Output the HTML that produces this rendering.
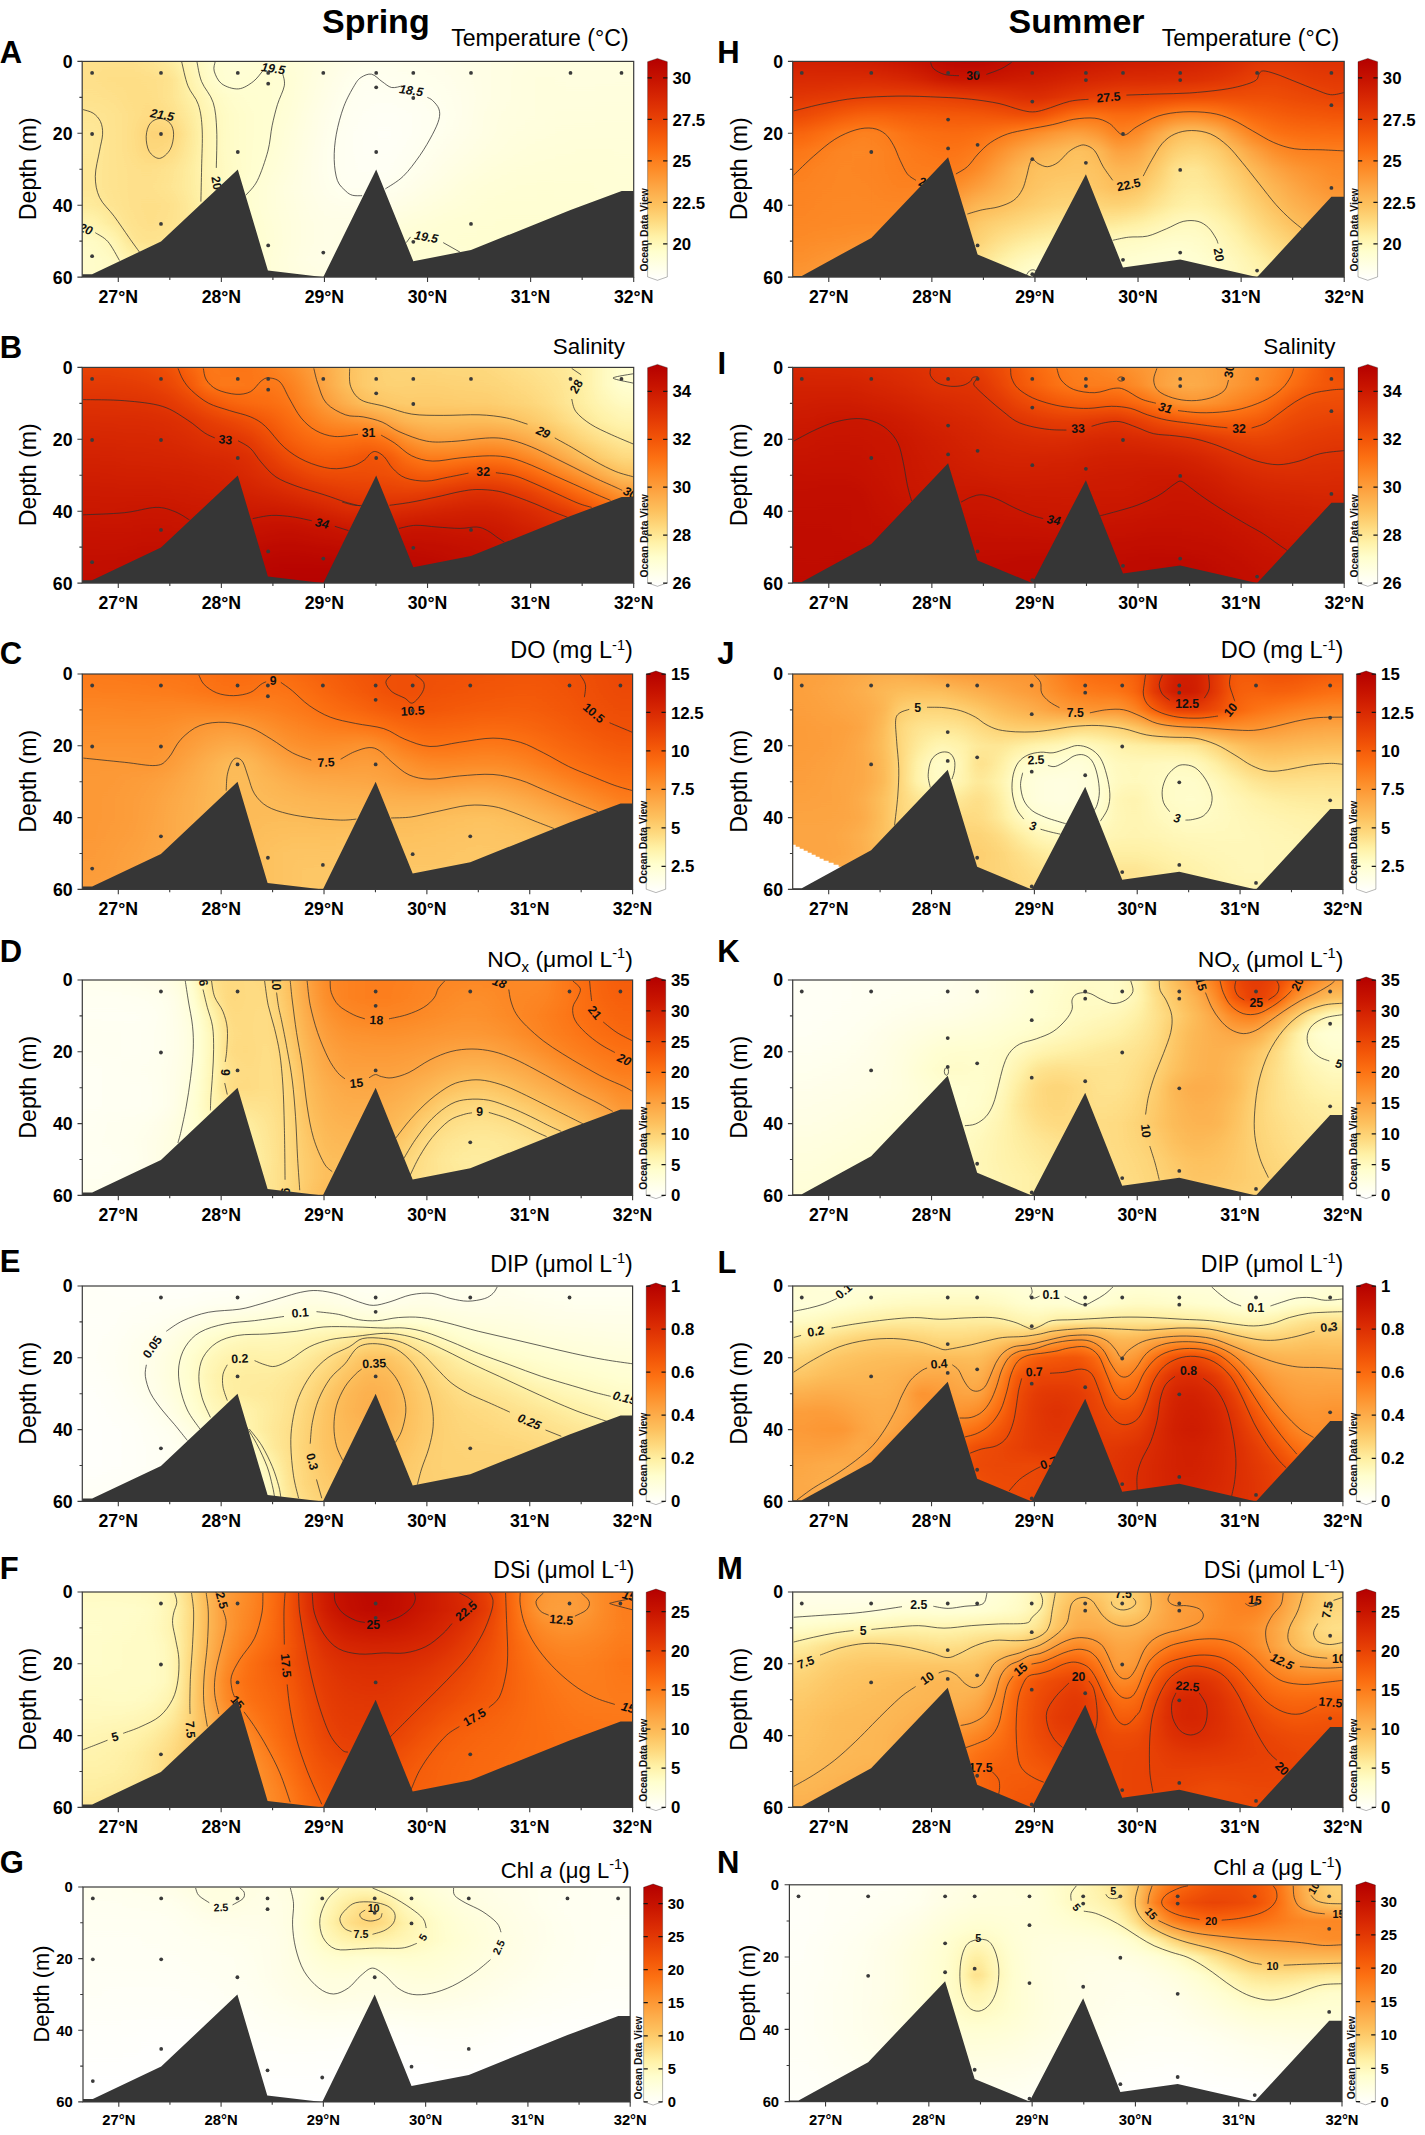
<!DOCTYPE html>
<html><head><meta charset="utf-8"><title>Spring / Summer sections</title>
<style>html,body{margin:0;padding:0;background:#fff}svg{display:block}</style></head>
<body>
<svg width="1425" height="2135" viewBox="0 0 1425 2135">
<defs>
<clipPath id="clipP"><rect x="0" y="0" width="551.5" height="215.7"/></clipPath>
<filter id="fld" x="-5%" y="-5%" width="110%" height="110%" color-interpolation-filters="sRGB">
<feGaussianBlur stdDeviation="8 0.01"/>
<feComponentTransfer><feFuncR type="table" tableValues="1.000 1.000 1.000 1.000 1.000 1.000 1.000 1.000 1.000 0.999 0.997 0.996 0.994 0.993 0.992 0.992 0.992 0.992 0.992 0.992 0.992 0.991 0.990 0.988 0.979 0.968 0.957 0.943 0.927 0.912 0.895 0.878 0.861 0.843 0.824 0.804 0.784 0.765 0.745 0.725 0.706"/><feFuncG type="table" tableValues="1.000 1.000 1.000 0.999 0.998 0.996 0.982 0.963 0.945 0.911 0.878 0.844 0.811 0.777 0.744 0.712 0.680 0.647 0.614 0.582 0.549 0.515 0.480 0.446 0.414 0.382 0.350 0.320 0.290 0.261 0.232 0.205 0.178 0.152 0.127 0.103 0.078 0.059 0.039 0.020 0.000"/><feFuncB type="table" tableValues="1.000 0.962 0.925 0.887 0.849 0.811 0.760 0.706 0.651 0.595 0.539 0.485 0.440 0.396 0.356 0.325 0.295 0.261 0.227 0.192 0.157 0.130 0.103 0.076 0.061 0.049 0.036 0.029 0.025 0.022 0.019 0.016 0.014 0.011 0.007 0.004 0.000 0.000 0.000 0.000 0.000"/></feComponentTransfer>
</filter>
<linearGradient id="cbg" x1="0" y1="0" x2="0" y2="1"><stop offset="0.000" stop-color="#b40000"/><stop offset="0.100" stop-color="#c81400"/><stop offset="0.180" stop-color="#d82803"/><stop offset="0.260" stop-color="#e63e05"/><stop offset="0.340" stop-color="#f35608"/><stop offset="0.420" stop-color="#fc7012"/><stop offset="0.500" stop-color="#fd8c28"/><stop offset="0.590" stop-color="#fdaa48"/><stop offset="0.660" stop-color="#fdc15e"/><stop offset="0.730" stop-color="#fed97e"/><stop offset="0.800" stop-color="#fff1a6"/><stop offset="0.870" stop-color="#fffecd"/><stop offset="0.940" stop-color="#ffffe8"/><stop offset="1.000" stop-color="#ffffff"/></linearGradient>
<linearGradient id="gA0" x1="0" y1="0" x2="0" y2="1"><stop offset="0" stop-color="#3f3f3f"/><stop offset=".083" stop-color="#3f3f3f"/><stop offset=".167" stop-color="#3e3e3e"/><stop offset=".25" stop-color="#3b3b3b"/><stop offset=".333" stop-color="#393939"/><stop offset=".417" stop-color="#393939"/><stop offset=".5" stop-color="#3a3a3a"/><stop offset=".583" stop-color="#3a3a3a"/><stop offset=".667" stop-color="#373737"/><stop offset=".75" stop-color="#2e2e2e"/><stop offset=".833" stop-color="#242424"/><stop offset=".917" stop-color="#222222"/><stop offset="1" stop-color="#222222"/></linearGradient>
<linearGradient id="gA1" x1="0" y1="0" x2="0" y2="1"><stop offset="0" stop-color="#3f3f3f"/><stop offset=".083" stop-color="#3f3f3f"/><stop offset=".167" stop-color="#3e3e3e"/><stop offset=".25" stop-color="#3b3b3b"/><stop offset=".333" stop-color="#393939"/><stop offset=".417" stop-color="#393939"/><stop offset=".5" stop-color="#3a3a3a"/><stop offset=".583" stop-color="#3a3a3a"/><stop offset=".667" stop-color="#373737"/><stop offset=".75" stop-color="#2e2e2e"/><stop offset=".833" stop-color="#242424"/><stop offset=".917" stop-color="#222222"/><stop offset="1" stop-color="#222222"/></linearGradient>
<linearGradient id="gA2" x1="0" y1="0" x2="0" y2="1"><stop offset="0" stop-color="#3f3f3f"/><stop offset=".083" stop-color="#3f3f3f"/><stop offset=".167" stop-color="#3e3e3e"/><stop offset=".25" stop-color="#3b3b3b"/><stop offset=".333" stop-color="#393939"/><stop offset=".417" stop-color="#393939"/><stop offset=".5" stop-color="#3a3a3a"/><stop offset=".583" stop-color="#3a3a3a"/><stop offset=".667" stop-color="#373737"/><stop offset=".75" stop-color="#2e2e2e"/><stop offset=".833" stop-color="#242424"/><stop offset=".917" stop-color="#222222"/><stop offset="1" stop-color="#222222"/></linearGradient>
<linearGradient id="gA3" x1="0" y1="0" x2="0" y2="1"><stop offset="0" stop-color="#3f3f3f"/><stop offset=".083" stop-color="#414141"/><stop offset=".167" stop-color="#3f3f3f"/><stop offset=".25" stop-color="#3d3d3d"/><stop offset=".333" stop-color="#3d3d3d"/><stop offset=".417" stop-color="#3d3d3d"/><stop offset=".5" stop-color="#3d3d3d"/><stop offset=".583" stop-color="#3d3d3d"/><stop offset=".667" stop-color="#3c3c3c"/><stop offset=".75" stop-color="#373737"/><stop offset=".833" stop-color="#2b2b2b"/><stop offset=".917" stop-color="#252525"/><stop offset="1" stop-color="#242424"/></linearGradient>
<linearGradient id="gA4" x1="0" y1="0" x2="0" y2="1"><stop offset="0" stop-color="#3f3f3f"/><stop offset=".083" stop-color="#414141"/><stop offset=".167" stop-color="#414141"/><stop offset=".25" stop-color="#404040"/><stop offset=".333" stop-color="#404040"/><stop offset=".417" stop-color="#404040"/><stop offset=".5" stop-color="#3f3f3f"/><stop offset=".583" stop-color="#3f3f3f"/><stop offset=".667" stop-color="#3f3f3f"/><stop offset=".75" stop-color="#3e3e3e"/><stop offset=".833" stop-color="#3b3b3b"/><stop offset=".917" stop-color="#303030"/><stop offset="1" stop-color="#292929"/></linearGradient>
<linearGradient id="gA5" x1="0" y1="0" x2="0" y2="1"><stop offset="0" stop-color="#3c3c3c"/><stop offset=".083" stop-color="#404040"/><stop offset=".167" stop-color="#414141"/><stop offset=".25" stop-color="#434343"/><stop offset=".333" stop-color="#494949"/><stop offset=".417" stop-color="#464646"/><stop offset=".5" stop-color="#404040"/><stop offset=".583" stop-color="#3f3f3f"/><stop offset=".667" stop-color="#404040"/><stop offset=".75" stop-color="#404040"/><stop offset=".833" stop-color="#3e3e3e"/><stop offset=".917" stop-color="#363636"/><stop offset="1" stop-color="#2c2c2c"/></linearGradient>
<linearGradient id="gA6" x1="0" y1="0" x2="0" y2="1"><stop offset="0" stop-color="#363636"/><stop offset=".083" stop-color="#3e3e3e"/><stop offset=".167" stop-color="#3d3d3d"/><stop offset=".25" stop-color="#404040"/><stop offset=".333" stop-color="#484848"/><stop offset=".417" stop-color="#434343"/><stop offset=".5" stop-color="#3d3d3d"/><stop offset=".583" stop-color="#3c3c3c"/><stop offset=".667" stop-color="#3f3f3f"/><stop offset=".75" stop-color="#3e3e3e"/><stop offset=".833" stop-color="#3b3b3b"/><stop offset=".917" stop-color="#343434"/><stop offset="1" stop-color="#2c2c2c"/></linearGradient>
<linearGradient id="gA7" x1="0" y1="0" x2="0" y2="1"><stop offset="0" stop-color="#2b2b2b"/><stop offset=".083" stop-color="#2f2f2f"/><stop offset=".167" stop-color="#333333"/><stop offset=".25" stop-color="#373737"/><stop offset=".333" stop-color="#393939"/><stop offset=".417" stop-color="#383838"/><stop offset=".5" stop-color="#363636"/><stop offset=".583" stop-color="#363636"/><stop offset=".667" stop-color="#383838"/><stop offset=".75" stop-color="#393939"/><stop offset=".833" stop-color="#353535"/><stop offset=".917" stop-color="#303030"/><stop offset="1" stop-color="#2a2a2a"/></linearGradient>
<linearGradient id="gA8" x1="0" y1="0" x2="0" y2="1"><stop offset="0" stop-color="#202020"/><stop offset=".083" stop-color="#222222"/><stop offset=".167" stop-color="#272727"/><stop offset=".25" stop-color="#2a2a2a"/><stop offset=".333" stop-color="#2b2b2b"/><stop offset=".417" stop-color="#2b2b2b"/><stop offset=".5" stop-color="#2b2b2b"/><stop offset=".583" stop-color="#2d2d2d"/><stop offset=".667" stop-color="#2e2e2e"/><stop offset=".75" stop-color="#303030"/><stop offset=".833" stop-color="#2e2e2e"/><stop offset=".917" stop-color="#2b2b2b"/><stop offset="1" stop-color="#272727"/></linearGradient>
<linearGradient id="gA9" x1="0" y1="0" x2="0" y2="1"><stop offset="0" stop-color="#1b1b1b"/><stop offset=".083" stop-color="#1c1c1c"/><stop offset=".167" stop-color="#212121"/><stop offset=".25" stop-color="#232323"/><stop offset=".333" stop-color="#232323"/><stop offset=".417" stop-color="#232323"/><stop offset=".5" stop-color="#242424"/><stop offset=".583" stop-color="#242424"/><stop offset=".667" stop-color="#262626"/><stop offset=".75" stop-color="#282828"/><stop offset=".833" stop-color="#272727"/><stop offset=".917" stop-color="#252525"/><stop offset="1" stop-color="#232323"/></linearGradient>
<linearGradient id="gA10" x1="0" y1="0" x2="0" y2="1"><stop offset="0" stop-color="#1b1b1b"/><stop offset=".083" stop-color="#1d1d1d"/><stop offset=".167" stop-color="#1f1f1f"/><stop offset=".25" stop-color="#202020"/><stop offset=".333" stop-color="#202020"/><stop offset=".417" stop-color="#202020"/><stop offset=".5" stop-color="#202020"/><stop offset=".583" stop-color="#1e1e1e"/><stop offset=".667" stop-color="#1e1e1e"/><stop offset=".75" stop-color="#202020"/><stop offset=".833" stop-color="#212121"/><stop offset=".917" stop-color="#202020"/><stop offset="1" stop-color="#1f1f1f"/></linearGradient>
<linearGradient id="gA11" x1="0" y1="0" x2="0" y2="1"><stop offset="0" stop-color="#1c1c1c"/><stop offset=".083" stop-color="#1e1e1e"/><stop offset=".167" stop-color="#1e1e1e"/><stop offset=".25" stop-color="#1e1e1e"/><stop offset=".333" stop-color="#1e1e1e"/><stop offset=".417" stop-color="#1d1d1d"/><stop offset=".5" stop-color="#1b1b1b"/><stop offset=".583" stop-color="#191919"/><stop offset=".667" stop-color="#191919"/><stop offset=".75" stop-color="#1a1a1a"/><stop offset=".833" stop-color="#1b1b1b"/><stop offset=".917" stop-color="#1a1a1a"/><stop offset="1" stop-color="#1a1a1a"/></linearGradient>
<linearGradient id="gA12" x1="0" y1="0" x2="0" y2="1"><stop offset="0" stop-color="#1a1a1a"/><stop offset=".083" stop-color="#1c1c1c"/><stop offset=".167" stop-color="#1b1b1b"/><stop offset=".25" stop-color="#1a1a1a"/><stop offset=".333" stop-color="#181818"/><stop offset=".417" stop-color="#171717"/><stop offset=".5" stop-color="#161616"/><stop offset=".583" stop-color="#141414"/><stop offset=".667" stop-color="#151515"/><stop offset=".75" stop-color="#161616"/><stop offset=".833" stop-color="#161616"/><stop offset=".917" stop-color="#151515"/><stop offset="1" stop-color="#161616"/></linearGradient>
<linearGradient id="gA13" x1="0" y1="0" x2="0" y2="1"><stop offset="0" stop-color="#171717"/><stop offset=".083" stop-color="#161616"/><stop offset=".167" stop-color="#151515"/><stop offset=".25" stop-color="#131313"/><stop offset=".333" stop-color="#121212"/><stop offset=".417" stop-color="#111111"/><stop offset=".5" stop-color="#101010"/><stop offset=".583" stop-color="#101010"/><stop offset=".667" stop-color="#111111"/><stop offset=".75" stop-color="#121212"/><stop offset=".833" stop-color="#121212"/><stop offset=".917" stop-color="#111111"/><stop offset="1" stop-color="#131313"/></linearGradient>
<linearGradient id="gA14" x1="0" y1="0" x2="0" y2="1"><stop offset="0" stop-color="#131313"/><stop offset=".083" stop-color="#111111"/><stop offset=".167" stop-color="#0f0f0f"/><stop offset=".25" stop-color="#0d0d0d"/><stop offset=".333" stop-color="#0c0c0c"/><stop offset=".417" stop-color="#0b0b0b"/><stop offset=".5" stop-color="#0b0b0b"/><stop offset=".583" stop-color="#0c0c0c"/><stop offset=".667" stop-color="#0e0e0e"/><stop offset=".75" stop-color="#101010"/><stop offset=".833" stop-color="#101010"/><stop offset=".917" stop-color="#0f0f0f"/><stop offset="1" stop-color="#121212"/></linearGradient>
<linearGradient id="gA15" x1="0" y1="0" x2="0" y2="1"><stop offset="0" stop-color="#0f0f0f"/><stop offset=".083" stop-color="#0c0c0c"/><stop offset=".167" stop-color="#0a0a0a"/><stop offset=".25" stop-color="#090909"/><stop offset=".333" stop-color="#080808"/><stop offset=".417" stop-color="#080808"/><stop offset=".5" stop-color="#080808"/><stop offset=".583" stop-color="#090909"/><stop offset=".667" stop-color="#0d0d0d"/><stop offset=".75" stop-color="#101010"/><stop offset=".833" stop-color="#121212"/><stop offset=".917" stop-color="#121212"/><stop offset="1" stop-color="#131313"/></linearGradient>
<linearGradient id="gA16" x1="0" y1="0" x2="0" y2="1"><stop offset="0" stop-color="#0d0d0d"/><stop offset=".083" stop-color="#090909"/><stop offset=".167" stop-color="#080808"/><stop offset=".25" stop-color="#070707"/><stop offset=".333" stop-color="#060606"/><stop offset=".417" stop-color="#060606"/><stop offset=".5" stop-color="#070707"/><stop offset=".583" stop-color="#090909"/><stop offset=".667" stop-color="#0d0d0d"/><stop offset=".75" stop-color="#121212"/><stop offset=".833" stop-color="#151515"/><stop offset=".917" stop-color="#151515"/><stop offset="1" stop-color="#151515"/></linearGradient>
<linearGradient id="gA17" x1="0" y1="0" x2="0" y2="1"><stop offset="0" stop-color="#0c0c0c"/><stop offset=".083" stop-color="#0a0a0a"/><stop offset=".167" stop-color="#080808"/><stop offset=".25" stop-color="#060606"/><stop offset=".333" stop-color="#050505"/><stop offset=".417" stop-color="#060606"/><stop offset=".5" stop-color="#070707"/><stop offset=".583" stop-color="#0a0a0a"/><stop offset=".667" stop-color="#0f0f0f"/><stop offset=".75" stop-color="#151515"/><stop offset=".833" stop-color="#191919"/><stop offset=".917" stop-color="#181818"/><stop offset="1" stop-color="#181818"/></linearGradient>
<linearGradient id="gA18" x1="0" y1="0" x2="0" y2="1"><stop offset="0" stop-color="#0d0d0d"/><stop offset=".083" stop-color="#0b0b0b"/><stop offset=".167" stop-color="#090909"/><stop offset=".25" stop-color="#070707"/><stop offset=".333" stop-color="#070707"/><stop offset=".417" stop-color="#080808"/><stop offset=".5" stop-color="#0a0a0a"/><stop offset=".583" stop-color="#0d0d0d"/><stop offset=".667" stop-color="#121212"/><stop offset=".75" stop-color="#181818"/><stop offset=".833" stop-color="#1d1d1d"/><stop offset=".917" stop-color="#1b1b1b"/><stop offset="1" stop-color="#1a1a1a"/></linearGradient>
<linearGradient id="gA19" x1="0" y1="0" x2="0" y2="1"><stop offset="0" stop-color="#0d0d0d"/><stop offset=".083" stop-color="#0c0c0c"/><stop offset=".167" stop-color="#0a0a0a"/><stop offset=".25" stop-color="#090909"/><stop offset=".333" stop-color="#090909"/><stop offset=".417" stop-color="#0b0b0b"/><stop offset=".5" stop-color="#0d0d0d"/><stop offset=".583" stop-color="#111111"/><stop offset=".667" stop-color="#151515"/><stop offset=".75" stop-color="#1a1a1a"/><stop offset=".833" stop-color="#1e1e1e"/><stop offset=".917" stop-color="#1d1d1d"/><stop offset="1" stop-color="#1b1b1b"/></linearGradient>
<linearGradient id="gA20" x1="0" y1="0" x2="0" y2="1"><stop offset="0" stop-color="#0e0e0e"/><stop offset=".083" stop-color="#0d0d0d"/><stop offset=".167" stop-color="#0c0c0c"/><stop offset=".25" stop-color="#0b0b0b"/><stop offset=".333" stop-color="#0c0c0c"/><stop offset=".417" stop-color="#0e0e0e"/><stop offset=".5" stop-color="#111111"/><stop offset=".583" stop-color="#141414"/><stop offset=".667" stop-color="#181818"/><stop offset=".75" stop-color="#1c1c1c"/><stop offset=".833" stop-color="#1d1d1d"/><stop offset=".917" stop-color="#1d1d1d"/><stop offset="1" stop-color="#1c1c1c"/></linearGradient>
<linearGradient id="gA21" x1="0" y1="0" x2="0" y2="1"><stop offset="0" stop-color="#101010"/><stop offset=".083" stop-color="#0f0f0f"/><stop offset=".167" stop-color="#0e0e0e"/><stop offset=".25" stop-color="#0e0e0e"/><stop offset=".333" stop-color="#0f0f0f"/><stop offset=".417" stop-color="#111111"/><stop offset=".5" stop-color="#141414"/><stop offset=".583" stop-color="#181818"/><stop offset=".667" stop-color="#1a1a1a"/><stop offset=".75" stop-color="#1d1d1d"/><stop offset=".833" stop-color="#1e1e1e"/><stop offset=".917" stop-color="#1d1d1d"/><stop offset="1" stop-color="#1d1d1d"/></linearGradient>
<linearGradient id="gA22" x1="0" y1="0" x2="0" y2="1"><stop offset="0" stop-color="#111111"/><stop offset=".083" stop-color="#111111"/><stop offset=".167" stop-color="#111111"/><stop offset=".25" stop-color="#121212"/><stop offset=".333" stop-color="#121212"/><stop offset=".417" stop-color="#141414"/><stop offset=".5" stop-color="#171717"/><stop offset=".583" stop-color="#1a1a1a"/><stop offset=".667" stop-color="#1c1c1c"/><stop offset=".75" stop-color="#1d1d1d"/><stop offset=".833" stop-color="#1e1e1e"/><stop offset=".917" stop-color="#1e1e1e"/><stop offset="1" stop-color="#1d1d1d"/></linearGradient>
<linearGradient id="gA23" x1="0" y1="0" x2="0" y2="1"><stop offset="0" stop-color="#131313"/><stop offset=".083" stop-color="#131313"/><stop offset=".167" stop-color="#131313"/><stop offset=".25" stop-color="#141414"/><stop offset=".333" stop-color="#151515"/><stop offset=".417" stop-color="#161616"/><stop offset=".5" stop-color="#191919"/><stop offset=".583" stop-color="#1b1b1b"/><stop offset=".667" stop-color="#1d1d1d"/><stop offset=".75" stop-color="#1e1e1e"/><stop offset=".833" stop-color="#1e1e1e"/><stop offset=".917" stop-color="#1e1e1e"/><stop offset="1" stop-color="#1d1d1d"/></linearGradient>
<linearGradient id="gA24" x1="0" y1="0" x2="0" y2="1"><stop offset="0" stop-color="#141414"/><stop offset=".083" stop-color="#151515"/><stop offset=".167" stop-color="#151515"/><stop offset=".25" stop-color="#151515"/><stop offset=".333" stop-color="#161616"/><stop offset=".417" stop-color="#181818"/><stop offset=".5" stop-color="#1a1a1a"/><stop offset=".583" stop-color="#1c1c1c"/><stop offset=".667" stop-color="#1d1d1d"/><stop offset=".75" stop-color="#1e1e1e"/><stop offset=".833" stop-color="#1e1e1e"/><stop offset=".917" stop-color="#1e1e1e"/><stop offset="1" stop-color="#1d1d1d"/></linearGradient>
<linearGradient id="gA25" x1="0" y1="0" x2="0" y2="1"><stop offset="0" stop-color="#141414"/><stop offset=".083" stop-color="#161616"/><stop offset=".167" stop-color="#161616"/><stop offset=".25" stop-color="#161616"/><stop offset=".333" stop-color="#171717"/><stop offset=".417" stop-color="#191919"/><stop offset=".5" stop-color="#1a1a1a"/><stop offset=".583" stop-color="#1c1c1c"/><stop offset=".667" stop-color="#1d1d1d"/><stop offset=".75" stop-color="#1e1e1e"/><stop offset=".833" stop-color="#1e1e1e"/><stop offset=".917" stop-color="#1e1e1e"/><stop offset="1" stop-color="#1d1d1d"/></linearGradient>
<linearGradient id="gA26" x1="0" y1="0" x2="0" y2="1"><stop offset="0" stop-color="#151515"/><stop offset=".083" stop-color="#151515"/><stop offset=".167" stop-color="#161616"/><stop offset=".25" stop-color="#171717"/><stop offset=".333" stop-color="#181818"/><stop offset=".417" stop-color="#191919"/><stop offset=".5" stop-color="#1b1b1b"/><stop offset=".583" stop-color="#1c1c1c"/><stop offset=".667" stop-color="#1d1d1d"/><stop offset=".75" stop-color="#1d1d1d"/><stop offset=".833" stop-color="#1d1d1d"/><stop offset=".917" stop-color="#1d1d1d"/><stop offset="1" stop-color="#1d1d1d"/></linearGradient>
<linearGradient id="gA27" x1="0" y1="0" x2="0" y2="1"><stop offset="0" stop-color="#141414"/><stop offset=".083" stop-color="#151515"/><stop offset=".167" stop-color="#161616"/><stop offset=".25" stop-color="#171717"/><stop offset=".333" stop-color="#181818"/><stop offset=".417" stop-color="#1a1a1a"/><stop offset=".5" stop-color="#1b1b1b"/><stop offset=".583" stop-color="#1c1c1c"/><stop offset=".667" stop-color="#1c1c1c"/><stop offset=".75" stop-color="#1d1d1d"/><stop offset=".833" stop-color="#1d1d1d"/><stop offset=".917" stop-color="#1d1d1d"/><stop offset="1" stop-color="#1d1d1d"/></linearGradient>
<linearGradient id="gA28" x1="0" y1="0" x2="0" y2="1"><stop offset="0" stop-color="#141414"/><stop offset=".083" stop-color="#151515"/><stop offset=".167" stop-color="#161616"/><stop offset=".25" stop-color="#171717"/><stop offset=".333" stop-color="#181818"/><stop offset=".417" stop-color="#1a1a1a"/><stop offset=".5" stop-color="#1b1b1b"/><stop offset=".583" stop-color="#1b1b1b"/><stop offset=".667" stop-color="#1c1c1c"/><stop offset=".75" stop-color="#1d1d1d"/><stop offset=".833" stop-color="#1d1d1d"/><stop offset=".917" stop-color="#1d1d1d"/><stop offset="1" stop-color="#1d1d1d"/></linearGradient>
<linearGradient id="gA29" x1="0" y1="0" x2="0" y2="1"><stop offset="0" stop-color="#141414"/><stop offset=".083" stop-color="#151515"/><stop offset=".167" stop-color="#161616"/><stop offset=".25" stop-color="#171717"/><stop offset=".333" stop-color="#181818"/><stop offset=".417" stop-color="#191919"/><stop offset=".5" stop-color="#1a1a1a"/><stop offset=".583" stop-color="#1b1b1b"/><stop offset=".667" stop-color="#1c1c1c"/><stop offset=".75" stop-color="#1c1c1c"/><stop offset=".833" stop-color="#1c1c1c"/><stop offset=".917" stop-color="#1d1d1d"/><stop offset="1" stop-color="#1c1c1c"/></linearGradient>
<linearGradient id="gA30" x1="0" y1="0" x2="0" y2="1"><stop offset="0" stop-color="#141414"/><stop offset=".083" stop-color="#151515"/><stop offset=".167" stop-color="#161616"/><stop offset=".25" stop-color="#171717"/><stop offset=".333" stop-color="#181818"/><stop offset=".417" stop-color="#191919"/><stop offset=".5" stop-color="#1a1a1a"/><stop offset=".583" stop-color="#1b1b1b"/><stop offset=".667" stop-color="#1c1c1c"/><stop offset=".75" stop-color="#1c1c1c"/><stop offset=".833" stop-color="#1c1c1c"/><stop offset=".917" stop-color="#1d1d1d"/><stop offset="1" stop-color="#1c1c1c"/></linearGradient>
<linearGradient id="gA31" x1="0" y1="0" x2="0" y2="1"><stop offset="0" stop-color="#141414"/><stop offset=".083" stop-color="#151515"/><stop offset=".167" stop-color="#161616"/><stop offset=".25" stop-color="#171717"/><stop offset=".333" stop-color="#181818"/><stop offset=".417" stop-color="#191919"/><stop offset=".5" stop-color="#1a1a1a"/><stop offset=".583" stop-color="#1b1b1b"/><stop offset=".667" stop-color="#1c1c1c"/><stop offset=".75" stop-color="#1c1c1c"/><stop offset=".833" stop-color="#1c1c1c"/><stop offset=".917" stop-color="#1d1d1d"/><stop offset="1" stop-color="#1c1c1c"/></linearGradient>
<linearGradient id="gB0" x1="0" y1="0" x2="0" y2="1"><stop offset="0" stop-color="#b8b8b8"/><stop offset=".083" stop-color="#c0c0c0"/><stop offset=".167" stop-color="#c8c8c8"/><stop offset=".25" stop-color="#cecece"/><stop offset=".333" stop-color="#d3d3d3"/><stop offset=".417" stop-color="#d7d7d7"/><stop offset=".5" stop-color="#dbdbdb"/><stop offset=".583" stop-color="#dfdfdf"/><stop offset=".667" stop-color="#e2e2e2"/><stop offset=".75" stop-color="#e6e6e6"/><stop offset=".833" stop-color="#e9e9e9"/><stop offset=".917" stop-color="#ececec"/><stop offset="1" stop-color="#efefef"/></linearGradient>
<linearGradient id="gB1" x1="0" y1="0" x2="0" y2="1"><stop offset="0" stop-color="#b8b8b8"/><stop offset=".083" stop-color="#c0c0c0"/><stop offset=".167" stop-color="#c8c8c8"/><stop offset=".25" stop-color="#cecece"/><stop offset=".333" stop-color="#d3d3d3"/><stop offset=".417" stop-color="#d7d7d7"/><stop offset=".5" stop-color="#dbdbdb"/><stop offset=".583" stop-color="#dfdfdf"/><stop offset=".667" stop-color="#e2e2e2"/><stop offset=".75" stop-color="#e6e6e6"/><stop offset=".833" stop-color="#e9e9e9"/><stop offset=".917" stop-color="#ececec"/><stop offset="1" stop-color="#efefef"/></linearGradient>
<linearGradient id="gB2" x1="0" y1="0" x2="0" y2="1"><stop offset="0" stop-color="#b8b8b8"/><stop offset=".083" stop-color="#c0c0c0"/><stop offset=".167" stop-color="#c8c8c8"/><stop offset=".25" stop-color="#cecece"/><stop offset=".333" stop-color="#d3d3d3"/><stop offset=".417" stop-color="#d7d7d7"/><stop offset=".5" stop-color="#dbdbdb"/><stop offset=".583" stop-color="#dfdfdf"/><stop offset=".667" stop-color="#e2e2e2"/><stop offset=".75" stop-color="#e6e6e6"/><stop offset=".833" stop-color="#e9e9e9"/><stop offset=".917" stop-color="#ececec"/><stop offset="1" stop-color="#efefef"/></linearGradient>
<linearGradient id="gB3" x1="0" y1="0" x2="0" y2="1"><stop offset="0" stop-color="#b8b8b8"/><stop offset=".083" stop-color="#c0c0c0"/><stop offset=".167" stop-color="#c8c8c8"/><stop offset=".25" stop-color="#cecece"/><stop offset=".333" stop-color="#d3d3d3"/><stop offset=".417" stop-color="#d7d7d7"/><stop offset=".5" stop-color="#dbdbdb"/><stop offset=".583" stop-color="#dfdfdf"/><stop offset=".667" stop-color="#e2e2e2"/><stop offset=".75" stop-color="#e6e6e6"/><stop offset=".833" stop-color="#e9e9e9"/><stop offset=".917" stop-color="#ededed"/><stop offset="1" stop-color="#f0f0f0"/></linearGradient>
<linearGradient id="gB4" x1="0" y1="0" x2="0" y2="1"><stop offset="0" stop-color="#b6b6b6"/><stop offset=".083" stop-color="#bfbfbf"/><stop offset=".167" stop-color="#c7c7c7"/><stop offset=".25" stop-color="#cecece"/><stop offset=".333" stop-color="#d2d2d2"/><stop offset=".417" stop-color="#d6d6d6"/><stop offset=".5" stop-color="#dadada"/><stop offset=".583" stop-color="#dfdfdf"/><stop offset=".667" stop-color="#e3e3e3"/><stop offset=".75" stop-color="#e6e6e6"/><stop offset=".833" stop-color="#eaeaea"/><stop offset=".917" stop-color="#eeeeee"/><stop offset="1" stop-color="#f1f1f1"/></linearGradient>
<linearGradient id="gB5" x1="0" y1="0" x2="0" y2="1"><stop offset="0" stop-color="#b3b3b3"/><stop offset=".083" stop-color="#bcbcbc"/><stop offset=".167" stop-color="#c6c6c6"/><stop offset=".25" stop-color="#cdcdcd"/><stop offset=".333" stop-color="#d2d2d2"/><stop offset=".417" stop-color="#d5d5d5"/><stop offset=".5" stop-color="#dadada"/><stop offset=".583" stop-color="#dfdfdf"/><stop offset=".667" stop-color="#e3e3e3"/><stop offset=".75" stop-color="#e7e7e7"/><stop offset=".833" stop-color="#ebebeb"/><stop offset=".917" stop-color="#efefef"/><stop offset="1" stop-color="#f2f2f2"/></linearGradient>
<linearGradient id="gB6" x1="0" y1="0" x2="0" y2="1"><stop offset="0" stop-color="#acacac"/><stop offset=".083" stop-color="#b5b5b5"/><stop offset=".167" stop-color="#c1c1c1"/><stop offset=".25" stop-color="#cbcbcb"/><stop offset=".333" stop-color="#d0d0d0"/><stop offset=".417" stop-color="#d5d5d5"/><stop offset=".5" stop-color="#d9d9d9"/><stop offset=".583" stop-color="#dedede"/><stop offset=".667" stop-color="#e3e3e3"/><stop offset=".75" stop-color="#e6e6e6"/><stop offset=".833" stop-color="#ebebeb"/><stop offset=".917" stop-color="#f0f0f0"/><stop offset="1" stop-color="#f4f4f4"/></linearGradient>
<linearGradient id="gB7" x1="0" y1="0" x2="0" y2="1"><stop offset="0" stop-color="#9c9c9c"/><stop offset=".083" stop-color="#a6a6a6"/><stop offset=".167" stop-color="#b7b7b7"/><stop offset=".25" stop-color="#c6c6c6"/><stop offset=".333" stop-color="#cdcdcd"/><stop offset=".417" stop-color="#d3d3d3"/><stop offset=".5" stop-color="#d9d9d9"/><stop offset=".583" stop-color="#dddddd"/><stop offset=".667" stop-color="#e1e1e1"/><stop offset=".75" stop-color="#e6e6e6"/><stop offset=".833" stop-color="#ececec"/><stop offset=".917" stop-color="#f1f1f1"/><stop offset="1" stop-color="#f5f5f5"/></linearGradient>
<linearGradient id="gB8" x1="0" y1="0" x2="0" y2="1"><stop offset="0" stop-color="#8d8d8d"/><stop offset=".083" stop-color="#909090"/><stop offset=".167" stop-color="#aaaaaa"/><stop offset=".25" stop-color="#bdbdbd"/><stop offset=".333" stop-color="#c8c8c8"/><stop offset=".417" stop-color="#d1d1d1"/><stop offset=".5" stop-color="#d7d7d7"/><stop offset=".583" stop-color="#dcdcdc"/><stop offset=".667" stop-color="#e1e1e1"/><stop offset=".75" stop-color="#e7e7e7"/><stop offset=".833" stop-color="#ededed"/><stop offset=".917" stop-color="#f2f2f2"/><stop offset="1" stop-color="#f6f6f6"/></linearGradient>
<linearGradient id="gB9" x1="0" y1="0" x2="0" y2="1"><stop offset="0" stop-color="#909090"/><stop offset=".083" stop-color="#8d8d8d"/><stop offset=".167" stop-color="#9e9e9e"/><stop offset=".25" stop-color="#b6b6b6"/><stop offset=".333" stop-color="#c6c6c6"/><stop offset=".417" stop-color="#cfcfcf"/><stop offset=".5" stop-color="#d5d5d5"/><stop offset=".583" stop-color="#dadada"/><stop offset=".667" stop-color="#e1e1e1"/><stop offset=".75" stop-color="#e7e7e7"/><stop offset=".833" stop-color="#eeeeee"/><stop offset=".917" stop-color="#f3f3f3"/><stop offset="1" stop-color="#f8f8f8"/></linearGradient>
<linearGradient id="gB10" x1="0" y1="0" x2="0" y2="1"><stop offset="0" stop-color="#909090"/><stop offset=".083" stop-color="#8f8f8f"/><stop offset=".167" stop-color="#999999"/><stop offset=".25" stop-color="#aeaeae"/><stop offset=".333" stop-color="#bfbfbf"/><stop offset=".417" stop-color="#cacaca"/><stop offset=".5" stop-color="#d0d0d0"/><stop offset=".583" stop-color="#d8d8d8"/><stop offset=".667" stop-color="#e0e0e0"/><stop offset=".75" stop-color="#e8e8e8"/><stop offset=".833" stop-color="#efefef"/><stop offset=".917" stop-color="#f5f5f5"/><stop offset="1" stop-color="#f9f9f9"/></linearGradient>
<linearGradient id="gB11" x1="0" y1="0" x2="0" y2="1"><stop offset="0" stop-color="#898989"/><stop offset=".083" stop-color="#8f8f8f"/><stop offset=".167" stop-color="#969696"/><stop offset=".25" stop-color="#a4a4a4"/><stop offset=".333" stop-color="#b0b0b0"/><stop offset=".417" stop-color="#bebebe"/><stop offset=".5" stop-color="#c9c9c9"/><stop offset=".583" stop-color="#d4d4d4"/><stop offset=".667" stop-color="#e0e0e0"/><stop offset=".75" stop-color="#e9e9e9"/><stop offset=".833" stop-color="#f1f1f1"/><stop offset=".917" stop-color="#f7f7f7"/><stop offset="1" stop-color="#fafafa"/></linearGradient>
<linearGradient id="gB12" x1="0" y1="0" x2="0" y2="1"><stop offset="0" stop-color="#808080"/><stop offset=".083" stop-color="#898989"/><stop offset=".167" stop-color="#8f8f8f"/><stop offset=".25" stop-color="#989898"/><stop offset=".333" stop-color="#a2a2a2"/><stop offset=".417" stop-color="#b0b0b0"/><stop offset=".5" stop-color="#c0c0c0"/><stop offset=".583" stop-color="#cfcfcf"/><stop offset=".667" stop-color="#dedede"/><stop offset=".75" stop-color="#eaeaea"/><stop offset=".833" stop-color="#f2f2f2"/><stop offset=".917" stop-color="#f8f8f8"/><stop offset="1" stop-color="#fbfbfb"/></linearGradient>
<linearGradient id="gB13" x1="0" y1="0" x2="0" y2="1"><stop offset="0" stop-color="#747474"/><stop offset=".083" stop-color="#7a7a7a"/><stop offset=".167" stop-color="#818181"/><stop offset=".25" stop-color="#8c8c8c"/><stop offset=".333" stop-color="#999999"/><stop offset=".417" stop-color="#a6a6a6"/><stop offset=".5" stop-color="#b7b7b7"/><stop offset=".583" stop-color="#c9c9c9"/><stop offset=".667" stop-color="#dbdbdb"/><stop offset=".75" stop-color="#e8e8e8"/><stop offset=".833" stop-color="#f1f1f1"/><stop offset=".917" stop-color="#f8f8f8"/><stop offset="1" stop-color="#fcfcfc"/></linearGradient>
<linearGradient id="gB14" x1="0" y1="0" x2="0" y2="1"><stop offset="0" stop-color="#656565"/><stop offset=".083" stop-color="#686868"/><stop offset=".167" stop-color="#717171"/><stop offset=".25" stop-color="#818181"/><stop offset=".333" stop-color="#939393"/><stop offset=".417" stop-color="#a3a3a3"/><stop offset=".5" stop-color="#b2b2b2"/><stop offset=".583" stop-color="#c4c4c4"/><stop offset=".667" stop-color="#d5d5d5"/><stop offset=".75" stop-color="#e6e6e6"/><stop offset=".833" stop-color="#f0f0f0"/><stop offset=".917" stop-color="#f8f8f8"/><stop offset="1" stop-color="#fcfcfc"/></linearGradient>
<linearGradient id="gB15" x1="0" y1="0" x2="0" y2="1"><stop offset="0" stop-color="#565656"/><stop offset=".083" stop-color="#575757"/><stop offset=".167" stop-color="#636363"/><stop offset=".25" stop-color="#7b7b7b"/><stop offset=".333" stop-color="#939393"/><stop offset=".417" stop-color="#a5a5a5"/><stop offset=".5" stop-color="#b1b1b1"/><stop offset=".583" stop-color="#bfbfbf"/><stop offset=".667" stop-color="#cfcfcf"/><stop offset=".75" stop-color="#e2e2e2"/><stop offset=".833" stop-color="#eeeeee"/><stop offset=".917" stop-color="#f6f6f6"/><stop offset="1" stop-color="#fbfbfb"/></linearGradient>
<linearGradient id="gB16" x1="0" y1="0" x2="0" y2="1"><stop offset="0" stop-color="#4e4e4e"/><stop offset=".083" stop-color="#4e4e4e"/><stop offset=".167" stop-color="#575757"/><stop offset=".25" stop-color="#777777"/><stop offset=".333" stop-color="#969696"/><stop offset=".417" stop-color="#aaaaaa"/><stop offset=".5" stop-color="#b1b1b1"/><stop offset=".583" stop-color="#bdbdbd"/><stop offset=".667" stop-color="#cdcdcd"/><stop offset=".75" stop-color="#e0e0e0"/><stop offset=".833" stop-color="#ededed"/><stop offset=".917" stop-color="#f5f5f5"/><stop offset="1" stop-color="#fafafa"/></linearGradient>
<linearGradient id="gB17" x1="0" y1="0" x2="0" y2="1"><stop offset="0" stop-color="#494949"/><stop offset=".083" stop-color="#4a4a4a"/><stop offset=".167" stop-color="#525252"/><stop offset=".25" stop-color="#6b6b6b"/><stop offset=".333" stop-color="#8e8e8e"/><stop offset=".417" stop-color="#a7a7a7"/><stop offset=".5" stop-color="#afafaf"/><stop offset=".583" stop-color="#bcbcbc"/><stop offset=".667" stop-color="#cecece"/><stop offset=".75" stop-color="#e1e1e1"/><stop offset=".833" stop-color="#ededed"/><stop offset=".917" stop-color="#f5f5f5"/><stop offset="1" stop-color="#f9f9f9"/></linearGradient>
<linearGradient id="gB18" x1="0" y1="0" x2="0" y2="1"><stop offset="0" stop-color="#484848"/><stop offset=".083" stop-color="#4a4a4a"/><stop offset=".167" stop-color="#4f4f4f"/><stop offset=".25" stop-color="#5f5f5f"/><stop offset=".333" stop-color="#7a7a7a"/><stop offset=".417" stop-color="#949494"/><stop offset=".5" stop-color="#a8a8a8"/><stop offset=".583" stop-color="#bbbbbb"/><stop offset=".667" stop-color="#d1d1d1"/><stop offset=".75" stop-color="#e4e4e4"/><stop offset=".833" stop-color="#eeeeee"/><stop offset=".917" stop-color="#f4f4f4"/><stop offset="1" stop-color="#f8f8f8"/></linearGradient>
<linearGradient id="gB19" x1="0" y1="0" x2="0" y2="1"><stop offset="0" stop-color="#474747"/><stop offset=".083" stop-color="#4b4b4b"/><stop offset=".167" stop-color="#4f4f4f"/><stop offset=".25" stop-color="#5b5b5b"/><stop offset=".333" stop-color="#6f6f6f"/><stop offset=".417" stop-color="#8a8a8a"/><stop offset=".5" stop-color="#a3a3a3"/><stop offset=".583" stop-color="#bebebe"/><stop offset=".667" stop-color="#d4d4d4"/><stop offset=".75" stop-color="#e5e5e5"/><stop offset=".833" stop-color="#ededed"/><stop offset=".917" stop-color="#f3f3f3"/><stop offset="1" stop-color="#f6f6f6"/></linearGradient>
<linearGradient id="gB20" x1="0" y1="0" x2="0" y2="1"><stop offset="0" stop-color="#464646"/><stop offset=".083" stop-color="#4a4a4a"/><stop offset=".167" stop-color="#4f4f4f"/><stop offset=".25" stop-color="#5a5a5a"/><stop offset=".333" stop-color="#6e6e6e"/><stop offset=".417" stop-color="#8a8a8a"/><stop offset=".5" stop-color="#a7a7a7"/><stop offset=".583" stop-color="#c4c4c4"/><stop offset=".667" stop-color="#d7d7d7"/><stop offset=".75" stop-color="#e4e4e4"/><stop offset=".833" stop-color="#ececec"/><stop offset=".917" stop-color="#f1f1f1"/><stop offset="1" stop-color="#f4f4f4"/></linearGradient>
<linearGradient id="gB21" x1="0" y1="0" x2="0" y2="1"><stop offset="0" stop-color="#464646"/><stop offset=".083" stop-color="#494949"/><stop offset=".167" stop-color="#4e4e4e"/><stop offset=".25" stop-color="#5b5b5b"/><stop offset=".333" stop-color="#707070"/><stop offset=".417" stop-color="#8d8d8d"/><stop offset=".5" stop-color="#adadad"/><stop offset=".583" stop-color="#c9c9c9"/><stop offset=".667" stop-color="#d9d9d9"/><stop offset=".75" stop-color="#e3e3e3"/><stop offset=".833" stop-color="#eaeaea"/><stop offset=".917" stop-color="#efefef"/><stop offset="1" stop-color="#f1f1f1"/></linearGradient>
<linearGradient id="gB22" x1="0" y1="0" x2="0" y2="1"><stop offset="0" stop-color="#454545"/><stop offset=".083" stop-color="#484848"/><stop offset=".167" stop-color="#4e4e4e"/><stop offset=".25" stop-color="#5b5b5b"/><stop offset=".333" stop-color="#737373"/><stop offset=".417" stop-color="#909090"/><stop offset=".5" stop-color="#afafaf"/><stop offset=".583" stop-color="#cacaca"/><stop offset=".667" stop-color="#d9d9d9"/><stop offset=".75" stop-color="#e2e2e2"/><stop offset=".833" stop-color="#e8e8e8"/><stop offset=".917" stop-color="#ebebeb"/><stop offset="1" stop-color="#eeeeee"/></linearGradient>
<linearGradient id="gB23" x1="0" y1="0" x2="0" y2="1"><stop offset="0" stop-color="#424242"/><stop offset=".083" stop-color="#464646"/><stop offset=".167" stop-color="#4b4b4b"/><stop offset=".25" stop-color="#585858"/><stop offset=".333" stop-color="#717171"/><stop offset=".417" stop-color="#8e8e8e"/><stop offset=".5" stop-color="#acacac"/><stop offset=".583" stop-color="#c6c6c6"/><stop offset=".667" stop-color="#d6d6d6"/><stop offset=".75" stop-color="#dfdfdf"/><stop offset=".833" stop-color="#e4e4e4"/><stop offset=".917" stop-color="#e8e8e8"/><stop offset="1" stop-color="#eaeaea"/></linearGradient>
<linearGradient id="gB24" x1="0" y1="0" x2="0" y2="1"><stop offset="0" stop-color="#3f3f3f"/><stop offset=".083" stop-color="#434343"/><stop offset=".167" stop-color="#484848"/><stop offset=".25" stop-color="#535353"/><stop offset=".333" stop-color="#696969"/><stop offset=".417" stop-color="#848484"/><stop offset=".5" stop-color="#a2a2a2"/><stop offset=".583" stop-color="#bebebe"/><stop offset=".667" stop-color="#d0d0d0"/><stop offset=".75" stop-color="#dadada"/><stop offset=".833" stop-color="#dfdfdf"/><stop offset=".917" stop-color="#e3e3e3"/><stop offset="1" stop-color="#e5e5e5"/></linearGradient>
<linearGradient id="gB25" x1="0" y1="0" x2="0" y2="1"><stop offset="0" stop-color="#3c3c3c"/><stop offset=".083" stop-color="#3f3f3f"/><stop offset=".167" stop-color="#434343"/><stop offset=".25" stop-color="#4c4c4c"/><stop offset=".333" stop-color="#5d5d5d"/><stop offset=".417" stop-color="#777777"/><stop offset=".5" stop-color="#949494"/><stop offset=".583" stop-color="#b2b2b2"/><stop offset=".667" stop-color="#c9c9c9"/><stop offset=".75" stop-color="#d5d5d5"/><stop offset=".833" stop-color="#dadada"/><stop offset=".917" stop-color="#dddddd"/><stop offset="1" stop-color="#e0e0e0"/></linearGradient>
<linearGradient id="gB26" x1="0" y1="0" x2="0" y2="1"><stop offset="0" stop-color="#393939"/><stop offset=".083" stop-color="#3b3b3b"/><stop offset=".167" stop-color="#3c3c3c"/><stop offset=".25" stop-color="#434343"/><stop offset=".333" stop-color="#515151"/><stop offset=".417" stop-color="#686868"/><stop offset=".5" stop-color="#858585"/><stop offset=".583" stop-color="#a4a4a4"/><stop offset=".667" stop-color="#c0c0c0"/><stop offset=".75" stop-color="#cdcdcd"/><stop offset=".833" stop-color="#d2d2d2"/><stop offset=".917" stop-color="#d6d6d6"/><stop offset="1" stop-color="#d9d9d9"/></linearGradient>
<linearGradient id="gB27" x1="0" y1="0" x2="0" y2="1"><stop offset="0" stop-color="#333333"/><stop offset=".083" stop-color="#333333"/><stop offset=".167" stop-color="#343434"/><stop offset=".25" stop-color="#3a3a3a"/><stop offset=".333" stop-color="#464646"/><stop offset=".417" stop-color="#585858"/><stop offset=".5" stop-color="#767676"/><stop offset=".583" stop-color="#959595"/><stop offset=".667" stop-color="#b3b3b3"/><stop offset=".75" stop-color="#c1c1c1"/><stop offset=".833" stop-color="#c8c8c8"/><stop offset=".917" stop-color="#cecece"/><stop offset="1" stop-color="#d2d2d2"/></linearGradient>
<linearGradient id="gB28" x1="0" y1="0" x2="0" y2="1"><stop offset="0" stop-color="#272727"/><stop offset=".083" stop-color="#272727"/><stop offset=".167" stop-color="#2c2c2c"/><stop offset=".25" stop-color="#333333"/><stop offset=".333" stop-color="#3e3e3e"/><stop offset=".417" stop-color="#4c4c4c"/><stop offset=".5" stop-color="#656565"/><stop offset=".583" stop-color="#858585"/><stop offset=".667" stop-color="#a3a3a3"/><stop offset=".75" stop-color="#b4b4b4"/><stop offset=".833" stop-color="#bebebe"/><stop offset=".917" stop-color="#c5c5c5"/><stop offset="1" stop-color="#cacaca"/></linearGradient>
<linearGradient id="gB29" x1="0" y1="0" x2="0" y2="1"><stop offset="0" stop-color="#1e1e1e"/><stop offset=".083" stop-color="#1e1e1e"/><stop offset=".167" stop-color="#262626"/><stop offset=".25" stop-color="#2e2e2e"/><stop offset=".333" stop-color="#383838"/><stop offset=".417" stop-color="#444444"/><stop offset=".5" stop-color="#575757"/><stop offset=".583" stop-color="#767676"/><stop offset=".667" stop-color="#939393"/><stop offset=".75" stop-color="#a6a6a6"/><stop offset=".833" stop-color="#b3b3b3"/><stop offset=".917" stop-color="#bbbbbb"/><stop offset="1" stop-color="#c2c2c2"/></linearGradient>
<linearGradient id="gB30" x1="0" y1="0" x2="0" y2="1"><stop offset="0" stop-color="#1e1e1e"/><stop offset=".083" stop-color="#1e1e1e"/><stop offset=".167" stop-color="#262626"/><stop offset=".25" stop-color="#2e2e2e"/><stop offset=".333" stop-color="#383838"/><stop offset=".417" stop-color="#444444"/><stop offset=".5" stop-color="#575757"/><stop offset=".583" stop-color="#767676"/><stop offset=".667" stop-color="#939393"/><stop offset=".75" stop-color="#a6a6a6"/><stop offset=".833" stop-color="#b3b3b3"/><stop offset=".917" stop-color="#bbbbbb"/><stop offset="1" stop-color="#c2c2c2"/></linearGradient>
<linearGradient id="gB31" x1="0" y1="0" x2="0" y2="1"><stop offset="0" stop-color="#1e1e1e"/><stop offset=".083" stop-color="#1e1e1e"/><stop offset=".167" stop-color="#262626"/><stop offset=".25" stop-color="#2e2e2e"/><stop offset=".333" stop-color="#383838"/><stop offset=".417" stop-color="#444444"/><stop offset=".5" stop-color="#575757"/><stop offset=".583" stop-color="#767676"/><stop offset=".667" stop-color="#939393"/><stop offset=".75" stop-color="#a6a6a6"/><stop offset=".833" stop-color="#b3b3b3"/><stop offset=".917" stop-color="#bbbbbb"/><stop offset="1" stop-color="#c2c2c2"/></linearGradient>
<linearGradient id="gC0" x1="0" y1="0" x2="0" y2="1"><stop offset="0" stop-color="#8d8d8d"/><stop offset=".083" stop-color="#888888"/><stop offset=".167" stop-color="#838383"/><stop offset=".25" stop-color="#7e7e7e"/><stop offset=".333" stop-color="#7a7a7a"/><stop offset=".417" stop-color="#767676"/><stop offset=".5" stop-color="#757575"/><stop offset=".583" stop-color="#757575"/><stop offset=".667" stop-color="#757575"/><stop offset=".75" stop-color="#757575"/><stop offset=".833" stop-color="#747474"/><stop offset=".917" stop-color="#737373"/><stop offset="1" stop-color="#717171"/></linearGradient>
<linearGradient id="gC1" x1="0" y1="0" x2="0" y2="1"><stop offset="0" stop-color="#8d8d8d"/><stop offset=".083" stop-color="#888888"/><stop offset=".167" stop-color="#838383"/><stop offset=".25" stop-color="#7e7e7e"/><stop offset=".333" stop-color="#7a7a7a"/><stop offset=".417" stop-color="#767676"/><stop offset=".5" stop-color="#757575"/><stop offset=".583" stop-color="#757575"/><stop offset=".667" stop-color="#757575"/><stop offset=".75" stop-color="#757575"/><stop offset=".833" stop-color="#747474"/><stop offset=".917" stop-color="#737373"/><stop offset="1" stop-color="#717171"/></linearGradient>
<linearGradient id="gC2" x1="0" y1="0" x2="0" y2="1"><stop offset="0" stop-color="#8d8d8d"/><stop offset=".083" stop-color="#888888"/><stop offset=".167" stop-color="#838383"/><stop offset=".25" stop-color="#7e7e7e"/><stop offset=".333" stop-color="#7a7a7a"/><stop offset=".417" stop-color="#767676"/><stop offset=".5" stop-color="#757575"/><stop offset=".583" stop-color="#757575"/><stop offset=".667" stop-color="#757575"/><stop offset=".75" stop-color="#757575"/><stop offset=".833" stop-color="#747474"/><stop offset=".917" stop-color="#737373"/><stop offset="1" stop-color="#717171"/></linearGradient>
<linearGradient id="gC3" x1="0" y1="0" x2="0" y2="1"><stop offset="0" stop-color="#8d8d8d"/><stop offset=".083" stop-color="#898989"/><stop offset=".167" stop-color="#838383"/><stop offset=".25" stop-color="#7e7e7e"/><stop offset=".333" stop-color="#7a7a7a"/><stop offset=".417" stop-color="#767676"/><stop offset=".5" stop-color="#757575"/><stop offset=".583" stop-color="#747474"/><stop offset=".667" stop-color="#747474"/><stop offset=".75" stop-color="#737373"/><stop offset=".833" stop-color="#727272"/><stop offset=".917" stop-color="#717171"/><stop offset="1" stop-color="#6f6f6f"/></linearGradient>
<linearGradient id="gC4" x1="0" y1="0" x2="0" y2="1"><stop offset="0" stop-color="#8e8e8e"/><stop offset=".083" stop-color="#898989"/><stop offset=".167" stop-color="#848484"/><stop offset=".25" stop-color="#7e7e7e"/><stop offset=".333" stop-color="#7a7a7a"/><stop offset=".417" stop-color="#767676"/><stop offset=".5" stop-color="#737373"/><stop offset=".583" stop-color="#727272"/><stop offset=".667" stop-color="#727272"/><stop offset=".75" stop-color="#717171"/><stop offset=".833" stop-color="#6f6f6f"/><stop offset=".917" stop-color="#6e6e6e"/><stop offset="1" stop-color="#6c6c6c"/></linearGradient>
<linearGradient id="gC5" x1="0" y1="0" x2="0" y2="1"><stop offset="0" stop-color="#8f8f8f"/><stop offset=".083" stop-color="#8a8a8a"/><stop offset=".167" stop-color="#838383"/><stop offset=".25" stop-color="#7e7e7e"/><stop offset=".333" stop-color="#7a7a7a"/><stop offset=".417" stop-color="#777777"/><stop offset=".5" stop-color="#717171"/><stop offset=".583" stop-color="#6f6f6f"/><stop offset=".667" stop-color="#6e6e6e"/><stop offset=".75" stop-color="#6d6d6d"/><stop offset=".833" stop-color="#6c6c6c"/><stop offset=".917" stop-color="#6a6a6a"/><stop offset="1" stop-color="#696969"/></linearGradient>
<linearGradient id="gC6" x1="0" y1="0" x2="0" y2="1"><stop offset="0" stop-color="#909090"/><stop offset=".083" stop-color="#8b8b8b"/><stop offset=".167" stop-color="#838383"/><stop offset=".25" stop-color="#7c7c7c"/><stop offset=".333" stop-color="#787878"/><stop offset=".417" stop-color="#737373"/><stop offset=".5" stop-color="#6d6d6d"/><stop offset=".583" stop-color="#6a6a6a"/><stop offset=".667" stop-color="#696969"/><stop offset=".75" stop-color="#696969"/><stop offset=".833" stop-color="#686868"/><stop offset=".917" stop-color="#666666"/><stop offset="1" stop-color="#656565"/></linearGradient>
<linearGradient id="gC7" x1="0" y1="0" x2="0" y2="1"><stop offset="0" stop-color="#919191"/><stop offset=".083" stop-color="#8d8d8d"/><stop offset=".167" stop-color="#828282"/><stop offset=".25" stop-color="#787878"/><stop offset=".333" stop-color="#727272"/><stop offset=".417" stop-color="#6b6b6b"/><stop offset=".5" stop-color="#676767"/><stop offset=".583" stop-color="#656565"/><stop offset=".667" stop-color="#646464"/><stop offset=".75" stop-color="#646464"/><stop offset=".833" stop-color="#646464"/><stop offset=".917" stop-color="#636363"/><stop offset="1" stop-color="#626262"/></linearGradient>
<linearGradient id="gC8" x1="0" y1="0" x2="0" y2="1"><stop offset="0" stop-color="#949494"/><stop offset=".083" stop-color="#909090"/><stop offset=".167" stop-color="#838383"/><stop offset=".25" stop-color="#747474"/><stop offset=".333" stop-color="#6b6b6b"/><stop offset=".417" stop-color="#636363"/><stop offset=".5" stop-color="#606060"/><stop offset=".583" stop-color="#5f5f5f"/><stop offset=".667" stop-color="#606060"/><stop offset=".75" stop-color="#606060"/><stop offset=".833" stop-color="#606060"/><stop offset=".917" stop-color="#5f5f5f"/><stop offset="1" stop-color="#5f5f5f"/></linearGradient>
<linearGradient id="gC9" x1="0" y1="0" x2="0" y2="1"><stop offset="0" stop-color="#979797"/><stop offset=".083" stop-color="#939393"/><stop offset=".167" stop-color="#848484"/><stop offset=".25" stop-color="#737373"/><stop offset=".333" stop-color="#676767"/><stop offset=".417" stop-color="#5b5b5b"/><stop offset=".5" stop-color="#5a5a5a"/><stop offset=".583" stop-color="#5c5c5c"/><stop offset=".667" stop-color="#5d5d5d"/><stop offset=".75" stop-color="#5d5d5d"/><stop offset=".833" stop-color="#5c5c5c"/><stop offset=".917" stop-color="#5c5c5c"/><stop offset="1" stop-color="#5c5c5c"/></linearGradient>
<linearGradient id="gC10" x1="0" y1="0" x2="0" y2="1"><stop offset="0" stop-color="#979797"/><stop offset=".083" stop-color="#929292"/><stop offset=".167" stop-color="#858585"/><stop offset=".25" stop-color="#767676"/><stop offset=".333" stop-color="#696969"/><stop offset=".417" stop-color="#5d5d5d"/><stop offset=".5" stop-color="#5b5b5b"/><stop offset=".583" stop-color="#5b5b5b"/><stop offset=".667" stop-color="#5b5b5b"/><stop offset=".75" stop-color="#5a5a5a"/><stop offset=".833" stop-color="#595959"/><stop offset=".917" stop-color="#595959"/><stop offset="1" stop-color="#595959"/></linearGradient>
<linearGradient id="gC11" x1="0" y1="0" x2="0" y2="1"><stop offset="0" stop-color="#959595"/><stop offset=".083" stop-color="#8f8f8f"/><stop offset=".167" stop-color="#878787"/><stop offset=".25" stop-color="#7c7c7c"/><stop offset=".333" stop-color="#717171"/><stop offset=".417" stop-color="#666666"/><stop offset=".5" stop-color="#5f5f5f"/><stop offset=".583" stop-color="#5c5c5c"/><stop offset=".667" stop-color="#5a5a5a"/><stop offset=".75" stop-color="#585858"/><stop offset=".833" stop-color="#565656"/><stop offset=".917" stop-color="#565656"/><stop offset="1" stop-color="#565656"/></linearGradient>
<linearGradient id="gC12" x1="0" y1="0" x2="0" y2="1"><stop offset="0" stop-color="#979797"/><stop offset=".083" stop-color="#919191"/><stop offset=".167" stop-color="#8b8b8b"/><stop offset=".25" stop-color="#828282"/><stop offset=".333" stop-color="#797979"/><stop offset=".417" stop-color="#6e6e6e"/><stop offset=".5" stop-color="#646464"/><stop offset=".583" stop-color="#5e5e5e"/><stop offset=".667" stop-color="#5a5a5a"/><stop offset=".75" stop-color="#575757"/><stop offset=".833" stop-color="#545454"/><stop offset=".917" stop-color="#545454"/><stop offset="1" stop-color="#545454"/></linearGradient>
<linearGradient id="gC13" x1="0" y1="0" x2="0" y2="1"><stop offset="0" stop-color="#9c9c9c"/><stop offset=".083" stop-color="#969696"/><stop offset=".167" stop-color="#8f8f8f"/><stop offset=".25" stop-color="#868686"/><stop offset=".333" stop-color="#7d7d7d"/><stop offset=".417" stop-color="#737373"/><stop offset=".5" stop-color="#686868"/><stop offset=".583" stop-color="#606060"/><stop offset=".667" stop-color="#5b5b5b"/><stop offset=".75" stop-color="#575757"/><stop offset=".833" stop-color="#545454"/><stop offset=".917" stop-color="#525252"/><stop offset="1" stop-color="#525252"/></linearGradient>
<linearGradient id="gC14" x1="0" y1="0" x2="0" y2="1"><stop offset="0" stop-color="#a1a1a1"/><stop offset=".083" stop-color="#9c9c9c"/><stop offset=".167" stop-color="#959595"/><stop offset=".25" stop-color="#8a8a8a"/><stop offset=".333" stop-color="#7e7e7e"/><stop offset=".417" stop-color="#747474"/><stop offset=".5" stop-color="#696969"/><stop offset=".583" stop-color="#616161"/><stop offset=".667" stop-color="#5c5c5c"/><stop offset=".75" stop-color="#575757"/><stop offset=".833" stop-color="#545454"/><stop offset=".917" stop-color="#525252"/><stop offset="1" stop-color="#525252"/></linearGradient>
<linearGradient id="gC15" x1="0" y1="0" x2="0" y2="1"><stop offset="0" stop-color="#a6a6a6"/><stop offset=".083" stop-color="#a2a2a2"/><stop offset=".167" stop-color="#999999"/><stop offset=".25" stop-color="#8c8c8c"/><stop offset=".333" stop-color="#7c7c7c"/><stop offset=".417" stop-color="#737373"/><stop offset=".5" stop-color="#6a6a6a"/><stop offset=".583" stop-color="#626262"/><stop offset=".667" stop-color="#5c5c5c"/><stop offset=".75" stop-color="#575757"/><stop offset=".833" stop-color="#545454"/><stop offset=".917" stop-color="#525252"/><stop offset="1" stop-color="#515151"/></linearGradient>
<linearGradient id="gC16" x1="0" y1="0" x2="0" y2="1"><stop offset="0" stop-color="#aaaaaa"/><stop offset=".083" stop-color="#a7a7a7"/><stop offset=".167" stop-color="#9e9e9e"/><stop offset=".25" stop-color="#8f8f8f"/><stop offset=".333" stop-color="#7a7a7a"/><stop offset=".417" stop-color="#717171"/><stop offset=".5" stop-color="#6b6b6b"/><stop offset=".583" stop-color="#636363"/><stop offset=".667" stop-color="#5c5c5c"/><stop offset=".75" stop-color="#575757"/><stop offset=".833" stop-color="#545454"/><stop offset=".917" stop-color="#525252"/><stop offset="1" stop-color="#515151"/></linearGradient>
<linearGradient id="gC17" x1="0" y1="0" x2="0" y2="1"><stop offset="0" stop-color="#adadad"/><stop offset=".083" stop-color="#acacac"/><stop offset=".167" stop-color="#a3a3a3"/><stop offset=".25" stop-color="#949494"/><stop offset=".333" stop-color="#818181"/><stop offset=".417" stop-color="#747474"/><stop offset=".5" stop-color="#6d6d6d"/><stop offset=".583" stop-color="#636363"/><stop offset=".667" stop-color="#5b5b5b"/><stop offset=".75" stop-color="#575757"/><stop offset=".833" stop-color="#545454"/><stop offset=".917" stop-color="#525252"/><stop offset="1" stop-color="#515151"/></linearGradient>
<linearGradient id="gC18" x1="0" y1="0" x2="0" y2="1"><stop offset="0" stop-color="#aeaeae"/><stop offset=".083" stop-color="#afafaf"/><stop offset=".167" stop-color="#a7a7a7"/><stop offset=".25" stop-color="#9a9a9a"/><stop offset=".333" stop-color="#8b8b8b"/><stop offset=".417" stop-color="#7b7b7b"/><stop offset=".5" stop-color="#717171"/><stop offset=".583" stop-color="#646464"/><stop offset=".667" stop-color="#5b5b5b"/><stop offset=".75" stop-color="#575757"/><stop offset=".833" stop-color="#545454"/><stop offset=".917" stop-color="#525252"/><stop offset="1" stop-color="#515151"/></linearGradient>
<linearGradient id="gC19" x1="0" y1="0" x2="0" y2="1"><stop offset="0" stop-color="#adadad"/><stop offset=".083" stop-color="#adadad"/><stop offset=".167" stop-color="#a8a8a8"/><stop offset=".25" stop-color="#9d9d9d"/><stop offset=".333" stop-color="#919191"/><stop offset=".417" stop-color="#818181"/><stop offset=".5" stop-color="#737373"/><stop offset=".583" stop-color="#646464"/><stop offset=".667" stop-color="#5a5a5a"/><stop offset=".75" stop-color="#565656"/><stop offset=".833" stop-color="#545454"/><stop offset=".917" stop-color="#525252"/><stop offset="1" stop-color="#515151"/></linearGradient>
<linearGradient id="gC20" x1="0" y1="0" x2="0" y2="1"><stop offset="0" stop-color="#adadad"/><stop offset=".083" stop-color="#ababab"/><stop offset=".167" stop-color="#a6a6a6"/><stop offset=".25" stop-color="#9c9c9c"/><stop offset=".333" stop-color="#919191"/><stop offset=".417" stop-color="#828282"/><stop offset=".5" stop-color="#737373"/><stop offset=".583" stop-color="#626262"/><stop offset=".667" stop-color="#585858"/><stop offset=".75" stop-color="#555555"/><stop offset=".833" stop-color="#535353"/><stop offset=".917" stop-color="#525252"/><stop offset="1" stop-color="#515151"/></linearGradient>
<linearGradient id="gC21" x1="0" y1="0" x2="0" y2="1"><stop offset="0" stop-color="#acacac"/><stop offset=".083" stop-color="#aaaaaa"/><stop offset=".167" stop-color="#a4a4a4"/><stop offset=".25" stop-color="#9b9b9b"/><stop offset=".333" stop-color="#8f8f8f"/><stop offset=".417" stop-color="#818181"/><stop offset=".5" stop-color="#717171"/><stop offset=".583" stop-color="#606060"/><stop offset=".667" stop-color="#575757"/><stop offset=".75" stop-color="#545454"/><stop offset=".833" stop-color="#525252"/><stop offset=".917" stop-color="#525252"/><stop offset="1" stop-color="#515151"/></linearGradient>
<linearGradient id="gC22" x1="0" y1="0" x2="0" y2="1"><stop offset="0" stop-color="#ababab"/><stop offset=".083" stop-color="#a8a8a8"/><stop offset=".167" stop-color="#a3a3a3"/><stop offset=".25" stop-color="#999999"/><stop offset=".333" stop-color="#8d8d8d"/><stop offset=".417" stop-color="#808080"/><stop offset=".5" stop-color="#707070"/><stop offset=".583" stop-color="#606060"/><stop offset=".667" stop-color="#565656"/><stop offset=".75" stop-color="#535353"/><stop offset=".833" stop-color="#525252"/><stop offset=".917" stop-color="#525252"/><stop offset="1" stop-color="#525252"/></linearGradient>
<linearGradient id="gC23" x1="0" y1="0" x2="0" y2="1"><stop offset="0" stop-color="#aaaaaa"/><stop offset=".083" stop-color="#a7a7a7"/><stop offset=".167" stop-color="#a2a2a2"/><stop offset=".25" stop-color="#999999"/><stop offset=".333" stop-color="#8e8e8e"/><stop offset=".417" stop-color="#818181"/><stop offset=".5" stop-color="#727272"/><stop offset=".583" stop-color="#636363"/><stop offset=".667" stop-color="#585858"/><stop offset=".75" stop-color="#545454"/><stop offset=".833" stop-color="#535353"/><stop offset=".917" stop-color="#535353"/><stop offset="1" stop-color="#535353"/></linearGradient>
<linearGradient id="gC24" x1="0" y1="0" x2="0" y2="1"><stop offset="0" stop-color="#a9a9a9"/><stop offset=".083" stop-color="#a6a6a6"/><stop offset=".167" stop-color="#a2a2a2"/><stop offset=".25" stop-color="#9b9b9b"/><stop offset=".333" stop-color="#919191"/><stop offset=".417" stop-color="#858585"/><stop offset=".5" stop-color="#777777"/><stop offset=".583" stop-color="#686868"/><stop offset=".667" stop-color="#5b5b5b"/><stop offset=".75" stop-color="#555555"/><stop offset=".833" stop-color="#545454"/><stop offset=".917" stop-color="#555555"/><stop offset="1" stop-color="#555555"/></linearGradient>
<linearGradient id="gC25" x1="0" y1="0" x2="0" y2="1"><stop offset="0" stop-color="#aaaaaa"/><stop offset=".083" stop-color="#a7a7a7"/><stop offset=".167" stop-color="#a4a4a4"/><stop offset=".25" stop-color="#9e9e9e"/><stop offset=".333" stop-color="#969696"/><stop offset=".417" stop-color="#8b8b8b"/><stop offset=".5" stop-color="#7d7d7d"/><stop offset=".583" stop-color="#6e6e6e"/><stop offset=".667" stop-color="#606060"/><stop offset=".75" stop-color="#585858"/><stop offset=".833" stop-color="#575757"/><stop offset=".917" stop-color="#575757"/><stop offset="1" stop-color="#575757"/></linearGradient>
<linearGradient id="gC26" x1="0" y1="0" x2="0" y2="1"><stop offset="0" stop-color="#acacac"/><stop offset=".083" stop-color="#aaaaaa"/><stop offset=".167" stop-color="#a7a7a7"/><stop offset=".25" stop-color="#a2a2a2"/><stop offset=".333" stop-color="#9b9b9b"/><stop offset=".417" stop-color="#929292"/><stop offset=".5" stop-color="#848484"/><stop offset=".583" stop-color="#757575"/><stop offset=".667" stop-color="#666666"/><stop offset=".75" stop-color="#5e5e5e"/><stop offset=".833" stop-color="#5c5c5c"/><stop offset=".917" stop-color="#5b5b5b"/><stop offset="1" stop-color="#5a5a5a"/></linearGradient>
<linearGradient id="gC27" x1="0" y1="0" x2="0" y2="1"><stop offset="0" stop-color="#aeaeae"/><stop offset=".083" stop-color="#adadad"/><stop offset=".167" stop-color="#ababab"/><stop offset=".25" stop-color="#a6a6a6"/><stop offset=".333" stop-color="#9f9f9f"/><stop offset=".417" stop-color="#979797"/><stop offset=".5" stop-color="#8b8b8b"/><stop offset=".583" stop-color="#7c7c7c"/><stop offset=".667" stop-color="#6e6e6e"/><stop offset=".75" stop-color="#656565"/><stop offset=".833" stop-color="#616161"/><stop offset=".917" stop-color="#5f5f5f"/><stop offset="1" stop-color="#5e5e5e"/></linearGradient>
<linearGradient id="gC28" x1="0" y1="0" x2="0" y2="1"><stop offset="0" stop-color="#b1b1b1"/><stop offset=".083" stop-color="#b0b0b0"/><stop offset=".167" stop-color="#aeaeae"/><stop offset=".25" stop-color="#aaaaaa"/><stop offset=".333" stop-color="#a3a3a3"/><stop offset=".417" stop-color="#9b9b9b"/><stop offset=".5" stop-color="#919191"/><stop offset=".583" stop-color="#838383"/><stop offset=".667" stop-color="#757575"/><stop offset=".75" stop-color="#6c6c6c"/><stop offset=".833" stop-color="#676767"/><stop offset=".917" stop-color="#646464"/><stop offset="1" stop-color="#626262"/></linearGradient>
<linearGradient id="gC29" x1="0" y1="0" x2="0" y2="1"><stop offset="0" stop-color="#b5b5b5"/><stop offset=".083" stop-color="#b3b3b3"/><stop offset=".167" stop-color="#b0b0b0"/><stop offset=".25" stop-color="#adadad"/><stop offset=".333" stop-color="#a6a6a6"/><stop offset=".417" stop-color="#9e9e9e"/><stop offset=".5" stop-color="#959595"/><stop offset=".583" stop-color="#8a8a8a"/><stop offset=".667" stop-color="#7d7d7d"/><stop offset=".75" stop-color="#737373"/><stop offset=".833" stop-color="#6d6d6d"/><stop offset=".917" stop-color="#686868"/><stop offset="1" stop-color="#666666"/></linearGradient>
<linearGradient id="gC30" x1="0" y1="0" x2="0" y2="1"><stop offset="0" stop-color="#b5b5b5"/><stop offset=".083" stop-color="#b3b3b3"/><stop offset=".167" stop-color="#b0b0b0"/><stop offset=".25" stop-color="#adadad"/><stop offset=".333" stop-color="#a6a6a6"/><stop offset=".417" stop-color="#9e9e9e"/><stop offset=".5" stop-color="#959595"/><stop offset=".583" stop-color="#8a8a8a"/><stop offset=".667" stop-color="#7d7d7d"/><stop offset=".75" stop-color="#737373"/><stop offset=".833" stop-color="#6d6d6d"/><stop offset=".917" stop-color="#686868"/><stop offset="1" stop-color="#666666"/></linearGradient>
<linearGradient id="gC31" x1="0" y1="0" x2="0" y2="1"><stop offset="0" stop-color="#b5b5b5"/><stop offset=".083" stop-color="#b3b3b3"/><stop offset=".167" stop-color="#b0b0b0"/><stop offset=".25" stop-color="#adadad"/><stop offset=".333" stop-color="#a6a6a6"/><stop offset=".417" stop-color="#9e9e9e"/><stop offset=".5" stop-color="#959595"/><stop offset=".583" stop-color="#8a8a8a"/><stop offset=".667" stop-color="#7d7d7d"/><stop offset=".75" stop-color="#737373"/><stop offset=".833" stop-color="#6d6d6d"/><stop offset=".917" stop-color="#686868"/><stop offset="1" stop-color="#666666"/></linearGradient>
<linearGradient id="gD0" x1="0" y1="0" x2="0" y2="1"><stop offset="0" stop-color="#0b0b0b"/><stop offset=".083" stop-color="#080808"/><stop offset=".167" stop-color="#070707"/><stop offset=".25" stop-color="#090909"/><stop offset=".333" stop-color="#080808"/><stop offset=".417" stop-color="#070707"/><stop offset=".5" stop-color="#070707"/><stop offset=".583" stop-color="#070707"/><stop offset=".667" stop-color="#080808"/><stop offset=".75" stop-color="#090909"/><stop offset=".833" stop-color="#080808"/><stop offset=".917" stop-color="#090909"/><stop offset="1" stop-color="#0c0c0c"/></linearGradient>
<linearGradient id="gD1" x1="0" y1="0" x2="0" y2="1"><stop offset="0" stop-color="#0b0b0b"/><stop offset=".083" stop-color="#080808"/><stop offset=".167" stop-color="#070707"/><stop offset=".25" stop-color="#090909"/><stop offset=".333" stop-color="#080808"/><stop offset=".417" stop-color="#070707"/><stop offset=".5" stop-color="#070707"/><stop offset=".583" stop-color="#070707"/><stop offset=".667" stop-color="#080808"/><stop offset=".75" stop-color="#090909"/><stop offset=".833" stop-color="#080808"/><stop offset=".917" stop-color="#090909"/><stop offset="1" stop-color="#0c0c0c"/></linearGradient>
<linearGradient id="gD2" x1="0" y1="0" x2="0" y2="1"><stop offset="0" stop-color="#0b0b0b"/><stop offset=".083" stop-color="#080808"/><stop offset=".167" stop-color="#070707"/><stop offset=".25" stop-color="#090909"/><stop offset=".333" stop-color="#080808"/><stop offset=".417" stop-color="#070707"/><stop offset=".5" stop-color="#070707"/><stop offset=".583" stop-color="#070707"/><stop offset=".667" stop-color="#080808"/><stop offset=".75" stop-color="#090909"/><stop offset=".833" stop-color="#080808"/><stop offset=".917" stop-color="#090909"/><stop offset="1" stop-color="#0c0c0c"/></linearGradient>
<linearGradient id="gD3" x1="0" y1="0" x2="0" y2="1"><stop offset="0" stop-color="#0c0c0c"/><stop offset=".083" stop-color="#080808"/><stop offset=".167" stop-color="#070707"/><stop offset=".25" stop-color="#090909"/><stop offset=".333" stop-color="#090909"/><stop offset=".417" stop-color="#080808"/><stop offset=".5" stop-color="#080808"/><stop offset=".583" stop-color="#080808"/><stop offset=".667" stop-color="#0a0a0a"/><stop offset=".75" stop-color="#0a0a0a"/><stop offset=".833" stop-color="#090909"/><stop offset=".917" stop-color="#0a0a0a"/><stop offset="1" stop-color="#0d0d0d"/></linearGradient>
<linearGradient id="gD4" x1="0" y1="0" x2="0" y2="1"><stop offset="0" stop-color="#0d0d0d"/><stop offset=".083" stop-color="#090909"/><stop offset=".167" stop-color="#070707"/><stop offset=".25" stop-color="#080808"/><stop offset=".333" stop-color="#080808"/><stop offset=".417" stop-color="#090909"/><stop offset=".5" stop-color="#080808"/><stop offset=".583" stop-color="#080808"/><stop offset=".667" stop-color="#0a0a0a"/><stop offset=".75" stop-color="#0b0b0b"/><stop offset=".833" stop-color="#0a0a0a"/><stop offset=".917" stop-color="#0c0c0c"/><stop offset="1" stop-color="#101010"/></linearGradient>
<linearGradient id="gD5" x1="0" y1="0" x2="0" y2="1"><stop offset="0" stop-color="#0f0f0f"/><stop offset=".083" stop-color="#0a0a0a"/><stop offset=".167" stop-color="#080808"/><stop offset=".25" stop-color="#090909"/><stop offset=".333" stop-color="#090909"/><stop offset=".417" stop-color="#0a0a0a"/><stop offset=".5" stop-color="#090909"/><stop offset=".583" stop-color="#090909"/><stop offset=".667" stop-color="#0c0c0c"/><stop offset=".75" stop-color="#0e0e0e"/><stop offset=".833" stop-color="#0e0e0e"/><stop offset=".917" stop-color="#0f0f0f"/><stop offset="1" stop-color="#141414"/></linearGradient>
<linearGradient id="gD6" x1="0" y1="0" x2="0" y2="1"><stop offset="0" stop-color="#121212"/><stop offset=".083" stop-color="#0d0d0d"/><stop offset=".167" stop-color="#0c0c0c"/><stop offset=".25" stop-color="#0c0c0c"/><stop offset=".333" stop-color="#0c0c0c"/><stop offset=".417" stop-color="#0d0d0d"/><stop offset=".5" stop-color="#0d0d0d"/><stop offset=".583" stop-color="#0d0d0d"/><stop offset=".667" stop-color="#111111"/><stop offset=".75" stop-color="#131313"/><stop offset=".833" stop-color="#141414"/><stop offset=".917" stop-color="#151515"/><stop offset="1" stop-color="#191919"/></linearGradient>
<linearGradient id="gD7" x1="0" y1="0" x2="0" y2="1"><stop offset="0" stop-color="#1e1e1e"/><stop offset=".083" stop-color="#191919"/><stop offset=".167" stop-color="#161616"/><stop offset=".25" stop-color="#141414"/><stop offset=".333" stop-color="#141414"/><stop offset=".417" stop-color="#151515"/><stop offset=".5" stop-color="#171717"/><stop offset=".583" stop-color="#191919"/><stop offset=".667" stop-color="#1a1a1a"/><stop offset=".75" stop-color="#1b1b1b"/><stop offset=".833" stop-color="#1b1b1b"/><stop offset=".917" stop-color="#1c1c1c"/><stop offset="1" stop-color="#1f1f1f"/></linearGradient>
<linearGradient id="gD8" x1="0" y1="0" x2="0" y2="1"><stop offset="0" stop-color="#3e3e3e"/><stop offset=".083" stop-color="#373737"/><stop offset=".167" stop-color="#2c2c2c"/><stop offset=".25" stop-color="#282828"/><stop offset=".333" stop-color="#282828"/><stop offset=".417" stop-color="#292929"/><stop offset=".5" stop-color="#2a2a2a"/><stop offset=".583" stop-color="#2b2b2b"/><stop offset=".667" stop-color="#262626"/><stop offset=".75" stop-color="#232323"/><stop offset=".833" stop-color="#232323"/><stop offset=".917" stop-color="#242424"/><stop offset="1" stop-color="#252525"/></linearGradient>
<linearGradient id="gD9" x1="0" y1="0" x2="0" y2="1"><stop offset="0" stop-color="#454545"/><stop offset=".083" stop-color="#464646"/><stop offset=".167" stop-color="#444444"/><stop offset=".25" stop-color="#424242"/><stop offset=".333" stop-color="#434343"/><stop offset=".417" stop-color="#404040"/><stop offset=".5" stop-color="#434343"/><stop offset=".583" stop-color="#393939"/><stop offset=".667" stop-color="#303030"/><stop offset=".75" stop-color="#2c2c2c"/><stop offset=".833" stop-color="#2b2b2b"/><stop offset=".917" stop-color="#2b2b2b"/><stop offset="1" stop-color="#2c2c2c"/></linearGradient>
<linearGradient id="gD10" x1="0" y1="0" x2="0" y2="1"><stop offset="0" stop-color="#434343"/><stop offset=".083" stop-color="#434343"/><stop offset=".167" stop-color="#434343"/><stop offset=".25" stop-color="#434343"/><stop offset=".333" stop-color="#444444"/><stop offset=".417" stop-color="#434343"/><stop offset=".5" stop-color="#434343"/><stop offset=".583" stop-color="#3d3d3d"/><stop offset=".667" stop-color="#363636"/><stop offset=".75" stop-color="#333333"/><stop offset=".833" stop-color="#323232"/><stop offset=".917" stop-color="#333333"/><stop offset="1" stop-color="#343434"/></linearGradient>
<linearGradient id="gD11" x1="0" y1="0" x2="0" y2="1"><stop offset="0" stop-color="#454545"/><stop offset=".083" stop-color="#434343"/><stop offset=".167" stop-color="#414141"/><stop offset=".25" stop-color="#414141"/><stop offset=".333" stop-color="#404040"/><stop offset=".417" stop-color="#404040"/><stop offset=".5" stop-color="#404040"/><stop offset=".583" stop-color="#3e3e3e"/><stop offset=".667" stop-color="#3c3c3c"/><stop offset=".75" stop-color="#3b3b3b"/><stop offset=".833" stop-color="#3a3a3a"/><stop offset=".917" stop-color="#3b3b3b"/><stop offset="1" stop-color="#3b3b3b"/></linearGradient>
<linearGradient id="gD12" x1="0" y1="0" x2="0" y2="1"><stop offset="0" stop-color="#565656"/><stop offset=".083" stop-color="#545454"/><stop offset=".167" stop-color="#515151"/><stop offset=".25" stop-color="#4e4e4e"/><stop offset=".333" stop-color="#4a4a4a"/><stop offset=".417" stop-color="#474747"/><stop offset=".5" stop-color="#454545"/><stop offset=".583" stop-color="#454545"/><stop offset=".667" stop-color="#444444"/><stop offset=".75" stop-color="#444444"/><stop offset=".833" stop-color="#444444"/><stop offset=".917" stop-color="#434343"/><stop offset="1" stop-color="#444444"/></linearGradient>
<linearGradient id="gD13" x1="0" y1="0" x2="0" y2="1"><stop offset="0" stop-color="#6e6e6e"/><stop offset=".083" stop-color="#6c6c6c"/><stop offset=".167" stop-color="#686868"/><stop offset=".25" stop-color="#646464"/><stop offset=".333" stop-color="#606060"/><stop offset=".417" stop-color="#5d5d5d"/><stop offset=".5" stop-color="#5a5a5a"/><stop offset=".583" stop-color="#585858"/><stop offset=".667" stop-color="#555555"/><stop offset=".75" stop-color="#525252"/><stop offset=".833" stop-color="#505050"/><stop offset=".917" stop-color="#505050"/><stop offset="1" stop-color="#525252"/></linearGradient>
<linearGradient id="gD14" x1="0" y1="0" x2="0" y2="1"><stop offset="0" stop-color="#818181"/><stop offset=".083" stop-color="#7f7f7f"/><stop offset=".167" stop-color="#797979"/><stop offset=".25" stop-color="#737373"/><stop offset=".333" stop-color="#6e6e6e"/><stop offset=".417" stop-color="#6a6a6a"/><stop offset=".5" stop-color="#656565"/><stop offset=".583" stop-color="#626262"/><stop offset=".667" stop-color="#5f5f5f"/><stop offset=".75" stop-color="#5c5c5c"/><stop offset=".833" stop-color="#595959"/><stop offset=".917" stop-color="#595959"/><stop offset="1" stop-color="#5d5d5d"/></linearGradient>
<linearGradient id="gD15" x1="0" y1="0" x2="0" y2="1"><stop offset="0" stop-color="#878787"/><stop offset=".083" stop-color="#878787"/><stop offset=".167" stop-color="#818181"/><stop offset=".25" stop-color="#7a7a7a"/><stop offset=".333" stop-color="#747474"/><stop offset=".417" stop-color="#707070"/><stop offset=".5" stop-color="#6a6a6a"/><stop offset=".583" stop-color="#666666"/><stop offset=".667" stop-color="#626262"/><stop offset=".75" stop-color="#5e5e5e"/><stop offset=".833" stop-color="#5a5a5a"/><stop offset=".917" stop-color="#595959"/><stop offset="1" stop-color="#595959"/></linearGradient>
<linearGradient id="gD16" x1="0" y1="0" x2="0" y2="1"><stop offset="0" stop-color="#898989"/><stop offset=".083" stop-color="#898989"/><stop offset=".167" stop-color="#848484"/><stop offset=".25" stop-color="#7b7b7b"/><stop offset=".333" stop-color="#757575"/><stop offset=".417" stop-color="#707070"/><stop offset=".5" stop-color="#6b6b6b"/><stop offset=".583" stop-color="#666666"/><stop offset=".667" stop-color="#626262"/><stop offset=".75" stop-color="#5c5c5c"/><stop offset=".833" stop-color="#565656"/><stop offset=".917" stop-color="#545454"/><stop offset="1" stop-color="#525252"/></linearGradient>
<linearGradient id="gD17" x1="0" y1="0" x2="0" y2="1"><stop offset="0" stop-color="#898989"/><stop offset=".083" stop-color="#898989"/><stop offset=".167" stop-color="#848484"/><stop offset=".25" stop-color="#7c7c7c"/><stop offset=".333" stop-color="#757575"/><stop offset=".417" stop-color="#707070"/><stop offset=".5" stop-color="#6a6a6a"/><stop offset=".583" stop-color="#646464"/><stop offset=".667" stop-color="#5f5f5f"/><stop offset=".75" stop-color="#585858"/><stop offset=".833" stop-color="#505050"/><stop offset=".917" stop-color="#4c4c4c"/><stop offset="1" stop-color="#4c4c4c"/></linearGradient>
<linearGradient id="gD18" x1="0" y1="0" x2="0" y2="1"><stop offset="0" stop-color="#888888"/><stop offset=".083" stop-color="#878787"/><stop offset=".167" stop-color="#838383"/><stop offset=".25" stop-color="#7b7b7b"/><stop offset=".333" stop-color="#747474"/><stop offset=".417" stop-color="#6e6e6e"/><stop offset=".5" stop-color="#666666"/><stop offset=".583" stop-color="#5f5f5f"/><stop offset=".667" stop-color="#585858"/><stop offset=".75" stop-color="#4e4e4e"/><stop offset=".833" stop-color="#474747"/><stop offset=".917" stop-color="#434343"/><stop offset="1" stop-color="#454545"/></linearGradient>
<linearGradient id="gD19" x1="0" y1="0" x2="0" y2="1"><stop offset="0" stop-color="#858585"/><stop offset=".083" stop-color="#848484"/><stop offset=".167" stop-color="#808080"/><stop offset=".25" stop-color="#797979"/><stop offset=".333" stop-color="#727272"/><stop offset=".417" stop-color="#6a6a6a"/><stop offset=".5" stop-color="#606060"/><stop offset=".583" stop-color="#565656"/><stop offset=".667" stop-color="#4a4a4a"/><stop offset=".75" stop-color="#434343"/><stop offset=".833" stop-color="#3f3f3f"/><stop offset=".917" stop-color="#3e3e3e"/><stop offset="1" stop-color="#414141"/></linearGradient>
<linearGradient id="gD20" x1="0" y1="0" x2="0" y2="1"><stop offset="0" stop-color="#838383"/><stop offset=".083" stop-color="#818181"/><stop offset=".167" stop-color="#7d7d7d"/><stop offset=".25" stop-color="#777777"/><stop offset=".333" stop-color="#6e6e6e"/><stop offset=".417" stop-color="#646464"/><stop offset=".5" stop-color="#585858"/><stop offset=".583" stop-color="#4a4a4a"/><stop offset=".667" stop-color="#424242"/><stop offset=".75" stop-color="#3c3c3c"/><stop offset=".833" stop-color="#393939"/><stop offset=".917" stop-color="#3a3a3a"/><stop offset="1" stop-color="#3d3d3d"/></linearGradient>
<linearGradient id="gD21" x1="0" y1="0" x2="0" y2="1"><stop offset="0" stop-color="#828282"/><stop offset=".083" stop-color="#7e7e7e"/><stop offset=".167" stop-color="#7b7b7b"/><stop offset=".25" stop-color="#767676"/><stop offset=".333" stop-color="#6c6c6c"/><stop offset=".417" stop-color="#606060"/><stop offset=".5" stop-color="#535353"/><stop offset=".583" stop-color="#464646"/><stop offset=".667" stop-color="#3e3e3e"/><stop offset=".75" stop-color="#393939"/><stop offset=".833" stop-color="#363636"/><stop offset=".917" stop-color="#383838"/><stop offset="1" stop-color="#3b3b3b"/></linearGradient>
<linearGradient id="gD22" x1="0" y1="0" x2="0" y2="1"><stop offset="0" stop-color="#828282"/><stop offset=".083" stop-color="#7e7e7e"/><stop offset=".167" stop-color="#7c7c7c"/><stop offset=".25" stop-color="#777777"/><stop offset=".333" stop-color="#6c6c6c"/><stop offset=".417" stop-color="#606060"/><stop offset=".5" stop-color="#525252"/><stop offset=".583" stop-color="#454545"/><stop offset=".667" stop-color="#3d3d3d"/><stop offset=".75" stop-color="#383838"/><stop offset=".833" stop-color="#363636"/><stop offset=".917" stop-color="#383838"/><stop offset="1" stop-color="#3b3b3b"/></linearGradient>
<linearGradient id="gD23" x1="0" y1="0" x2="0" y2="1"><stop offset="0" stop-color="#828282"/><stop offset=".083" stop-color="#828282"/><stop offset=".167" stop-color="#808080"/><stop offset=".25" stop-color="#7a7a7a"/><stop offset=".333" stop-color="#707070"/><stop offset=".417" stop-color="#646464"/><stop offset=".5" stop-color="#565656"/><stop offset=".583" stop-color="#494949"/><stop offset=".667" stop-color="#3f3f3f"/><stop offset=".75" stop-color="#393939"/><stop offset=".833" stop-color="#383838"/><stop offset=".917" stop-color="#393939"/><stop offset="1" stop-color="#3c3c3c"/></linearGradient>
<linearGradient id="gD24" x1="0" y1="0" x2="0" y2="1"><stop offset="0" stop-color="#818181"/><stop offset=".083" stop-color="#838383"/><stop offset=".167" stop-color="#848484"/><stop offset=".25" stop-color="#808080"/><stop offset=".333" stop-color="#767676"/><stop offset=".417" stop-color="#696969"/><stop offset=".5" stop-color="#5d5d5d"/><stop offset=".583" stop-color="#4f4f4f"/><stop offset=".667" stop-color="#434343"/><stop offset=".75" stop-color="#3c3c3c"/><stop offset=".833" stop-color="#3b3b3b"/><stop offset=".917" stop-color="#3c3c3c"/><stop offset="1" stop-color="#3e3e3e"/></linearGradient>
<linearGradient id="gD25" x1="0" y1="0" x2="0" y2="1"><stop offset="0" stop-color="#828282"/><stop offset=".083" stop-color="#858585"/><stop offset=".167" stop-color="#888888"/><stop offset=".25" stop-color="#868686"/><stop offset=".333" stop-color="#7d7d7d"/><stop offset=".417" stop-color="#717171"/><stop offset=".5" stop-color="#646464"/><stop offset=".583" stop-color="#565656"/><stop offset=".667" stop-color="#494949"/><stop offset=".75" stop-color="#404040"/><stop offset=".833" stop-color="#3f3f3f"/><stop offset=".917" stop-color="#404040"/><stop offset="1" stop-color="#424242"/></linearGradient>
<linearGradient id="gD26" x1="0" y1="0" x2="0" y2="1"><stop offset="0" stop-color="#8c8c8c"/><stop offset=".083" stop-color="#8c8c8c"/><stop offset=".167" stop-color="#8e8e8e"/><stop offset=".25" stop-color="#8b8b8b"/><stop offset=".333" stop-color="#858585"/><stop offset=".417" stop-color="#797979"/><stop offset=".5" stop-color="#6b6b6b"/><stop offset=".583" stop-color="#5e5e5e"/><stop offset=".667" stop-color="#505050"/><stop offset=".75" stop-color="#474747"/><stop offset=".833" stop-color="#454545"/><stop offset=".917" stop-color="#454545"/><stop offset="1" stop-color="#464646"/></linearGradient>
<linearGradient id="gD27" x1="0" y1="0" x2="0" y2="1"><stop offset="0" stop-color="#969696"/><stop offset=".083" stop-color="#959595"/><stop offset=".167" stop-color="#959595"/><stop offset=".25" stop-color="#919191"/><stop offset=".333" stop-color="#8a8a8a"/><stop offset=".417" stop-color="#818181"/><stop offset=".5" stop-color="#747474"/><stop offset=".583" stop-color="#656565"/><stop offset=".667" stop-color="#585858"/><stop offset=".75" stop-color="#505050"/><stop offset=".833" stop-color="#4c4c4c"/><stop offset=".917" stop-color="#4b4b4b"/><stop offset="1" stop-color="#4a4a4a"/></linearGradient>
<linearGradient id="gD28" x1="0" y1="0" x2="0" y2="1"><stop offset="0" stop-color="#9e9e9e"/><stop offset=".083" stop-color="#9d9d9d"/><stop offset=".167" stop-color="#9a9a9a"/><stop offset=".25" stop-color="#969696"/><stop offset=".333" stop-color="#8f8f8f"/><stop offset=".417" stop-color="#878787"/><stop offset=".5" stop-color="#7b7b7b"/><stop offset=".583" stop-color="#6e6e6e"/><stop offset=".667" stop-color="#626262"/><stop offset=".75" stop-color="#595959"/><stop offset=".833" stop-color="#545454"/><stop offset=".917" stop-color="#515151"/><stop offset="1" stop-color="#4f4f4f"/></linearGradient>
<linearGradient id="gD29" x1="0" y1="0" x2="0" y2="1"><stop offset="0" stop-color="#a3a3a3"/><stop offset=".083" stop-color="#a1a1a1"/><stop offset=".167" stop-color="#9e9e9e"/><stop offset=".25" stop-color="#9a9a9a"/><stop offset=".333" stop-color="#939393"/><stop offset=".417" stop-color="#8c8c8c"/><stop offset=".5" stop-color="#828282"/><stop offset=".583" stop-color="#787878"/><stop offset=".667" stop-color="#6c6c6c"/><stop offset=".75" stop-color="#626262"/><stop offset=".833" stop-color="#5b5b5b"/><stop offset=".917" stop-color="#575757"/><stop offset="1" stop-color="#545454"/></linearGradient>
<linearGradient id="gD30" x1="0" y1="0" x2="0" y2="1"><stop offset="0" stop-color="#a3a3a3"/><stop offset=".083" stop-color="#a1a1a1"/><stop offset=".167" stop-color="#9e9e9e"/><stop offset=".25" stop-color="#9a9a9a"/><stop offset=".333" stop-color="#939393"/><stop offset=".417" stop-color="#8c8c8c"/><stop offset=".5" stop-color="#828282"/><stop offset=".583" stop-color="#787878"/><stop offset=".667" stop-color="#6c6c6c"/><stop offset=".75" stop-color="#626262"/><stop offset=".833" stop-color="#5b5b5b"/><stop offset=".917" stop-color="#575757"/><stop offset="1" stop-color="#545454"/></linearGradient>
<linearGradient id="gD31" x1="0" y1="0" x2="0" y2="1"><stop offset="0" stop-color="#a3a3a3"/><stop offset=".083" stop-color="#a1a1a1"/><stop offset=".167" stop-color="#9e9e9e"/><stop offset=".25" stop-color="#9a9a9a"/><stop offset=".333" stop-color="#939393"/><stop offset=".417" stop-color="#8c8c8c"/><stop offset=".5" stop-color="#828282"/><stop offset=".583" stop-color="#787878"/><stop offset=".667" stop-color="#6c6c6c"/><stop offset=".75" stop-color="#626262"/><stop offset=".833" stop-color="#5b5b5b"/><stop offset=".917" stop-color="#575757"/><stop offset="1" stop-color="#545454"/></linearGradient>
<linearGradient id="gE0" x1="0" y1="0" x2="0" y2="1"><stop offset="0" stop-color="#050505"/><stop offset=".083" stop-color="#050505"/><stop offset=".167" stop-color="#040404"/><stop offset=".25" stop-color="#050505"/><stop offset=".333" stop-color="#050505"/><stop offset=".417" stop-color="#040404"/><stop offset=".5" stop-color="#030303"/><stop offset=".583" stop-color="#020202"/><stop offset=".667" stop-color="#020202"/><stop offset=".75" stop-color="#020202"/><stop offset=".833" stop-color="#020202"/><stop offset=".917" stop-color="#040404"/><stop offset="1" stop-color="#060606"/></linearGradient>
<linearGradient id="gE1" x1="0" y1="0" x2="0" y2="1"><stop offset="0" stop-color="#050505"/><stop offset=".083" stop-color="#050505"/><stop offset=".167" stop-color="#040404"/><stop offset=".25" stop-color="#050505"/><stop offset=".333" stop-color="#050505"/><stop offset=".417" stop-color="#040404"/><stop offset=".5" stop-color="#030303"/><stop offset=".583" stop-color="#020202"/><stop offset=".667" stop-color="#020202"/><stop offset=".75" stop-color="#020202"/><stop offset=".833" stop-color="#020202"/><stop offset=".917" stop-color="#040404"/><stop offset="1" stop-color="#060606"/></linearGradient>
<linearGradient id="gE2" x1="0" y1="0" x2="0" y2="1"><stop offset="0" stop-color="#050505"/><stop offset=".083" stop-color="#050505"/><stop offset=".167" stop-color="#040404"/><stop offset=".25" stop-color="#050505"/><stop offset=".333" stop-color="#050505"/><stop offset=".417" stop-color="#040404"/><stop offset=".5" stop-color="#030303"/><stop offset=".583" stop-color="#020202"/><stop offset=".667" stop-color="#020202"/><stop offset=".75" stop-color="#020202"/><stop offset=".833" stop-color="#020202"/><stop offset=".917" stop-color="#040404"/><stop offset="1" stop-color="#060606"/></linearGradient>
<linearGradient id="gE3" x1="0" y1="0" x2="0" y2="1"><stop offset="0" stop-color="#040404"/><stop offset=".083" stop-color="#050505"/><stop offset=".167" stop-color="#050505"/><stop offset=".25" stop-color="#060606"/><stop offset=".333" stop-color="#070707"/><stop offset=".417" stop-color="#060606"/><stop offset=".5" stop-color="#050505"/><stop offset=".583" stop-color="#040404"/><stop offset=".667" stop-color="#030303"/><stop offset=".75" stop-color="#030303"/><stop offset=".833" stop-color="#030303"/><stop offset=".917" stop-color="#050505"/><stop offset="1" stop-color="#070707"/></linearGradient>
<linearGradient id="gE4" x1="0" y1="0" x2="0" y2="1"><stop offset="0" stop-color="#030303"/><stop offset=".083" stop-color="#050505"/><stop offset=".167" stop-color="#070707"/><stop offset=".25" stop-color="#090909"/><stop offset=".333" stop-color="#0a0a0a"/><stop offset=".417" stop-color="#0a0a0a"/><stop offset=".5" stop-color="#080808"/><stop offset=".583" stop-color="#060606"/><stop offset=".667" stop-color="#040404"/><stop offset=".75" stop-color="#040404"/><stop offset=".833" stop-color="#040404"/><stop offset=".917" stop-color="#060606"/><stop offset="1" stop-color="#080808"/></linearGradient>
<linearGradient id="gE5" x1="0" y1="0" x2="0" y2="1"><stop offset="0" stop-color="#030303"/><stop offset=".083" stop-color="#060606"/><stop offset=".167" stop-color="#080808"/><stop offset=".25" stop-color="#0c0c0c"/><stop offset=".333" stop-color="#0e0e0e"/><stop offset=".417" stop-color="#0e0e0e"/><stop offset=".5" stop-color="#0d0d0d"/><stop offset=".583" stop-color="#090909"/><stop offset=".667" stop-color="#070707"/><stop offset=".75" stop-color="#060606"/><stop offset=".833" stop-color="#060606"/><stop offset=".917" stop-color="#080808"/><stop offset="1" stop-color="#0a0a0a"/></linearGradient>
<linearGradient id="gE6" x1="0" y1="0" x2="0" y2="1"><stop offset="0" stop-color="#030303"/><stop offset=".083" stop-color="#060606"/><stop offset=".167" stop-color="#0b0b0b"/><stop offset=".25" stop-color="#111111"/><stop offset=".333" stop-color="#151515"/><stop offset=".417" stop-color="#161616"/><stop offset=".5" stop-color="#141414"/><stop offset=".583" stop-color="#101010"/><stop offset=".667" stop-color="#0a0a0a"/><stop offset=".75" stop-color="#080808"/><stop offset=".833" stop-color="#080808"/><stop offset=".917" stop-color="#090909"/><stop offset="1" stop-color="#0c0c0c"/></linearGradient>
<linearGradient id="gE7" x1="0" y1="0" x2="0" y2="1"><stop offset="0" stop-color="#030303"/><stop offset=".083" stop-color="#070707"/><stop offset=".167" stop-color="#0f0f0f"/><stop offset=".25" stop-color="#191919"/><stop offset=".333" stop-color="#1f1f1f"/><stop offset=".417" stop-color="#202020"/><stop offset=".5" stop-color="#1f1f1f"/><stop offset=".583" stop-color="#1b1b1b"/><stop offset=".667" stop-color="#131313"/><stop offset=".75" stop-color="#0d0d0d"/><stop offset=".833" stop-color="#0b0b0b"/><stop offset=".917" stop-color="#0c0c0c"/><stop offset="1" stop-color="#0e0e0e"/></linearGradient>
<linearGradient id="gE8" x1="0" y1="0" x2="0" y2="1"><stop offset="0" stop-color="#040404"/><stop offset=".083" stop-color="#090909"/><stop offset=".167" stop-color="#141414"/><stop offset=".25" stop-color="#212121"/><stop offset=".333" stop-color="#292929"/><stop offset=".417" stop-color="#2d2d2d"/><stop offset=".5" stop-color="#2b2b2b"/><stop offset=".583" stop-color="#272727"/><stop offset=".667" stop-color="#1c1c1c"/><stop offset=".75" stop-color="#121212"/><stop offset=".833" stop-color="#0f0f0f"/><stop offset=".917" stop-color="#0f0f0f"/><stop offset="1" stop-color="#111111"/></linearGradient>
<linearGradient id="gE9" x1="0" y1="0" x2="0" y2="1"><stop offset="0" stop-color="#040404"/><stop offset=".083" stop-color="#0a0a0a"/><stop offset=".167" stop-color="#181818"/><stop offset=".25" stop-color="#272727"/><stop offset=".333" stop-color="#303030"/><stop offset=".417" stop-color="#353535"/><stop offset=".5" stop-color="#343434"/><stop offset=".583" stop-color="#2d2d2d"/><stop offset=".667" stop-color="#212121"/><stop offset=".75" stop-color="#181818"/><stop offset=".833" stop-color="#131313"/><stop offset=".917" stop-color="#131313"/><stop offset="1" stop-color="#161616"/></linearGradient>
<linearGradient id="gE10" x1="0" y1="0" x2="0" y2="1"><stop offset="0" stop-color="#050505"/><stop offset=".083" stop-color="#0b0b0b"/><stop offset=".167" stop-color="#1a1a1a"/><stop offset=".25" stop-color="#2a2a2a"/><stop offset=".333" stop-color="#323232"/><stop offset=".417" stop-color="#363636"/><stop offset=".5" stop-color="#373737"/><stop offset=".583" stop-color="#313131"/><stop offset=".667" stop-color="#303030"/><stop offset=".75" stop-color="#212121"/><stop offset=".833" stop-color="#1b1b1b"/><stop offset=".917" stop-color="#191919"/><stop offset="1" stop-color="#1b1b1b"/></linearGradient>
<linearGradient id="gE11" x1="0" y1="0" x2="0" y2="1"><stop offset="0" stop-color="#070707"/><stop offset=".083" stop-color="#0e0e0e"/><stop offset=".167" stop-color="#1c1c1c"/><stop offset=".25" stop-color="#2a2a2a"/><stop offset=".333" stop-color="#313131"/><stop offset=".417" stop-color="#363636"/><stop offset=".5" stop-color="#383838"/><stop offset=".583" stop-color="#373737"/><stop offset=".667" stop-color="#383838"/><stop offset=".75" stop-color="#363636"/><stop offset=".833" stop-color="#2c2c2c"/><stop offset=".917" stop-color="#242424"/><stop offset="1" stop-color="#252525"/></linearGradient>
<linearGradient id="gE12" x1="0" y1="0" x2="0" y2="1"><stop offset="0" stop-color="#090909"/><stop offset=".083" stop-color="#111111"/><stop offset=".167" stop-color="#1e1e1e"/><stop offset=".25" stop-color="#2b2b2b"/><stop offset=".333" stop-color="#323232"/><stop offset=".417" stop-color="#393939"/><stop offset=".5" stop-color="#3c3c3c"/><stop offset=".583" stop-color="#3d3d3d"/><stop offset=".667" stop-color="#3f3f3f"/><stop offset=".75" stop-color="#3f3f3f"/><stop offset=".833" stop-color="#3e3e3e"/><stop offset=".917" stop-color="#3c3c3c"/><stop offset="1" stop-color="#383838"/></linearGradient>
<linearGradient id="gE13" x1="0" y1="0" x2="0" y2="1"><stop offset="0" stop-color="#0a0a0a"/><stop offset=".083" stop-color="#141414"/><stop offset=".167" stop-color="#202020"/><stop offset=".25" stop-color="#2e2e2e"/><stop offset=".333" stop-color="#383838"/><stop offset=".417" stop-color="#3f3f3f"/><stop offset=".5" stop-color="#444444"/><stop offset=".583" stop-color="#484848"/><stop offset=".667" stop-color="#4a4a4a"/><stop offset=".75" stop-color="#4b4b4b"/><stop offset=".833" stop-color="#494949"/><stop offset=".917" stop-color="#484848"/><stop offset="1" stop-color="#444444"/></linearGradient>
<linearGradient id="gE14" x1="0" y1="0" x2="0" y2="1"><stop offset="0" stop-color="#0a0a0a"/><stop offset=".083" stop-color="#131313"/><stop offset=".167" stop-color="#212121"/><stop offset=".25" stop-color="#323232"/><stop offset=".333" stop-color="#404040"/><stop offset=".417" stop-color="#494949"/><stop offset=".5" stop-color="#515151"/><stop offset=".583" stop-color="#555555"/><stop offset=".667" stop-color="#565656"/><stop offset=".75" stop-color="#555555"/><stop offset=".833" stop-color="#535353"/><stop offset=".917" stop-color="#505050"/><stop offset="1" stop-color="#4c4c4c"/></linearGradient>
<linearGradient id="gE15" x1="0" y1="0" x2="0" y2="1"><stop offset="0" stop-color="#090909"/><stop offset=".083" stop-color="#101010"/><stop offset=".167" stop-color="#1f1f1f"/><stop offset=".25" stop-color="#373737"/><stop offset=".333" stop-color="#4b4b4b"/><stop offset=".417" stop-color="#555555"/><stop offset=".5" stop-color="#5d5d5d"/><stop offset=".583" stop-color="#5f5f5f"/><stop offset=".667" stop-color="#5d5d5d"/><stop offset=".75" stop-color="#5b5b5b"/><stop offset=".833" stop-color="#585858"/><stop offset=".917" stop-color="#535353"/><stop offset="1" stop-color="#4e4e4e"/></linearGradient>
<linearGradient id="gE16" x1="0" y1="0" x2="0" y2="1"><stop offset="0" stop-color="#070707"/><stop offset=".083" stop-color="#0d0d0d"/><stop offset=".167" stop-color="#1c1c1c"/><stop offset=".25" stop-color="#424242"/><stop offset=".333" stop-color="#555555"/><stop offset=".417" stop-color="#5f5f5f"/><stop offset=".5" stop-color="#646464"/><stop offset=".583" stop-color="#656565"/><stop offset=".667" stop-color="#606060"/><stop offset=".75" stop-color="#5c5c5c"/><stop offset=".833" stop-color="#585858"/><stop offset=".917" stop-color="#535353"/><stop offset="1" stop-color="#4f4f4f"/></linearGradient>
<linearGradient id="gE17" x1="0" y1="0" x2="0" y2="1"><stop offset="0" stop-color="#080808"/><stop offset=".083" stop-color="#0e0e0e"/><stop offset=".167" stop-color="#1d1d1d"/><stop offset=".25" stop-color="#414141"/><stop offset=".333" stop-color="#555555"/><stop offset=".417" stop-color="#5d5d5d"/><stop offset=".5" stop-color="#626262"/><stop offset=".583" stop-color="#626262"/><stop offset=".667" stop-color="#5e5e5e"/><stop offset=".75" stop-color="#5a5a5a"/><stop offset=".833" stop-color="#555555"/><stop offset=".917" stop-color="#515151"/><stop offset="1" stop-color="#4e4e4e"/></linearGradient>
<linearGradient id="gE18" x1="0" y1="0" x2="0" y2="1"><stop offset="0" stop-color="#090909"/><stop offset=".083" stop-color="#101010"/><stop offset=".167" stop-color="#1e1e1e"/><stop offset=".25" stop-color="#393939"/><stop offset=".333" stop-color="#4c4c4c"/><stop offset=".417" stop-color="#545454"/><stop offset=".5" stop-color="#575757"/><stop offset=".583" stop-color="#595959"/><stop offset=".667" stop-color="#575757"/><stop offset=".75" stop-color="#545454"/><stop offset=".833" stop-color="#505050"/><stop offset=".917" stop-color="#4e4e4e"/><stop offset="1" stop-color="#4d4d4d"/></linearGradient>
<linearGradient id="gE19" x1="0" y1="0" x2="0" y2="1"><stop offset="0" stop-color="#0a0a0a"/><stop offset=".083" stop-color="#111111"/><stop offset=".167" stop-color="#1c1c1c"/><stop offset=".25" stop-color="#303030"/><stop offset=".333" stop-color="#404040"/><stop offset=".417" stop-color="#494949"/><stop offset=".5" stop-color="#4e4e4e"/><stop offset=".583" stop-color="#4f4f4f"/><stop offset=".667" stop-color="#4f4f4f"/><stop offset=".75" stop-color="#4d4d4d"/><stop offset=".833" stop-color="#4c4c4c"/><stop offset=".917" stop-color="#4c4c4c"/><stop offset="1" stop-color="#4b4b4b"/></linearGradient>
<linearGradient id="gE20" x1="0" y1="0" x2="0" y2="1"><stop offset="0" stop-color="#0a0a0a"/><stop offset=".083" stop-color="#0f0f0f"/><stop offset=".167" stop-color="#191919"/><stop offset=".25" stop-color="#262626"/><stop offset=".333" stop-color="#383838"/><stop offset=".417" stop-color="#3f3f3f"/><stop offset=".5" stop-color="#464646"/><stop offset=".583" stop-color="#494949"/><stop offset=".667" stop-color="#4a4a4a"/><stop offset=".75" stop-color="#4a4a4a"/><stop offset=".833" stop-color="#4a4a4a"/><stop offset=".917" stop-color="#4b4b4b"/><stop offset="1" stop-color="#4a4a4a"/></linearGradient>
<linearGradient id="gE21" x1="0" y1="0" x2="0" y2="1"><stop offset="0" stop-color="#0a0a0a"/><stop offset=".083" stop-color="#0e0e0e"/><stop offset=".167" stop-color="#161616"/><stop offset=".25" stop-color="#202020"/><stop offset=".333" stop-color="#303030"/><stop offset=".417" stop-color="#3a3a3a"/><stop offset=".5" stop-color="#404040"/><stop offset=".583" stop-color="#454545"/><stop offset=".667" stop-color="#474747"/><stop offset=".75" stop-color="#494949"/><stop offset=".833" stop-color="#4a4a4a"/><stop offset=".917" stop-color="#4a4a4a"/><stop offset="1" stop-color="#4a4a4a"/></linearGradient>
<linearGradient id="gE22" x1="0" y1="0" x2="0" y2="1"><stop offset="0" stop-color="#0b0b0b"/><stop offset=".083" stop-color="#0e0e0e"/><stop offset=".167" stop-color="#151515"/><stop offset=".25" stop-color="#1d1d1d"/><stop offset=".333" stop-color="#282828"/><stop offset=".417" stop-color="#363636"/><stop offset=".5" stop-color="#3d3d3d"/><stop offset=".583" stop-color="#434343"/><stop offset=".667" stop-color="#464646"/><stop offset=".75" stop-color="#484848"/><stop offset=".833" stop-color="#4a4a4a"/><stop offset=".917" stop-color="#4a4a4a"/><stop offset="1" stop-color="#494949"/></linearGradient>
<linearGradient id="gE23" x1="0" y1="0" x2="0" y2="1"><stop offset="0" stop-color="#0c0c0c"/><stop offset=".083" stop-color="#0f0f0f"/><stop offset=".167" stop-color="#141414"/><stop offset=".25" stop-color="#1a1a1a"/><stop offset=".333" stop-color="#232323"/><stop offset=".417" stop-color="#313131"/><stop offset=".5" stop-color="#3a3a3a"/><stop offset=".583" stop-color="#404040"/><stop offset=".667" stop-color="#444444"/><stop offset=".75" stop-color="#484848"/><stop offset=".833" stop-color="#4a4a4a"/><stop offset=".917" stop-color="#4a4a4a"/><stop offset="1" stop-color="#494949"/></linearGradient>
<linearGradient id="gE24" x1="0" y1="0" x2="0" y2="1"><stop offset="0" stop-color="#0a0a0a"/><stop offset=".083" stop-color="#0e0e0e"/><stop offset=".167" stop-color="#131313"/><stop offset=".25" stop-color="#191919"/><stop offset=".333" stop-color="#202020"/><stop offset=".417" stop-color="#2a2a2a"/><stop offset=".5" stop-color="#363636"/><stop offset=".583" stop-color="#3d3d3d"/><stop offset=".667" stop-color="#424242"/><stop offset=".75" stop-color="#474747"/><stop offset=".833" stop-color="#4a4a4a"/><stop offset=".917" stop-color="#494949"/><stop offset="1" stop-color="#484848"/></linearGradient>
<linearGradient id="gE25" x1="0" y1="0" x2="0" y2="1"><stop offset="0" stop-color="#090909"/><stop offset=".083" stop-color="#0d0d0d"/><stop offset=".167" stop-color="#111111"/><stop offset=".25" stop-color="#171717"/><stop offset=".333" stop-color="#1e1e1e"/><stop offset=".417" stop-color="#252525"/><stop offset=".5" stop-color="#313131"/><stop offset=".583" stop-color="#3a3a3a"/><stop offset=".667" stop-color="#404040"/><stop offset=".75" stop-color="#454545"/><stop offset=".833" stop-color="#484848"/><stop offset=".917" stop-color="#474747"/><stop offset="1" stop-color="#464646"/></linearGradient>
<linearGradient id="gE26" x1="0" y1="0" x2="0" y2="1"><stop offset="0" stop-color="#080808"/><stop offset=".083" stop-color="#0c0c0c"/><stop offset=".167" stop-color="#101010"/><stop offset=".25" stop-color="#161616"/><stop offset=".333" stop-color="#1c1c1c"/><stop offset=".417" stop-color="#232323"/><stop offset=".5" stop-color="#2c2c2c"/><stop offset=".583" stop-color="#363636"/><stop offset=".667" stop-color="#3d3d3d"/><stop offset=".75" stop-color="#424242"/><stop offset=".833" stop-color="#444444"/><stop offset=".917" stop-color="#454545"/><stop offset="1" stop-color="#444444"/></linearGradient>
<linearGradient id="gE27" x1="0" y1="0" x2="0" y2="1"><stop offset="0" stop-color="#070707"/><stop offset=".083" stop-color="#0b0b0b"/><stop offset=".167" stop-color="#101010"/><stop offset=".25" stop-color="#151515"/><stop offset=".333" stop-color="#1a1a1a"/><stop offset=".417" stop-color="#212121"/><stop offset=".5" stop-color="#292929"/><stop offset=".583" stop-color="#323232"/><stop offset=".667" stop-color="#3a3a3a"/><stop offset=".75" stop-color="#3e3e3e"/><stop offset=".833" stop-color="#414141"/><stop offset=".917" stop-color="#424242"/><stop offset="1" stop-color="#424242"/></linearGradient>
<linearGradient id="gE28" x1="0" y1="0" x2="0" y2="1"><stop offset="0" stop-color="#070707"/><stop offset=".083" stop-color="#0b0b0b"/><stop offset=".167" stop-color="#0f0f0f"/><stop offset=".25" stop-color="#141414"/><stop offset=".333" stop-color="#191919"/><stop offset=".417" stop-color="#1f1f1f"/><stop offset=".5" stop-color="#262626"/><stop offset=".583" stop-color="#2e2e2e"/><stop offset=".667" stop-color="#363636"/><stop offset=".75" stop-color="#3a3a3a"/><stop offset=".833" stop-color="#3d3d3d"/><stop offset=".917" stop-color="#3f3f3f"/><stop offset="1" stop-color="#404040"/></linearGradient>
<linearGradient id="gE29" x1="0" y1="0" x2="0" y2="1"><stop offset="0" stop-color="#070707"/><stop offset=".083" stop-color="#0b0b0b"/><stop offset=".167" stop-color="#0f0f0f"/><stop offset=".25" stop-color="#131313"/><stop offset=".333" stop-color="#181818"/><stop offset=".417" stop-color="#1d1d1d"/><stop offset=".5" stop-color="#232323"/><stop offset=".583" stop-color="#292929"/><stop offset=".667" stop-color="#303030"/><stop offset=".75" stop-color="#363636"/><stop offset=".833" stop-color="#393939"/><stop offset=".917" stop-color="#3c3c3c"/><stop offset="1" stop-color="#3d3d3d"/></linearGradient>
<linearGradient id="gE30" x1="0" y1="0" x2="0" y2="1"><stop offset="0" stop-color="#070707"/><stop offset=".083" stop-color="#0b0b0b"/><stop offset=".167" stop-color="#0f0f0f"/><stop offset=".25" stop-color="#131313"/><stop offset=".333" stop-color="#181818"/><stop offset=".417" stop-color="#1d1d1d"/><stop offset=".5" stop-color="#232323"/><stop offset=".583" stop-color="#292929"/><stop offset=".667" stop-color="#303030"/><stop offset=".75" stop-color="#363636"/><stop offset=".833" stop-color="#393939"/><stop offset=".917" stop-color="#3c3c3c"/><stop offset="1" stop-color="#3d3d3d"/></linearGradient>
<linearGradient id="gE31" x1="0" y1="0" x2="0" y2="1"><stop offset="0" stop-color="#070707"/><stop offset=".083" stop-color="#0b0b0b"/><stop offset=".167" stop-color="#0f0f0f"/><stop offset=".25" stop-color="#131313"/><stop offset=".333" stop-color="#181818"/><stop offset=".417" stop-color="#1d1d1d"/><stop offset=".5" stop-color="#232323"/><stop offset=".583" stop-color="#292929"/><stop offset=".667" stop-color="#303030"/><stop offset=".75" stop-color="#363636"/><stop offset=".833" stop-color="#393939"/><stop offset=".917" stop-color="#3c3c3c"/><stop offset="1" stop-color="#3d3d3d"/></linearGradient>
<linearGradient id="gF0" x1="0" y1="0" x2="0" y2="1"><stop offset="0" stop-color="#252525"/><stop offset=".083" stop-color="#222222"/><stop offset=".167" stop-color="#212121"/><stop offset=".25" stop-color="#222222"/><stop offset=".333" stop-color="#222222"/><stop offset=".417" stop-color="#242424"/><stop offset=".5" stop-color="#262626"/><stop offset=".583" stop-color="#282828"/><stop offset=".667" stop-color="#2c2c2c"/><stop offset=".75" stop-color="#2f2f2f"/><stop offset=".833" stop-color="#323232"/><stop offset=".917" stop-color="#353535"/><stop offset="1" stop-color="#3a3a3a"/></linearGradient>
<linearGradient id="gF1" x1="0" y1="0" x2="0" y2="1"><stop offset="0" stop-color="#252525"/><stop offset=".083" stop-color="#222222"/><stop offset=".167" stop-color="#212121"/><stop offset=".25" stop-color="#222222"/><stop offset=".333" stop-color="#222222"/><stop offset=".417" stop-color="#242424"/><stop offset=".5" stop-color="#262626"/><stop offset=".583" stop-color="#282828"/><stop offset=".667" stop-color="#2c2c2c"/><stop offset=".75" stop-color="#2f2f2f"/><stop offset=".833" stop-color="#323232"/><stop offset=".917" stop-color="#353535"/><stop offset="1" stop-color="#3a3a3a"/></linearGradient>
<linearGradient id="gF2" x1="0" y1="0" x2="0" y2="1"><stop offset="0" stop-color="#252525"/><stop offset=".083" stop-color="#222222"/><stop offset=".167" stop-color="#212121"/><stop offset=".25" stop-color="#222222"/><stop offset=".333" stop-color="#222222"/><stop offset=".417" stop-color="#242424"/><stop offset=".5" stop-color="#262626"/><stop offset=".583" stop-color="#282828"/><stop offset=".667" stop-color="#2c2c2c"/><stop offset=".75" stop-color="#2f2f2f"/><stop offset=".833" stop-color="#323232"/><stop offset=".917" stop-color="#353535"/><stop offset="1" stop-color="#3a3a3a"/></linearGradient>
<linearGradient id="gF3" x1="0" y1="0" x2="0" y2="1"><stop offset="0" stop-color="#252525"/><stop offset=".083" stop-color="#222222"/><stop offset=".167" stop-color="#222222"/><stop offset=".25" stop-color="#232323"/><stop offset=".333" stop-color="#232323"/><stop offset=".417" stop-color="#242424"/><stop offset=".5" stop-color="#252525"/><stop offset=".583" stop-color="#292929"/><stop offset=".667" stop-color="#2e2e2e"/><stop offset=".75" stop-color="#313131"/><stop offset=".833" stop-color="#333333"/><stop offset=".917" stop-color="#373737"/><stop offset="1" stop-color="#3d3d3d"/></linearGradient>
<linearGradient id="gF4" x1="0" y1="0" x2="0" y2="1"><stop offset="0" stop-color="#262626"/><stop offset=".083" stop-color="#222222"/><stop offset=".167" stop-color="#232323"/><stop offset=".25" stop-color="#242424"/><stop offset=".333" stop-color="#242424"/><stop offset=".417" stop-color="#242424"/><stop offset=".5" stop-color="#252525"/><stop offset=".583" stop-color="#2a2a2a"/><stop offset=".667" stop-color="#303030"/><stop offset=".75" stop-color="#343434"/><stop offset=".833" stop-color="#363636"/><stop offset=".917" stop-color="#393939"/><stop offset="1" stop-color="#404040"/></linearGradient>
<linearGradient id="gF5" x1="0" y1="0" x2="0" y2="1"><stop offset="0" stop-color="#282828"/><stop offset=".083" stop-color="#242424"/><stop offset=".167" stop-color="#252525"/><stop offset=".25" stop-color="#242424"/><stop offset=".333" stop-color="#242424"/><stop offset=".417" stop-color="#242424"/><stop offset=".5" stop-color="#272727"/><stop offset=".583" stop-color="#2d2d2d"/><stop offset=".667" stop-color="#353535"/><stop offset=".75" stop-color="#3a3a3a"/><stop offset=".833" stop-color="#3b3b3b"/><stop offset=".917" stop-color="#3f3f3f"/><stop offset="1" stop-color="#464646"/></linearGradient>
<linearGradient id="gF6" x1="0" y1="0" x2="0" y2="1"><stop offset="0" stop-color="#2e2e2e"/><stop offset=".083" stop-color="#2c2c2c"/><stop offset=".167" stop-color="#2d2d2d"/><stop offset=".25" stop-color="#2a2a2a"/><stop offset=".333" stop-color="#292929"/><stop offset=".417" stop-color="#292929"/><stop offset=".5" stop-color="#2e2e2e"/><stop offset=".583" stop-color="#363636"/><stop offset=".667" stop-color="#3e3e3e"/><stop offset=".75" stop-color="#434343"/><stop offset=".833" stop-color="#454545"/><stop offset=".917" stop-color="#484848"/><stop offset="1" stop-color="#4d4d4d"/></linearGradient>
<linearGradient id="gF7" x1="0" y1="0" x2="0" y2="1"><stop offset="0" stop-color="#444444"/><stop offset=".083" stop-color="#414141"/><stop offset=".167" stop-color="#424242"/><stop offset=".25" stop-color="#424242"/><stop offset=".333" stop-color="#444444"/><stop offset=".417" stop-color="#454545"/><stop offset=".5" stop-color="#464646"/><stop offset=".583" stop-color="#484848"/><stop offset=".667" stop-color="#4d4d4d"/><stop offset=".75" stop-color="#505050"/><stop offset=".833" stop-color="#515151"/><stop offset=".917" stop-color="#535353"/><stop offset="1" stop-color="#565656"/></linearGradient>
<linearGradient id="gF8" x1="0" y1="0" x2="0" y2="1"><stop offset="0" stop-color="#616161"/><stop offset=".083" stop-color="#606060"/><stop offset=".167" stop-color="#606060"/><stop offset=".25" stop-color="#626262"/><stop offset=".333" stop-color="#666666"/><stop offset=".417" stop-color="#696969"/><stop offset=".5" stop-color="#696969"/><stop offset=".583" stop-color="#636363"/><stop offset=".667" stop-color="#5f5f5f"/><stop offset=".75" stop-color="#5e5e5e"/><stop offset=".833" stop-color="#5d5d5d"/><stop offset=".917" stop-color="#5e5e5e"/><stop offset="1" stop-color="#5f5f5f"/></linearGradient>
<linearGradient id="gF9" x1="0" y1="0" x2="0" y2="1"><stop offset="0" stop-color="#737373"/><stop offset=".083" stop-color="#787878"/><stop offset=".167" stop-color="#787878"/><stop offset=".25" stop-color="#7c7c7c"/><stop offset=".333" stop-color="#838383"/><stop offset=".417" stop-color="#898989"/><stop offset=".5" stop-color="#858585"/><stop offset=".583" stop-color="#7c7c7c"/><stop offset=".667" stop-color="#737373"/><stop offset=".75" stop-color="#6d6d6d"/><stop offset=".833" stop-color="#6a6a6a"/><stop offset=".917" stop-color="#696969"/><stop offset="1" stop-color="#696969"/></linearGradient>
<linearGradient id="gF10" x1="0" y1="0" x2="0" y2="1"><stop offset="0" stop-color="#818181"/><stop offset=".083" stop-color="#838383"/><stop offset=".167" stop-color="#868686"/><stop offset=".25" stop-color="#8c8c8c"/><stop offset=".333" stop-color="#949494"/><stop offset=".417" stop-color="#969696"/><stop offset=".5" stop-color="#939393"/><stop offset=".583" stop-color="#8c8c8c"/><stop offset=".667" stop-color="#838383"/><stop offset=".75" stop-color="#7c7c7c"/><stop offset=".833" stop-color="#777777"/><stop offset=".917" stop-color="#747474"/><stop offset="1" stop-color="#737373"/></linearGradient>
<linearGradient id="gF11" x1="0" y1="0" x2="0" y2="1"><stop offset="0" stop-color="#919191"/><stop offset=".083" stop-color="#929292"/><stop offset=".167" stop-color="#949494"/><stop offset=".25" stop-color="#999999"/><stop offset=".333" stop-color="#9f9f9f"/><stop offset=".417" stop-color="#9d9d9d"/><stop offset=".5" stop-color="#9a9a9a"/><stop offset=".583" stop-color="#969696"/><stop offset=".667" stop-color="#919191"/><stop offset=".75" stop-color="#8a8a8a"/><stop offset=".833" stop-color="#848484"/><stop offset=".917" stop-color="#808080"/><stop offset="1" stop-color="#7e7e7e"/></linearGradient>
<linearGradient id="gF12" x1="0" y1="0" x2="0" y2="1"><stop offset="0" stop-color="#a8a8a8"/><stop offset=".083" stop-color="#a9a9a9"/><stop offset=".167" stop-color="#a8a8a8"/><stop offset=".25" stop-color="#a7a7a7"/><stop offset=".333" stop-color="#ababab"/><stop offset=".417" stop-color="#a5a5a5"/><stop offset=".5" stop-color="#a2a2a2"/><stop offset=".583" stop-color="#a0a0a0"/><stop offset=".667" stop-color="#9e9e9e"/><stop offset=".75" stop-color="#999999"/><stop offset=".833" stop-color="#939393"/><stop offset=".917" stop-color="#8d8d8d"/><stop offset="1" stop-color="#8a8a8a"/></linearGradient>
<linearGradient id="gF13" x1="0" y1="0" x2="0" y2="1"><stop offset="0" stop-color="#cacaca"/><stop offset=".083" stop-color="#c8c8c8"/><stop offset=".167" stop-color="#c2c2c2"/><stop offset=".25" stop-color="#bcbcbc"/><stop offset=".333" stop-color="#b9b9b9"/><stop offset=".417" stop-color="#b6b6b6"/><stop offset=".5" stop-color="#b2b2b2"/><stop offset=".583" stop-color="#afafaf"/><stop offset=".667" stop-color="#ababab"/><stop offset=".75" stop-color="#a7a7a7"/><stop offset=".833" stop-color="#a3a3a3"/><stop offset=".917" stop-color="#9d9d9d"/><stop offset="1" stop-color="#989898"/></linearGradient>
<linearGradient id="gF14" x1="0" y1="0" x2="0" y2="1"><stop offset="0" stop-color="#e1e1e1"/><stop offset=".083" stop-color="#dfdfdf"/><stop offset=".167" stop-color="#d6d6d6"/><stop offset=".25" stop-color="#cccccc"/><stop offset=".333" stop-color="#c5c5c5"/><stop offset=".417" stop-color="#c1c1c1"/><stop offset=".5" stop-color="#bebebe"/><stop offset=".583" stop-color="#bbbbbb"/><stop offset=".667" stop-color="#b8b8b8"/><stop offset=".75" stop-color="#b2b2b2"/><stop offset=".833" stop-color="#acacac"/><stop offset=".917" stop-color="#a8a8a8"/><stop offset="1" stop-color="#a2a2a2"/></linearGradient>
<linearGradient id="gF15" x1="0" y1="0" x2="0" y2="1"><stop offset="0" stop-color="#ededed"/><stop offset=".083" stop-color="#ebebeb"/><stop offset=".167" stop-color="#e0e0e0"/><stop offset=".25" stop-color="#d4d4d4"/><stop offset=".333" stop-color="#cbcbcb"/><stop offset=".417" stop-color="#c6c6c6"/><stop offset=".5" stop-color="#c3c3c3"/><stop offset=".583" stop-color="#c0c0c0"/><stop offset=".667" stop-color="#bdbdbd"/><stop offset=".75" stop-color="#b9b9b9"/><stop offset=".833" stop-color="#b0b0b0"/><stop offset=".917" stop-color="#ababab"/><stop offset="1" stop-color="#a4a4a4"/></linearGradient>
<linearGradient id="gF16" x1="0" y1="0" x2="0" y2="1"><stop offset="0" stop-color="#f2f2f2"/><stop offset=".083" stop-color="#f1f1f1"/><stop offset=".167" stop-color="#e4e4e4"/><stop offset=".25" stop-color="#d6d6d6"/><stop offset=".333" stop-color="#cdcdcd"/><stop offset=".417" stop-color="#c8c8c8"/><stop offset=".5" stop-color="#c4c4c4"/><stop offset=".583" stop-color="#c1c1c1"/><stop offset=".667" stop-color="#bdbdbd"/><stop offset=".75" stop-color="#b7b7b7"/><stop offset=".833" stop-color="#b0b0b0"/><stop offset=".917" stop-color="#aaaaaa"/><stop offset="1" stop-color="#a4a4a4"/></linearGradient>
<linearGradient id="gF17" x1="0" y1="0" x2="0" y2="1"><stop offset="0" stop-color="#f1f1f1"/><stop offset=".083" stop-color="#f0f0f0"/><stop offset=".167" stop-color="#e3e3e3"/><stop offset=".25" stop-color="#d6d6d6"/><stop offset=".333" stop-color="#cccccc"/><stop offset=".417" stop-color="#c7c7c7"/><stop offset=".5" stop-color="#c3c3c3"/><stop offset=".583" stop-color="#bfbfbf"/><stop offset=".667" stop-color="#bbbbbb"/><stop offset=".75" stop-color="#b3b3b3"/><stop offset=".833" stop-color="#acacac"/><stop offset=".917" stop-color="#a7a7a7"/><stop offset="1" stop-color="#a2a2a2"/></linearGradient>
<linearGradient id="gF18" x1="0" y1="0" x2="0" y2="1"><stop offset="0" stop-color="#eaeaea"/><stop offset=".083" stop-color="#e9e9e9"/><stop offset=".167" stop-color="#e0e0e0"/><stop offset=".25" stop-color="#d4d4d4"/><stop offset=".333" stop-color="#cbcbcb"/><stop offset=".417" stop-color="#c4c4c4"/><stop offset=".5" stop-color="#bfbfbf"/><stop offset=".583" stop-color="#bababa"/><stop offset=".667" stop-color="#b4b4b4"/><stop offset=".75" stop-color="#acacac"/><stop offset=".833" stop-color="#a6a6a6"/><stop offset=".917" stop-color="#a3a3a3"/><stop offset="1" stop-color="#a0a0a0"/></linearGradient>
<linearGradient id="gF19" x1="0" y1="0" x2="0" y2="1"><stop offset="0" stop-color="#e2e2e2"/><stop offset=".083" stop-color="#e1e1e1"/><stop offset=".167" stop-color="#dadada"/><stop offset=".25" stop-color="#d1d1d1"/><stop offset=".333" stop-color="#c7c7c7"/><stop offset=".417" stop-color="#c0c0c0"/><stop offset=".5" stop-color="#bababa"/><stop offset=".583" stop-color="#b3b3b3"/><stop offset=".667" stop-color="#ababab"/><stop offset=".75" stop-color="#a4a4a4"/><stop offset=".833" stop-color="#a1a1a1"/><stop offset=".917" stop-color="#9f9f9f"/><stop offset="1" stop-color="#9d9d9d"/></linearGradient>
<linearGradient id="gF20" x1="0" y1="0" x2="0" y2="1"><stop offset="0" stop-color="#d8d8d8"/><stop offset=".083" stop-color="#d9d9d9"/><stop offset=".167" stop-color="#d2d2d2"/><stop offset=".25" stop-color="#c9c9c9"/><stop offset=".333" stop-color="#c0c0c0"/><stop offset=".417" stop-color="#b9b9b9"/><stop offset=".5" stop-color="#b3b3b3"/><stop offset=".583" stop-color="#ababab"/><stop offset=".667" stop-color="#a3a3a3"/><stop offset=".75" stop-color="#9f9f9f"/><stop offset=".833" stop-color="#9d9d9d"/><stop offset=".917" stop-color="#9d9d9d"/><stop offset="1" stop-color="#9b9b9b"/></linearGradient>
<linearGradient id="gF21" x1="0" y1="0" x2="0" y2="1"><stop offset="0" stop-color="#cecece"/><stop offset=".083" stop-color="#d1d1d1"/><stop offset=".167" stop-color="#c7c7c7"/><stop offset=".25" stop-color="#bfbfbf"/><stop offset=".333" stop-color="#b8b8b8"/><stop offset=".417" stop-color="#b2b2b2"/><stop offset=".5" stop-color="#acacac"/><stop offset=".583" stop-color="#a5a5a5"/><stop offset=".667" stop-color="#9f9f9f"/><stop offset=".75" stop-color="#9c9c9c"/><stop offset=".833" stop-color="#9b9b9b"/><stop offset=".917" stop-color="#9a9a9a"/><stop offset="1" stop-color="#999999"/></linearGradient>
<linearGradient id="gF22" x1="0" y1="0" x2="0" y2="1"><stop offset="0" stop-color="#bebebe"/><stop offset=".083" stop-color="#c1c1c1"/><stop offset=".167" stop-color="#b9b9b9"/><stop offset=".25" stop-color="#b3b3b3"/><stop offset=".333" stop-color="#aeaeae"/><stop offset=".417" stop-color="#aaaaaa"/><stop offset=".5" stop-color="#a6a6a6"/><stop offset=".583" stop-color="#a0a0a0"/><stop offset=".667" stop-color="#9c9c9c"/><stop offset=".75" stop-color="#9a9a9a"/><stop offset=".833" stop-color="#999999"/><stop offset=".917" stop-color="#989898"/><stop offset="1" stop-color="#989898"/></linearGradient>
<linearGradient id="gF23" x1="0" y1="0" x2="0" y2="1"><stop offset="0" stop-color="#a3a3a3"/><stop offset=".083" stop-color="#a5a5a5"/><stop offset=".167" stop-color="#a4a4a4"/><stop offset=".25" stop-color="#a4a4a4"/><stop offset=".333" stop-color="#a3a3a3"/><stop offset=".417" stop-color="#a2a2a2"/><stop offset=".5" stop-color="#a0a0a0"/><stop offset=".583" stop-color="#9c9c9c"/><stop offset=".667" stop-color="#9a9a9a"/><stop offset=".75" stop-color="#989898"/><stop offset=".833" stop-color="#979797"/><stop offset=".917" stop-color="#979797"/><stop offset="1" stop-color="#969696"/></linearGradient>
<linearGradient id="gF24" x1="0" y1="0" x2="0" y2="1"><stop offset="0" stop-color="#868686"/><stop offset=".083" stop-color="#878787"/><stop offset=".167" stop-color="#8d8d8d"/><stop offset=".25" stop-color="#949494"/><stop offset=".333" stop-color="#979797"/><stop offset=".417" stop-color="#999999"/><stop offset=".5" stop-color="#999999"/><stop offset=".583" stop-color="#989898"/><stop offset=".667" stop-color="#979797"/><stop offset=".75" stop-color="#969696"/><stop offset=".833" stop-color="#969696"/><stop offset=".917" stop-color="#969696"/><stop offset="1" stop-color="#959595"/></linearGradient>
<linearGradient id="gF25" x1="0" y1="0" x2="0" y2="1"><stop offset="0" stop-color="#757575"/><stop offset=".083" stop-color="#737373"/><stop offset=".167" stop-color="#7f7f7f"/><stop offset=".25" stop-color="#878787"/><stop offset=".333" stop-color="#8d8d8d"/><stop offset=".417" stop-color="#919191"/><stop offset=".5" stop-color="#939393"/><stop offset=".583" stop-color="#949494"/><stop offset=".667" stop-color="#959595"/><stop offset=".75" stop-color="#959595"/><stop offset=".833" stop-color="#959595"/><stop offset=".917" stop-color="#949494"/><stop offset="1" stop-color="#949494"/></linearGradient>
<linearGradient id="gF26" x1="0" y1="0" x2="0" y2="1"><stop offset="0" stop-color="#727272"/><stop offset=".083" stop-color="#707070"/><stop offset=".167" stop-color="#7a7a7a"/><stop offset=".25" stop-color="#838383"/><stop offset=".333" stop-color="#898989"/><stop offset=".417" stop-color="#8c8c8c"/><stop offset=".5" stop-color="#8f8f8f"/><stop offset=".583" stop-color="#919191"/><stop offset=".667" stop-color="#929292"/><stop offset=".75" stop-color="#939393"/><stop offset=".833" stop-color="#939393"/><stop offset=".917" stop-color="#939393"/><stop offset="1" stop-color="#939393"/></linearGradient>
<linearGradient id="gF27" x1="0" y1="0" x2="0" y2="1"><stop offset="0" stop-color="#757575"/><stop offset=".083" stop-color="#747474"/><stop offset=".167" stop-color="#7c7c7c"/><stop offset=".25" stop-color="#848484"/><stop offset=".333" stop-color="#888888"/><stop offset=".417" stop-color="#8a8a8a"/><stop offset=".5" stop-color="#8c8c8c"/><stop offset=".583" stop-color="#8f8f8f"/><stop offset=".667" stop-color="#919191"/><stop offset=".75" stop-color="#929292"/><stop offset=".833" stop-color="#939393"/><stop offset=".917" stop-color="#939393"/><stop offset="1" stop-color="#929292"/></linearGradient>
<linearGradient id="gF28" x1="0" y1="0" x2="0" y2="1"><stop offset="0" stop-color="#808080"/><stop offset=".083" stop-color="#808080"/><stop offset=".167" stop-color="#828282"/><stop offset=".25" stop-color="#878787"/><stop offset=".333" stop-color="#8b8b8b"/><stop offset=".417" stop-color="#8b8b8b"/><stop offset=".5" stop-color="#8b8b8b"/><stop offset=".583" stop-color="#8e8e8e"/><stop offset=".667" stop-color="#909090"/><stop offset=".75" stop-color="#919191"/><stop offset=".833" stop-color="#929292"/><stop offset=".917" stop-color="#929292"/><stop offset="1" stop-color="#929292"/></linearGradient>
<linearGradient id="gF29" x1="0" y1="0" x2="0" y2="1"><stop offset="0" stop-color="#888888"/><stop offset=".083" stop-color="#8a8a8a"/><stop offset=".167" stop-color="#898989"/><stop offset=".25" stop-color="#8c8c8c"/><stop offset=".333" stop-color="#909090"/><stop offset=".417" stop-color="#8e8e8e"/><stop offset=".5" stop-color="#8c8c8c"/><stop offset=".583" stop-color="#8e8e8e"/><stop offset=".667" stop-color="#909090"/><stop offset=".75" stop-color="#919191"/><stop offset=".833" stop-color="#919191"/><stop offset=".917" stop-color="#929292"/><stop offset="1" stop-color="#919191"/></linearGradient>
<linearGradient id="gF30" x1="0" y1="0" x2="0" y2="1"><stop offset="0" stop-color="#888888"/><stop offset=".083" stop-color="#8a8a8a"/><stop offset=".167" stop-color="#898989"/><stop offset=".25" stop-color="#8c8c8c"/><stop offset=".333" stop-color="#909090"/><stop offset=".417" stop-color="#8e8e8e"/><stop offset=".5" stop-color="#8c8c8c"/><stop offset=".583" stop-color="#8e8e8e"/><stop offset=".667" stop-color="#909090"/><stop offset=".75" stop-color="#919191"/><stop offset=".833" stop-color="#919191"/><stop offset=".917" stop-color="#929292"/><stop offset="1" stop-color="#919191"/></linearGradient>
<linearGradient id="gF31" x1="0" y1="0" x2="0" y2="1"><stop offset="0" stop-color="#888888"/><stop offset=".083" stop-color="#8a8a8a"/><stop offset=".167" stop-color="#898989"/><stop offset=".25" stop-color="#8c8c8c"/><stop offset=".333" stop-color="#909090"/><stop offset=".417" stop-color="#8e8e8e"/><stop offset=".5" stop-color="#8c8c8c"/><stop offset=".583" stop-color="#8e8e8e"/><stop offset=".667" stop-color="#909090"/><stop offset=".75" stop-color="#919191"/><stop offset=".833" stop-color="#919191"/><stop offset=".917" stop-color="#929292"/><stop offset="1" stop-color="#919191"/></linearGradient>
<linearGradient id="gG0" x1="0" y1="0" x2="0" y2="1"><stop offset="0" stop-color="#0a0a0a"/><stop offset=".083" stop-color="#090909"/><stop offset=".167" stop-color="#080808"/><stop offset=".25" stop-color="#070707"/><stop offset=".333" stop-color="#070707"/><stop offset=".417" stop-color="#060606"/><stop offset=".5" stop-color="#060606"/><stop offset=".583" stop-color="#040404"/><stop offset=".667" stop-color="#030303"/><stop offset=".75" stop-color="#020202"/><stop offset=".833" stop-color="#010101"/><stop offset=".917" stop-color="#000000"/><stop offset="1" stop-color="#000000"/></linearGradient>
<linearGradient id="gG1" x1="0" y1="0" x2="0" y2="1"><stop offset="0" stop-color="#0a0a0a"/><stop offset=".083" stop-color="#090909"/><stop offset=".167" stop-color="#080808"/><stop offset=".25" stop-color="#070707"/><stop offset=".333" stop-color="#070707"/><stop offset=".417" stop-color="#060606"/><stop offset=".5" stop-color="#060606"/><stop offset=".583" stop-color="#040404"/><stop offset=".667" stop-color="#030303"/><stop offset=".75" stop-color="#020202"/><stop offset=".833" stop-color="#010101"/><stop offset=".917" stop-color="#000000"/><stop offset="1" stop-color="#000000"/></linearGradient>
<linearGradient id="gG2" x1="0" y1="0" x2="0" y2="1"><stop offset="0" stop-color="#0a0a0a"/><stop offset=".083" stop-color="#090909"/><stop offset=".167" stop-color="#080808"/><stop offset=".25" stop-color="#070707"/><stop offset=".333" stop-color="#070707"/><stop offset=".417" stop-color="#060606"/><stop offset=".5" stop-color="#060606"/><stop offset=".583" stop-color="#040404"/><stop offset=".667" stop-color="#030303"/><stop offset=".75" stop-color="#020202"/><stop offset=".833" stop-color="#010101"/><stop offset=".917" stop-color="#000000"/><stop offset="1" stop-color="#000000"/></linearGradient>
<linearGradient id="gG3" x1="0" y1="0" x2="0" y2="1"><stop offset="0" stop-color="#0b0b0b"/><stop offset=".083" stop-color="#090909"/><stop offset=".167" stop-color="#080808"/><stop offset=".25" stop-color="#070707"/><stop offset=".333" stop-color="#070707"/><stop offset=".417" stop-color="#060606"/><stop offset=".5" stop-color="#050505"/><stop offset=".583" stop-color="#040404"/><stop offset=".667" stop-color="#030303"/><stop offset=".75" stop-color="#020202"/><stop offset=".833" stop-color="#010101"/><stop offset=".917" stop-color="#000000"/><stop offset="1" stop-color="#000000"/></linearGradient>
<linearGradient id="gG4" x1="0" y1="0" x2="0" y2="1"><stop offset="0" stop-color="#0c0c0c"/><stop offset=".083" stop-color="#0a0a0a"/><stop offset=".167" stop-color="#080808"/><stop offset=".25" stop-color="#070707"/><stop offset=".333" stop-color="#070707"/><stop offset=".417" stop-color="#060606"/><stop offset=".5" stop-color="#050505"/><stop offset=".583" stop-color="#040404"/><stop offset=".667" stop-color="#030303"/><stop offset=".75" stop-color="#020202"/><stop offset=".833" stop-color="#010101"/><stop offset=".917" stop-color="#000000"/><stop offset="1" stop-color="#000000"/></linearGradient>
<linearGradient id="gG5" x1="0" y1="0" x2="0" y2="1"><stop offset="0" stop-color="#0d0d0d"/><stop offset=".083" stop-color="#0a0a0a"/><stop offset=".167" stop-color="#080808"/><stop offset=".25" stop-color="#080808"/><stop offset=".333" stop-color="#070707"/><stop offset=".417" stop-color="#060606"/><stop offset=".5" stop-color="#050505"/><stop offset=".583" stop-color="#040404"/><stop offset=".667" stop-color="#020202"/><stop offset=".75" stop-color="#010101"/><stop offset=".833" stop-color="#010101"/><stop offset=".917" stop-color="#000000"/><stop offset="1" stop-color="#000000"/></linearGradient>
<linearGradient id="gG6" x1="0" y1="0" x2="0" y2="1"><stop offset="0" stop-color="#0f0f0f"/><stop offset=".083" stop-color="#0b0b0b"/><stop offset=".167" stop-color="#090909"/><stop offset=".25" stop-color="#080808"/><stop offset=".333" stop-color="#070707"/><stop offset=".417" stop-color="#060606"/><stop offset=".5" stop-color="#050505"/><stop offset=".583" stop-color="#040404"/><stop offset=".667" stop-color="#020202"/><stop offset=".75" stop-color="#010101"/><stop offset=".833" stop-color="#010101"/><stop offset=".917" stop-color="#000000"/><stop offset="1" stop-color="#000000"/></linearGradient>
<linearGradient id="gG7" x1="0" y1="0" x2="0" y2="1"><stop offset="0" stop-color="#131313"/><stop offset=".083" stop-color="#0e0e0e"/><stop offset=".167" stop-color="#0b0b0b"/><stop offset=".25" stop-color="#090909"/><stop offset=".333" stop-color="#080808"/><stop offset=".417" stop-color="#070707"/><stop offset=".5" stop-color="#060606"/><stop offset=".583" stop-color="#040404"/><stop offset=".667" stop-color="#020202"/><stop offset=".75" stop-color="#010101"/><stop offset=".833" stop-color="#010101"/><stop offset=".917" stop-color="#000000"/><stop offset="1" stop-color="#000000"/></linearGradient>
<linearGradient id="gG8" x1="0" y1="0" x2="0" y2="1"><stop offset="0" stop-color="#151515"/><stop offset=".083" stop-color="#131313"/><stop offset=".167" stop-color="#0d0d0d"/><stop offset=".25" stop-color="#0a0a0a"/><stop offset=".333" stop-color="#090909"/><stop offset=".417" stop-color="#080808"/><stop offset=".5" stop-color="#060606"/><stop offset=".583" stop-color="#050505"/><stop offset=".667" stop-color="#030303"/><stop offset=".75" stop-color="#020202"/><stop offset=".833" stop-color="#010101"/><stop offset=".917" stop-color="#000000"/><stop offset="1" stop-color="#000000"/></linearGradient>
<linearGradient id="gG9" x1="0" y1="0" x2="0" y2="1"><stop offset="0" stop-color="#151515"/><stop offset=".083" stop-color="#141414"/><stop offset=".167" stop-color="#0e0e0e"/><stop offset=".25" stop-color="#0b0b0b"/><stop offset=".333" stop-color="#090909"/><stop offset=".417" stop-color="#090909"/><stop offset=".5" stop-color="#080808"/><stop offset=".583" stop-color="#060606"/><stop offset=".667" stop-color="#040404"/><stop offset=".75" stop-color="#030303"/><stop offset=".833" stop-color="#010101"/><stop offset=".917" stop-color="#000000"/><stop offset="1" stop-color="#000000"/></linearGradient>
<linearGradient id="gG10" x1="0" y1="0" x2="0" y2="1"><stop offset="0" stop-color="#131313"/><stop offset=".083" stop-color="#111111"/><stop offset=".167" stop-color="#0e0e0e"/><stop offset=".25" stop-color="#0c0c0c"/><stop offset=".333" stop-color="#0b0b0b"/><stop offset=".417" stop-color="#0a0a0a"/><stop offset=".5" stop-color="#090909"/><stop offset=".583" stop-color="#070707"/><stop offset=".667" stop-color="#050505"/><stop offset=".75" stop-color="#030303"/><stop offset=".833" stop-color="#020202"/><stop offset=".917" stop-color="#010101"/><stop offset="1" stop-color="#000000"/></linearGradient>
<linearGradient id="gG11" x1="0" y1="0" x2="0" y2="1"><stop offset="0" stop-color="#111111"/><stop offset=".083" stop-color="#101010"/><stop offset=".167" stop-color="#0f0f0f"/><stop offset=".25" stop-color="#0d0d0d"/><stop offset=".333" stop-color="#0d0d0d"/><stop offset=".417" stop-color="#0d0d0d"/><stop offset=".5" stop-color="#0b0b0b"/><stop offset=".583" stop-color="#090909"/><stop offset=".667" stop-color="#060606"/><stop offset=".75" stop-color="#040404"/><stop offset=".833" stop-color="#020202"/><stop offset=".917" stop-color="#010101"/><stop offset="1" stop-color="#000000"/></linearGradient>
<linearGradient id="gG12" x1="0" y1="0" x2="0" y2="1"><stop offset="0" stop-color="#131313"/><stop offset=".083" stop-color="#121212"/><stop offset=".167" stop-color="#121212"/><stop offset=".25" stop-color="#111111"/><stop offset=".333" stop-color="#111111"/><stop offset=".417" stop-color="#101010"/><stop offset=".5" stop-color="#0e0e0e"/><stop offset=".583" stop-color="#0a0a0a"/><stop offset=".667" stop-color="#070707"/><stop offset=".75" stop-color="#040404"/><stop offset=".833" stop-color="#020202"/><stop offset=".917" stop-color="#010101"/><stop offset="1" stop-color="#000000"/></linearGradient>
<linearGradient id="gG13" x1="0" y1="0" x2="0" y2="1"><stop offset="0" stop-color="#1a1a1a"/><stop offset=".083" stop-color="#1c1c1c"/><stop offset=".167" stop-color="#1d1d1d"/><stop offset=".25" stop-color="#1b1b1b"/><stop offset=".333" stop-color="#171717"/><stop offset=".417" stop-color="#131313"/><stop offset=".5" stop-color="#101010"/><stop offset=".583" stop-color="#0c0c0c"/><stop offset=".667" stop-color="#070707"/><stop offset=".75" stop-color="#040404"/><stop offset=".833" stop-color="#020202"/><stop offset=".917" stop-color="#010101"/><stop offset="1" stop-color="#000000"/></linearGradient>
<linearGradient id="gG14" x1="0" y1="0" x2="0" y2="1"><stop offset="0" stop-color="#222222"/><stop offset=".083" stop-color="#292929"/><stop offset=".167" stop-color="#2e2e2e"/><stop offset=".25" stop-color="#282828"/><stop offset=".333" stop-color="#1d1d1d"/><stop offset=".417" stop-color="#161616"/><stop offset=".5" stop-color="#131313"/><stop offset=".583" stop-color="#0d0d0d"/><stop offset=".667" stop-color="#070707"/><stop offset=".75" stop-color="#040404"/><stop offset=".833" stop-color="#020202"/><stop offset=".917" stop-color="#010101"/><stop offset="1" stop-color="#000000"/></linearGradient>
<linearGradient id="gG15" x1="0" y1="0" x2="0" y2="1"><stop offset="0" stop-color="#282828"/><stop offset=".083" stop-color="#373737"/><stop offset=".167" stop-color="#3f3f3f"/><stop offset=".25" stop-color="#303030"/><stop offset=".333" stop-color="#1f1f1f"/><stop offset=".417" stop-color="#161616"/><stop offset=".5" stop-color="#121212"/><stop offset=".583" stop-color="#0c0c0c"/><stop offset=".667" stop-color="#070707"/><stop offset=".75" stop-color="#030303"/><stop offset=".833" stop-color="#010101"/><stop offset=".917" stop-color="#010101"/><stop offset="1" stop-color="#000000"/></linearGradient>
<linearGradient id="gG16" x1="0" y1="0" x2="0" y2="1"><stop offset="0" stop-color="#282828"/><stop offset=".083" stop-color="#424242"/><stop offset=".167" stop-color="#494949"/><stop offset=".25" stop-color="#323232"/><stop offset=".333" stop-color="#1d1d1d"/><stop offset=".417" stop-color="#131313"/><stop offset=".5" stop-color="#111111"/><stop offset=".583" stop-color="#0c0c0c"/><stop offset=".667" stop-color="#050505"/><stop offset=".75" stop-color="#020202"/><stop offset=".833" stop-color="#010101"/><stop offset=".917" stop-color="#000000"/><stop offset="1" stop-color="#000000"/></linearGradient>
<linearGradient id="gG17" x1="0" y1="0" x2="0" y2="1"><stop offset="0" stop-color="#232323"/><stop offset=".083" stop-color="#3a3a3a"/><stop offset=".167" stop-color="#424242"/><stop offset=".25" stop-color="#2f2f2f"/><stop offset=".333" stop-color="#1e1e1e"/><stop offset=".417" stop-color="#141414"/><stop offset=".5" stop-color="#111111"/><stop offset=".583" stop-color="#0c0c0c"/><stop offset=".667" stop-color="#050505"/><stop offset=".75" stop-color="#020202"/><stop offset=".833" stop-color="#010101"/><stop offset=".917" stop-color="#000000"/><stop offset="1" stop-color="#000000"/></linearGradient>
<linearGradient id="gG18" x1="0" y1="0" x2="0" y2="1"><stop offset="0" stop-color="#1e1e1e"/><stop offset=".083" stop-color="#272727"/><stop offset=".167" stop-color="#313131"/><stop offset=".25" stop-color="#2b2b2b"/><stop offset=".333" stop-color="#1f1f1f"/><stop offset=".417" stop-color="#171717"/><stop offset=".5" stop-color="#131313"/><stop offset=".583" stop-color="#0c0c0c"/><stop offset=".667" stop-color="#060606"/><stop offset=".75" stop-color="#030303"/><stop offset=".833" stop-color="#010101"/><stop offset=".917" stop-color="#000000"/><stop offset="1" stop-color="#000000"/></linearGradient>
<linearGradient id="gG19" x1="0" y1="0" x2="0" y2="1"><stop offset="0" stop-color="#191919"/><stop offset=".083" stop-color="#202020"/><stop offset=".167" stop-color="#272727"/><stop offset=".25" stop-color="#262626"/><stop offset=".333" stop-color="#1e1e1e"/><stop offset=".417" stop-color="#181818"/><stop offset=".5" stop-color="#131313"/><stop offset=".583" stop-color="#0d0d0d"/><stop offset=".667" stop-color="#070707"/><stop offset=".75" stop-color="#030303"/><stop offset=".833" stop-color="#010101"/><stop offset=".917" stop-color="#000000"/><stop offset="1" stop-color="#000000"/></linearGradient>
<linearGradient id="gG20" x1="0" y1="0" x2="0" y2="1"><stop offset="0" stop-color="#151515"/><stop offset=".083" stop-color="#1a1a1a"/><stop offset=".167" stop-color="#1f1f1f"/><stop offset=".25" stop-color="#202020"/><stop offset=".333" stop-color="#1b1b1b"/><stop offset=".417" stop-color="#171717"/><stop offset=".5" stop-color="#121212"/><stop offset=".583" stop-color="#0c0c0c"/><stop offset=".667" stop-color="#070707"/><stop offset=".75" stop-color="#040404"/><stop offset=".833" stop-color="#020202"/><stop offset=".917" stop-color="#010101"/><stop offset="1" stop-color="#000000"/></linearGradient>
<linearGradient id="gG21" x1="0" y1="0" x2="0" y2="1"><stop offset="0" stop-color="#121212"/><stop offset=".083" stop-color="#151515"/><stop offset=".167" stop-color="#191919"/><stop offset=".25" stop-color="#1b1b1b"/><stop offset=".333" stop-color="#181818"/><stop offset=".417" stop-color="#141414"/><stop offset=".5" stop-color="#101010"/><stop offset=".583" stop-color="#0b0b0b"/><stop offset=".667" stop-color="#070707"/><stop offset=".75" stop-color="#040404"/><stop offset=".833" stop-color="#020202"/><stop offset=".917" stop-color="#010101"/><stop offset="1" stop-color="#000000"/></linearGradient>
<linearGradient id="gG22" x1="0" y1="0" x2="0" y2="1"><stop offset="0" stop-color="#101010"/><stop offset=".083" stop-color="#121212"/><stop offset=".167" stop-color="#161616"/><stop offset=".25" stop-color="#171717"/><stop offset=".333" stop-color="#151515"/><stop offset=".417" stop-color="#121212"/><stop offset=".5" stop-color="#0e0e0e"/><stop offset=".583" stop-color="#0a0a0a"/><stop offset=".667" stop-color="#060606"/><stop offset=".75" stop-color="#030303"/><stop offset=".833" stop-color="#010101"/><stop offset=".917" stop-color="#000000"/><stop offset="1" stop-color="#000000"/></linearGradient>
<linearGradient id="gG23" x1="0" y1="0" x2="0" y2="1"><stop offset="0" stop-color="#0e0e0e"/><stop offset=".083" stop-color="#101010"/><stop offset=".167" stop-color="#121212"/><stop offset=".25" stop-color="#131313"/><stop offset=".333" stop-color="#121212"/><stop offset=".417" stop-color="#0f0f0f"/><stop offset=".5" stop-color="#0c0c0c"/><stop offset=".583" stop-color="#080808"/><stop offset=".667" stop-color="#050505"/><stop offset=".75" stop-color="#020202"/><stop offset=".833" stop-color="#010101"/><stop offset=".917" stop-color="#000000"/><stop offset="1" stop-color="#000000"/></linearGradient>
<linearGradient id="gG24" x1="0" y1="0" x2="0" y2="1"><stop offset="0" stop-color="#0d0d0d"/><stop offset=".083" stop-color="#0e0e0e"/><stop offset=".167" stop-color="#0f0f0f"/><stop offset=".25" stop-color="#101010"/><stop offset=".333" stop-color="#0f0f0f"/><stop offset=".417" stop-color="#0d0d0d"/><stop offset=".5" stop-color="#0a0a0a"/><stop offset=".583" stop-color="#070707"/><stop offset=".667" stop-color="#030303"/><stop offset=".75" stop-color="#010101"/><stop offset=".833" stop-color="#010101"/><stop offset=".917" stop-color="#000000"/><stop offset="1" stop-color="#000000"/></linearGradient>
<linearGradient id="gG25" x1="0" y1="0" x2="0" y2="1"><stop offset="0" stop-color="#0b0b0b"/><stop offset=".083" stop-color="#0b0b0b"/><stop offset=".167" stop-color="#0d0d0d"/><stop offset=".25" stop-color="#0d0d0d"/><stop offset=".333" stop-color="#0c0c0c"/><stop offset=".417" stop-color="#0b0b0b"/><stop offset=".5" stop-color="#080808"/><stop offset=".583" stop-color="#060606"/><stop offset=".667" stop-color="#030303"/><stop offset=".75" stop-color="#010101"/><stop offset=".833" stop-color="#000000"/><stop offset=".917" stop-color="#000000"/><stop offset="1" stop-color="#000000"/></linearGradient>
<linearGradient id="gG26" x1="0" y1="0" x2="0" y2="1"><stop offset="0" stop-color="#0a0a0a"/><stop offset=".083" stop-color="#090909"/><stop offset=".167" stop-color="#0a0a0a"/><stop offset=".25" stop-color="#0b0b0b"/><stop offset=".333" stop-color="#0a0a0a"/><stop offset=".417" stop-color="#090909"/><stop offset=".5" stop-color="#070707"/><stop offset=".583" stop-color="#050505"/><stop offset=".667" stop-color="#020202"/><stop offset=".75" stop-color="#010101"/><stop offset=".833" stop-color="#000000"/><stop offset=".917" stop-color="#000000"/><stop offset="1" stop-color="#000000"/></linearGradient>
<linearGradient id="gG27" x1="0" y1="0" x2="0" y2="1"><stop offset="0" stop-color="#090909"/><stop offset=".083" stop-color="#090909"/><stop offset=".167" stop-color="#090909"/><stop offset=".25" stop-color="#090909"/><stop offset=".333" stop-color="#090909"/><stop offset=".417" stop-color="#080808"/><stop offset=".5" stop-color="#060606"/><stop offset=".583" stop-color="#040404"/><stop offset=".667" stop-color="#020202"/><stop offset=".75" stop-color="#010101"/><stop offset=".833" stop-color="#000000"/><stop offset=".917" stop-color="#000000"/><stop offset="1" stop-color="#000000"/></linearGradient>
<linearGradient id="gG28" x1="0" y1="0" x2="0" y2="1"><stop offset="0" stop-color="#080808"/><stop offset=".083" stop-color="#080808"/><stop offset=".167" stop-color="#080808"/><stop offset=".25" stop-color="#080808"/><stop offset=".333" stop-color="#070707"/><stop offset=".417" stop-color="#070707"/><stop offset=".5" stop-color="#050505"/><stop offset=".583" stop-color="#040404"/><stop offset=".667" stop-color="#020202"/><stop offset=".75" stop-color="#010101"/><stop offset=".833" stop-color="#010101"/><stop offset=".917" stop-color="#000000"/><stop offset="1" stop-color="#000000"/></linearGradient>
<linearGradient id="gG29" x1="0" y1="0" x2="0" y2="1"><stop offset="0" stop-color="#080808"/><stop offset=".083" stop-color="#080808"/><stop offset=".167" stop-color="#070707"/><stop offset=".25" stop-color="#070707"/><stop offset=".333" stop-color="#060606"/><stop offset=".417" stop-color="#060606"/><stop offset=".5" stop-color="#050505"/><stop offset=".583" stop-color="#030303"/><stop offset=".667" stop-color="#020202"/><stop offset=".75" stop-color="#010101"/><stop offset=".833" stop-color="#010101"/><stop offset=".917" stop-color="#000000"/><stop offset="1" stop-color="#000000"/></linearGradient>
<linearGradient id="gG30" x1="0" y1="0" x2="0" y2="1"><stop offset="0" stop-color="#080808"/><stop offset=".083" stop-color="#080808"/><stop offset=".167" stop-color="#070707"/><stop offset=".25" stop-color="#070707"/><stop offset=".333" stop-color="#060606"/><stop offset=".417" stop-color="#060606"/><stop offset=".5" stop-color="#050505"/><stop offset=".583" stop-color="#030303"/><stop offset=".667" stop-color="#020202"/><stop offset=".75" stop-color="#010101"/><stop offset=".833" stop-color="#010101"/><stop offset=".917" stop-color="#000000"/><stop offset="1" stop-color="#000000"/></linearGradient>
<linearGradient id="gG31" x1="0" y1="0" x2="0" y2="1"><stop offset="0" stop-color="#080808"/><stop offset=".083" stop-color="#080808"/><stop offset=".167" stop-color="#070707"/><stop offset=".25" stop-color="#070707"/><stop offset=".333" stop-color="#060606"/><stop offset=".417" stop-color="#060606"/><stop offset=".5" stop-color="#050505"/><stop offset=".583" stop-color="#030303"/><stop offset=".667" stop-color="#020202"/><stop offset=".75" stop-color="#010101"/><stop offset=".833" stop-color="#010101"/><stop offset=".917" stop-color="#000000"/><stop offset="1" stop-color="#000000"/></linearGradient>
<linearGradient id="gH0" x1="0" y1="0" x2="0" y2="1"><stop offset="0" stop-color="#d9d9d9"/><stop offset=".083" stop-color="#cfcfcf"/><stop offset=".167" stop-color="#c3c3c3"/><stop offset=".25" stop-color="#b3b3b3"/><stop offset=".333" stop-color="#9d9d9d"/><stop offset=".417" stop-color="#8f8f8f"/><stop offset=".5" stop-color="#898989"/><stop offset=".583" stop-color="#868686"/><stop offset=".667" stop-color="#858585"/><stop offset=".75" stop-color="#838383"/><stop offset=".833" stop-color="#808080"/><stop offset=".917" stop-color="#7c7c7c"/><stop offset="1" stop-color="#777777"/></linearGradient>
<linearGradient id="gH1" x1="0" y1="0" x2="0" y2="1"><stop offset="0" stop-color="#d9d9d9"/><stop offset=".083" stop-color="#cfcfcf"/><stop offset=".167" stop-color="#c3c3c3"/><stop offset=".25" stop-color="#b3b3b3"/><stop offset=".333" stop-color="#9d9d9d"/><stop offset=".417" stop-color="#8f8f8f"/><stop offset=".5" stop-color="#898989"/><stop offset=".583" stop-color="#868686"/><stop offset=".667" stop-color="#858585"/><stop offset=".75" stop-color="#838383"/><stop offset=".833" stop-color="#808080"/><stop offset=".917" stop-color="#7c7c7c"/><stop offset="1" stop-color="#777777"/></linearGradient>
<linearGradient id="gH2" x1="0" y1="0" x2="0" y2="1"><stop offset="0" stop-color="#d9d9d9"/><stop offset=".083" stop-color="#cfcfcf"/><stop offset=".167" stop-color="#c3c3c3"/><stop offset=".25" stop-color="#b3b3b3"/><stop offset=".333" stop-color="#9d9d9d"/><stop offset=".417" stop-color="#8f8f8f"/><stop offset=".5" stop-color="#898989"/><stop offset=".583" stop-color="#868686"/><stop offset=".667" stop-color="#858585"/><stop offset=".75" stop-color="#838383"/><stop offset=".833" stop-color="#808080"/><stop offset=".917" stop-color="#7c7c7c"/><stop offset="1" stop-color="#777777"/></linearGradient>
<linearGradient id="gH3" x1="0" y1="0" x2="0" y2="1"><stop offset="0" stop-color="#dadada"/><stop offset=".083" stop-color="#cfcfcf"/><stop offset=".167" stop-color="#c1c1c1"/><stop offset=".25" stop-color="#acacac"/><stop offset=".333" stop-color="#959595"/><stop offset=".417" stop-color="#898989"/><stop offset=".5" stop-color="#858585"/><stop offset=".583" stop-color="#848484"/><stop offset=".667" stop-color="#838383"/><stop offset=".75" stop-color="#828282"/><stop offset=".833" stop-color="#7e7e7e"/><stop offset=".917" stop-color="#797979"/><stop offset="1" stop-color="#737373"/></linearGradient>
<linearGradient id="gH4" x1="0" y1="0" x2="0" y2="1"><stop offset="0" stop-color="#dbdbdb"/><stop offset=".083" stop-color="#cecece"/><stop offset=".167" stop-color="#bebebe"/><stop offset=".25" stop-color="#a4a4a4"/><stop offset=".333" stop-color="#8c8c8c"/><stop offset=".417" stop-color="#848484"/><stop offset=".5" stop-color="#838383"/><stop offset=".583" stop-color="#838383"/><stop offset=".667" stop-color="#828282"/><stop offset=".75" stop-color="#818181"/><stop offset=".833" stop-color="#7d7d7d"/><stop offset=".917" stop-color="#767676"/><stop offset="1" stop-color="#6f6f6f"/></linearGradient>
<linearGradient id="gH5" x1="0" y1="0" x2="0" y2="1"><stop offset="0" stop-color="#dddddd"/><stop offset=".083" stop-color="#cecece"/><stop offset=".167" stop-color="#bbbbbb"/><stop offset=".25" stop-color="#9f9f9f"/><stop offset=".333" stop-color="#878787"/><stop offset=".417" stop-color="#838383"/><stop offset=".5" stop-color="#848484"/><stop offset=".583" stop-color="#838383"/><stop offset=".667" stop-color="#828282"/><stop offset=".75" stop-color="#818181"/><stop offset=".833" stop-color="#7b7b7b"/><stop offset=".917" stop-color="#737373"/><stop offset="1" stop-color="#6a6a6a"/></linearGradient>
<linearGradient id="gH6" x1="0" y1="0" x2="0" y2="1"><stop offset="0" stop-color="#e0e0e0"/><stop offset=".083" stop-color="#cfcfcf"/><stop offset=".167" stop-color="#bababa"/><stop offset=".25" stop-color="#9e9e9e"/><stop offset=".333" stop-color="#898989"/><stop offset=".417" stop-color="#868686"/><stop offset=".5" stop-color="#868686"/><stop offset=".583" stop-color="#858585"/><stop offset=".667" stop-color="#838383"/><stop offset=".75" stop-color="#818181"/><stop offset=".833" stop-color="#7a7a7a"/><stop offset=".917" stop-color="#6e6e6e"/><stop offset="1" stop-color="#646464"/></linearGradient>
<linearGradient id="gH7" x1="0" y1="0" x2="0" y2="1"><stop offset="0" stop-color="#e4e4e4"/><stop offset=".083" stop-color="#d2d2d2"/><stop offset=".167" stop-color="#b9b9b9"/><stop offset=".25" stop-color="#a1a1a1"/><stop offset=".333" stop-color="#909090"/><stop offset=".417" stop-color="#8a8a8a"/><stop offset=".5" stop-color="#898989"/><stop offset=".583" stop-color="#878787"/><stop offset=".667" stop-color="#838383"/><stop offset=".75" stop-color="#7f7f7f"/><stop offset=".833" stop-color="#757575"/><stop offset=".917" stop-color="#676767"/><stop offset="1" stop-color="#5d5d5d"/></linearGradient>
<linearGradient id="gH8" x1="0" y1="0" x2="0" y2="1"><stop offset="0" stop-color="#e9e9e9"/><stop offset=".083" stop-color="#d7d7d7"/><stop offset=".167" stop-color="#b9b9b9"/><stop offset=".25" stop-color="#a3a3a3"/><stop offset=".333" stop-color="#959595"/><stop offset=".417" stop-color="#8e8e8e"/><stop offset=".5" stop-color="#8b8b8b"/><stop offset=".583" stop-color="#868686"/><stop offset=".667" stop-color="#818181"/><stop offset=".75" stop-color="#777777"/><stop offset=".833" stop-color="#6b6b6b"/><stop offset=".917" stop-color="#5f5f5f"/><stop offset="1" stop-color="#545454"/></linearGradient>
<linearGradient id="gH9" x1="0" y1="0" x2="0" y2="1"><stop offset="0" stop-color="#f1f1f1"/><stop offset=".083" stop-color="#e0e0e0"/><stop offset=".167" stop-color="#bababa"/><stop offset=".25" stop-color="#a5a5a5"/><stop offset=".333" stop-color="#979797"/><stop offset=".417" stop-color="#919191"/><stop offset=".5" stop-color="#8c8c8c"/><stop offset=".583" stop-color="#828282"/><stop offset=".667" stop-color="#787878"/><stop offset=".75" stop-color="#6b6b6b"/><stop offset=".833" stop-color="#5f5f5f"/><stop offset=".917" stop-color="#545454"/><stop offset="1" stop-color="#4b4b4b"/></linearGradient>
<linearGradient id="gH10" x1="0" y1="0" x2="0" y2="1"><stop offset="0" stop-color="#f6f6f6"/><stop offset=".083" stop-color="#e4e4e4"/><stop offset=".167" stop-color="#bdbdbd"/><stop offset=".25" stop-color="#a6a6a6"/><stop offset=".333" stop-color="#989898"/><stop offset=".417" stop-color="#909090"/><stop offset=".5" stop-color="#8a8a8a"/><stop offset=".583" stop-color="#7b7b7b"/><stop offset=".667" stop-color="#696969"/><stop offset=".75" stop-color="#5b5b5b"/><stop offset=".833" stop-color="#535353"/><stop offset=".917" stop-color="#494949"/><stop offset="1" stop-color="#414141"/></linearGradient>
<linearGradient id="gH11" x1="0" y1="0" x2="0" y2="1"><stop offset="0" stop-color="#f5f5f5"/><stop offset=".083" stop-color="#e3e3e3"/><stop offset=".167" stop-color="#c0c0c0"/><stop offset=".25" stop-color="#a7a7a7"/><stop offset=".333" stop-color="#959595"/><stop offset=".417" stop-color="#8a8a8a"/><stop offset=".5" stop-color="#7f7f7f"/><stop offset=".583" stop-color="#707070"/><stop offset=".667" stop-color="#5e5e5e"/><stop offset=".75" stop-color="#505050"/><stop offset=".833" stop-color="#484848"/><stop offset=".917" stop-color="#3e3e3e"/><stop offset="1" stop-color="#363636"/></linearGradient>
<linearGradient id="gH12" x1="0" y1="0" x2="0" y2="1"><stop offset="0" stop-color="#f0f0f0"/><stop offset=".083" stop-color="#e1e1e1"/><stop offset=".167" stop-color="#c5c5c5"/><stop offset=".25" stop-color="#aaaaaa"/><stop offset=".333" stop-color="#8f8f8f"/><stop offset=".417" stop-color="#7c7c7c"/><stop offset=".5" stop-color="#6f6f6f"/><stop offset=".583" stop-color="#656565"/><stop offset=".667" stop-color="#595959"/><stop offset=".75" stop-color="#4a4a4a"/><stop offset=".833" stop-color="#3f3f3f"/><stop offset=".917" stop-color="#343434"/><stop offset="1" stop-color="#2b2b2b"/></linearGradient>
<linearGradient id="gH13" x1="0" y1="0" x2="0" y2="1"><stop offset="0" stop-color="#ebebeb"/><stop offset=".083" stop-color="#dedede"/><stop offset=".167" stop-color="#cacaca"/><stop offset=".25" stop-color="#aeaeae"/><stop offset=".333" stop-color="#868686"/><stop offset=".417" stop-color="#6e6e6e"/><stop offset=".5" stop-color="#5f5f5f"/><stop offset=".583" stop-color="#5a5a5a"/><stop offset=".667" stop-color="#525252"/><stop offset=".75" stop-color="#454545"/><stop offset=".833" stop-color="#383838"/><stop offset=".917" stop-color="#2b2b2b"/><stop offset="1" stop-color="#212121"/></linearGradient>
<linearGradient id="gH14" x1="0" y1="0" x2="0" y2="1"><stop offset="0" stop-color="#e9e9e9"/><stop offset=".083" stop-color="#dcdcdc"/><stop offset=".167" stop-color="#cccccc"/><stop offset=".25" stop-color="#adadad"/><stop offset=".333" stop-color="#7d7d7d"/><stop offset=".417" stop-color="#636363"/><stop offset=".5" stop-color="#565656"/><stop offset=".583" stop-color="#535353"/><stop offset=".667" stop-color="#4c4c4c"/><stop offset=".75" stop-color="#404040"/><stop offset=".833" stop-color="#333333"/><stop offset=".917" stop-color="#252525"/><stop offset="1" stop-color="#1c1c1c"/></linearGradient>
<linearGradient id="gH15" x1="0" y1="0" x2="0" y2="1"><stop offset="0" stop-color="#e7e7e7"/><stop offset=".083" stop-color="#d9d9d9"/><stop offset=".167" stop-color="#c6c6c6"/><stop offset=".25" stop-color="#9f9f9f"/><stop offset=".333" stop-color="#747474"/><stop offset=".417" stop-color="#5d5d5d"/><stop offset=".5" stop-color="#555555"/><stop offset=".583" stop-color="#4f4f4f"/><stop offset=".667" stop-color="#484848"/><stop offset=".75" stop-color="#3c3c3c"/><stop offset=".833" stop-color="#303030"/><stop offset=".917" stop-color="#232323"/><stop offset="1" stop-color="#1c1c1c"/></linearGradient>
<linearGradient id="gH16" x1="0" y1="0" x2="0" y2="1"><stop offset="0" stop-color="#e4e4e4"/><stop offset=".083" stop-color="#d5d5d5"/><stop offset=".167" stop-color="#c0c0c0"/><stop offset=".25" stop-color="#939393"/><stop offset=".333" stop-color="#6f6f6f"/><stop offset=".417" stop-color="#565656"/><stop offset=".5" stop-color="#535353"/><stop offset=".583" stop-color="#4f4f4f"/><stop offset=".667" stop-color="#474747"/><stop offset=".75" stop-color="#3a3a3a"/><stop offset=".833" stop-color="#2d2d2d"/><stop offset=".917" stop-color="#222222"/><stop offset="1" stop-color="#1b1b1b"/></linearGradient>
<linearGradient id="gH17" x1="0" y1="0" x2="0" y2="1"><stop offset="0" stop-color="#e1e1e1"/><stop offset=".083" stop-color="#d2d2d2"/><stop offset=".167" stop-color="#bababa"/><stop offset=".25" stop-color="#929292"/><stop offset=".333" stop-color="#767676"/><stop offset=".417" stop-color="#5c5c5c"/><stop offset=".5" stop-color="#565656"/><stop offset=".583" stop-color="#525252"/><stop offset=".667" stop-color="#484848"/><stop offset=".75" stop-color="#393939"/><stop offset=".833" stop-color="#2a2a2a"/><stop offset=".917" stop-color="#212121"/><stop offset="1" stop-color="#1b1b1b"/></linearGradient>
<linearGradient id="gH18" x1="0" y1="0" x2="0" y2="1"><stop offset="0" stop-color="#dfdfdf"/><stop offset=".083" stop-color="#cfcfcf"/><stop offset=".167" stop-color="#b7b7b7"/><stop offset=".25" stop-color="#989898"/><stop offset=".333" stop-color="#878787"/><stop offset=".417" stop-color="#707070"/><stop offset=".5" stop-color="#606060"/><stop offset=".583" stop-color="#595959"/><stop offset=".667" stop-color="#4a4a4a"/><stop offset=".75" stop-color="#383838"/><stop offset=".833" stop-color="#262626"/><stop offset=".917" stop-color="#202020"/><stop offset="1" stop-color="#1b1b1b"/></linearGradient>
<linearGradient id="gH19" x1="0" y1="0" x2="0" y2="1"><stop offset="0" stop-color="#dddddd"/><stop offset=".083" stop-color="#cecece"/><stop offset=".167" stop-color="#b6b6b6"/><stop offset=".25" stop-color="#979797"/><stop offset=".333" stop-color="#818181"/><stop offset=".417" stop-color="#6c6c6c"/><stop offset=".5" stop-color="#5f5f5f"/><stop offset=".583" stop-color="#545454"/><stop offset=".667" stop-color="#464646"/><stop offset=".75" stop-color="#343434"/><stop offset=".833" stop-color="#252525"/><stop offset=".917" stop-color="#1e1e1e"/><stop offset="1" stop-color="#1a1a1a"/></linearGradient>
<linearGradient id="gH20" x1="0" y1="0" x2="0" y2="1"><stop offset="0" stop-color="#dcdcdc"/><stop offset=".083" stop-color="#cdcdcd"/><stop offset=".167" stop-color="#b4b4b4"/><stop offset=".25" stop-color="#8d8d8d"/><stop offset=".333" stop-color="#6c6c6c"/><stop offset=".417" stop-color="#595959"/><stop offset=".5" stop-color="#4f4f4f"/><stop offset=".583" stop-color="#464646"/><stop offset=".667" stop-color="#3c3c3c"/><stop offset=".75" stop-color="#2e2e2e"/><stop offset=".833" stop-color="#232323"/><stop offset=".917" stop-color="#1c1c1c"/><stop offset="1" stop-color="#191919"/></linearGradient>
<linearGradient id="gH21" x1="0" y1="0" x2="0" y2="1"><stop offset="0" stop-color="#dadada"/><stop offset=".083" stop-color="#cccccc"/><stop offset=".167" stop-color="#b2b2b2"/><stop offset=".25" stop-color="#838383"/><stop offset=".333" stop-color="#595959"/><stop offset=".417" stop-color="#4a4a4a"/><stop offset=".5" stop-color="#3d3d3d"/><stop offset=".583" stop-color="#3a3a3a"/><stop offset=".667" stop-color="#343434"/><stop offset=".75" stop-color="#282828"/><stop offset=".833" stop-color="#212121"/><stop offset=".917" stop-color="#1b1b1b"/><stop offset="1" stop-color="#191919"/></linearGradient>
<linearGradient id="gH22" x1="0" y1="0" x2="0" y2="1"><stop offset="0" stop-color="#d7d7d7"/><stop offset=".083" stop-color="#cacaca"/><stop offset=".167" stop-color="#b0b0b0"/><stop offset=".25" stop-color="#818181"/><stop offset=".333" stop-color="#555555"/><stop offset=".417" stop-color="#464646"/><stop offset=".5" stop-color="#3a3a3a"/><stop offset=".583" stop-color="#373737"/><stop offset=".667" stop-color="#313131"/><stop offset=".75" stop-color="#272727"/><stop offset=".833" stop-color="#222222"/><stop offset=".917" stop-color="#1e1e1e"/><stop offset="1" stop-color="#1c1c1c"/></linearGradient>
<linearGradient id="gH23" x1="0" y1="0" x2="0" y2="1"><stop offset="0" stop-color="#d4d4d4"/><stop offset=".083" stop-color="#c6c6c6"/><stop offset=".167" stop-color="#aeaeae"/><stop offset=".25" stop-color="#888888"/><stop offset=".333" stop-color="#5f5f5f"/><stop offset=".417" stop-color="#4c4c4c"/><stop offset=".5" stop-color="#434343"/><stop offset=".583" stop-color="#3c3c3c"/><stop offset=".667" stop-color="#363636"/><stop offset=".75" stop-color="#2d2d2d"/><stop offset=".833" stop-color="#272727"/><stop offset=".917" stop-color="#232323"/><stop offset="1" stop-color="#202020"/></linearGradient>
<linearGradient id="gH24" x1="0" y1="0" x2="0" y2="1"><stop offset="0" stop-color="#cecece"/><stop offset=".083" stop-color="#c1c1c1"/><stop offset=".167" stop-color="#aeaeae"/><stop offset=".25" stop-color="#939393"/><stop offset=".333" stop-color="#757575"/><stop offset=".417" stop-color="#5c5c5c"/><stop offset=".5" stop-color="#4f4f4f"/><stop offset=".583" stop-color="#474747"/><stop offset=".667" stop-color="#3f3f3f"/><stop offset=".75" stop-color="#363636"/><stop offset=".833" stop-color="#2f2f2f"/><stop offset=".917" stop-color="#292929"/><stop offset="1" stop-color="#262626"/></linearGradient>
<linearGradient id="gH25" x1="0" y1="0" x2="0" y2="1"><stop offset="0" stop-color="#c6c6c6"/><stop offset=".083" stop-color="#bababa"/><stop offset=".167" stop-color="#aeaeae"/><stop offset=".25" stop-color="#9c9c9c"/><stop offset=".333" stop-color="#888888"/><stop offset=".417" stop-color="#6f6f6f"/><stop offset=".5" stop-color="#5e5e5e"/><stop offset=".583" stop-color="#545454"/><stop offset=".667" stop-color="#4b4b4b"/><stop offset=".75" stop-color="#424242"/><stop offset=".833" stop-color="#393939"/><stop offset=".917" stop-color="#313131"/><stop offset="1" stop-color="#2c2c2c"/></linearGradient>
<linearGradient id="gH26" x1="0" y1="0" x2="0" y2="1"><stop offset="0" stop-color="#c4c4c4"/><stop offset=".083" stop-color="#b8b8b8"/><stop offset=".167" stop-color="#afafaf"/><stop offset=".25" stop-color="#a1a1a1"/><stop offset=".333" stop-color="#929292"/><stop offset=".417" stop-color="#7e7e7e"/><stop offset=".5" stop-color="#6c6c6c"/><stop offset=".583" stop-color="#606060"/><stop offset=".667" stop-color="#575757"/><stop offset=".75" stop-color="#4d4d4d"/><stop offset=".833" stop-color="#434343"/><stop offset=".917" stop-color="#3a3a3a"/><stop offset="1" stop-color="#333333"/></linearGradient>
<linearGradient id="gH27" x1="0" y1="0" x2="0" y2="1"><stop offset="0" stop-color="#c5c5c5"/><stop offset=".083" stop-color="#bbbbbb"/><stop offset=".167" stop-color="#b2b2b2"/><stop offset=".25" stop-color="#a5a5a5"/><stop offset=".333" stop-color="#969696"/><stop offset=".417" stop-color="#868686"/><stop offset=".5" stop-color="#767676"/><stop offset=".583" stop-color="#6b6b6b"/><stop offset=".667" stop-color="#626262"/><stop offset=".75" stop-color="#585858"/><stop offset=".833" stop-color="#4c4c4c"/><stop offset=".917" stop-color="#424242"/><stop offset="1" stop-color="#3b3b3b"/></linearGradient>
<linearGradient id="gH28" x1="0" y1="0" x2="0" y2="1"><stop offset="0" stop-color="#c8c8c8"/><stop offset=".083" stop-color="#bfbfbf"/><stop offset=".167" stop-color="#b5b5b5"/><stop offset=".25" stop-color="#a7a7a7"/><stop offset=".333" stop-color="#989898"/><stop offset=".417" stop-color="#888888"/><stop offset=".5" stop-color="#7c7c7c"/><stop offset=".583" stop-color="#747474"/><stop offset=".667" stop-color="#6a6a6a"/><stop offset=".75" stop-color="#606060"/><stop offset=".833" stop-color="#545454"/><stop offset=".917" stop-color="#4a4a4a"/><stop offset="1" stop-color="#414141"/></linearGradient>
<linearGradient id="gH29" x1="0" y1="0" x2="0" y2="1"><stop offset="0" stop-color="#c9c9c9"/><stop offset=".083" stop-color="#c1c1c1"/><stop offset=".167" stop-color="#b8b8b8"/><stop offset=".25" stop-color="#a9a9a9"/><stop offset=".333" stop-color="#999999"/><stop offset=".417" stop-color="#898989"/><stop offset=".5" stop-color="#818181"/><stop offset=".583" stop-color="#7b7b7b"/><stop offset=".667" stop-color="#717171"/><stop offset=".75" stop-color="#666666"/><stop offset=".833" stop-color="#5a5a5a"/><stop offset=".917" stop-color="#505050"/><stop offset="1" stop-color="#484848"/></linearGradient>
<linearGradient id="gH30" x1="0" y1="0" x2="0" y2="1"><stop offset="0" stop-color="#c9c9c9"/><stop offset=".083" stop-color="#c1c1c1"/><stop offset=".167" stop-color="#b8b8b8"/><stop offset=".25" stop-color="#a9a9a9"/><stop offset=".333" stop-color="#999999"/><stop offset=".417" stop-color="#898989"/><stop offset=".5" stop-color="#818181"/><stop offset=".583" stop-color="#7b7b7b"/><stop offset=".667" stop-color="#717171"/><stop offset=".75" stop-color="#666666"/><stop offset=".833" stop-color="#5a5a5a"/><stop offset=".917" stop-color="#505050"/><stop offset="1" stop-color="#484848"/></linearGradient>
<linearGradient id="gH31" x1="0" y1="0" x2="0" y2="1"><stop offset="0" stop-color="#c9c9c9"/><stop offset=".083" stop-color="#c1c1c1"/><stop offset=".167" stop-color="#b8b8b8"/><stop offset=".25" stop-color="#a9a9a9"/><stop offset=".333" stop-color="#999999"/><stop offset=".417" stop-color="#898989"/><stop offset=".5" stop-color="#818181"/><stop offset=".583" stop-color="#7b7b7b"/><stop offset=".667" stop-color="#717171"/><stop offset=".75" stop-color="#666666"/><stop offset=".833" stop-color="#5a5a5a"/><stop offset=".917" stop-color="#505050"/><stop offset="1" stop-color="#484848"/></linearGradient>
<linearGradient id="gI0" x1="0" y1="0" x2="0" y2="1"><stop offset="0" stop-color="#d2d2d2"/><stop offset=".083" stop-color="#d7d7d7"/><stop offset=".167" stop-color="#dcdcdc"/><stop offset=".25" stop-color="#e0e0e0"/><stop offset=".333" stop-color="#e3e3e3"/><stop offset=".417" stop-color="#e6e6e6"/><stop offset=".5" stop-color="#eaeaea"/><stop offset=".583" stop-color="#ececec"/><stop offset=".667" stop-color="#eeeeee"/><stop offset=".75" stop-color="#efefef"/><stop offset=".833" stop-color="#efefef"/><stop offset=".917" stop-color="#f0f0f0"/><stop offset="1" stop-color="#f1f1f1"/></linearGradient>
<linearGradient id="gI1" x1="0" y1="0" x2="0" y2="1"><stop offset="0" stop-color="#d2d2d2"/><stop offset=".083" stop-color="#d7d7d7"/><stop offset=".167" stop-color="#dcdcdc"/><stop offset=".25" stop-color="#e0e0e0"/><stop offset=".333" stop-color="#e3e3e3"/><stop offset=".417" stop-color="#e6e6e6"/><stop offset=".5" stop-color="#eaeaea"/><stop offset=".583" stop-color="#ececec"/><stop offset=".667" stop-color="#eeeeee"/><stop offset=".75" stop-color="#efefef"/><stop offset=".833" stop-color="#efefef"/><stop offset=".917" stop-color="#f0f0f0"/><stop offset="1" stop-color="#f1f1f1"/></linearGradient>
<linearGradient id="gI2" x1="0" y1="0" x2="0" y2="1"><stop offset="0" stop-color="#d2d2d2"/><stop offset=".083" stop-color="#d7d7d7"/><stop offset=".167" stop-color="#dcdcdc"/><stop offset=".25" stop-color="#e0e0e0"/><stop offset=".333" stop-color="#e3e3e3"/><stop offset=".417" stop-color="#e6e6e6"/><stop offset=".5" stop-color="#eaeaea"/><stop offset=".583" stop-color="#ececec"/><stop offset=".667" stop-color="#eeeeee"/><stop offset=".75" stop-color="#efefef"/><stop offset=".833" stop-color="#efefef"/><stop offset=".917" stop-color="#f0f0f0"/><stop offset="1" stop-color="#f1f1f1"/></linearGradient>
<linearGradient id="gI3" x1="0" y1="0" x2="0" y2="1"><stop offset="0" stop-color="#d1d1d1"/><stop offset=".083" stop-color="#d7d7d7"/><stop offset=".167" stop-color="#dddddd"/><stop offset=".25" stop-color="#e2e2e2"/><stop offset=".333" stop-color="#e5e5e5"/><stop offset=".417" stop-color="#e7e7e7"/><stop offset=".5" stop-color="#eaeaea"/><stop offset=".583" stop-color="#ededed"/><stop offset=".667" stop-color="#eeeeee"/><stop offset=".75" stop-color="#efefef"/><stop offset=".833" stop-color="#efefef"/><stop offset=".917" stop-color="#f0f0f0"/><stop offset="1" stop-color="#f1f1f1"/></linearGradient>
<linearGradient id="gI4" x1="0" y1="0" x2="0" y2="1"><stop offset="0" stop-color="#d0d0d0"/><stop offset=".083" stop-color="#d7d7d7"/><stop offset=".167" stop-color="#dddddd"/><stop offset=".25" stop-color="#e3e3e3"/><stop offset=".333" stop-color="#e5e5e5"/><stop offset=".417" stop-color="#e7e7e7"/><stop offset=".5" stop-color="#eaeaea"/><stop offset=".583" stop-color="#ededed"/><stop offset=".667" stop-color="#eeeeee"/><stop offset=".75" stop-color="#eeeeee"/><stop offset=".833" stop-color="#efefef"/><stop offset=".917" stop-color="#f0f0f0"/><stop offset="1" stop-color="#f2f2f2"/></linearGradient>
<linearGradient id="gI5" x1="0" y1="0" x2="0" y2="1"><stop offset="0" stop-color="#cfcfcf"/><stop offset=".083" stop-color="#d6d6d6"/><stop offset=".167" stop-color="#dcdcdc"/><stop offset=".25" stop-color="#e3e3e3"/><stop offset=".333" stop-color="#e5e5e5"/><stop offset=".417" stop-color="#e7e7e7"/><stop offset=".5" stop-color="#e9e9e9"/><stop offset=".583" stop-color="#ececec"/><stop offset=".667" stop-color="#ededed"/><stop offset=".75" stop-color="#ededed"/><stop offset=".833" stop-color="#efefef"/><stop offset=".917" stop-color="#f0f0f0"/><stop offset="1" stop-color="#f2f2f2"/></linearGradient>
<linearGradient id="gI6" x1="0" y1="0" x2="0" y2="1"><stop offset="0" stop-color="#cdcdcd"/><stop offset=".083" stop-color="#d3d3d3"/><stop offset=".167" stop-color="#dadada"/><stop offset=".25" stop-color="#e1e1e1"/><stop offset=".333" stop-color="#e4e4e4"/><stop offset=".417" stop-color="#e5e5e5"/><stop offset=".5" stop-color="#e6e6e6"/><stop offset=".583" stop-color="#e8e8e8"/><stop offset=".667" stop-color="#eaeaea"/><stop offset=".75" stop-color="#ececec"/><stop offset=".833" stop-color="#eeeeee"/><stop offset=".917" stop-color="#f0f0f0"/><stop offset="1" stop-color="#f2f2f2"/></linearGradient>
<linearGradient id="gI7" x1="0" y1="0" x2="0" y2="1"><stop offset="0" stop-color="#cacaca"/><stop offset=".083" stop-color="#d0d0d0"/><stop offset=".167" stop-color="#d7d7d7"/><stop offset=".25" stop-color="#dedede"/><stop offset=".333" stop-color="#e2e2e2"/><stop offset=".417" stop-color="#e3e3e3"/><stop offset=".5" stop-color="#e3e3e3"/><stop offset=".583" stop-color="#e4e4e4"/><stop offset=".667" stop-color="#e7e7e7"/><stop offset=".75" stop-color="#eaeaea"/><stop offset=".833" stop-color="#ededed"/><stop offset=".917" stop-color="#f0f0f0"/><stop offset="1" stop-color="#f2f2f2"/></linearGradient>
<linearGradient id="gI8" x1="0" y1="0" x2="0" y2="1"><stop offset="0" stop-color="#c7c7c7"/><stop offset=".083" stop-color="#cccccc"/><stop offset=".167" stop-color="#d3d3d3"/><stop offset=".25" stop-color="#dadada"/><stop offset=".333" stop-color="#dedede"/><stop offset=".417" stop-color="#e0e0e0"/><stop offset=".5" stop-color="#e1e1e1"/><stop offset=".583" stop-color="#e2e2e2"/><stop offset=".667" stop-color="#e5e5e5"/><stop offset=".75" stop-color="#e9e9e9"/><stop offset=".833" stop-color="#ededed"/><stop offset=".917" stop-color="#f0f0f0"/><stop offset="1" stop-color="#f2f2f2"/></linearGradient>
<linearGradient id="gI9" x1="0" y1="0" x2="0" y2="1"><stop offset="0" stop-color="#c4c4c4"/><stop offset=".083" stop-color="#c7c7c7"/><stop offset=".167" stop-color="#d0d0d0"/><stop offset=".25" stop-color="#d6d6d6"/><stop offset=".333" stop-color="#dbdbdb"/><stop offset=".417" stop-color="#dddddd"/><stop offset=".5" stop-color="#dfdfdf"/><stop offset=".583" stop-color="#e1e1e1"/><stop offset=".667" stop-color="#e5e5e5"/><stop offset=".75" stop-color="#e9e9e9"/><stop offset=".833" stop-color="#ededed"/><stop offset=".917" stop-color="#f0f0f0"/><stop offset="1" stop-color="#f2f2f2"/></linearGradient>
<linearGradient id="gI10" x1="0" y1="0" x2="0" y2="1"><stop offset="0" stop-color="#c1c1c1"/><stop offset=".083" stop-color="#c6c6c6"/><stop offset=".167" stop-color="#cdcdcd"/><stop offset=".25" stop-color="#d3d3d3"/><stop offset=".333" stop-color="#d7d7d7"/><stop offset=".417" stop-color="#dadada"/><stop offset=".5" stop-color="#dddddd"/><stop offset=".583" stop-color="#e1e1e1"/><stop offset=".667" stop-color="#e5e5e5"/><stop offset=".75" stop-color="#e9e9e9"/><stop offset=".833" stop-color="#ededed"/><stop offset=".917" stop-color="#f0f0f0"/><stop offset="1" stop-color="#f3f3f3"/></linearGradient>
<linearGradient id="gI11" x1="0" y1="0" x2="0" y2="1"><stop offset="0" stop-color="#bcbcbc"/><stop offset=".083" stop-color="#c5c5c5"/><stop offset=".167" stop-color="#cacaca"/><stop offset=".25" stop-color="#d0d0d0"/><stop offset=".333" stop-color="#d4d4d4"/><stop offset=".417" stop-color="#d7d7d7"/><stop offset=".5" stop-color="#dcdcdc"/><stop offset=".583" stop-color="#e2e2e2"/><stop offset=".667" stop-color="#e5e5e5"/><stop offset=".75" stop-color="#e9e9e9"/><stop offset=".833" stop-color="#ededed"/><stop offset=".917" stop-color="#f0f0f0"/><stop offset="1" stop-color="#f3f3f3"/></linearGradient>
<linearGradient id="gI12" x1="0" y1="0" x2="0" y2="1"><stop offset="0" stop-color="#b1b1b1"/><stop offset=".083" stop-color="#b8b8b8"/><stop offset=".167" stop-color="#c3c3c3"/><stop offset=".25" stop-color="#cbcbcb"/><stop offset=".333" stop-color="#d1d1d1"/><stop offset=".417" stop-color="#d6d6d6"/><stop offset=".5" stop-color="#dadada"/><stop offset=".583" stop-color="#e1e1e1"/><stop offset=".667" stop-color="#e4e4e4"/><stop offset=".75" stop-color="#e8e8e8"/><stop offset=".833" stop-color="#ededed"/><stop offset=".917" stop-color="#f1f1f1"/><stop offset="1" stop-color="#f4f4f4"/></linearGradient>
<linearGradient id="gI13" x1="0" y1="0" x2="0" y2="1"><stop offset="0" stop-color="#a4a4a4"/><stop offset=".083" stop-color="#a8a8a8"/><stop offset=".167" stop-color="#b7b7b7"/><stop offset=".25" stop-color="#c6c6c6"/><stop offset=".333" stop-color="#cfcfcf"/><stop offset=".417" stop-color="#d5d5d5"/><stop offset=".5" stop-color="#dadada"/><stop offset=".583" stop-color="#dfdfdf"/><stop offset=".667" stop-color="#e3e3e3"/><stop offset=".75" stop-color="#e8e8e8"/><stop offset=".833" stop-color="#ededed"/><stop offset=".917" stop-color="#f2f2f2"/><stop offset="1" stop-color="#f4f4f4"/></linearGradient>
<linearGradient id="gI14" x1="0" y1="0" x2="0" y2="1"><stop offset="0" stop-color="#979797"/><stop offset=".083" stop-color="#9d9d9d"/><stop offset=".167" stop-color="#aeaeae"/><stop offset=".25" stop-color="#c1c1c1"/><stop offset=".333" stop-color="#cdcdcd"/><stop offset=".417" stop-color="#d5d5d5"/><stop offset=".5" stop-color="#dadada"/><stop offset=".583" stop-color="#dfdfdf"/><stop offset=".667" stop-color="#e2e2e2"/><stop offset=".75" stop-color="#e7e7e7"/><stop offset=".833" stop-color="#ededed"/><stop offset=".917" stop-color="#f2f2f2"/><stop offset="1" stop-color="#f4f4f4"/></linearGradient>
<linearGradient id="gI15" x1="0" y1="0" x2="0" y2="1"><stop offset="0" stop-color="#8d8d8d"/><stop offset=".083" stop-color="#929292"/><stop offset=".167" stop-color="#a7a7a7"/><stop offset=".25" stop-color="#bebebe"/><stop offset=".333" stop-color="#cdcdcd"/><stop offset=".417" stop-color="#d6d6d6"/><stop offset=".5" stop-color="#dbdbdb"/><stop offset=".583" stop-color="#dfdfdf"/><stop offset=".667" stop-color="#e2e2e2"/><stop offset=".75" stop-color="#e6e6e6"/><stop offset=".833" stop-color="#ededed"/><stop offset=".917" stop-color="#f1f1f1"/><stop offset="1" stop-color="#f4f4f4"/></linearGradient>
<linearGradient id="gI16" x1="0" y1="0" x2="0" y2="1"><stop offset="0" stop-color="#888888"/><stop offset=".083" stop-color="#8b8b8b"/><stop offset=".167" stop-color="#a2a2a2"/><stop offset=".25" stop-color="#bebebe"/><stop offset=".333" stop-color="#cfcfcf"/><stop offset=".417" stop-color="#d7d7d7"/><stop offset=".5" stop-color="#dcdcdc"/><stop offset=".583" stop-color="#dfdfdf"/><stop offset=".667" stop-color="#e2e2e2"/><stop offset=".75" stop-color="#e7e7e7"/><stop offset=".833" stop-color="#ececec"/><stop offset=".917" stop-color="#f1f1f1"/><stop offset="1" stop-color="#f4f4f4"/></linearGradient>
<linearGradient id="gI17" x1="0" y1="0" x2="0" y2="1"><stop offset="0" stop-color="#858585"/><stop offset=".083" stop-color="#8a8a8a"/><stop offset=".167" stop-color="#a2a2a2"/><stop offset=".25" stop-color="#c2c2c2"/><stop offset=".333" stop-color="#d1d1d1"/><stop offset=".417" stop-color="#d9d9d9"/><stop offset=".5" stop-color="#dddddd"/><stop offset=".583" stop-color="#e0e0e0"/><stop offset=".667" stop-color="#e2e2e2"/><stop offset=".75" stop-color="#e7e7e7"/><stop offset=".833" stop-color="#ececec"/><stop offset=".917" stop-color="#f1f1f1"/><stop offset="1" stop-color="#f4f4f4"/></linearGradient>
<linearGradient id="gI18" x1="0" y1="0" x2="0" y2="1"><stop offset="0" stop-color="#7f7f7f"/><stop offset=".083" stop-color="#8a8a8a"/><stop offset=".167" stop-color="#a3a3a3"/><stop offset=".25" stop-color="#c5c5c5"/><stop offset=".333" stop-color="#d2d2d2"/><stop offset=".417" stop-color="#dadada"/><stop offset=".5" stop-color="#dedede"/><stop offset=".583" stop-color="#e0e0e0"/><stop offset=".667" stop-color="#e3e3e3"/><stop offset=".75" stop-color="#e8e8e8"/><stop offset=".833" stop-color="#ededed"/><stop offset=".917" stop-color="#f1f1f1"/><stop offset="1" stop-color="#f4f4f4"/></linearGradient>
<linearGradient id="gI19" x1="0" y1="0" x2="0" y2="1"><stop offset="0" stop-color="#787878"/><stop offset=".083" stop-color="#808080"/><stop offset=".167" stop-color="#9a9a9a"/><stop offset=".25" stop-color="#bdbdbd"/><stop offset=".333" stop-color="#d0d0d0"/><stop offset=".417" stop-color="#dadada"/><stop offset=".5" stop-color="#dfdfdf"/><stop offset=".583" stop-color="#e1e1e1"/><stop offset=".667" stop-color="#e4e4e4"/><stop offset=".75" stop-color="#e9e9e9"/><stop offset=".833" stop-color="#eeeeee"/><stop offset=".917" stop-color="#f2f2f2"/><stop offset="1" stop-color="#f4f4f4"/></linearGradient>
<linearGradient id="gI20" x1="0" y1="0" x2="0" y2="1"><stop offset="0" stop-color="#717171"/><stop offset=".083" stop-color="#717171"/><stop offset=".167" stop-color="#8d8d8d"/><stop offset=".25" stop-color="#b2b2b2"/><stop offset=".333" stop-color="#cdcdcd"/><stop offset=".417" stop-color="#d9d9d9"/><stop offset=".5" stop-color="#e0e0e0"/><stop offset=".583" stop-color="#e2e2e2"/><stop offset=".667" stop-color="#e5e5e5"/><stop offset=".75" stop-color="#eaeaea"/><stop offset=".833" stop-color="#eeeeee"/><stop offset=".917" stop-color="#f2f2f2"/><stop offset="1" stop-color="#f5f5f5"/></linearGradient>
<linearGradient id="gI21" x1="0" y1="0" x2="0" y2="1"><stop offset="0" stop-color="#6b6b6b"/><stop offset=".083" stop-color="#686868"/><stop offset=".167" stop-color="#7c7c7c"/><stop offset=".25" stop-color="#aaaaaa"/><stop offset=".333" stop-color="#cacaca"/><stop offset=".417" stop-color="#d8d8d8"/><stop offset=".5" stop-color="#e0e0e0"/><stop offset=".583" stop-color="#e4e4e4"/><stop offset=".667" stop-color="#e6e6e6"/><stop offset=".75" stop-color="#eaeaea"/><stop offset=".833" stop-color="#eeeeee"/><stop offset=".917" stop-color="#f3f3f3"/><stop offset="1" stop-color="#f5f5f5"/></linearGradient>
<linearGradient id="gI22" x1="0" y1="0" x2="0" y2="1"><stop offset="0" stop-color="#696969"/><stop offset=".083" stop-color="#676767"/><stop offset=".167" stop-color="#787878"/><stop offset=".25" stop-color="#a4a4a4"/><stop offset=".333" stop-color="#c6c6c6"/><stop offset=".417" stop-color="#d5d5d5"/><stop offset=".5" stop-color="#dddddd"/><stop offset=".583" stop-color="#e3e3e3"/><stop offset=".667" stop-color="#e6e6e6"/><stop offset=".75" stop-color="#e9e9e9"/><stop offset=".833" stop-color="#ededed"/><stop offset=".917" stop-color="#f2f2f2"/><stop offset="1" stop-color="#f3f3f3"/></linearGradient>
<linearGradient id="gI23" x1="0" y1="0" x2="0" y2="1"><stop offset="0" stop-color="#6d6d6d"/><stop offset=".083" stop-color="#6d6d6d"/><stop offset=".167" stop-color="#7d7d7d"/><stop offset=".25" stop-color="#a0a0a0"/><stop offset=".333" stop-color="#bfbfbf"/><stop offset=".417" stop-color="#cfcfcf"/><stop offset=".5" stop-color="#d9d9d9"/><stop offset=".583" stop-color="#dfdfdf"/><stop offset=".667" stop-color="#e4e4e4"/><stop offset=".75" stop-color="#e8e8e8"/><stop offset=".833" stop-color="#ececec"/><stop offset=".917" stop-color="#efefef"/><stop offset="1" stop-color="#f2f2f2"/></linearGradient>
<linearGradient id="gI24" x1="0" y1="0" x2="0" y2="1"><stop offset="0" stop-color="#737373"/><stop offset=".083" stop-color="#767676"/><stop offset=".167" stop-color="#858585"/><stop offset=".25" stop-color="#a0a0a0"/><stop offset=".333" stop-color="#b9b9b9"/><stop offset=".417" stop-color="#c9c9c9"/><stop offset=".5" stop-color="#d3d3d3"/><stop offset=".583" stop-color="#dadada"/><stop offset=".667" stop-color="#e1e1e1"/><stop offset=".75" stop-color="#e5e5e5"/><stop offset=".833" stop-color="#e9e9e9"/><stop offset=".917" stop-color="#ededed"/><stop offset="1" stop-color="#efefef"/></linearGradient>
<linearGradient id="gI25" x1="0" y1="0" x2="0" y2="1"><stop offset="0" stop-color="#7b7b7b"/><stop offset=".083" stop-color="#7e7e7e"/><stop offset=".167" stop-color="#8d8d8d"/><stop offset=".25" stop-color="#a4a4a4"/><stop offset=".333" stop-color="#b7b7b7"/><stop offset=".417" stop-color="#c5c5c5"/><stop offset=".5" stop-color="#cfcfcf"/><stop offset=".583" stop-color="#d7d7d7"/><stop offset=".667" stop-color="#dedede"/><stop offset=".75" stop-color="#e3e3e3"/><stop offset=".833" stop-color="#e6e6e6"/><stop offset=".917" stop-color="#eaeaea"/><stop offset="1" stop-color="#ededed"/></linearGradient>
<linearGradient id="gI26" x1="0" y1="0" x2="0" y2="1"><stop offset="0" stop-color="#848484"/><stop offset=".083" stop-color="#888888"/><stop offset=".167" stop-color="#9b9b9b"/><stop offset=".25" stop-color="#adadad"/><stop offset=".333" stop-color="#b9b9b9"/><stop offset=".417" stop-color="#c3c3c3"/><stop offset=".5" stop-color="#cdcdcd"/><stop offset=".583" stop-color="#d5d5d5"/><stop offset=".667" stop-color="#dbdbdb"/><stop offset=".75" stop-color="#e0e0e0"/><stop offset=".833" stop-color="#e4e4e4"/><stop offset=".917" stop-color="#e8e8e8"/><stop offset="1" stop-color="#ebebeb"/></linearGradient>
<linearGradient id="gI27" x1="0" y1="0" x2="0" y2="1"><stop offset="0" stop-color="#8f8f8f"/><stop offset=".083" stop-color="#979797"/><stop offset=".167" stop-color="#aaaaaa"/><stop offset=".25" stop-color="#b4b4b4"/><stop offset=".333" stop-color="#bdbdbd"/><stop offset=".417" stop-color="#c4c4c4"/><stop offset=".5" stop-color="#cccccc"/><stop offset=".583" stop-color="#d4d4d4"/><stop offset=".667" stop-color="#dadada"/><stop offset=".75" stop-color="#dedede"/><stop offset=".833" stop-color="#e2e2e2"/><stop offset=".917" stop-color="#e6e6e6"/><stop offset="1" stop-color="#e9e9e9"/></linearGradient>
<linearGradient id="gI28" x1="0" y1="0" x2="0" y2="1"><stop offset="0" stop-color="#9e9e9e"/><stop offset=".083" stop-color="#a4a4a4"/><stop offset=".167" stop-color="#b0b0b0"/><stop offset=".25" stop-color="#b8b8b8"/><stop offset=".333" stop-color="#c0c0c0"/><stop offset=".417" stop-color="#c7c7c7"/><stop offset=".5" stop-color="#cdcdcd"/><stop offset=".583" stop-color="#d3d3d3"/><stop offset=".667" stop-color="#d9d9d9"/><stop offset=".75" stop-color="#dddddd"/><stop offset=".833" stop-color="#e1e1e1"/><stop offset=".917" stop-color="#e4e4e4"/><stop offset="1" stop-color="#e8e8e8"/></linearGradient>
<linearGradient id="gI29" x1="0" y1="0" x2="0" y2="1"><stop offset="0" stop-color="#aeaeae"/><stop offset=".083" stop-color="#aaaaaa"/><stop offset=".167" stop-color="#b1b1b1"/><stop offset=".25" stop-color="#bababa"/><stop offset=".333" stop-color="#c2c2c2"/><stop offset=".417" stop-color="#c8c8c8"/><stop offset=".5" stop-color="#cecece"/><stop offset=".583" stop-color="#d3d3d3"/><stop offset=".667" stop-color="#d8d8d8"/><stop offset=".75" stop-color="#dcdcdc"/><stop offset=".833" stop-color="#e0e0e0"/><stop offset=".917" stop-color="#e3e3e3"/><stop offset="1" stop-color="#e7e7e7"/></linearGradient>
<linearGradient id="gI30" x1="0" y1="0" x2="0" y2="1"><stop offset="0" stop-color="#aeaeae"/><stop offset=".083" stop-color="#aaaaaa"/><stop offset=".167" stop-color="#b1b1b1"/><stop offset=".25" stop-color="#bababa"/><stop offset=".333" stop-color="#c2c2c2"/><stop offset=".417" stop-color="#c8c8c8"/><stop offset=".5" stop-color="#cecece"/><stop offset=".583" stop-color="#d3d3d3"/><stop offset=".667" stop-color="#d8d8d8"/><stop offset=".75" stop-color="#dcdcdc"/><stop offset=".833" stop-color="#e0e0e0"/><stop offset=".917" stop-color="#e3e3e3"/><stop offset="1" stop-color="#e7e7e7"/></linearGradient>
<linearGradient id="gI31" x1="0" y1="0" x2="0" y2="1"><stop offset="0" stop-color="#aeaeae"/><stop offset=".083" stop-color="#aaaaaa"/><stop offset=".167" stop-color="#b1b1b1"/><stop offset=".25" stop-color="#bababa"/><stop offset=".333" stop-color="#c2c2c2"/><stop offset=".417" stop-color="#c8c8c8"/><stop offset=".5" stop-color="#cecece"/><stop offset=".583" stop-color="#d3d3d3"/><stop offset=".667" stop-color="#d8d8d8"/><stop offset=".75" stop-color="#dcdcdc"/><stop offset=".833" stop-color="#e0e0e0"/><stop offset=".917" stop-color="#e3e3e3"/><stop offset="1" stop-color="#e7e7e7"/></linearGradient>
<linearGradient id="gJ0" x1="0" y1="0" x2="0" y2="1"><stop offset="0" stop-color="#707070"/><stop offset=".083" stop-color="#707070"/><stop offset=".167" stop-color="#717171"/><stop offset=".25" stop-color="#737373"/><stop offset=".333" stop-color="#737373"/><stop offset=".417" stop-color="#727272"/><stop offset=".5" stop-color="#717171"/><stop offset=".583" stop-color="#6f6f6f"/><stop offset=".667" stop-color="#6d6d6d"/><stop offset=".75" stop-color="#6c6c6c"/><stop offset=".833" stop-color="#6d6d6d"/><stop offset=".917" stop-color="#6c6c6c"/><stop offset="1" stop-color="#6a6a6a"/></linearGradient>
<linearGradient id="gJ1" x1="0" y1="0" x2="0" y2="1"><stop offset="0" stop-color="#707070"/><stop offset=".083" stop-color="#707070"/><stop offset=".167" stop-color="#717171"/><stop offset=".25" stop-color="#737373"/><stop offset=".333" stop-color="#737373"/><stop offset=".417" stop-color="#727272"/><stop offset=".5" stop-color="#717171"/><stop offset=".583" stop-color="#6f6f6f"/><stop offset=".667" stop-color="#6d6d6d"/><stop offset=".75" stop-color="#6c6c6c"/><stop offset=".833" stop-color="#6d6d6d"/><stop offset=".917" stop-color="#6c6c6c"/><stop offset="1" stop-color="#6a6a6a"/></linearGradient>
<linearGradient id="gJ2" x1="0" y1="0" x2="0" y2="1"><stop offset="0" stop-color="#707070"/><stop offset=".083" stop-color="#707070"/><stop offset=".167" stop-color="#717171"/><stop offset=".25" stop-color="#737373"/><stop offset=".333" stop-color="#737373"/><stop offset=".417" stop-color="#727272"/><stop offset=".5" stop-color="#717171"/><stop offset=".583" stop-color="#6f6f6f"/><stop offset=".667" stop-color="#6d6d6d"/><stop offset=".75" stop-color="#6c6c6c"/><stop offset=".833" stop-color="#6d6d6d"/><stop offset=".917" stop-color="#6c6c6c"/><stop offset="1" stop-color="#6a6a6a"/></linearGradient>
<linearGradient id="gJ3" x1="0" y1="0" x2="0" y2="1"><stop offset="0" stop-color="#6f6f6f"/><stop offset=".083" stop-color="#6d6d6d"/><stop offset=".167" stop-color="#6f6f6f"/><stop offset=".25" stop-color="#717171"/><stop offset=".333" stop-color="#727272"/><stop offset=".417" stop-color="#707070"/><stop offset=".5" stop-color="#6f6f6f"/><stop offset=".583" stop-color="#6e6e6e"/><stop offset=".667" stop-color="#6d6d6d"/><stop offset=".75" stop-color="#6c6c6c"/><stop offset=".833" stop-color="#6c6c6c"/><stop offset=".917" stop-color="#6a6a6a"/><stop offset="1" stop-color="#686868"/></linearGradient>
<linearGradient id="gJ4" x1="0" y1="0" x2="0" y2="1"><stop offset="0" stop-color="#6c6c6c"/><stop offset=".083" stop-color="#6a6a6a"/><stop offset=".167" stop-color="#6c6c6c"/><stop offset=".25" stop-color="#707070"/><stop offset=".333" stop-color="#6f6f6f"/><stop offset=".417" stop-color="#6d6d6d"/><stop offset=".5" stop-color="#6c6c6c"/><stop offset=".583" stop-color="#6d6d6d"/><stop offset=".667" stop-color="#6c6c6c"/><stop offset=".75" stop-color="#6a6a6a"/><stop offset=".833" stop-color="#6b6b6b"/><stop offset=".917" stop-color="#676767"/><stop offset="1" stop-color="#646464"/></linearGradient>
<linearGradient id="gJ5" x1="0" y1="0" x2="0" y2="1"><stop offset="0" stop-color="#696969"/><stop offset=".083" stop-color="#656565"/><stop offset=".167" stop-color="#696969"/><stop offset=".25" stop-color="#6c6c6c"/><stop offset=".333" stop-color="#696969"/><stop offset=".417" stop-color="#6a6a6a"/><stop offset=".5" stop-color="#6a6a6a"/><stop offset=".583" stop-color="#676767"/><stop offset=".667" stop-color="#696969"/><stop offset=".75" stop-color="#646464"/><stop offset=".833" stop-color="#656565"/><stop offset=".917" stop-color="#626262"/><stop offset="1" stop-color="#606060"/></linearGradient>
<linearGradient id="gJ6" x1="0" y1="0" x2="0" y2="1"><stop offset="0" stop-color="#666666"/><stop offset=".083" stop-color="#5e5e5e"/><stop offset=".167" stop-color="#626262"/><stop offset=".25" stop-color="#5d5d5d"/><stop offset=".333" stop-color="#5b5b5b"/><stop offset=".417" stop-color="#5e5e5e"/><stop offset=".5" stop-color="#5f5f5f"/><stop offset=".583" stop-color="#595959"/><stop offset=".667" stop-color="#5a5a5a"/><stop offset=".75" stop-color="#585858"/><stop offset=".833" stop-color="#5b5b5b"/><stop offset=".917" stop-color="#5a5a5a"/><stop offset="1" stop-color="#5b5b5b"/></linearGradient>
<linearGradient id="gJ7" x1="0" y1="0" x2="0" y2="1"><stop offset="0" stop-color="#666666"/><stop offset=".083" stop-color="#595959"/><stop offset=".167" stop-color="#4c4c4c"/><stop offset=".25" stop-color="#454545"/><stop offset=".333" stop-color="#454545"/><stop offset=".417" stop-color="#464646"/><stop offset=".5" stop-color="#464646"/><stop offset=".583" stop-color="#464646"/><stop offset=".667" stop-color="#464646"/><stop offset=".75" stop-color="#4d4d4d"/><stop offset=".833" stop-color="#535353"/><stop offset=".917" stop-color="#555555"/><stop offset="1" stop-color="#575757"/></linearGradient>
<linearGradient id="gJ8" x1="0" y1="0" x2="0" y2="1"><stop offset="0" stop-color="#6a6a6a"/><stop offset=".083" stop-color="#585858"/><stop offset=".167" stop-color="#474747"/><stop offset=".25" stop-color="#3c3c3c"/><stop offset=".333" stop-color="#363636"/><stop offset=".417" stop-color="#2e2e2e"/><stop offset=".5" stop-color="#2d2d2d"/><stop offset=".583" stop-color="#3a3a3a"/><stop offset=".667" stop-color="#414141"/><stop offset=".75" stop-color="#494949"/><stop offset=".833" stop-color="#4f4f4f"/><stop offset=".917" stop-color="#525252"/><stop offset="1" stop-color="#545454"/></linearGradient>
<linearGradient id="gJ9" x1="0" y1="0" x2="0" y2="1"><stop offset="0" stop-color="#707070"/><stop offset=".083" stop-color="#585858"/><stop offset=".167" stop-color="#474747"/><stop offset=".25" stop-color="#3a3a3a"/><stop offset=".333" stop-color="#2c2c2c"/><stop offset=".417" stop-color="#212121"/><stop offset=".5" stop-color="#232323"/><stop offset=".583" stop-color="#343434"/><stop offset=".667" stop-color="#414141"/><stop offset=".75" stop-color="#484848"/><stop offset=".833" stop-color="#4d4d4d"/><stop offset=".917" stop-color="#505050"/><stop offset="1" stop-color="#515151"/></linearGradient>
<linearGradient id="gJ10" x1="0" y1="0" x2="0" y2="1"><stop offset="0" stop-color="#737373"/><stop offset=".083" stop-color="#5e5e5e"/><stop offset=".167" stop-color="#4a4a4a"/><stop offset=".25" stop-color="#3c3c3c"/><stop offset=".333" stop-color="#303030"/><stop offset=".417" stop-color="#2a2a2a"/><stop offset=".5" stop-color="#2d2d2d"/><stop offset=".583" stop-color="#3a3a3a"/><stop offset=".667" stop-color="#434343"/><stop offset=".75" stop-color="#494949"/><stop offset=".833" stop-color="#4d4d4d"/><stop offset=".917" stop-color="#4e4e4e"/><stop offset="1" stop-color="#4e4e4e"/></linearGradient>
<linearGradient id="gJ11" x1="0" y1="0" x2="0" y2="1"><stop offset="0" stop-color="#757575"/><stop offset=".083" stop-color="#646464"/><stop offset=".167" stop-color="#515151"/><stop offset=".25" stop-color="#434343"/><stop offset=".333" stop-color="#393939"/><stop offset=".417" stop-color="#404040"/><stop offset=".5" stop-color="#3a3a3a"/><stop offset=".583" stop-color="#414141"/><stop offset=".667" stop-color="#434343"/><stop offset=".75" stop-color="#494949"/><stop offset=".833" stop-color="#4c4c4c"/><stop offset=".917" stop-color="#4b4b4b"/><stop offset="1" stop-color="#4c4c4c"/></linearGradient>
<linearGradient id="gJ12" x1="0" y1="0" x2="0" y2="1"><stop offset="0" stop-color="#767676"/><stop offset=".083" stop-color="#6a6a6a"/><stop offset=".167" stop-color="#5a5a5a"/><stop offset=".25" stop-color="#4a4a4a"/><stop offset=".333" stop-color="#3b3b3b"/><stop offset=".417" stop-color="#363636"/><stop offset=".5" stop-color="#313131"/><stop offset=".583" stop-color="#363636"/><stop offset=".667" stop-color="#393939"/><stop offset=".75" stop-color="#434343"/><stop offset=".833" stop-color="#484848"/><stop offset=".917" stop-color="#484848"/><stop offset="1" stop-color="#494949"/></linearGradient>
<linearGradient id="gJ13" x1="0" y1="0" x2="0" y2="1"><stop offset="0" stop-color="#787878"/><stop offset=".083" stop-color="#707070"/><stop offset=".167" stop-color="#616161"/><stop offset=".25" stop-color="#4e4e4e"/><stop offset=".333" stop-color="#353535"/><stop offset=".417" stop-color="#242424"/><stop offset=".5" stop-color="#1e1e1e"/><stop offset=".583" stop-color="#202020"/><stop offset=".667" stop-color="#282828"/><stop offset=".75" stop-color="#363636"/><stop offset=".833" stop-color="#404040"/><stop offset=".917" stop-color="#444444"/><stop offset="1" stop-color="#464646"/></linearGradient>
<linearGradient id="gJ14" x1="0" y1="0" x2="0" y2="1"><stop offset="0" stop-color="#797979"/><stop offset=".083" stop-color="#757575"/><stop offset=".167" stop-color="#686868"/><stop offset=".25" stop-color="#4e4e4e"/><stop offset=".333" stop-color="#2f2f2f"/><stop offset=".417" stop-color="#1d1d1d"/><stop offset=".5" stop-color="#161616"/><stop offset=".583" stop-color="#161616"/><stop offset=".667" stop-color="#1d1d1d"/><stop offset=".75" stop-color="#2b2b2b"/><stop offset=".833" stop-color="#383838"/><stop offset=".917" stop-color="#3f3f3f"/><stop offset="1" stop-color="#434343"/></linearGradient>
<linearGradient id="gJ15" x1="0" y1="0" x2="0" y2="1"><stop offset="0" stop-color="#868686"/><stop offset=".083" stop-color="#7f7f7f"/><stop offset=".167" stop-color="#717171"/><stop offset=".25" stop-color="#4b4b4b"/><stop offset=".333" stop-color="#2b2b2b"/><stop offset=".417" stop-color="#1c1c1c"/><stop offset=".5" stop-color="#141414"/><stop offset=".583" stop-color="#141414"/><stop offset=".667" stop-color="#191919"/><stop offset=".75" stop-color="#262626"/><stop offset=".833" stop-color="#333333"/><stop offset=".917" stop-color="#3c3c3c"/><stop offset="1" stop-color="#414141"/></linearGradient>
<linearGradient id="gJ16" x1="0" y1="0" x2="0" y2="1"><stop offset="0" stop-color="#939393"/><stop offset=".083" stop-color="#898989"/><stop offset=".167" stop-color="#767676"/><stop offset=".25" stop-color="#454545"/><stop offset=".333" stop-color="#252525"/><stop offset=".417" stop-color="#181818"/><stop offset=".5" stop-color="#151515"/><stop offset=".583" stop-color="#151515"/><stop offset=".667" stop-color="#1a1a1a"/><stop offset=".75" stop-color="#262626"/><stop offset=".833" stop-color="#323232"/><stop offset=".917" stop-color="#3a3a3a"/><stop offset="1" stop-color="#3f3f3f"/></linearGradient>
<linearGradient id="gJ17" x1="0" y1="0" x2="0" y2="1"><stop offset="0" stop-color="#989898"/><stop offset=".083" stop-color="#8d8d8d"/><stop offset=".167" stop-color="#797979"/><stop offset=".25" stop-color="#444444"/><stop offset=".333" stop-color="#2a2a2a"/><stop offset=".417" stop-color="#1f1f1f"/><stop offset=".5" stop-color="#1b1b1b"/><stop offset=".583" stop-color="#1b1b1b"/><stop offset=".667" stop-color="#212121"/><stop offset=".75" stop-color="#292929"/><stop offset=".833" stop-color="#323232"/><stop offset=".917" stop-color="#3a3a3a"/><stop offset="1" stop-color="#3f3f3f"/></linearGradient>
<linearGradient id="gJ18" x1="0" y1="0" x2="0" y2="1"><stop offset="0" stop-color="#9a9a9a"/><stop offset=".083" stop-color="#8f8f8f"/><stop offset=".167" stop-color="#767676"/><stop offset=".25" stop-color="#494949"/><stop offset=".333" stop-color="#303030"/><stop offset=".417" stop-color="#282828"/><stop offset=".5" stop-color="#272727"/><stop offset=".583" stop-color="#2c2c2c"/><stop offset=".667" stop-color="#2b2b2b"/><stop offset=".75" stop-color="#2d2d2d"/><stop offset=".833" stop-color="#343434"/><stop offset=".917" stop-color="#3c3c3c"/><stop offset="1" stop-color="#3e3e3e"/></linearGradient>
<linearGradient id="gJ19" x1="0" y1="0" x2="0" y2="1"><stop offset="0" stop-color="#9f9f9f"/><stop offset=".083" stop-color="#9b9b9b"/><stop offset=".167" stop-color="#848484"/><stop offset=".25" stop-color="#535353"/><stop offset=".333" stop-color="#343434"/><stop offset=".417" stop-color="#292929"/><stop offset=".5" stop-color="#292929"/><stop offset=".583" stop-color="#2f2f2f"/><stop offset=".667" stop-color="#2e2e2e"/><stop offset=".75" stop-color="#2e2e2e"/><stop offset=".833" stop-color="#343434"/><stop offset=".917" stop-color="#3c3c3c"/><stop offset="1" stop-color="#3d3d3d"/></linearGradient>
<linearGradient id="gJ20" x1="0" y1="0" x2="0" y2="1"><stop offset="0" stop-color="#c1c1c1"/><stop offset=".083" stop-color="#c4c4c4"/><stop offset=".167" stop-color="#a4a4a4"/><stop offset=".25" stop-color="#636363"/><stop offset=".333" stop-color="#363636"/><stop offset=".417" stop-color="#282828"/><stop offset=".5" stop-color="#262626"/><stop offset=".583" stop-color="#272727"/><stop offset=".667" stop-color="#292929"/><stop offset=".75" stop-color="#2d2d2d"/><stop offset=".833" stop-color="#323232"/><stop offset=".917" stop-color="#383838"/><stop offset="1" stop-color="#3a3a3a"/></linearGradient>
<linearGradient id="gJ21" x1="0" y1="0" x2="0" y2="1"><stop offset="0" stop-color="#dbdbdb"/><stop offset=".083" stop-color="#dedede"/><stop offset=".167" stop-color="#bababa"/><stop offset=".25" stop-color="#6f6f6f"/><stop offset=".333" stop-color="#383838"/><stop offset=".417" stop-color="#262626"/><stop offset=".5" stop-color="#222222"/><stop offset=".583" stop-color="#222222"/><stop offset=".667" stop-color="#252525"/><stop offset=".75" stop-color="#2a2a2a"/><stop offset=".833" stop-color="#2f2f2f"/><stop offset=".917" stop-color="#343434"/><stop offset="1" stop-color="#373737"/></linearGradient>
<linearGradient id="gJ22" x1="0" y1="0" x2="0" y2="1"><stop offset="0" stop-color="#dbdbdb"/><stop offset=".083" stop-color="#dddddd"/><stop offset=".167" stop-color="#bdbdbd"/><stop offset=".25" stop-color="#747474"/><stop offset=".333" stop-color="#3b3b3b"/><stop offset=".417" stop-color="#282828"/><stop offset=".5" stop-color="#222222"/><stop offset=".583" stop-color="#212121"/><stop offset=".667" stop-color="#242424"/><stop offset=".75" stop-color="#292929"/><stop offset=".833" stop-color="#2d2d2d"/><stop offset=".917" stop-color="#313131"/><stop offset="1" stop-color="#333333"/></linearGradient>
<linearGradient id="gJ23" x1="0" y1="0" x2="0" y2="1"><stop offset="0" stop-color="#c4c4c4"/><stop offset=".083" stop-color="#c3c3c3"/><stop offset=".167" stop-color="#b2b2b2"/><stop offset=".25" stop-color="#797979"/><stop offset=".333" stop-color="#464646"/><stop offset=".417" stop-color="#333333"/><stop offset=".5" stop-color="#282828"/><stop offset=".583" stop-color="#252525"/><stop offset=".667" stop-color="#262626"/><stop offset=".75" stop-color="#292929"/><stop offset=".833" stop-color="#2b2b2b"/><stop offset=".917" stop-color="#2e2e2e"/><stop offset="1" stop-color="#303030"/></linearGradient>
<linearGradient id="gJ24" x1="0" y1="0" x2="0" y2="1"><stop offset="0" stop-color="#a4a4a4"/><stop offset=".083" stop-color="#a2a2a2"/><stop offset=".167" stop-color="#9e9e9e"/><stop offset=".25" stop-color="#7b7b7b"/><stop offset=".333" stop-color="#555555"/><stop offset=".417" stop-color="#404040"/><stop offset=".5" stop-color="#323232"/><stop offset=".583" stop-color="#2b2b2b"/><stop offset=".667" stop-color="#292929"/><stop offset=".75" stop-color="#292929"/><stop offset=".833" stop-color="#2a2a2a"/><stop offset=".917" stop-color="#2b2b2b"/><stop offset="1" stop-color="#2e2e2e"/></linearGradient>
<linearGradient id="gJ25" x1="0" y1="0" x2="0" y2="1"><stop offset="0" stop-color="#a6a6a6"/><stop offset=".083" stop-color="#9e9e9e"/><stop offset=".167" stop-color="#929292"/><stop offset=".25" stop-color="#7a7a7a"/><stop offset=".333" stop-color="#5d5d5d"/><stop offset=".417" stop-color="#4b4b4b"/><stop offset=".5" stop-color="#3b3b3b"/><stop offset=".583" stop-color="#303030"/><stop offset=".667" stop-color="#2c2c2c"/><stop offset=".75" stop-color="#2a2a2a"/><stop offset=".833" stop-color="#2a2a2a"/><stop offset=".917" stop-color="#2a2a2a"/><stop offset="1" stop-color="#2d2d2d"/></linearGradient>
<linearGradient id="gJ26" x1="0" y1="0" x2="0" y2="1"><stop offset="0" stop-color="#ababab"/><stop offset=".083" stop-color="#a0a0a0"/><stop offset=".167" stop-color="#8c8c8c"/><stop offset=".25" stop-color="#757575"/><stop offset=".333" stop-color="#5f5f5f"/><stop offset=".417" stop-color="#4e4e4e"/><stop offset=".5" stop-color="#3f3f3f"/><stop offset=".583" stop-color="#343434"/><stop offset=".667" stop-color="#2e2e2e"/><stop offset=".75" stop-color="#2c2c2c"/><stop offset=".833" stop-color="#2b2b2b"/><stop offset=".917" stop-color="#2b2b2b"/><stop offset="1" stop-color="#2d2d2d"/></linearGradient>
<linearGradient id="gJ27" x1="0" y1="0" x2="0" y2="1"><stop offset="0" stop-color="#ababab"/><stop offset=".083" stop-color="#9e9e9e"/><stop offset=".167" stop-color="#868686"/><stop offset=".25" stop-color="#707070"/><stop offset=".333" stop-color="#5d5d5d"/><stop offset=".417" stop-color="#4c4c4c"/><stop offset=".5" stop-color="#3f3f3f"/><stop offset=".583" stop-color="#363636"/><stop offset=".667" stop-color="#303030"/><stop offset=".75" stop-color="#2d2d2d"/><stop offset=".833" stop-color="#2c2c2c"/><stop offset=".917" stop-color="#2c2c2c"/><stop offset="1" stop-color="#2d2d2d"/></linearGradient>
<linearGradient id="gJ28" x1="0" y1="0" x2="0" y2="1"><stop offset="0" stop-color="#a7a7a7"/><stop offset=".083" stop-color="#989898"/><stop offset=".167" stop-color="#828282"/><stop offset=".25" stop-color="#6d6d6d"/><stop offset=".333" stop-color="#5b5b5b"/><stop offset=".417" stop-color="#4a4a4a"/><stop offset=".5" stop-color="#3e3e3e"/><stop offset=".583" stop-color="#373737"/><stop offset=".667" stop-color="#313131"/><stop offset=".75" stop-color="#2f2f2f"/><stop offset=".833" stop-color="#2d2d2d"/><stop offset=".917" stop-color="#2d2d2d"/><stop offset="1" stop-color="#2e2e2e"/></linearGradient>
<linearGradient id="gJ29" x1="0" y1="0" x2="0" y2="1"><stop offset="0" stop-color="#a3a3a3"/><stop offset=".083" stop-color="#949494"/><stop offset=".167" stop-color="#7f7f7f"/><stop offset=".25" stop-color="#6b6b6b"/><stop offset=".333" stop-color="#5a5a5a"/><stop offset=".417" stop-color="#494949"/><stop offset=".5" stop-color="#3e3e3e"/><stop offset=".583" stop-color="#373737"/><stop offset=".667" stop-color="#333333"/><stop offset=".75" stop-color="#313131"/><stop offset=".833" stop-color="#2f2f2f"/><stop offset=".917" stop-color="#2f2f2f"/><stop offset="1" stop-color="#2f2f2f"/></linearGradient>
<linearGradient id="gJ30" x1="0" y1="0" x2="0" y2="1"><stop offset="0" stop-color="#a3a3a3"/><stop offset=".083" stop-color="#949494"/><stop offset=".167" stop-color="#7f7f7f"/><stop offset=".25" stop-color="#6b6b6b"/><stop offset=".333" stop-color="#5a5a5a"/><stop offset=".417" stop-color="#494949"/><stop offset=".5" stop-color="#3e3e3e"/><stop offset=".583" stop-color="#373737"/><stop offset=".667" stop-color="#333333"/><stop offset=".75" stop-color="#313131"/><stop offset=".833" stop-color="#2f2f2f"/><stop offset=".917" stop-color="#2f2f2f"/><stop offset="1" stop-color="#2f2f2f"/></linearGradient>
<linearGradient id="gJ31" x1="0" y1="0" x2="0" y2="1"><stop offset="0" stop-color="#a3a3a3"/><stop offset=".083" stop-color="#949494"/><stop offset=".167" stop-color="#7f7f7f"/><stop offset=".25" stop-color="#6b6b6b"/><stop offset=".333" stop-color="#5a5a5a"/><stop offset=".417" stop-color="#494949"/><stop offset=".5" stop-color="#3e3e3e"/><stop offset=".583" stop-color="#373737"/><stop offset=".667" stop-color="#333333"/><stop offset=".75" stop-color="#313131"/><stop offset=".833" stop-color="#2f2f2f"/><stop offset=".917" stop-color="#2f2f2f"/><stop offset="1" stop-color="#2f2f2f"/></linearGradient>
<linearGradient id="gK0" x1="0" y1="0" x2="0" y2="1"><stop offset="0" stop-color="#050505"/><stop offset=".083" stop-color="#060606"/><stop offset=".167" stop-color="#060606"/><stop offset=".25" stop-color="#070707"/><stop offset=".333" stop-color="#090909"/><stop offset=".417" stop-color="#0b0b0b"/><stop offset=".5" stop-color="#0d0d0d"/><stop offset=".583" stop-color="#0f0f0f"/><stop offset=".667" stop-color="#111111"/><stop offset=".75" stop-color="#141414"/><stop offset=".833" stop-color="#161616"/><stop offset=".917" stop-color="#181818"/><stop offset="1" stop-color="#1a1a1a"/></linearGradient>
<linearGradient id="gK1" x1="0" y1="0" x2="0" y2="1"><stop offset="0" stop-color="#050505"/><stop offset=".083" stop-color="#060606"/><stop offset=".167" stop-color="#060606"/><stop offset=".25" stop-color="#070707"/><stop offset=".333" stop-color="#090909"/><stop offset=".417" stop-color="#0b0b0b"/><stop offset=".5" stop-color="#0d0d0d"/><stop offset=".583" stop-color="#0f0f0f"/><stop offset=".667" stop-color="#111111"/><stop offset=".75" stop-color="#141414"/><stop offset=".833" stop-color="#161616"/><stop offset=".917" stop-color="#181818"/><stop offset="1" stop-color="#1a1a1a"/></linearGradient>
<linearGradient id="gK2" x1="0" y1="0" x2="0" y2="1"><stop offset="0" stop-color="#050505"/><stop offset=".083" stop-color="#060606"/><stop offset=".167" stop-color="#060606"/><stop offset=".25" stop-color="#070707"/><stop offset=".333" stop-color="#090909"/><stop offset=".417" stop-color="#0b0b0b"/><stop offset=".5" stop-color="#0d0d0d"/><stop offset=".583" stop-color="#0f0f0f"/><stop offset=".667" stop-color="#111111"/><stop offset=".75" stop-color="#141414"/><stop offset=".833" stop-color="#161616"/><stop offset=".917" stop-color="#181818"/><stop offset="1" stop-color="#1a1a1a"/></linearGradient>
<linearGradient id="gK3" x1="0" y1="0" x2="0" y2="1"><stop offset="0" stop-color="#060606"/><stop offset=".083" stop-color="#060606"/><stop offset=".167" stop-color="#070707"/><stop offset=".25" stop-color="#080808"/><stop offset=".333" stop-color="#0a0a0a"/><stop offset=".417" stop-color="#0c0c0c"/><stop offset=".5" stop-color="#0e0e0e"/><stop offset=".583" stop-color="#101010"/><stop offset=".667" stop-color="#121212"/><stop offset=".75" stop-color="#151515"/><stop offset=".833" stop-color="#171717"/><stop offset=".917" stop-color="#191919"/><stop offset="1" stop-color="#1b1b1b"/></linearGradient>
<linearGradient id="gK4" x1="0" y1="0" x2="0" y2="1"><stop offset="0" stop-color="#070707"/><stop offset=".083" stop-color="#070707"/><stop offset=".167" stop-color="#080808"/><stop offset=".25" stop-color="#090909"/><stop offset=".333" stop-color="#0b0b0b"/><stop offset=".417" stop-color="#0d0d0d"/><stop offset=".5" stop-color="#0f0f0f"/><stop offset=".583" stop-color="#111111"/><stop offset=".667" stop-color="#141414"/><stop offset=".75" stop-color="#161616"/><stop offset=".833" stop-color="#191919"/><stop offset=".917" stop-color="#1b1b1b"/><stop offset="1" stop-color="#1d1d1d"/></linearGradient>
<linearGradient id="gK5" x1="0" y1="0" x2="0" y2="1"><stop offset="0" stop-color="#080808"/><stop offset=".083" stop-color="#080808"/><stop offset=".167" stop-color="#090909"/><stop offset=".25" stop-color="#0b0b0b"/><stop offset=".333" stop-color="#0d0d0d"/><stop offset=".417" stop-color="#0f0f0f"/><stop offset=".5" stop-color="#101010"/><stop offset=".583" stop-color="#131313"/><stop offset=".667" stop-color="#151515"/><stop offset=".75" stop-color="#181818"/><stop offset=".833" stop-color="#1a1a1a"/><stop offset=".917" stop-color="#1c1c1c"/><stop offset="1" stop-color="#1e1e1e"/></linearGradient>
<linearGradient id="gK6" x1="0" y1="0" x2="0" y2="1"><stop offset="0" stop-color="#080808"/><stop offset=".083" stop-color="#090909"/><stop offset=".167" stop-color="#0b0b0b"/><stop offset=".25" stop-color="#0e0e0e"/><stop offset=".333" stop-color="#101010"/><stop offset=".417" stop-color="#111111"/><stop offset=".5" stop-color="#121212"/><stop offset=".583" stop-color="#151515"/><stop offset=".667" stop-color="#171717"/><stop offset=".75" stop-color="#1a1a1a"/><stop offset=".833" stop-color="#1c1c1c"/><stop offset=".917" stop-color="#1e1e1e"/><stop offset="1" stop-color="#202020"/></linearGradient>
<linearGradient id="gK7" x1="0" y1="0" x2="0" y2="1"><stop offset="0" stop-color="#090909"/><stop offset=".083" stop-color="#0a0a0a"/><stop offset=".167" stop-color="#0d0d0d"/><stop offset=".25" stop-color="#111111"/><stop offset=".333" stop-color="#141414"/><stop offset=".417" stop-color="#151515"/><stop offset=".5" stop-color="#151515"/><stop offset=".583" stop-color="#171717"/><stop offset=".667" stop-color="#1a1a1a"/><stop offset=".75" stop-color="#1c1c1c"/><stop offset=".833" stop-color="#1f1f1f"/><stop offset=".917" stop-color="#202020"/><stop offset="1" stop-color="#222222"/></linearGradient>
<linearGradient id="gK8" x1="0" y1="0" x2="0" y2="1"><stop offset="0" stop-color="#090909"/><stop offset=".083" stop-color="#0b0b0b"/><stop offset=".167" stop-color="#0f0f0f"/><stop offset=".25" stop-color="#141414"/><stop offset=".333" stop-color="#191919"/><stop offset=".417" stop-color="#1c1c1c"/><stop offset=".5" stop-color="#1a1a1a"/><stop offset=".583" stop-color="#1a1a1a"/><stop offset=".667" stop-color="#1d1d1d"/><stop offset=".75" stop-color="#1f1f1f"/><stop offset=".833" stop-color="#212121"/><stop offset=".917" stop-color="#232323"/><stop offset="1" stop-color="#242424"/></linearGradient>
<linearGradient id="gK9" x1="0" y1="0" x2="0" y2="1"><stop offset="0" stop-color="#0a0a0a"/><stop offset=".083" stop-color="#0c0c0c"/><stop offset=".167" stop-color="#101010"/><stop offset=".25" stop-color="#171717"/><stop offset=".333" stop-color="#1e1e1e"/><stop offset=".417" stop-color="#222222"/><stop offset=".5" stop-color="#1e1e1e"/><stop offset=".583" stop-color="#1d1d1d"/><stop offset=".667" stop-color="#1f1f1f"/><stop offset=".75" stop-color="#222222"/><stop offset=".833" stop-color="#242424"/><stop offset=".917" stop-color="#252525"/><stop offset="1" stop-color="#262626"/></linearGradient>
<linearGradient id="gK10" x1="0" y1="0" x2="0" y2="1"><stop offset="0" stop-color="#0d0d0d"/><stop offset=".083" stop-color="#0e0e0e"/><stop offset=".167" stop-color="#121212"/><stop offset=".25" stop-color="#191919"/><stop offset=".333" stop-color="#202020"/><stop offset=".417" stop-color="#232323"/><stop offset=".5" stop-color="#1f1f1f"/><stop offset=".583" stop-color="#1f1f1f"/><stop offset=".667" stop-color="#232323"/><stop offset=".75" stop-color="#252525"/><stop offset=".833" stop-color="#272727"/><stop offset=".917" stop-color="#282828"/><stop offset="1" stop-color="#292929"/></linearGradient>
<linearGradient id="gK11" x1="0" y1="0" x2="0" y2="1"><stop offset="0" stop-color="#101010"/><stop offset=".083" stop-color="#101010"/><stop offset=".167" stop-color="#151515"/><stop offset=".25" stop-color="#1a1a1a"/><stop offset=".333" stop-color="#202020"/><stop offset=".417" stop-color="#212121"/><stop offset=".5" stop-color="#202020"/><stop offset=".583" stop-color="#212121"/><stop offset=".667" stop-color="#252525"/><stop offset=".75" stop-color="#292929"/><stop offset=".833" stop-color="#2b2b2b"/><stop offset=".917" stop-color="#2b2b2b"/><stop offset="1" stop-color="#2b2b2b"/></linearGradient>
<linearGradient id="gK12" x1="0" y1="0" x2="0" y2="1"><stop offset="0" stop-color="#141414"/><stop offset=".083" stop-color="#141414"/><stop offset=".167" stop-color="#171717"/><stop offset=".25" stop-color="#1d1d1d"/><stop offset=".333" stop-color="#222222"/><stop offset=".417" stop-color="#232323"/><stop offset=".5" stop-color="#252525"/><stop offset=".583" stop-color="#292929"/><stop offset=".667" stop-color="#2d2d2d"/><stop offset=".75" stop-color="#2f2f2f"/><stop offset=".833" stop-color="#2f2f2f"/><stop offset=".917" stop-color="#2e2e2e"/><stop offset="1" stop-color="#2e2e2e"/></linearGradient>
<linearGradient id="gK13" x1="0" y1="0" x2="0" y2="1"><stop offset="0" stop-color="#181818"/><stop offset=".083" stop-color="#181818"/><stop offset=".167" stop-color="#1b1b1b"/><stop offset=".25" stop-color="#202020"/><stop offset=".333" stop-color="#272727"/><stop offset=".417" stop-color="#2f2f2f"/><stop offset=".5" stop-color="#363636"/><stop offset=".583" stop-color="#3a3a3a"/><stop offset=".667" stop-color="#373737"/><stop offset=".75" stop-color="#353535"/><stop offset=".833" stop-color="#333333"/><stop offset=".917" stop-color="#313131"/><stop offset="1" stop-color="#313131"/></linearGradient>
<linearGradient id="gK14" x1="0" y1="0" x2="0" y2="1"><stop offset="0" stop-color="#1c1c1c"/><stop offset=".083" stop-color="#1d1d1d"/><stop offset=".167" stop-color="#1e1e1e"/><stop offset=".25" stop-color="#232323"/><stop offset=".333" stop-color="#2e2e2e"/><stop offset=".417" stop-color="#3d3d3d"/><stop offset=".5" stop-color="#444444"/><stop offset=".583" stop-color="#444444"/><stop offset=".667" stop-color="#404040"/><stop offset=".75" stop-color="#3a3a3a"/><stop offset=".833" stop-color="#373737"/><stop offset=".917" stop-color="#343434"/><stop offset="1" stop-color="#343434"/></linearGradient>
<linearGradient id="gK15" x1="0" y1="0" x2="0" y2="1"><stop offset="0" stop-color="#202020"/><stop offset=".083" stop-color="#212121"/><stop offset=".167" stop-color="#222222"/><stop offset=".25" stop-color="#272727"/><stop offset=".333" stop-color="#323232"/><stop offset=".417" stop-color="#404040"/><stop offset=".5" stop-color="#484848"/><stop offset=".583" stop-color="#474747"/><stop offset=".667" stop-color="#444444"/><stop offset=".75" stop-color="#3e3e3e"/><stop offset=".833" stop-color="#3a3a3a"/><stop offset=".917" stop-color="#383838"/><stop offset="1" stop-color="#373737"/></linearGradient>
<linearGradient id="gK16" x1="0" y1="0" x2="0" y2="1"><stop offset="0" stop-color="#232323"/><stop offset=".083" stop-color="#252525"/><stop offset=".167" stop-color="#262626"/><stop offset=".25" stop-color="#2b2b2b"/><stop offset=".333" stop-color="#353535"/><stop offset=".417" stop-color="#3e3e3e"/><stop offset=".5" stop-color="#444444"/><stop offset=".583" stop-color="#434343"/><stop offset=".667" stop-color="#434343"/><stop offset=".75" stop-color="#404040"/><stop offset=".833" stop-color="#3d3d3d"/><stop offset=".917" stop-color="#3b3b3b"/><stop offset="1" stop-color="#3a3a3a"/></linearGradient>
<linearGradient id="gK17" x1="0" y1="0" x2="0" y2="1"><stop offset="0" stop-color="#232323"/><stop offset=".083" stop-color="#242424"/><stop offset=".167" stop-color="#282828"/><stop offset=".25" stop-color="#2f2f2f"/><stop offset=".333" stop-color="#383838"/><stop offset=".417" stop-color="#3d3d3d"/><stop offset=".5" stop-color="#3e3e3e"/><stop offset=".583" stop-color="#3f3f3f"/><stop offset=".667" stop-color="#424242"/><stop offset=".75" stop-color="#414141"/><stop offset=".833" stop-color="#404040"/><stop offset=".917" stop-color="#3e3e3e"/><stop offset="1" stop-color="#3d3d3d"/></linearGradient>
<linearGradient id="gK18" x1="0" y1="0" x2="0" y2="1"><stop offset="0" stop-color="#232323"/><stop offset=".083" stop-color="#232323"/><stop offset=".167" stop-color="#2b2b2b"/><stop offset=".25" stop-color="#323232"/><stop offset=".333" stop-color="#3a3a3a"/><stop offset=".417" stop-color="#3c3c3c"/><stop offset=".5" stop-color="#3d3d3d"/><stop offset=".583" stop-color="#404040"/><stop offset=".667" stop-color="#434343"/><stop offset=".75" stop-color="#434343"/><stop offset=".833" stop-color="#424242"/><stop offset=".917" stop-color="#414141"/><stop offset="1" stop-color="#404040"/></linearGradient>
<linearGradient id="gK19" x1="0" y1="0" x2="0" y2="1"><stop offset="0" stop-color="#2c2c2c"/><stop offset=".083" stop-color="#2b2b2b"/><stop offset=".167" stop-color="#323232"/><stop offset=".25" stop-color="#383838"/><stop offset=".333" stop-color="#3d3d3d"/><stop offset=".417" stop-color="#404040"/><stop offset=".5" stop-color="#424242"/><stop offset=".583" stop-color="#454545"/><stop offset=".667" stop-color="#484848"/><stop offset=".75" stop-color="#474747"/><stop offset=".833" stop-color="#454545"/><stop offset=".917" stop-color="#444444"/><stop offset="1" stop-color="#434343"/></linearGradient>
<linearGradient id="gK20" x1="0" y1="0" x2="0" y2="1"><stop offset="0" stop-color="#454545"/><stop offset=".083" stop-color="#404040"/><stop offset=".167" stop-color="#3e3e3e"/><stop offset=".25" stop-color="#404040"/><stop offset=".333" stop-color="#444444"/><stop offset=".417" stop-color="#494949"/><stop offset=".5" stop-color="#4d4d4d"/><stop offset=".583" stop-color="#505050"/><stop offset=".667" stop-color="#525252"/><stop offset=".75" stop-color="#4e4e4e"/><stop offset=".833" stop-color="#4a4a4a"/><stop offset=".917" stop-color="#484848"/><stop offset="1" stop-color="#474747"/></linearGradient>
<linearGradient id="gK21" x1="0" y1="0" x2="0" y2="1"><stop offset="0" stop-color="#5a5a5a"/><stop offset=".083" stop-color="#525252"/><stop offset=".167" stop-color="#4c4c4c"/><stop offset=".25" stop-color="#525252"/><stop offset=".333" stop-color="#545454"/><stop offset=".417" stop-color="#575757"/><stop offset=".5" stop-color="#606060"/><stop offset=".583" stop-color="#5d5d5d"/><stop offset=".667" stop-color="#5c5c5c"/><stop offset=".75" stop-color="#585858"/><stop offset=".833" stop-color="#525252"/><stop offset=".917" stop-color="#4e4e4e"/><stop offset="1" stop-color="#4a4a4a"/></linearGradient>
<linearGradient id="gK22" x1="0" y1="0" x2="0" y2="1"><stop offset="0" stop-color="#6e6e6e"/><stop offset=".083" stop-color="#616161"/><stop offset=".167" stop-color="#5b5b5b"/><stop offset=".25" stop-color="#5e5e5e"/><stop offset=".333" stop-color="#606060"/><stop offset=".417" stop-color="#616161"/><stop offset=".5" stop-color="#676767"/><stop offset=".583" stop-color="#646464"/><stop offset=".667" stop-color="#616161"/><stop offset=".75" stop-color="#5d5d5d"/><stop offset=".833" stop-color="#575757"/><stop offset=".917" stop-color="#545454"/><stop offset="1" stop-color="#4d4d4d"/></linearGradient>
<linearGradient id="gK23" x1="0" y1="0" x2="0" y2="1"><stop offset="0" stop-color="#8a8a8a"/><stop offset=".083" stop-color="#7b7b7b"/><stop offset=".167" stop-color="#6b6b6b"/><stop offset=".25" stop-color="#656565"/><stop offset=".333" stop-color="#646464"/><stop offset=".417" stop-color="#646464"/><stop offset=".5" stop-color="#656565"/><stop offset=".583" stop-color="#626262"/><stop offset=".667" stop-color="#616161"/><stop offset=".75" stop-color="#5a5a5a"/><stop offset=".833" stop-color="#565656"/><stop offset=".917" stop-color="#535353"/><stop offset="1" stop-color="#4e4e4e"/></linearGradient>
<linearGradient id="gK24" x1="0" y1="0" x2="0" y2="1"><stop offset="0" stop-color="#b3b3b3"/><stop offset=".083" stop-color="#a8a8a8"/><stop offset=".167" stop-color="#838383"/><stop offset=".25" stop-color="#6b6b6b"/><stop offset=".333" stop-color="#606060"/><stop offset=".417" stop-color="#5c5c5c"/><stop offset=".5" stop-color="#5d5d5d"/><stop offset=".583" stop-color="#585858"/><stop offset=".667" stop-color="#565656"/><stop offset=".75" stop-color="#535353"/><stop offset=".833" stop-color="#515151"/><stop offset=".917" stop-color="#505050"/><stop offset="1" stop-color="#4c4c4c"/></linearGradient>
<linearGradient id="gK25" x1="0" y1="0" x2="0" y2="1"><stop offset="0" stop-color="#c1c1c1"/><stop offset=".083" stop-color="#bebebe"/><stop offset=".167" stop-color="#8b8b8b"/><stop offset=".25" stop-color="#686868"/><stop offset=".333" stop-color="#555555"/><stop offset=".417" stop-color="#4f4f4f"/><stop offset=".5" stop-color="#4c4c4c"/><stop offset=".583" stop-color="#4a4a4a"/><stop offset=".667" stop-color="#494949"/><stop offset=".75" stop-color="#4a4a4a"/><stop offset=".833" stop-color="#4b4b4b"/><stop offset=".917" stop-color="#4c4c4c"/><stop offset="1" stop-color="#4a4a4a"/></linearGradient>
<linearGradient id="gK26" x1="0" y1="0" x2="0" y2="1"><stop offset="0" stop-color="#b9b9b9"/><stop offset=".083" stop-color="#aeaeae"/><stop offset=".167" stop-color="#737373"/><stop offset=".25" stop-color="#535353"/><stop offset=".333" stop-color="#454545"/><stop offset=".417" stop-color="#414141"/><stop offset=".5" stop-color="#404040"/><stop offset=".583" stop-color="#404040"/><stop offset=".667" stop-color="#424242"/><stop offset=".75" stop-color="#444444"/><stop offset=".833" stop-color="#464646"/><stop offset=".917" stop-color="#484848"/><stop offset="1" stop-color="#474747"/></linearGradient>
<linearGradient id="gK27" x1="0" y1="0" x2="0" y2="1"><stop offset="0" stop-color="#9d9d9d"/><stop offset=".083" stop-color="#7e7e7e"/><stop offset=".167" stop-color="#525252"/><stop offset=".25" stop-color="#373737"/><stop offset=".333" stop-color="#333333"/><stop offset=".417" stop-color="#353535"/><stop offset=".5" stop-color="#383838"/><stop offset=".583" stop-color="#3a3a3a"/><stop offset=".667" stop-color="#3d3d3d"/><stop offset=".75" stop-color="#3f3f3f"/><stop offset=".833" stop-color="#424242"/><stop offset=".917" stop-color="#444444"/><stop offset="1" stop-color="#444444"/></linearGradient>
<linearGradient id="gK28" x1="0" y1="0" x2="0" y2="1"><stop offset="0" stop-color="#838383"/><stop offset=".083" stop-color="#656565"/><stop offset=".167" stop-color="#363636"/><stop offset=".25" stop-color="#212121"/><stop offset=".333" stop-color="#252525"/><stop offset=".417" stop-color="#2c2c2c"/><stop offset=".5" stop-color="#313131"/><stop offset=".583" stop-color="#363636"/><stop offset=".667" stop-color="#393939"/><stop offset=".75" stop-color="#3c3c3c"/><stop offset=".833" stop-color="#3f3f3f"/><stop offset=".917" stop-color="#414141"/><stop offset="1" stop-color="#424242"/></linearGradient>
<linearGradient id="gK29" x1="0" y1="0" x2="0" y2="1"><stop offset="0" stop-color="#717171"/><stop offset=".083" stop-color="#575757"/><stop offset=".167" stop-color="#262626"/><stop offset=".25" stop-color="#1b1b1b"/><stop offset=".333" stop-color="#202020"/><stop offset=".417" stop-color="#272727"/><stop offset=".5" stop-color="#2d2d2d"/><stop offset=".583" stop-color="#333333"/><stop offset=".667" stop-color="#373737"/><stop offset=".75" stop-color="#3a3a3a"/><stop offset=".833" stop-color="#3c3c3c"/><stop offset=".917" stop-color="#3e3e3e"/><stop offset="1" stop-color="#3f3f3f"/></linearGradient>
<linearGradient id="gK30" x1="0" y1="0" x2="0" y2="1"><stop offset="0" stop-color="#717171"/><stop offset=".083" stop-color="#575757"/><stop offset=".167" stop-color="#262626"/><stop offset=".25" stop-color="#1b1b1b"/><stop offset=".333" stop-color="#202020"/><stop offset=".417" stop-color="#272727"/><stop offset=".5" stop-color="#2d2d2d"/><stop offset=".583" stop-color="#333333"/><stop offset=".667" stop-color="#373737"/><stop offset=".75" stop-color="#3a3a3a"/><stop offset=".833" stop-color="#3c3c3c"/><stop offset=".917" stop-color="#3e3e3e"/><stop offset="1" stop-color="#3f3f3f"/></linearGradient>
<linearGradient id="gK31" x1="0" y1="0" x2="0" y2="1"><stop offset="0" stop-color="#717171"/><stop offset=".083" stop-color="#575757"/><stop offset=".167" stop-color="#262626"/><stop offset=".25" stop-color="#1b1b1b"/><stop offset=".333" stop-color="#202020"/><stop offset=".417" stop-color="#272727"/><stop offset=".5" stop-color="#2d2d2d"/><stop offset=".583" stop-color="#333333"/><stop offset=".667" stop-color="#373737"/><stop offset=".75" stop-color="#3a3a3a"/><stop offset=".833" stop-color="#3c3c3c"/><stop offset=".917" stop-color="#3e3e3e"/><stop offset="1" stop-color="#3f3f3f"/></linearGradient>
<linearGradient id="gL0" x1="0" y1="0" x2="0" y2="1"><stop offset="0" stop-color="#1d1d1d"/><stop offset=".083" stop-color="#191919"/><stop offset=".167" stop-color="#252525"/><stop offset=".25" stop-color="#383838"/><stop offset=".333" stop-color="#474747"/><stop offset=".417" stop-color="#535353"/><stop offset=".5" stop-color="#646464"/><stop offset=".583" stop-color="#717171"/><stop offset=".667" stop-color="#747474"/><stop offset=".75" stop-color="#707070"/><stop offset=".833" stop-color="#6b6b6b"/><stop offset=".917" stop-color="#696969"/><stop offset="1" stop-color="#6a6a6a"/></linearGradient>
<linearGradient id="gL1" x1="0" y1="0" x2="0" y2="1"><stop offset="0" stop-color="#1d1d1d"/><stop offset=".083" stop-color="#191919"/><stop offset=".167" stop-color="#252525"/><stop offset=".25" stop-color="#383838"/><stop offset=".333" stop-color="#474747"/><stop offset=".417" stop-color="#535353"/><stop offset=".5" stop-color="#646464"/><stop offset=".583" stop-color="#717171"/><stop offset=".667" stop-color="#747474"/><stop offset=".75" stop-color="#707070"/><stop offset=".833" stop-color="#6b6b6b"/><stop offset=".917" stop-color="#696969"/><stop offset="1" stop-color="#6a6a6a"/></linearGradient>
<linearGradient id="gL2" x1="0" y1="0" x2="0" y2="1"><stop offset="0" stop-color="#1d1d1d"/><stop offset=".083" stop-color="#191919"/><stop offset=".167" stop-color="#252525"/><stop offset=".25" stop-color="#383838"/><stop offset=".333" stop-color="#474747"/><stop offset=".417" stop-color="#535353"/><stop offset=".5" stop-color="#646464"/><stop offset=".583" stop-color="#717171"/><stop offset=".667" stop-color="#747474"/><stop offset=".75" stop-color="#707070"/><stop offset=".833" stop-color="#6b6b6b"/><stop offset=".917" stop-color="#696969"/><stop offset="1" stop-color="#6a6a6a"/></linearGradient>
<linearGradient id="gL3" x1="0" y1="0" x2="0" y2="1"><stop offset="0" stop-color="#191919"/><stop offset=".083" stop-color="#1a1a1a"/><stop offset=".167" stop-color="#292929"/><stop offset=".25" stop-color="#3e3e3e"/><stop offset=".333" stop-color="#4e4e4e"/><stop offset=".417" stop-color="#595959"/><stop offset=".5" stop-color="#676767"/><stop offset=".583" stop-color="#737373"/><stop offset=".667" stop-color="#777777"/><stop offset=".75" stop-color="#717171"/><stop offset=".833" stop-color="#686868"/><stop offset=".917" stop-color="#666666"/><stop offset="1" stop-color="#6c6c6c"/></linearGradient>
<linearGradient id="gL4" x1="0" y1="0" x2="0" y2="1"><stop offset="0" stop-color="#181818"/><stop offset=".083" stop-color="#1d1d1d"/><stop offset=".167" stop-color="#2e2e2e"/><stop offset=".25" stop-color="#454545"/><stop offset=".333" stop-color="#545454"/><stop offset=".417" stop-color="#5c5c5c"/><stop offset=".5" stop-color="#666666"/><stop offset=".583" stop-color="#6f6f6f"/><stop offset=".667" stop-color="#787878"/><stop offset=".75" stop-color="#6e6e6e"/><stop offset=".833" stop-color="#666666"/><stop offset=".917" stop-color="#6a6a6a"/><stop offset="1" stop-color="#727272"/></linearGradient>
<linearGradient id="gL5" x1="0" y1="0" x2="0" y2="1"><stop offset="0" stop-color="#181818"/><stop offset=".083" stop-color="#212121"/><stop offset=".167" stop-color="#323232"/><stop offset=".25" stop-color="#4b4b4b"/><stop offset=".333" stop-color="#575757"/><stop offset=".417" stop-color="#5e5e5e"/><stop offset=".5" stop-color="#636363"/><stop offset=".583" stop-color="#696969"/><stop offset=".667" stop-color="#6d6d6d"/><stop offset=".75" stop-color="#676767"/><stop offset=".833" stop-color="#6c6c6c"/><stop offset=".917" stop-color="#737373"/><stop offset="1" stop-color="#7a7a7a"/></linearGradient>
<linearGradient id="gL6" x1="0" y1="0" x2="0" y2="1"><stop offset="0" stop-color="#1a1a1a"/><stop offset=".083" stop-color="#242424"/><stop offset=".167" stop-color="#353535"/><stop offset=".25" stop-color="#4d4d4d"/><stop offset=".333" stop-color="#595959"/><stop offset=".417" stop-color="#5f5f5f"/><stop offset=".5" stop-color="#626262"/><stop offset=".583" stop-color="#656565"/><stop offset=".667" stop-color="#666666"/><stop offset=".75" stop-color="#717171"/><stop offset=".833" stop-color="#7e7e7e"/><stop offset=".917" stop-color="#7f7f7f"/><stop offset="1" stop-color="#848484"/></linearGradient>
<linearGradient id="gL7" x1="0" y1="0" x2="0" y2="1"><stop offset="0" stop-color="#1a1a1a"/><stop offset=".083" stop-color="#262626"/><stop offset=".167" stop-color="#373737"/><stop offset=".25" stop-color="#4d4d4d"/><stop offset=".333" stop-color="#5a5a5a"/><stop offset=".417" stop-color="#626262"/><stop offset=".5" stop-color="#656565"/><stop offset=".583" stop-color="#696969"/><stop offset=".667" stop-color="#6f6f6f"/><stop offset=".75" stop-color="#7e7e7e"/><stop offset=".833" stop-color="#898989"/><stop offset=".917" stop-color="#8b8b8b"/><stop offset="1" stop-color="#8d8d8d"/></linearGradient>
<linearGradient id="gL8" x1="0" y1="0" x2="0" y2="1"><stop offset="0" stop-color="#1b1b1b"/><stop offset=".083" stop-color="#272727"/><stop offset=".167" stop-color="#373737"/><stop offset=".25" stop-color="#4a4a4a"/><stop offset=".333" stop-color="#5b5b5b"/><stop offset=".417" stop-color="#686868"/><stop offset=".5" stop-color="#7b7b7b"/><stop offset=".583" stop-color="#757575"/><stop offset=".667" stop-color="#7b7b7b"/><stop offset=".75" stop-color="#898989"/><stop offset=".833" stop-color="#939393"/><stop offset=".917" stop-color="#959595"/><stop offset="1" stop-color="#979797"/></linearGradient>
<linearGradient id="gL9" x1="0" y1="0" x2="0" y2="1"><stop offset="0" stop-color="#1c1c1c"/><stop offset=".083" stop-color="#272727"/><stop offset=".167" stop-color="#363636"/><stop offset=".25" stop-color="#464646"/><stop offset=".333" stop-color="#5a5a5a"/><stop offset=".417" stop-color="#6a6a6a"/><stop offset=".5" stop-color="#747474"/><stop offset=".583" stop-color="#7a7a7a"/><stop offset=".667" stop-color="#858585"/><stop offset=".75" stop-color="#969696"/><stop offset=".833" stop-color="#9f9f9f"/><stop offset=".917" stop-color="#9f9f9f"/><stop offset="1" stop-color="#9f9f9f"/></linearGradient>
<linearGradient id="gL10" x1="0" y1="0" x2="0" y2="1"><stop offset="0" stop-color="#1d1d1d"/><stop offset=".083" stop-color="#282828"/><stop offset=".167" stop-color="#363636"/><stop offset=".25" stop-color="#464646"/><stop offset=".333" stop-color="#5a5a5a"/><stop offset=".417" stop-color="#666666"/><stop offset=".5" stop-color="#6d6d6d"/><stop offset=".583" stop-color="#797979"/><stop offset=".667" stop-color="#8d8d8d"/><stop offset=".75" stop-color="#a4a4a4"/><stop offset=".833" stop-color="#aaaaaa"/><stop offset=".917" stop-color="#a8a8a8"/><stop offset="1" stop-color="#a6a6a6"/></linearGradient>
<linearGradient id="gL11" x1="0" y1="0" x2="0" y2="1"><stop offset="0" stop-color="#1d1d1d"/><stop offset=".083" stop-color="#282828"/><stop offset=".167" stop-color="#373737"/><stop offset=".25" stop-color="#494949"/><stop offset=".333" stop-color="#595959"/><stop offset=".417" stop-color="#616161"/><stop offset=".5" stop-color="#6c6c6c"/><stop offset=".583" stop-color="#7f7f7f"/><stop offset=".667" stop-color="#969696"/><stop offset=".75" stop-color="#b0b0b0"/><stop offset=".833" stop-color="#b3b3b3"/><stop offset=".917" stop-color="#aeaeae"/><stop offset="1" stop-color="#acacac"/></linearGradient>
<linearGradient id="gL12" x1="0" y1="0" x2="0" y2="1"><stop offset="0" stop-color="#1c1c1c"/><stop offset=".083" stop-color="#262626"/><stop offset=".167" stop-color="#363636"/><stop offset=".25" stop-color="#4f4f4f"/><stop offset=".333" stop-color="#676767"/><stop offset=".417" stop-color="#7c7c7c"/><stop offset=".5" stop-color="#8a8a8a"/><stop offset=".583" stop-color="#989898"/><stop offset=".667" stop-color="#a8a8a8"/><stop offset=".75" stop-color="#b4b4b4"/><stop offset=".833" stop-color="#b5b5b5"/><stop offset=".917" stop-color="#b2b2b2"/><stop offset="1" stop-color="#b0b0b0"/></linearGradient>
<linearGradient id="gL13" x1="0" y1="0" x2="0" y2="1"><stop offset="0" stop-color="#191919"/><stop offset=".083" stop-color="#212121"/><stop offset=".167" stop-color="#303030"/><stop offset=".25" stop-color="#545454"/><stop offset=".333" stop-color="#919191"/><stop offset=".417" stop-color="#a9a9a9"/><stop offset=".5" stop-color="#b2b2b2"/><stop offset=".583" stop-color="#b6b6b6"/><stop offset=".667" stop-color="#b9b9b9"/><stop offset=".75" stop-color="#bbbbbb"/><stop offset=".833" stop-color="#b5b5b5"/><stop offset=".917" stop-color="#b3b3b3"/><stop offset="1" stop-color="#b4b4b4"/></linearGradient>
<linearGradient id="gL14" x1="0" y1="0" x2="0" y2="1"><stop offset="0" stop-color="#171717"/><stop offset=".083" stop-color="#1e1e1e"/><stop offset=".167" stop-color="#2d2d2d"/><stop offset=".25" stop-color="#5e5e5e"/><stop offset=".333" stop-color="#a2a2a2"/><stop offset=".417" stop-color="#b6b6b6"/><stop offset=".5" stop-color="#c1c1c1"/><stop offset=".583" stop-color="#c4c4c4"/><stop offset=".667" stop-color="#c3c3c3"/><stop offset=".75" stop-color="#c1c1c1"/><stop offset=".833" stop-color="#b4b4b4"/><stop offset=".917" stop-color="#b5b5b5"/><stop offset="1" stop-color="#b7b7b7"/></linearGradient>
<linearGradient id="gL15" x1="0" y1="0" x2="0" y2="1"><stop offset="0" stop-color="#151515"/><stop offset=".083" stop-color="#1e1e1e"/><stop offset=".167" stop-color="#363636"/><stop offset=".25" stop-color="#717171"/><stop offset=".333" stop-color="#a7a7a7"/><stop offset=".417" stop-color="#b6b6b6"/><stop offset=".5" stop-color="#c3c3c3"/><stop offset=".583" stop-color="#c8c8c8"/><stop offset=".667" stop-color="#c6c6c6"/><stop offset=".75" stop-color="#c1c1c1"/><stop offset=".833" stop-color="#b9b9b9"/><stop offset=".917" stop-color="#b9b9b9"/><stop offset="1" stop-color="#bababa"/></linearGradient>
<linearGradient id="gL16" x1="0" y1="0" x2="0" y2="1"><stop offset="0" stop-color="#141414"/><stop offset=".083" stop-color="#1b1b1b"/><stop offset=".167" stop-color="#393939"/><stop offset=".25" stop-color="#7d7d7d"/><stop offset=".333" stop-color="#aaaaaa"/><stop offset=".417" stop-color="#b7b7b7"/><stop offset=".5" stop-color="#c0c0c0"/><stop offset=".583" stop-color="#c3c3c3"/><stop offset=".667" stop-color="#c3c3c3"/><stop offset=".75" stop-color="#c1c1c1"/><stop offset=".833" stop-color="#bebebe"/><stop offset=".917" stop-color="#bebebe"/><stop offset="1" stop-color="#bfbfbf"/></linearGradient>
<linearGradient id="gL17" x1="0" y1="0" x2="0" y2="1"><stop offset="0" stop-color="#151515"/><stop offset=".083" stop-color="#1d1d1d"/><stop offset=".167" stop-color="#3b3b3b"/><stop offset=".25" stop-color="#6f6f6f"/><stop offset=".333" stop-color="#9a9a9a"/><stop offset=".417" stop-color="#ababab"/><stop offset=".5" stop-color="#b5b5b5"/><stop offset=".583" stop-color="#b9b9b9"/><stop offset=".667" stop-color="#bdbdbd"/><stop offset=".75" stop-color="#c1c1c1"/><stop offset=".833" stop-color="#c2c2c2"/><stop offset=".917" stop-color="#c3c3c3"/><stop offset="1" stop-color="#c3c3c3"/></linearGradient>
<linearGradient id="gL18" x1="0" y1="0" x2="0" y2="1"><stop offset="0" stop-color="#191919"/><stop offset=".083" stop-color="#222222"/><stop offset=".167" stop-color="#3c3c3c"/><stop offset=".25" stop-color="#5d5d5d"/><stop offset=".333" stop-color="#6e6e6e"/><stop offset=".417" stop-color="#858585"/><stop offset=".5" stop-color="#999999"/><stop offset=".583" stop-color="#adadad"/><stop offset=".667" stop-color="#b8b8b8"/><stop offset=".75" stop-color="#c3c3c3"/><stop offset=".833" stop-color="#c6c6c6"/><stop offset=".917" stop-color="#c7c7c7"/><stop offset="1" stop-color="#c7c7c7"/></linearGradient>
<linearGradient id="gL19" x1="0" y1="0" x2="0" y2="1"><stop offset="0" stop-color="#1c1c1c"/><stop offset=".083" stop-color="#252525"/><stop offset=".167" stop-color="#3c3c3c"/><stop offset=".25" stop-color="#5f5f5f"/><stop offset=".333" stop-color="#757575"/><stop offset=".417" stop-color="#8c8c8c"/><stop offset=".5" stop-color="#9e9e9e"/><stop offset=".583" stop-color="#afafaf"/><stop offset=".667" stop-color="#bdbdbd"/><stop offset=".75" stop-color="#c8c8c8"/><stop offset=".833" stop-color="#cbcbcb"/><stop offset=".917" stop-color="#cccccc"/><stop offset="1" stop-color="#cbcbcb"/></linearGradient>
<linearGradient id="gL20" x1="0" y1="0" x2="0" y2="1"><stop offset="0" stop-color="#1b1b1b"/><stop offset=".083" stop-color="#242424"/><stop offset=".167" stop-color="#3b3b3b"/><stop offset=".25" stop-color="#6a6a6a"/><stop offset=".333" stop-color="#969696"/><stop offset=".417" stop-color="#b1b1b1"/><stop offset=".5" stop-color="#c1c1c1"/><stop offset=".583" stop-color="#c8c8c8"/><stop offset=".667" stop-color="#cdcdcd"/><stop offset=".75" stop-color="#d0d0d0"/><stop offset=".833" stop-color="#d2d2d2"/><stop offset=".917" stop-color="#d2d2d2"/><stop offset="1" stop-color="#cfcfcf"/></linearGradient>
<linearGradient id="gL21" x1="0" y1="0" x2="0" y2="1"><stop offset="0" stop-color="#191919"/><stop offset=".083" stop-color="#222222"/><stop offset=".167" stop-color="#3a3a3a"/><stop offset=".25" stop-color="#747474"/><stop offset=".333" stop-color="#aeaeae"/><stop offset=".417" stop-color="#cbcbcb"/><stop offset=".5" stop-color="#d6d6d6"/><stop offset=".583" stop-color="#d9d9d9"/><stop offset=".667" stop-color="#dbdbdb"/><stop offset=".75" stop-color="#d8d8d8"/><stop offset=".833" stop-color="#d8d8d8"/><stop offset=".917" stop-color="#d7d7d7"/><stop offset="1" stop-color="#d1d1d1"/></linearGradient>
<linearGradient id="gL22" x1="0" y1="0" x2="0" y2="1"><stop offset="0" stop-color="#181818"/><stop offset=".083" stop-color="#202020"/><stop offset=".167" stop-color="#383838"/><stop offset=".25" stop-color="#737373"/><stop offset=".333" stop-color="#b4b4b4"/><stop offset=".417" stop-color="#cdcdcd"/><stop offset=".5" stop-color="#d8d8d8"/><stop offset=".583" stop-color="#dcdcdc"/><stop offset=".667" stop-color="#dedede"/><stop offset=".75" stop-color="#dadada"/><stop offset=".833" stop-color="#d9d9d9"/><stop offset=".917" stop-color="#d7d7d7"/><stop offset="1" stop-color="#d1d1d1"/></linearGradient>
<linearGradient id="gL23" x1="0" y1="0" x2="0" y2="1"><stop offset="0" stop-color="#181818"/><stop offset=".083" stop-color="#1e1e1e"/><stop offset=".167" stop-color="#343434"/><stop offset=".25" stop-color="#666666"/><stop offset=".333" stop-color="#a5a5a5"/><stop offset=".417" stop-color="#c2c2c2"/><stop offset=".5" stop-color="#cfcfcf"/><stop offset=".583" stop-color="#d5d5d5"/><stop offset=".667" stop-color="#d7d7d7"/><stop offset=".75" stop-color="#d5d5d5"/><stop offset=".833" stop-color="#d4d4d4"/><stop offset=".917" stop-color="#d2d2d2"/><stop offset="1" stop-color="#cfcfcf"/></linearGradient>
<linearGradient id="gL24" x1="0" y1="0" x2="0" y2="1"><stop offset="0" stop-color="#131313"/><stop offset=".083" stop-color="#1a1a1a"/><stop offset=".167" stop-color="#2f2f2f"/><stop offset=".25" stop-color="#575757"/><stop offset=".333" stop-color="#818181"/><stop offset=".417" stop-color="#a6a6a6"/><stop offset=".5" stop-color="#bababa"/><stop offset=".583" stop-color="#c4c4c4"/><stop offset=".667" stop-color="#c9c9c9"/><stop offset=".75" stop-color="#cccccc"/><stop offset=".833" stop-color="#cccccc"/><stop offset=".917" stop-color="#cccccc"/><stop offset="1" stop-color="#cacaca"/></linearGradient>
<linearGradient id="gL25" x1="0" y1="0" x2="0" y2="1"><stop offset="0" stop-color="#101010"/><stop offset=".083" stop-color="#181818"/><stop offset=".167" stop-color="#2d2d2d"/><stop offset=".25" stop-color="#4e4e4e"/><stop offset=".333" stop-color="#6a6a6a"/><stop offset=".417" stop-color="#808080"/><stop offset=".5" stop-color="#959595"/><stop offset=".583" stop-color="#a9a9a9"/><stop offset=".667" stop-color="#b6b6b6"/><stop offset=".75" stop-color="#bfbfbf"/><stop offset=".833" stop-color="#c3c3c3"/><stop offset=".917" stop-color="#c5c5c5"/><stop offset="1" stop-color="#c5c5c5"/></linearGradient>
<linearGradient id="gL26" x1="0" y1="0" x2="0" y2="1"><stop offset="0" stop-color="#101010"/><stop offset=".083" stop-color="#191919"/><stop offset=".167" stop-color="#323232"/><stop offset=".25" stop-color="#4c4c4c"/><stop offset=".333" stop-color="#626262"/><stop offset=".417" stop-color="#707070"/><stop offset=".5" stop-color="#7b7b7b"/><stop offset=".583" stop-color="#8a8a8a"/><stop offset=".667" stop-color="#9d9d9d"/><stop offset=".75" stop-color="#adadad"/><stop offset=".833" stop-color="#b9b9b9"/><stop offset=".917" stop-color="#bcbcbc"/><stop offset="1" stop-color="#bebebe"/></linearGradient>
<linearGradient id="gL27" x1="0" y1="0" x2="0" y2="1"><stop offset="0" stop-color="#121212"/><stop offset=".083" stop-color="#1f1f1f"/><stop offset=".167" stop-color="#3a3a3a"/><stop offset=".25" stop-color="#4f4f4f"/><stop offset=".333" stop-color="#606060"/><stop offset=".417" stop-color="#6b6b6b"/><stop offset=".5" stop-color="#727272"/><stop offset=".583" stop-color="#7a7a7a"/><stop offset=".667" stop-color="#868686"/><stop offset=".75" stop-color="#979797"/><stop offset=".833" stop-color="#aaaaaa"/><stop offset=".917" stop-color="#b3b3b3"/><stop offset="1" stop-color="#b7b7b7"/></linearGradient>
<linearGradient id="gL28" x1="0" y1="0" x2="0" y2="1"><stop offset="0" stop-color="#151515"/><stop offset=".083" stop-color="#222222"/><stop offset=".167" stop-color="#404040"/><stop offset=".25" stop-color="#535353"/><stop offset=".333" stop-color="#606060"/><stop offset=".417" stop-color="#6a6a6a"/><stop offset=".5" stop-color="#707070"/><stop offset=".583" stop-color="#777777"/><stop offset=".667" stop-color="#7c7c7c"/><stop offset=".75" stop-color="#8b8b8b"/><stop offset=".833" stop-color="#9d9d9d"/><stop offset=".917" stop-color="#a9a9a9"/><stop offset="1" stop-color="#b0b0b0"/></linearGradient>
<linearGradient id="gL29" x1="0" y1="0" x2="0" y2="1"><stop offset="0" stop-color="#1b1b1b"/><stop offset=".083" stop-color="#212121"/><stop offset=".167" stop-color="#414141"/><stop offset=".25" stop-color="#525252"/><stop offset=".333" stop-color="#5f5f5f"/><stop offset=".417" stop-color="#696969"/><stop offset=".5" stop-color="#717171"/><stop offset=".583" stop-color="#7a7a7a"/><stop offset=".667" stop-color="#7e7e7e"/><stop offset=".75" stop-color="#888888"/><stop offset=".833" stop-color="#969696"/><stop offset=".917" stop-color="#a1a1a1"/><stop offset="1" stop-color="#a9a9a9"/></linearGradient>
<linearGradient id="gL30" x1="0" y1="0" x2="0" y2="1"><stop offset="0" stop-color="#1b1b1b"/><stop offset=".083" stop-color="#212121"/><stop offset=".167" stop-color="#414141"/><stop offset=".25" stop-color="#525252"/><stop offset=".333" stop-color="#5f5f5f"/><stop offset=".417" stop-color="#696969"/><stop offset=".5" stop-color="#717171"/><stop offset=".583" stop-color="#7a7a7a"/><stop offset=".667" stop-color="#7e7e7e"/><stop offset=".75" stop-color="#888888"/><stop offset=".833" stop-color="#969696"/><stop offset=".917" stop-color="#a1a1a1"/><stop offset="1" stop-color="#a9a9a9"/></linearGradient>
<linearGradient id="gL31" x1="0" y1="0" x2="0" y2="1"><stop offset="0" stop-color="#1b1b1b"/><stop offset=".083" stop-color="#212121"/><stop offset=".167" stop-color="#414141"/><stop offset=".25" stop-color="#525252"/><stop offset=".333" stop-color="#5f5f5f"/><stop offset=".417" stop-color="#696969"/><stop offset=".5" stop-color="#717171"/><stop offset=".583" stop-color="#7a7a7a"/><stop offset=".667" stop-color="#7e7e7e"/><stop offset=".75" stop-color="#888888"/><stop offset=".833" stop-color="#969696"/><stop offset=".917" stop-color="#a1a1a1"/><stop offset="1" stop-color="#a9a9a9"/></linearGradient>
<linearGradient id="gM0" x1="0" y1="0" x2="0" y2="1"><stop offset="0" stop-color="#0d0d0d"/><stop offset=".083" stop-color="#131313"/><stop offset=".167" stop-color="#222222"/><stop offset=".25" stop-color="#353535"/><stop offset=".333" stop-color="#434343"/><stop offset=".417" stop-color="#4b4b4b"/><stop offset=".5" stop-color="#505050"/><stop offset=".583" stop-color="#545454"/><stop offset=".667" stop-color="#565656"/><stop offset=".75" stop-color="#585858"/><stop offset=".833" stop-color="#5b5b5b"/><stop offset=".917" stop-color="#5f5f5f"/><stop offset="1" stop-color="#636363"/></linearGradient>
<linearGradient id="gM1" x1="0" y1="0" x2="0" y2="1"><stop offset="0" stop-color="#0d0d0d"/><stop offset=".083" stop-color="#131313"/><stop offset=".167" stop-color="#222222"/><stop offset=".25" stop-color="#353535"/><stop offset=".333" stop-color="#434343"/><stop offset=".417" stop-color="#4b4b4b"/><stop offset=".5" stop-color="#505050"/><stop offset=".583" stop-color="#545454"/><stop offset=".667" stop-color="#565656"/><stop offset=".75" stop-color="#585858"/><stop offset=".833" stop-color="#5b5b5b"/><stop offset=".917" stop-color="#5f5f5f"/><stop offset="1" stop-color="#636363"/></linearGradient>
<linearGradient id="gM2" x1="0" y1="0" x2="0" y2="1"><stop offset="0" stop-color="#0d0d0d"/><stop offset=".083" stop-color="#131313"/><stop offset=".167" stop-color="#222222"/><stop offset=".25" stop-color="#353535"/><stop offset=".333" stop-color="#434343"/><stop offset=".417" stop-color="#4b4b4b"/><stop offset=".5" stop-color="#505050"/><stop offset=".583" stop-color="#545454"/><stop offset=".667" stop-color="#565656"/><stop offset=".75" stop-color="#585858"/><stop offset=".833" stop-color="#5b5b5b"/><stop offset=".917" stop-color="#5f5f5f"/><stop offset="1" stop-color="#636363"/></linearGradient>
<linearGradient id="gM3" x1="0" y1="0" x2="0" y2="1"><stop offset="0" stop-color="#0c0c0c"/><stop offset=".083" stop-color="#141414"/><stop offset=".167" stop-color="#252525"/><stop offset=".25" stop-color="#3c3c3c"/><stop offset=".333" stop-color="#4a4a4a"/><stop offset=".417" stop-color="#505050"/><stop offset=".5" stop-color="#545454"/><stop offset=".583" stop-color="#585858"/><stop offset=".667" stop-color="#595959"/><stop offset=".75" stop-color="#5b5b5b"/><stop offset=".833" stop-color="#5d5d5d"/><stop offset=".917" stop-color="#616161"/><stop offset="1" stop-color="#676767"/></linearGradient>
<linearGradient id="gM4" x1="0" y1="0" x2="0" y2="1"><stop offset="0" stop-color="#0c0c0c"/><stop offset=".083" stop-color="#141414"/><stop offset=".167" stop-color="#282828"/><stop offset=".25" stop-color="#434343"/><stop offset=".333" stop-color="#4f4f4f"/><stop offset=".417" stop-color="#545454"/><stop offset=".5" stop-color="#575757"/><stop offset=".583" stop-color="#5b5b5b"/><stop offset=".667" stop-color="#5c5c5c"/><stop offset=".75" stop-color="#5d5d5d"/><stop offset=".833" stop-color="#5f5f5f"/><stop offset=".917" stop-color="#656565"/><stop offset="1" stop-color="#6a6a6a"/></linearGradient>
<linearGradient id="gM5" x1="0" y1="0" x2="0" y2="1"><stop offset="0" stop-color="#0c0c0c"/><stop offset=".083" stop-color="#151515"/><stop offset=".167" stop-color="#2b2b2b"/><stop offset=".25" stop-color="#474747"/><stop offset=".333" stop-color="#515151"/><stop offset=".417" stop-color="#565656"/><stop offset=".5" stop-color="#595959"/><stop offset=".583" stop-color="#5c5c5c"/><stop offset=".667" stop-color="#5d5d5d"/><stop offset=".75" stop-color="#5e5e5e"/><stop offset=".833" stop-color="#626262"/><stop offset=".917" stop-color="#686868"/><stop offset="1" stop-color="#6f6f6f"/></linearGradient>
<linearGradient id="gM6" x1="0" y1="0" x2="0" y2="1"><stop offset="0" stop-color="#0e0e0e"/><stop offset=".083" stop-color="#171717"/><stop offset=".167" stop-color="#2d2d2d"/><stop offset=".25" stop-color="#474747"/><stop offset=".333" stop-color="#525252"/><stop offset=".417" stop-color="#585858"/><stop offset=".5" stop-color="#5b5b5b"/><stop offset=".583" stop-color="#5d5d5d"/><stop offset=".667" stop-color="#5f5f5f"/><stop offset=".75" stop-color="#5f5f5f"/><stop offset=".833" stop-color="#646464"/><stop offset=".917" stop-color="#6d6d6d"/><stop offset="1" stop-color="#747474"/></linearGradient>
<linearGradient id="gM7" x1="0" y1="0" x2="0" y2="1"><stop offset="0" stop-color="#0f0f0f"/><stop offset=".083" stop-color="#1a1a1a"/><stop offset=".167" stop-color="#303030"/><stop offset=".25" stop-color="#454545"/><stop offset=".333" stop-color="#525252"/><stop offset=".417" stop-color="#5a5a5a"/><stop offset=".5" stop-color="#5d5d5d"/><stop offset=".583" stop-color="#606060"/><stop offset=".667" stop-color="#636363"/><stop offset=".75" stop-color="#656565"/><stop offset=".833" stop-color="#6b6b6b"/><stop offset=".917" stop-color="#747474"/><stop offset="1" stop-color="#7b7b7b"/></linearGradient>
<linearGradient id="gM8" x1="0" y1="0" x2="0" y2="1"><stop offset="0" stop-color="#0f0f0f"/><stop offset=".083" stop-color="#1b1b1b"/><stop offset=".167" stop-color="#303030"/><stop offset=".25" stop-color="#424242"/><stop offset=".333" stop-color="#525252"/><stop offset=".417" stop-color="#5c5c5c"/><stop offset=".5" stop-color="#5f5f5f"/><stop offset=".583" stop-color="#646464"/><stop offset=".667" stop-color="#6a6a6a"/><stop offset=".75" stop-color="#707070"/><stop offset=".833" stop-color="#767676"/><stop offset=".917" stop-color="#7d7d7d"/><stop offset="1" stop-color="#828282"/></linearGradient>
<linearGradient id="gM9" x1="0" y1="0" x2="0" y2="1"><stop offset="0" stop-color="#101010"/><stop offset=".083" stop-color="#1a1a1a"/><stop offset=".167" stop-color="#2e2e2e"/><stop offset=".25" stop-color="#3f3f3f"/><stop offset=".333" stop-color="#515151"/><stop offset=".417" stop-color="#5f5f5f"/><stop offset=".5" stop-color="#616161"/><stop offset=".583" stop-color="#686868"/><stop offset=".667" stop-color="#737373"/><stop offset=".75" stop-color="#7c7c7c"/><stop offset=".833" stop-color="#828282"/><stop offset=".917" stop-color="#878787"/><stop offset="1" stop-color="#8b8b8b"/></linearGradient>
<linearGradient id="gM10" x1="0" y1="0" x2="0" y2="1"><stop offset="0" stop-color="#111111"/><stop offset=".083" stop-color="#1a1a1a"/><stop offset=".167" stop-color="#303030"/><stop offset=".25" stop-color="#404040"/><stop offset=".333" stop-color="#515151"/><stop offset=".417" stop-color="#5d5d5d"/><stop offset=".5" stop-color="#626262"/><stop offset=".583" stop-color="#6d6d6d"/><stop offset=".667" stop-color="#7c7c7c"/><stop offset=".75" stop-color="#898989"/><stop offset=".833" stop-color="#8f8f8f"/><stop offset=".917" stop-color="#929292"/><stop offset="1" stop-color="#939393"/></linearGradient>
<linearGradient id="gM11" x1="0" y1="0" x2="0" y2="1"><stop offset="0" stop-color="#151515"/><stop offset=".083" stop-color="#1c1c1c"/><stop offset=".167" stop-color="#323232"/><stop offset=".25" stop-color="#474747"/><stop offset=".333" stop-color="#545454"/><stop offset=".417" stop-color="#5c5c5c"/><stop offset=".5" stop-color="#686868"/><stop offset=".583" stop-color="#737373"/><stop offset=".667" stop-color="#858585"/><stop offset=".75" stop-color="#939393"/><stop offset=".833" stop-color="#9b9b9b"/><stop offset=".917" stop-color="#9b9b9b"/><stop offset="1" stop-color="#9b9b9b"/></linearGradient>
<linearGradient id="gM12" x1="0" y1="0" x2="0" y2="1"><stop offset="0" stop-color="#1a1a1a"/><stop offset=".083" stop-color="#202020"/><stop offset=".167" stop-color="#333333"/><stop offset=".25" stop-color="#4b4b4b"/><stop offset=".333" stop-color="#626262"/><stop offset=".417" stop-color="#747474"/><stop offset=".5" stop-color="#808080"/><stop offset=".583" stop-color="#898989"/><stop offset=".667" stop-color="#929292"/><stop offset=".75" stop-color="#9b9b9b"/><stop offset=".833" stop-color="#a2a2a2"/><stop offset=".917" stop-color="#a2a2a2"/><stop offset="1" stop-color="#a2a2a2"/></linearGradient>
<linearGradient id="gM13" x1="0" y1="0" x2="0" y2="1"><stop offset="0" stop-color="#212121"/><stop offset=".083" stop-color="#242424"/><stop offset=".167" stop-color="#333333"/><stop offset=".25" stop-color="#4f4f4f"/><stop offset=".333" stop-color="#7b7b7b"/><stop offset=".417" stop-color="#9a9a9a"/><stop offset=".5" stop-color="#a2a2a2"/><stop offset=".583" stop-color="#a4a4a4"/><stop offset=".667" stop-color="#a4a4a4"/><stop offset=".75" stop-color="#a3a3a3"/><stop offset=".833" stop-color="#a2a2a2"/><stop offset=".917" stop-color="#a6a6a6"/><stop offset="1" stop-color="#a8a8a8"/></linearGradient>
<linearGradient id="gM14" x1="0" y1="0" x2="0" y2="1"><stop offset="0" stop-color="#2d2d2d"/><stop offset=".083" stop-color="#2f2f2f"/><stop offset=".167" stop-color="#3c3c3c"/><stop offset=".25" stop-color="#5d5d5d"/><stop offset=".333" stop-color="#8e8e8e"/><stop offset=".417" stop-color="#acacac"/><stop offset=".5" stop-color="#b2b2b2"/><stop offset=".583" stop-color="#b4b4b4"/><stop offset=".667" stop-color="#b2b2b2"/><stop offset=".75" stop-color="#acacac"/><stop offset=".833" stop-color="#a5a5a5"/><stop offset=".917" stop-color="#a7a7a7"/><stop offset="1" stop-color="#ababab"/></linearGradient>
<linearGradient id="gM15" x1="0" y1="0" x2="0" y2="1"><stop offset="0" stop-color="#474747"/><stop offset=".083" stop-color="#4e4e4e"/><stop offset=".167" stop-color="#565656"/><stop offset=".25" stop-color="#767676"/><stop offset=".333" stop-color="#9d9d9d"/><stop offset=".417" stop-color="#b4b4b4"/><stop offset=".5" stop-color="#bcbcbc"/><stop offset=".583" stop-color="#c0c0c0"/><stop offset=".667" stop-color="#bbbbbb"/><stop offset=".75" stop-color="#b4b4b4"/><stop offset=".833" stop-color="#ababab"/><stop offset=".917" stop-color="#aaaaaa"/><stop offset="1" stop-color="#adadad"/></linearGradient>
<linearGradient id="gM16" x1="0" y1="0" x2="0" y2="1"><stop offset="0" stop-color="#545454"/><stop offset=".083" stop-color="#606060"/><stop offset=".167" stop-color="#676767"/><stop offset=".25" stop-color="#838383"/><stop offset=".333" stop-color="#a3a3a3"/><stop offset=".417" stop-color="#bbbbbb"/><stop offset=".5" stop-color="#c3c3c3"/><stop offset=".583" stop-color="#c5c5c5"/><stop offset=".667" stop-color="#bdbdbd"/><stop offset=".75" stop-color="#b7b7b7"/><stop offset=".833" stop-color="#b1b1b1"/><stop offset=".917" stop-color="#afafaf"/><stop offset="1" stop-color="#afafaf"/></linearGradient>
<linearGradient id="gM17" x1="0" y1="0" x2="0" y2="1"><stop offset="0" stop-color="#505050"/><stop offset=".083" stop-color="#5d5d5d"/><stop offset=".167" stop-color="#676767"/><stop offset=".25" stop-color="#797979"/><stop offset=".333" stop-color="#909090"/><stop offset=".417" stop-color="#a5a5a5"/><stop offset=".5" stop-color="#b5b5b5"/><stop offset=".583" stop-color="#b9b9b9"/><stop offset=".667" stop-color="#b8b8b8"/><stop offset=".75" stop-color="#b7b7b7"/><stop offset=".833" stop-color="#b4b4b4"/><stop offset=".917" stop-color="#b3b3b3"/><stop offset="1" stop-color="#b2b2b2"/></linearGradient>
<linearGradient id="gM18" x1="0" y1="0" x2="0" y2="1"><stop offset="0" stop-color="#474747"/><stop offset=".083" stop-color="#484848"/><stop offset=".167" stop-color="#606060"/><stop offset=".25" stop-color="#6b6b6b"/><stop offset=".333" stop-color="#707070"/><stop offset=".417" stop-color="#808080"/><stop offset=".5" stop-color="#949494"/><stop offset=".583" stop-color="#a2a2a2"/><stop offset=".667" stop-color="#b0b0b0"/><stop offset=".75" stop-color="#b6b6b6"/><stop offset=".833" stop-color="#b6b6b6"/><stop offset=".917" stop-color="#b6b6b6"/><stop offset="1" stop-color="#b4b4b4"/></linearGradient>
<linearGradient id="gM19" x1="0" y1="0" x2="0" y2="1"><stop offset="0" stop-color="#4e4e4e"/><stop offset=".083" stop-color="#4e4e4e"/><stop offset=".167" stop-color="#616161"/><stop offset=".25" stop-color="#6d6d6d"/><stop offset=".333" stop-color="#747474"/><stop offset=".417" stop-color="#858585"/><stop offset=".5" stop-color="#979797"/><stop offset=".583" stop-color="#a4a4a4"/><stop offset=".667" stop-color="#b2b2b2"/><stop offset=".75" stop-color="#b7b7b7"/><stop offset=".833" stop-color="#b8b8b8"/><stop offset=".917" stop-color="#b8b8b8"/><stop offset="1" stop-color="#b6b6b6"/></linearGradient>
<linearGradient id="gM20" x1="0" y1="0" x2="0" y2="1"><stop offset="0" stop-color="#646464"/><stop offset=".083" stop-color="#636363"/><stop offset=".167" stop-color="#6a6a6a"/><stop offset=".25" stop-color="#7e7e7e"/><stop offset=".333" stop-color="#979797"/><stop offset=".417" stop-color="#aaaaaa"/><stop offset=".5" stop-color="#b7b7b7"/><stop offset=".583" stop-color="#bebebe"/><stop offset=".667" stop-color="#bebebe"/><stop offset=".75" stop-color="#bbbbbb"/><stop offset=".833" stop-color="#bababa"/><stop offset=".917" stop-color="#b9b9b9"/><stop offset="1" stop-color="#b6b6b6"/></linearGradient>
<linearGradient id="gM21" x1="0" y1="0" x2="0" y2="1"><stop offset="0" stop-color="#747474"/><stop offset=".083" stop-color="#717171"/><stop offset=".167" stop-color="#727272"/><stop offset=".25" stop-color="#8e8e8e"/><stop offset=".333" stop-color="#aaaaaa"/><stop offset=".417" stop-color="#c2c2c2"/><stop offset=".5" stop-color="#d2d2d2"/><stop offset=".583" stop-color="#d2d2d2"/><stop offset=".667" stop-color="#cbcbcb"/><stop offset=".75" stop-color="#c1c1c1"/><stop offset=".833" stop-color="#bbbbbb"/><stop offset=".917" stop-color="#b7b7b7"/><stop offset="1" stop-color="#b5b5b5"/></linearGradient>
<linearGradient id="gM22" x1="0" y1="0" x2="0" y2="1"><stop offset="0" stop-color="#787878"/><stop offset=".083" stop-color="#737373"/><stop offset=".167" stop-color="#787878"/><stop offset=".25" stop-color="#939393"/><stop offset=".333" stop-color="#b3b3b3"/><stop offset=".417" stop-color="#c9c9c9"/><stop offset=".5" stop-color="#d4d4d4"/><stop offset=".583" stop-color="#d5d5d5"/><stop offset=".667" stop-color="#cfcfcf"/><stop offset=".75" stop-color="#c3c3c3"/><stop offset=".833" stop-color="#bababa"/><stop offset=".917" stop-color="#b4b4b4"/><stop offset="1" stop-color="#b3b3b3"/></linearGradient>
<linearGradient id="gM23" x1="0" y1="0" x2="0" y2="1"><stop offset="0" stop-color="#7e7e7e"/><stop offset=".083" stop-color="#7c7c7c"/><stop offset=".167" stop-color="#808080"/><stop offset=".25" stop-color="#939393"/><stop offset=".333" stop-color="#aeaeae"/><stop offset=".417" stop-color="#c3c3c3"/><stop offset=".5" stop-color="#cbcbcb"/><stop offset=".583" stop-color="#cdcdcd"/><stop offset=".667" stop-color="#cacaca"/><stop offset=".75" stop-color="#c2c2c2"/><stop offset=".833" stop-color="#b9b9b9"/><stop offset=".917" stop-color="#b1b1b1"/><stop offset="1" stop-color="#b2b2b2"/></linearGradient>
<linearGradient id="gM24" x1="0" y1="0" x2="0" y2="1"><stop offset="0" stop-color="#868686"/><stop offset=".083" stop-color="#858585"/><stop offset=".167" stop-color="#828282"/><stop offset=".25" stop-color="#8d8d8d"/><stop offset=".333" stop-color="#a0a0a0"/><stop offset=".417" stop-color="#b3b3b3"/><stop offset=".5" stop-color="#bebebe"/><stop offset=".583" stop-color="#c2c2c2"/><stop offset=".667" stop-color="#c3c3c3"/><stop offset=".75" stop-color="#bfbfbf"/><stop offset=".833" stop-color="#b9b9b9"/><stop offset=".917" stop-color="#b3b3b3"/><stop offset="1" stop-color="#b3b3b3"/></linearGradient>
<linearGradient id="gM25" x1="0" y1="0" x2="0" y2="1"><stop offset="0" stop-color="#8a8a8a"/><stop offset=".083" stop-color="#868686"/><stop offset=".167" stop-color="#7c7c7c"/><stop offset=".25" stop-color="#808080"/><stop offset=".333" stop-color="#909090"/><stop offset=".417" stop-color="#9e9e9e"/><stop offset=".5" stop-color="#acacac"/><stop offset=".583" stop-color="#b6b6b6"/><stop offset=".667" stop-color="#bbbbbb"/><stop offset=".75" stop-color="#bcbcbc"/><stop offset=".833" stop-color="#b9b9b9"/><stop offset=".917" stop-color="#b5b5b5"/><stop offset="1" stop-color="#b3b3b3"/></linearGradient>
<linearGradient id="gM26" x1="0" y1="0" x2="0" y2="1"><stop offset="0" stop-color="#7c7c7c"/><stop offset=".083" stop-color="#777777"/><stop offset=".167" stop-color="#6d6d6d"/><stop offset=".25" stop-color="#6e6e6e"/><stop offset=".333" stop-color="#7e7e7e"/><stop offset=".417" stop-color="#909090"/><stop offset=".5" stop-color="#9e9e9e"/><stop offset=".583" stop-color="#ababab"/><stop offset=".667" stop-color="#b5b5b5"/><stop offset=".75" stop-color="#b9b9b9"/><stop offset=".833" stop-color="#b8b8b8"/><stop offset=".917" stop-color="#b5b5b5"/><stop offset="1" stop-color="#b4b4b4"/></linearGradient>
<linearGradient id="gM27" x1="0" y1="0" x2="0" y2="1"><stop offset="0" stop-color="#676767"/><stop offset=".083" stop-color="#616161"/><stop offset=".167" stop-color="#595959"/><stop offset=".25" stop-color="#5c5c5c"/><stop offset=".333" stop-color="#727272"/><stop offset=".417" stop-color="#8a8a8a"/><stop offset=".5" stop-color="#9a9a9a"/><stop offset=".583" stop-color="#a6a6a6"/><stop offset=".667" stop-color="#b1b1b1"/><stop offset=".75" stop-color="#b6b6b6"/><stop offset=".833" stop-color="#b7b7b7"/><stop offset=".917" stop-color="#b5b5b5"/><stop offset="1" stop-color="#b4b4b4"/></linearGradient>
<linearGradient id="gM28" x1="0" y1="0" x2="0" y2="1"><stop offset="0" stop-color="#545454"/><stop offset=".083" stop-color="#4f4f4f"/><stop offset=".167" stop-color="#474747"/><stop offset=".25" stop-color="#4e4e4e"/><stop offset=".333" stop-color="#6c6c6c"/><stop offset=".417" stop-color="#898989"/><stop offset=".5" stop-color="#9b9b9b"/><stop offset=".583" stop-color="#a8a8a8"/><stop offset=".667" stop-color="#b0b0b0"/><stop offset=".75" stop-color="#b4b4b4"/><stop offset=".833" stop-color="#b5b5b5"/><stop offset=".917" stop-color="#b4b4b4"/><stop offset="1" stop-color="#b3b3b3"/></linearGradient>
<linearGradient id="gM29" x1="0" y1="0" x2="0" y2="1"><stop offset="0" stop-color="#464646"/><stop offset=".083" stop-color="#454545"/><stop offset=".167" stop-color="#404040"/><stop offset=".25" stop-color="#484848"/><stop offset=".333" stop-color="#6b6b6b"/><stop offset=".417" stop-color="#8b8b8b"/><stop offset=".5" stop-color="#9c9c9c"/><stop offset=".583" stop-color="#aaaaaa"/><stop offset=".667" stop-color="#b0b0b0"/><stop offset=".75" stop-color="#b2b2b2"/><stop offset=".833" stop-color="#b3b3b3"/><stop offset=".917" stop-color="#b3b3b3"/><stop offset="1" stop-color="#b2b2b2"/></linearGradient>
<linearGradient id="gM30" x1="0" y1="0" x2="0" y2="1"><stop offset="0" stop-color="#464646"/><stop offset=".083" stop-color="#454545"/><stop offset=".167" stop-color="#404040"/><stop offset=".25" stop-color="#484848"/><stop offset=".333" stop-color="#6b6b6b"/><stop offset=".417" stop-color="#8b8b8b"/><stop offset=".5" stop-color="#9c9c9c"/><stop offset=".583" stop-color="#aaaaaa"/><stop offset=".667" stop-color="#b0b0b0"/><stop offset=".75" stop-color="#b2b2b2"/><stop offset=".833" stop-color="#b3b3b3"/><stop offset=".917" stop-color="#b3b3b3"/><stop offset="1" stop-color="#b2b2b2"/></linearGradient>
<linearGradient id="gM31" x1="0" y1="0" x2="0" y2="1"><stop offset="0" stop-color="#464646"/><stop offset=".083" stop-color="#454545"/><stop offset=".167" stop-color="#404040"/><stop offset=".25" stop-color="#484848"/><stop offset=".333" stop-color="#6b6b6b"/><stop offset=".417" stop-color="#8b8b8b"/><stop offset=".5" stop-color="#9c9c9c"/><stop offset=".583" stop-color="#aaaaaa"/><stop offset=".667" stop-color="#b0b0b0"/><stop offset=".75" stop-color="#b2b2b2"/><stop offset=".833" stop-color="#b3b3b3"/><stop offset=".917" stop-color="#b3b3b3"/><stop offset="1" stop-color="#b2b2b2"/></linearGradient>
<linearGradient id="gN0" x1="0" y1="0" x2="0" y2="1"><stop offset="0" stop-color="#040404"/><stop offset=".083" stop-color="#040404"/><stop offset=".167" stop-color="#040404"/><stop offset=".25" stop-color="#050505"/><stop offset=".333" stop-color="#050505"/><stop offset=".417" stop-color="#060606"/><stop offset=".5" stop-color="#060606"/><stop offset=".583" stop-color="#060606"/><stop offset=".667" stop-color="#060606"/><stop offset=".75" stop-color="#060606"/><stop offset=".833" stop-color="#050505"/><stop offset=".917" stop-color="#040404"/><stop offset="1" stop-color="#030303"/></linearGradient>
<linearGradient id="gN1" x1="0" y1="0" x2="0" y2="1"><stop offset="0" stop-color="#040404"/><stop offset=".083" stop-color="#040404"/><stop offset=".167" stop-color="#040404"/><stop offset=".25" stop-color="#050505"/><stop offset=".333" stop-color="#050505"/><stop offset=".417" stop-color="#060606"/><stop offset=".5" stop-color="#060606"/><stop offset=".583" stop-color="#060606"/><stop offset=".667" stop-color="#060606"/><stop offset=".75" stop-color="#060606"/><stop offset=".833" stop-color="#050505"/><stop offset=".917" stop-color="#040404"/><stop offset="1" stop-color="#030303"/></linearGradient>
<linearGradient id="gN2" x1="0" y1="0" x2="0" y2="1"><stop offset="0" stop-color="#040404"/><stop offset=".083" stop-color="#040404"/><stop offset=".167" stop-color="#040404"/><stop offset=".25" stop-color="#050505"/><stop offset=".333" stop-color="#050505"/><stop offset=".417" stop-color="#060606"/><stop offset=".5" stop-color="#060606"/><stop offset=".583" stop-color="#060606"/><stop offset=".667" stop-color="#060606"/><stop offset=".75" stop-color="#060606"/><stop offset=".833" stop-color="#050505"/><stop offset=".917" stop-color="#040404"/><stop offset="1" stop-color="#030303"/></linearGradient>
<linearGradient id="gN3" x1="0" y1="0" x2="0" y2="1"><stop offset="0" stop-color="#050505"/><stop offset=".083" stop-color="#050505"/><stop offset=".167" stop-color="#050505"/><stop offset=".25" stop-color="#060606"/><stop offset=".333" stop-color="#070707"/><stop offset=".417" stop-color="#070707"/><stop offset=".5" stop-color="#080808"/><stop offset=".583" stop-color="#080808"/><stop offset=".667" stop-color="#080808"/><stop offset=".75" stop-color="#070707"/><stop offset=".833" stop-color="#060606"/><stop offset=".917" stop-color="#050505"/><stop offset="1" stop-color="#040404"/></linearGradient>
<linearGradient id="gN4" x1="0" y1="0" x2="0" y2="1"><stop offset="0" stop-color="#060606"/><stop offset=".083" stop-color="#060606"/><stop offset=".167" stop-color="#070707"/><stop offset=".25" stop-color="#080808"/><stop offset=".333" stop-color="#090909"/><stop offset=".417" stop-color="#090909"/><stop offset=".5" stop-color="#0a0a0a"/><stop offset=".583" stop-color="#0a0a0a"/><stop offset=".667" stop-color="#0a0a0a"/><stop offset=".75" stop-color="#090909"/><stop offset=".833" stop-color="#080808"/><stop offset=".917" stop-color="#060606"/><stop offset="1" stop-color="#050505"/></linearGradient>
<linearGradient id="gN5" x1="0" y1="0" x2="0" y2="1"><stop offset="0" stop-color="#060606"/><stop offset=".083" stop-color="#070707"/><stop offset=".167" stop-color="#080808"/><stop offset=".25" stop-color="#0a0a0a"/><stop offset=".333" stop-color="#0b0b0b"/><stop offset=".417" stop-color="#0c0c0c"/><stop offset=".5" stop-color="#0c0c0c"/><stop offset=".583" stop-color="#0c0c0c"/><stop offset=".667" stop-color="#0c0c0c"/><stop offset=".75" stop-color="#0b0b0b"/><stop offset=".833" stop-color="#090909"/><stop offset=".917" stop-color="#070707"/><stop offset="1" stop-color="#060606"/></linearGradient>
<linearGradient id="gN6" x1="0" y1="0" x2="0" y2="1"><stop offset="0" stop-color="#070707"/><stop offset=".083" stop-color="#080808"/><stop offset=".167" stop-color="#0a0a0a"/><stop offset=".25" stop-color="#0d0d0d"/><stop offset=".333" stop-color="#0e0e0e"/><stop offset=".417" stop-color="#0e0e0e"/><stop offset=".5" stop-color="#0e0e0e"/><stop offset=".583" stop-color="#0f0f0f"/><stop offset=".667" stop-color="#0e0e0e"/><stop offset=".75" stop-color="#0d0d0d"/><stop offset=".833" stop-color="#0b0b0b"/><stop offset=".917" stop-color="#090909"/><stop offset="1" stop-color="#060606"/></linearGradient>
<linearGradient id="gN7" x1="0" y1="0" x2="0" y2="1"><stop offset="0" stop-color="#080808"/><stop offset=".083" stop-color="#090909"/><stop offset=".167" stop-color="#0d0d0d"/><stop offset=".25" stop-color="#101010"/><stop offset=".333" stop-color="#121212"/><stop offset=".417" stop-color="#121212"/><stop offset=".5" stop-color="#121212"/><stop offset=".583" stop-color="#131313"/><stop offset=".667" stop-color="#111111"/><stop offset=".75" stop-color="#0f0f0f"/><stop offset=".833" stop-color="#0d0d0d"/><stop offset=".917" stop-color="#0a0a0a"/><stop offset="1" stop-color="#070707"/></linearGradient>
<linearGradient id="gN8" x1="0" y1="0" x2="0" y2="1"><stop offset="0" stop-color="#0a0a0a"/><stop offset=".083" stop-color="#0b0b0b"/><stop offset=".167" stop-color="#101010"/><stop offset=".25" stop-color="#151515"/><stop offset=".333" stop-color="#171717"/><stop offset=".417" stop-color="#181818"/><stop offset=".5" stop-color="#181818"/><stop offset=".583" stop-color="#171717"/><stop offset=".667" stop-color="#151515"/><stop offset=".75" stop-color="#111111"/><stop offset=".833" stop-color="#0e0e0e"/><stop offset=".917" stop-color="#0b0b0b"/><stop offset="1" stop-color="#080808"/></linearGradient>
<linearGradient id="gN9" x1="0" y1="0" x2="0" y2="1"><stop offset="0" stop-color="#0e0e0e"/><stop offset=".083" stop-color="#101010"/><stop offset=".167" stop-color="#151515"/><stop offset=".25" stop-color="#1a1a1a"/><stop offset=".333" stop-color="#1c1c1c"/><stop offset=".417" stop-color="#1d1d1d"/><stop offset=".5" stop-color="#1d1d1d"/><stop offset=".583" stop-color="#1c1c1c"/><stop offset=".667" stop-color="#181818"/><stop offset=".75" stop-color="#141414"/><stop offset=".833" stop-color="#101010"/><stop offset=".917" stop-color="#0c0c0c"/><stop offset="1" stop-color="#080808"/></linearGradient>
<linearGradient id="gN10" x1="0" y1="0" x2="0" y2="1"><stop offset="0" stop-color="#111111"/><stop offset=".083" stop-color="#131313"/><stop offset=".167" stop-color="#191919"/><stop offset=".25" stop-color="#212121"/><stop offset=".333" stop-color="#242424"/><stop offset=".417" stop-color="#252525"/><stop offset=".5" stop-color="#252525"/><stop offset=".583" stop-color="#222222"/><stop offset=".667" stop-color="#1c1c1c"/><stop offset=".75" stop-color="#161616"/><stop offset=".833" stop-color="#111111"/><stop offset=".917" stop-color="#0c0c0c"/><stop offset="1" stop-color="#090909"/></linearGradient>
<linearGradient id="gN11" x1="0" y1="0" x2="0" y2="1"><stop offset="0" stop-color="#141414"/><stop offset=".083" stop-color="#161616"/><stop offset=".167" stop-color="#1c1c1c"/><stop offset=".25" stop-color="#262626"/><stop offset=".333" stop-color="#373737"/><stop offset=".417" stop-color="#424242"/><stop offset=".5" stop-color="#303030"/><stop offset=".583" stop-color="#272727"/><stop offset=".667" stop-color="#1d1d1d"/><stop offset=".75" stop-color="#171717"/><stop offset=".833" stop-color="#111111"/><stop offset=".917" stop-color="#0c0c0c"/><stop offset="1" stop-color="#080808"/></linearGradient>
<linearGradient id="gN12" x1="0" y1="0" x2="0" y2="1"><stop offset="0" stop-color="#161616"/><stop offset=".083" stop-color="#171717"/><stop offset=".167" stop-color="#1b1b1b"/><stop offset=".25" stop-color="#222222"/><stop offset=".333" stop-color="#282828"/><stop offset=".417" stop-color="#2b2b2b"/><stop offset=".5" stop-color="#272727"/><stop offset=".583" stop-color="#232323"/><stop offset=".667" stop-color="#1c1c1c"/><stop offset=".75" stop-color="#161616"/><stop offset=".833" stop-color="#101010"/><stop offset=".917" stop-color="#0c0c0c"/><stop offset="1" stop-color="#080808"/></linearGradient>
<linearGradient id="gN13" x1="0" y1="0" x2="0" y2="1"><stop offset="0" stop-color="#181818"/><stop offset=".083" stop-color="#171717"/><stop offset=".167" stop-color="#191919"/><stop offset=".25" stop-color="#1a1a1a"/><stop offset=".333" stop-color="#1c1c1c"/><stop offset=".417" stop-color="#1d1d1d"/><stop offset=".5" stop-color="#1d1d1d"/><stop offset=".583" stop-color="#1d1d1d"/><stop offset=".667" stop-color="#191919"/><stop offset=".75" stop-color="#141414"/><stop offset=".833" stop-color="#0f0f0f"/><stop offset=".917" stop-color="#0b0b0b"/><stop offset="1" stop-color="#070707"/></linearGradient>
<linearGradient id="gN14" x1="0" y1="0" x2="0" y2="1"><stop offset="0" stop-color="#1a1a1a"/><stop offset=".083" stop-color="#181818"/><stop offset=".167" stop-color="#191919"/><stop offset=".25" stop-color="#171717"/><stop offset=".333" stop-color="#161616"/><stop offset=".417" stop-color="#161616"/><stop offset=".5" stop-color="#171717"/><stop offset=".583" stop-color="#171717"/><stop offset=".667" stop-color="#151515"/><stop offset=".75" stop-color="#111111"/><stop offset=".833" stop-color="#0d0d0d"/><stop offset=".917" stop-color="#090909"/><stop offset="1" stop-color="#060606"/></linearGradient>
<linearGradient id="gN15" x1="0" y1="0" x2="0" y2="1"><stop offset="0" stop-color="#212121"/><stop offset=".083" stop-color="#1f1f1f"/><stop offset=".167" stop-color="#1b1b1b"/><stop offset=".25" stop-color="#161616"/><stop offset=".333" stop-color="#131313"/><stop offset=".417" stop-color="#131313"/><stop offset=".5" stop-color="#131313"/><stop offset=".583" stop-color="#131313"/><stop offset=".667" stop-color="#121212"/><stop offset=".75" stop-color="#0f0f0f"/><stop offset=".833" stop-color="#0b0b0b"/><stop offset=".917" stop-color="#070707"/><stop offset="1" stop-color="#040404"/></linearGradient>
<linearGradient id="gN16" x1="0" y1="0" x2="0" y2="1"><stop offset="0" stop-color="#272727"/><stop offset=".083" stop-color="#282828"/><stop offset=".167" stop-color="#1f1f1f"/><stop offset=".25" stop-color="#161616"/><stop offset=".333" stop-color="#121212"/><stop offset=".417" stop-color="#101010"/><stop offset=".5" stop-color="#111111"/><stop offset=".583" stop-color="#111111"/><stop offset=".667" stop-color="#0f0f0f"/><stop offset=".75" stop-color="#0c0c0c"/><stop offset=".833" stop-color="#090909"/><stop offset=".917" stop-color="#060606"/><stop offset="1" stop-color="#030303"/></linearGradient>
<linearGradient id="gN17" x1="0" y1="0" x2="0" y2="1"><stop offset="0" stop-color="#303030"/><stop offset=".083" stop-color="#2c2c2c"/><stop offset=".167" stop-color="#222222"/><stop offset=".25" stop-color="#171717"/><stop offset=".333" stop-color="#111111"/><stop offset=".417" stop-color="#0f0f0f"/><stop offset=".5" stop-color="#0f0f0f"/><stop offset=".583" stop-color="#0e0e0e"/><stop offset=".667" stop-color="#0c0c0c"/><stop offset=".75" stop-color="#0a0a0a"/><stop offset=".833" stop-color="#070707"/><stop offset=".917" stop-color="#040404"/><stop offset="1" stop-color="#010101"/></linearGradient>
<linearGradient id="gN18" x1="0" y1="0" x2="0" y2="1"><stop offset="0" stop-color="#3b3b3b"/><stop offset=".083" stop-color="#353535"/><stop offset=".167" stop-color="#292929"/><stop offset=".25" stop-color="#1a1a1a"/><stop offset=".333" stop-color="#121212"/><stop offset=".417" stop-color="#0e0e0e"/><stop offset=".5" stop-color="#0d0d0d"/><stop offset=".583" stop-color="#0c0c0c"/><stop offset=".667" stop-color="#0a0a0a"/><stop offset=".75" stop-color="#080808"/><stop offset=".833" stop-color="#050505"/><stop offset=".917" stop-color="#030303"/><stop offset="1" stop-color="#010101"/></linearGradient>
<linearGradient id="gN19" x1="0" y1="0" x2="0" y2="1"><stop offset="0" stop-color="#4b4b4b"/><stop offset=".083" stop-color="#4d4d4d"/><stop offset=".167" stop-color="#3d3d3d"/><stop offset=".25" stop-color="#222222"/><stop offset=".333" stop-color="#151515"/><stop offset=".417" stop-color="#0e0e0e"/><stop offset=".5" stop-color="#0c0c0c"/><stop offset=".583" stop-color="#0b0b0b"/><stop offset=".667" stop-color="#090909"/><stop offset=".75" stop-color="#070707"/><stop offset=".833" stop-color="#040404"/><stop offset=".917" stop-color="#020202"/><stop offset="1" stop-color="#000000"/></linearGradient>
<linearGradient id="gN20" x1="0" y1="0" x2="0" y2="1"><stop offset="0" stop-color="#797979"/><stop offset=".083" stop-color="#888888"/><stop offset=".167" stop-color="#696969"/><stop offset=".25" stop-color="#343434"/><stop offset=".333" stop-color="#1a1a1a"/><stop offset=".417" stop-color="#111111"/><stop offset=".5" stop-color="#0d0d0d"/><stop offset=".583" stop-color="#0b0b0b"/><stop offset=".667" stop-color="#080808"/><stop offset=".75" stop-color="#060606"/><stop offset=".833" stop-color="#040404"/><stop offset=".917" stop-color="#020202"/><stop offset="1" stop-color="#000000"/></linearGradient>
<linearGradient id="gN21" x1="0" y1="0" x2="0" y2="1"><stop offset="0" stop-color="#949494"/><stop offset=".083" stop-color="#a8a8a8"/><stop offset=".167" stop-color="#898989"/><stop offset=".25" stop-color="#4b4b4b"/><stop offset=".333" stop-color="#222222"/><stop offset=".417" stop-color="#151515"/><stop offset=".5" stop-color="#101010"/><stop offset=".583" stop-color="#0c0c0c"/><stop offset=".667" stop-color="#090909"/><stop offset=".75" stop-color="#060606"/><stop offset=".833" stop-color="#030303"/><stop offset=".917" stop-color="#010101"/><stop offset="1" stop-color="#000000"/></linearGradient>
<linearGradient id="gN22" x1="0" y1="0" x2="0" y2="1"><stop offset="0" stop-color="#a1a1a1"/><stop offset=".083" stop-color="#b2b2b2"/><stop offset=".167" stop-color="#979797"/><stop offset=".25" stop-color="#5f5f5f"/><stop offset=".333" stop-color="#2e2e2e"/><stop offset=".417" stop-color="#1c1c1c"/><stop offset=".5" stop-color="#151515"/><stop offset=".583" stop-color="#101010"/><stop offset=".667" stop-color="#0b0b0b"/><stop offset=".75" stop-color="#060606"/><stop offset=".833" stop-color="#040404"/><stop offset=".917" stop-color="#010101"/><stop offset="1" stop-color="#000000"/></linearGradient>
<linearGradient id="gN23" x1="0" y1="0" x2="0" y2="1"><stop offset="0" stop-color="#acacac"/><stop offset=".083" stop-color="#b8b8b8"/><stop offset=".167" stop-color="#9b9b9b"/><stop offset=".25" stop-color="#6b6b6b"/><stop offset=".333" stop-color="#3e3e3e"/><stop offset=".417" stop-color="#262626"/><stop offset=".5" stop-color="#1b1b1b"/><stop offset=".583" stop-color="#141414"/><stop offset=".667" stop-color="#0d0d0d"/><stop offset=".75" stop-color="#080808"/><stop offset=".833" stop-color="#050505"/><stop offset=".917" stop-color="#020202"/><stop offset="1" stop-color="#000000"/></linearGradient>
<linearGradient id="gN24" x1="0" y1="0" x2="0" y2="1"><stop offset="0" stop-color="#afafaf"/><stop offset=".083" stop-color="#b5b5b5"/><stop offset=".167" stop-color="#999999"/><stop offset=".25" stop-color="#727272"/><stop offset=".333" stop-color="#4c4c4c"/><stop offset=".417" stop-color="#323232"/><stop offset=".5" stop-color="#232323"/><stop offset=".583" stop-color="#191919"/><stop offset=".667" stop-color="#101010"/><stop offset=".75" stop-color="#0a0a0a"/><stop offset=".833" stop-color="#060606"/><stop offset=".917" stop-color="#020202"/><stop offset="1" stop-color="#000000"/></linearGradient>
<linearGradient id="gN25" x1="0" y1="0" x2="0" y2="1"><stop offset="0" stop-color="#a9a9a9"/><stop offset=".083" stop-color="#aeaeae"/><stop offset=".167" stop-color="#959595"/><stop offset=".25" stop-color="#767676"/><stop offset=".333" stop-color="#575757"/><stop offset=".417" stop-color="#3c3c3c"/><stop offset=".5" stop-color="#2a2a2a"/><stop offset=".583" stop-color="#1d1d1d"/><stop offset=".667" stop-color="#131313"/><stop offset=".75" stop-color="#0c0c0c"/><stop offset=".833" stop-color="#070707"/><stop offset=".917" stop-color="#030303"/><stop offset="1" stop-color="#010101"/></linearGradient>
<linearGradient id="gN26" x1="0" y1="0" x2="0" y2="1"><stop offset="0" stop-color="#9c9c9c"/><stop offset=".083" stop-color="#9e9e9e"/><stop offset=".167" stop-color="#8e8e8e"/><stop offset=".25" stop-color="#787878"/><stop offset=".333" stop-color="#5b5b5b"/><stop offset=".417" stop-color="#3f3f3f"/><stop offset=".5" stop-color="#2c2c2c"/><stop offset=".583" stop-color="#1e1e1e"/><stop offset=".667" stop-color="#141414"/><stop offset=".75" stop-color="#0d0d0d"/><stop offset=".833" stop-color="#080808"/><stop offset=".917" stop-color="#040404"/><stop offset="1" stop-color="#010101"/></linearGradient>
<linearGradient id="gN27" x1="0" y1="0" x2="0" y2="1"><stop offset="0" stop-color="#777777"/><stop offset=".083" stop-color="#7e7e7e"/><stop offset=".167" stop-color="#868686"/><stop offset=".25" stop-color="#797979"/><stop offset=".333" stop-color="#5d5d5d"/><stop offset=".417" stop-color="#3e3e3e"/><stop offset=".5" stop-color="#292929"/><stop offset=".583" stop-color="#1d1d1d"/><stop offset=".667" stop-color="#151515"/><stop offset=".75" stop-color="#0e0e0e"/><stop offset=".833" stop-color="#090909"/><stop offset=".917" stop-color="#050505"/><stop offset="1" stop-color="#020202"/></linearGradient>
<linearGradient id="gN28" x1="0" y1="0" x2="0" y2="1"><stop offset="0" stop-color="#575757"/><stop offset=".083" stop-color="#5c5c5c"/><stop offset=".167" stop-color="#828282"/><stop offset=".25" stop-color="#7c7c7c"/><stop offset=".333" stop-color="#5d5d5d"/><stop offset=".417" stop-color="#3a3a3a"/><stop offset=".5" stop-color="#242424"/><stop offset=".583" stop-color="#1c1c1c"/><stop offset=".667" stop-color="#151515"/><stop offset=".75" stop-color="#0f0f0f"/><stop offset=".833" stop-color="#0a0a0a"/><stop offset=".917" stop-color="#060606"/><stop offset="1" stop-color="#030303"/></linearGradient>
<linearGradient id="gN29" x1="0" y1="0" x2="0" y2="1"><stop offset="0" stop-color="#4a4a4a"/><stop offset=".083" stop-color="#4e4e4e"/><stop offset=".167" stop-color="#838383"/><stop offset=".25" stop-color="#7f7f7f"/><stop offset=".333" stop-color="#5d5d5d"/><stop offset=".417" stop-color="#373737"/><stop offset=".5" stop-color="#212121"/><stop offset=".583" stop-color="#1c1c1c"/><stop offset=".667" stop-color="#161616"/><stop offset=".75" stop-color="#101010"/><stop offset=".833" stop-color="#0b0b0b"/><stop offset=".917" stop-color="#070707"/><stop offset="1" stop-color="#030303"/></linearGradient>
<linearGradient id="gN30" x1="0" y1="0" x2="0" y2="1"><stop offset="0" stop-color="#4a4a4a"/><stop offset=".083" stop-color="#4e4e4e"/><stop offset=".167" stop-color="#838383"/><stop offset=".25" stop-color="#7f7f7f"/><stop offset=".333" stop-color="#5d5d5d"/><stop offset=".417" stop-color="#373737"/><stop offset=".5" stop-color="#212121"/><stop offset=".583" stop-color="#1c1c1c"/><stop offset=".667" stop-color="#161616"/><stop offset=".75" stop-color="#101010"/><stop offset=".833" stop-color="#0b0b0b"/><stop offset=".917" stop-color="#070707"/><stop offset="1" stop-color="#030303"/></linearGradient>
<linearGradient id="gN31" x1="0" y1="0" x2="0" y2="1"><stop offset="0" stop-color="#4a4a4a"/><stop offset=".083" stop-color="#4e4e4e"/><stop offset=".167" stop-color="#838383"/><stop offset=".25" stop-color="#7f7f7f"/><stop offset=".333" stop-color="#5d5d5d"/><stop offset=".417" stop-color="#373737"/><stop offset=".5" stop-color="#212121"/><stop offset=".583" stop-color="#1c1c1c"/><stop offset=".667" stop-color="#161616"/><stop offset=".75" stop-color="#101010"/><stop offset=".833" stop-color="#0b0b0b"/><stop offset=".917" stop-color="#070707"/><stop offset="1" stop-color="#030303"/></linearGradient>
</defs>
<rect width="1425" height="2135" fill="#fff"/>
<text x="322" y="33.4" font-family='"Liberation Sans", sans-serif' font-size="34" font-weight="bold">Spring</text>
<text x="1008.5" y="33.4" font-family='"Liberation Sans", sans-serif' font-size="34" font-weight="bold">Summer</text>
<!-- panel A -->
<g transform="translate(82.20,61.40) scale(1.00000,1.00000)">
<g clip-path="url(#clipP)">
<g filter="url(#fld)">
<rect x="-39.69" y="0" width="20.30" height="215.7" fill="url(#gA0)"/>
<rect x="-20.00" y="0" width="20.30" height="215.7" fill="url(#gA1)"/>
<rect x="-0.30" y="0" width="20.30" height="215.7" fill="url(#gA2)"/>
<rect x="19.40" y="0" width="20.30" height="215.7" fill="url(#gA3)"/>
<rect x="39.09" y="0" width="20.30" height="215.7" fill="url(#gA4)"/>
<rect x="58.79" y="0" width="20.30" height="215.7" fill="url(#gA5)"/>
<rect x="78.49" y="0" width="20.30" height="215.7" fill="url(#gA6)"/>
<rect x="98.18" y="0" width="20.30" height="215.7" fill="url(#gA7)"/>
<rect x="117.88" y="0" width="20.30" height="215.7" fill="url(#gA8)"/>
<rect x="137.57" y="0" width="20.30" height="215.7" fill="url(#gA9)"/>
<rect x="157.27" y="0" width="20.30" height="215.7" fill="url(#gA10)"/>
<rect x="176.97" y="0" width="20.30" height="215.7" fill="url(#gA11)"/>
<rect x="196.66" y="0" width="20.30" height="215.7" fill="url(#gA12)"/>
<rect x="216.36" y="0" width="20.30" height="215.7" fill="url(#gA13)"/>
<rect x="236.06" y="0" width="20.30" height="215.7" fill="url(#gA14)"/>
<rect x="255.75" y="0" width="20.30" height="215.7" fill="url(#gA15)"/>
<rect x="275.45" y="0" width="20.30" height="215.7" fill="url(#gA16)"/>
<rect x="295.15" y="0" width="20.30" height="215.7" fill="url(#gA17)"/>
<rect x="314.84" y="0" width="20.30" height="215.7" fill="url(#gA18)"/>
<rect x="334.54" y="0" width="20.30" height="215.7" fill="url(#gA19)"/>
<rect x="354.24" y="0" width="20.30" height="215.7" fill="url(#gA20)"/>
<rect x="373.93" y="0" width="20.30" height="215.7" fill="url(#gA21)"/>
<rect x="393.63" y="0" width="20.30" height="215.7" fill="url(#gA22)"/>
<rect x="413.33" y="0" width="20.30" height="215.7" fill="url(#gA23)"/>
<rect x="433.02" y="0" width="20.30" height="215.7" fill="url(#gA24)"/>
<rect x="452.72" y="0" width="20.30" height="215.7" fill="url(#gA25)"/>
<rect x="472.41" y="0" width="20.30" height="215.7" fill="url(#gA26)"/>
<rect x="492.11" y="0" width="20.30" height="215.7" fill="url(#gA27)"/>
<rect x="511.81" y="0" width="20.30" height="215.7" fill="url(#gA28)"/>
<rect x="531.50" y="0" width="20.30" height="215.7" fill="url(#gA29)"/>
<rect x="551.20" y="0" width="20.30" height="215.7" fill="url(#gA30)"/>
<rect x="570.90" y="0" width="20.30" height="215.7" fill="url(#gA31)"/>
</g>
<g fill="none" stroke="#2e2e2e" stroke-width="0.75">
<path d="M0.9,48.2C2.6,48.8 8.1,49.8 11.0,51.8C13.9,53.8 16.7,56.7 18.3,60.2C19.9,63.7 20.6,67.9 20.4,72.8C20.2,77.7 18.5,82.7 17.3,89.7C16.1,96.7 13.1,107.2 13.1,114.9C13.1,122.6 14.2,129.3 17.3,136.0C20.4,142.7 27.1,148.2 32.0,154.9C36.9,161.6 42.5,170.0 46.7,176.0C50.9,182.0 55.5,188.2 57.3,190.7"/>
<path d="M13.1,171.3C15.2,172.8 21.7,175.6 25.7,180.2C29.7,184.8 35.4,195.9 37.3,199.1"/>
<path d="M78.3,57.0C81.6,57.0 85.8,59.4 88.0,62.0C90.2,64.6 91.4,68.5 91.4,72.8C91.4,77.1 90.3,84.0 88.0,88.0C85.7,92.0 80.8,96.7 77.3,97.0C73.8,97.3 69.2,93.7 67.0,90.0C64.8,86.3 63.8,79.6 64.0,74.9C64.2,70.2 65.6,65.0 68.0,62.0C70.4,59.0 75.0,57.0 78.3,57.0Z"/>
<path d="M99.4,0.2C100.5,4.2 102.9,17.2 105.7,24.4C108.5,31.6 113.8,35.9 116.2,43.3C118.6,50.7 119.5,58.1 120.0,68.6C120.5,79.1 119.6,94.6 119.4,106.5C119.2,118.4 118.8,134.6 118.7,140.2"/>
<path d="M114.7,0.2C115.5,3.5 116.7,13.4 119.4,20.2C122.1,27.0 128.5,33.1 131.0,41.2C133.5,49.3 134.0,57.7 134.5,68.6C135.0,79.5 134.2,100.2 134.1,106.5"/>
<path d="M133.0,0.2C132.8,1.8 130.9,6.0 132.0,9.7C133.1,13.4 135.4,19.3 139.4,22.3C143.4,25.3 150.9,27.9 156.2,27.5C161.5,27.1 167.0,23.2 171.0,20.2C175.0,17.2 178.8,11.4 180.4,9.7"/>
<path d="M200.4,11.8C200.7,13.9 203.0,19.1 202.1,24.4C201.2,29.6 197.2,36.6 195.2,43.3C193.2,50.0 191.5,56.7 189.9,64.4C188.3,72.1 188.1,80.6 185.7,89.7C183.2,98.8 178.9,111.7 175.2,119.1C171.5,126.5 165.5,131.4 163.6,133.9"/>
<path d="M320.0,24.5C318.2,24.8 312.8,26.8 309.4,26.1C306.0,25.4 303.2,22.4 299.9,20.2C296.6,18.0 292.9,13.5 289.4,12.8C285.9,12.1 281.8,14.1 278.9,16.0C276.0,17.9 274.9,19.5 272.0,24.4C269.1,29.3 264.5,37.3 261.5,45.4C258.5,53.5 255.7,64.0 254.1,72.8C252.5,81.6 251.8,90.4 252.0,98.1C252.2,105.8 253.3,113.8 255.2,119.1C257.1,124.4 261.1,127.2 263.6,129.7C266.1,132.2 267.7,133.1 270.4,133.9C273.1,134.7 278.3,134.2 279.9,134.3"/>
<path d="M303.1,127.5C306.1,125.4 315.2,120.5 321.0,114.9C326.8,109.3 332.9,100.9 337.8,93.9C342.7,86.9 347.2,78.8 350.4,72.8C353.5,66.8 355.6,62.3 356.7,58.1C357.8,53.9 357.8,50.7 356.7,47.5C355.6,44.3 352.3,41.0 350.4,39.1C348.5,37.2 346.1,36.5 345.2,36.0"/>
<path d="M324.1,181.2 L328.3,175.5"/>
<path d="M361.0,181.2 L377.8,190.7"/>
</g>
<g font-family='"Liberation Sans", sans-serif' font-size="12.3" font-weight="bold" fill="#111" text-anchor="middle">
<text transform="translate(3.6,167.6) rotate(20)" y="4.3" font-style="italic">20</text>
<text transform="translate(80.0,53.4) rotate(10)" y="4.3" font-style="italic">21.5</text>
<text transform="translate(134.5,121.7) rotate(80)" y="4.3">20</text>
<text transform="translate(191.0,7.1) rotate(8)" y="4.3" font-style="italic">19.5</text>
<text transform="translate(329.0,29.0) rotate(8)" y="4.3" font-style="italic">18.5</text>
<text transform="translate(344.1,175.5) rotate(10)" y="4.3" font-style="italic">19.5</text>
</g>
<polygon points="0.0,212.8 9.9,212.8 78.8,180.2 155.6,108.0 185.7,209.2 241.1,215.7 294.0,108.0 331.1,199.8 388.8,188.6 488.3,148.6 539.5,129.6 551.5,129.6 551.5,216.2 0.0,216.2" fill="#363636"/>
<g fill="#3a3a3a">
<circle cx="9.9" cy="11.5" r="1.9"/>
<circle cx="9.9" cy="72.6" r="1.9"/>
<circle cx="9.9" cy="194.8" r="1.9"/>
<circle cx="78.8" cy="11.5" r="1.9"/>
<circle cx="78.8" cy="72.6" r="1.9"/>
<circle cx="78.8" cy="162.5" r="1.9"/>
<circle cx="155.6" cy="11.5" r="1.9"/>
<circle cx="155.6" cy="90.6" r="1.9"/>
<circle cx="186.0" cy="11.5" r="1.9"/>
<circle cx="186.0" cy="22.3" r="1.9"/>
<circle cx="186.0" cy="184.0" r="1.9"/>
<circle cx="241.1" cy="11.5" r="1.9"/>
<circle cx="241.1" cy="191.2" r="1.9"/>
<circle cx="294.0" cy="11.5" r="1.9"/>
<circle cx="294.0" cy="25.9" r="1.9"/>
<circle cx="294.0" cy="90.6" r="1.9"/>
<circle cx="331.1" cy="11.5" r="1.9"/>
<circle cx="331.1" cy="36.6" r="1.9"/>
<circle cx="331.1" cy="180.4" r="1.9"/>
<circle cx="388.8" cy="11.5" r="1.9"/>
<circle cx="388.8" cy="162.5" r="1.9"/>
<circle cx="488.3" cy="11.5" r="1.9"/>
<circle cx="539.3" cy="11.5" r="1.9"/>
</g>
</g>
</g>
<rect x="82.20" y="61.40" width="551.50" height="215.70" fill="none" stroke="#3a3a3a" stroke-width="1.2"/>
<path d="M77.40,61.40h4.8M79.40,97.35h2.8M77.40,133.30h4.8M79.40,169.25h2.8M77.40,205.20h4.8M79.40,241.15h2.8M77.40,277.10h4.8M118.28,277.10v4.8M169.82,277.10v2.8M221.36,277.10v4.8M272.91,277.10v2.8M324.45,277.10v4.8M375.99,277.10v2.8M427.53,277.10v4.8M479.07,277.10v2.8M530.62,277.10v4.8M582.16,277.10v2.8M633.70,277.10v4.8" stroke="#3a3a3a" stroke-width="1.1" fill="none"/>
<g font-family='"Liberation Sans", sans-serif' font-size="17.7" font-weight="bold" fill="#000">
<text x="72.5" y="67.8" text-anchor="end">0</text>
<text x="72.5" y="139.7" text-anchor="end">20</text>
<text x="72.5" y="211.6" text-anchor="end">40</text>
<text x="72.5" y="283.5" text-anchor="end">60</text>
<text x="118.3" y="302.9" text-anchor="middle">27°N</text>
<text x="221.4" y="302.9" text-anchor="middle">28°N</text>
<text x="324.4" y="302.9" text-anchor="middle">29°N</text>
<text x="427.5" y="302.9" text-anchor="middle">30°N</text>
<text x="530.6" y="302.9" text-anchor="middle">31°N</text>
<text x="633.7" y="302.9" text-anchor="middle">32°N</text>
</g>
<text transform="translate(36.2,168.7) rotate(-90)" text-anchor="middle" font-family='"Liberation Sans", sans-serif' font-size="23.2">Depth (m)</text>
<path d="M647.60,61.70 L657.45,58.40 L667.30,61.70 L667.30,276.90 L657.45,280.30 L647.60,276.90 Z" fill="url(#cbg)" stroke="#000" stroke-opacity="0.32" stroke-width="0.9"/>
<g font-family='"Liberation Sans", sans-serif' font-size="16.8" font-weight="bold" fill="#000">
<text x="672.5" y="84.0">30</text>
<text x="672.5" y="125.5">27.5</text>
<text x="672.5" y="167.0">25</text>
<text x="672.5" y="208.5">22.5</text>
<text x="672.5" y="250.0">20</text>
</g>
<path d="M647.60,77.99h4.2M667.30,77.99h-4.2M647.60,119.47h4.2M667.30,119.47h-4.2M647.60,160.95h4.2M667.30,160.95h-4.2M647.60,202.43h4.2M667.30,202.43h-4.2M647.60,243.92h4.2M667.30,243.92h-4.2" stroke="#151515" stroke-width="1.25" fill="none"/>
<text transform="translate(648.0,271.5) rotate(-90)" font-family='"Liberation Sans", sans-serif' font-size="10.35" font-weight="bold" fill="#111">Ocean Data View</text>
<text x="628.6" y="46.2" text-anchor="end" font-family='"Liberation Sans", sans-serif' font-size="23.1" fill="#000">Temperature (°C)</text>
<text x="-0.2" y="62.8" font-family='"Liberation Sans", sans-serif' font-size="31" font-weight="bold" fill="#000">A</text>
<!-- panel B -->
<g transform="translate(82.20,367.40) scale(1.00000,1.00000)">
<g clip-path="url(#clipP)">
<g filter="url(#fld)">
<rect x="-39.69" y="0" width="20.30" height="215.7" fill="url(#gB0)"/>
<rect x="-20.00" y="0" width="20.30" height="215.7" fill="url(#gB1)"/>
<rect x="-0.30" y="0" width="20.30" height="215.7" fill="url(#gB2)"/>
<rect x="19.40" y="0" width="20.30" height="215.7" fill="url(#gB3)"/>
<rect x="39.09" y="0" width="20.30" height="215.7" fill="url(#gB4)"/>
<rect x="58.79" y="0" width="20.30" height="215.7" fill="url(#gB5)"/>
<rect x="78.49" y="0" width="20.30" height="215.7" fill="url(#gB6)"/>
<rect x="98.18" y="0" width="20.30" height="215.7" fill="url(#gB7)"/>
<rect x="117.88" y="0" width="20.30" height="215.7" fill="url(#gB8)"/>
<rect x="137.57" y="0" width="20.30" height="215.7" fill="url(#gB9)"/>
<rect x="157.27" y="0" width="20.30" height="215.7" fill="url(#gB10)"/>
<rect x="176.97" y="0" width="20.30" height="215.7" fill="url(#gB11)"/>
<rect x="196.66" y="0" width="20.30" height="215.7" fill="url(#gB12)"/>
<rect x="216.36" y="0" width="20.30" height="215.7" fill="url(#gB13)"/>
<rect x="236.06" y="0" width="20.30" height="215.7" fill="url(#gB14)"/>
<rect x="255.75" y="0" width="20.30" height="215.7" fill="url(#gB15)"/>
<rect x="275.45" y="0" width="20.30" height="215.7" fill="url(#gB16)"/>
<rect x="295.15" y="0" width="20.30" height="215.7" fill="url(#gB17)"/>
<rect x="314.84" y="0" width="20.30" height="215.7" fill="url(#gB18)"/>
<rect x="334.54" y="0" width="20.30" height="215.7" fill="url(#gB19)"/>
<rect x="354.24" y="0" width="20.30" height="215.7" fill="url(#gB20)"/>
<rect x="373.93" y="0" width="20.30" height="215.7" fill="url(#gB21)"/>
<rect x="393.63" y="0" width="20.30" height="215.7" fill="url(#gB22)"/>
<rect x="413.33" y="0" width="20.30" height="215.7" fill="url(#gB23)"/>
<rect x="433.02" y="0" width="20.30" height="215.7" fill="url(#gB24)"/>
<rect x="452.72" y="0" width="20.30" height="215.7" fill="url(#gB25)"/>
<rect x="472.41" y="0" width="20.30" height="215.7" fill="url(#gB26)"/>
<rect x="492.11" y="0" width="20.30" height="215.7" fill="url(#gB27)"/>
<rect x="511.81" y="0" width="20.30" height="215.7" fill="url(#gB28)"/>
<rect x="531.50" y="0" width="20.30" height="215.7" fill="url(#gB29)"/>
<rect x="551.20" y="0" width="20.30" height="215.7" fill="url(#gB30)"/>
<rect x="570.90" y="0" width="20.30" height="215.7" fill="url(#gB31)"/>
</g>
<g fill="none" stroke="#2e2e2e" stroke-width="0.75">
<path d="M1.0,32.2C7.9,32.4 28.9,32.2 42.1,33.3C55.3,34.4 69.5,35.7 80.0,38.9C90.5,42.1 98.3,48.2 105.3,52.6C112.3,57.0 117.5,62.3 122.1,65.3C126.6,68.3 130.8,69.6 132.6,70.5"/>
<path d="M155.8,73.3C157.9,74.6 164.6,77.5 168.4,81.1C172.2,84.7 174.7,90.0 178.9,94.7C183.1,99.4 187.7,105.5 193.7,109.5C199.7,113.5 206.6,115.9 214.7,118.9C222.8,121.9 234.0,124.8 242.1,127.4C250.2,130.0 257.2,132.8 263.2,134.7C269.2,136.5 275.4,137.9 277.9,138.5"/>
<path d="M95.8,1.0C96.7,2.9 98.7,8.9 101.0,12.6C103.3,16.3 105.3,19.3 109.5,23.2C113.7,27.1 120.0,32.5 126.3,35.8C132.6,39.1 140.4,40.9 147.4,43.2C154.4,45.5 162.4,46.9 168.4,49.5C174.4,52.1 177.6,53.8 183.2,58.9C188.8,64.0 195.4,74.2 202.1,80.0C208.8,85.8 215.5,90.2 223.2,93.7C230.9,97.2 240.7,100.2 248.4,101.1C256.1,102.0 263.9,100.3 269.5,98.9C275.1,97.5 279.0,94.7 282.1,92.6C285.2,90.5 286.1,87.7 288.0,86.3C289.9,84.9 291.3,83.7 293.7,84.2C296.1,84.7 299.3,86.7 302.1,89.5C304.9,92.3 307.0,97.5 310.5,101.0C314.0,104.5 317.6,108.4 323.2,110.5C328.8,112.6 337.2,113.8 344.2,113.7C351.2,113.6 358.3,111.2 365.3,109.9C372.3,108.6 382.8,106.4 386.3,105.7"/>
<path d="M413.7,105.3C416.9,105.8 425.9,106.5 432.6,108.4C439.3,110.3 446.7,113.8 453.7,116.8C460.7,119.8 467.7,123.1 474.7,126.3C481.7,129.5 490.0,133.5 495.8,135.8C501.6,138.1 507.2,139.3 509.5,140.0"/>
<path d="M121.1,1.0C121.6,2.9 121.9,9.1 124.2,12.6C126.5,16.1 129.8,19.7 134.7,22.1C139.6,24.5 148.1,26.5 153.7,26.9C159.3,27.2 164.2,26.4 168.4,24.2C172.6,22.0 175.9,16.0 178.9,13.7C181.9,11.4 183.1,10.3 186.3,10.5C189.5,10.7 194.4,11.2 197.9,14.7C201.4,18.2 203.9,25.6 207.4,31.6C210.9,37.6 214.5,45.2 218.9,50.5C223.3,55.8 228.1,60.1 233.7,63.2C239.3,66.3 245.6,68.5 252.6,69.1C259.6,69.7 271.9,67.3 275.8,66.9"/>
<path d="M299.0,67.8C301.3,69.1 307.5,72.4 312.6,75.8C317.7,79.2 323.2,85.4 329.5,88.4C335.8,91.4 342.4,93.4 350.5,93.7C358.6,94.0 368.4,91.4 377.9,90.5C387.4,89.6 399.0,88.4 407.4,88.4C415.8,88.4 421.4,88.9 428.4,90.5C435.4,92.1 442.5,95.1 449.5,97.9C456.5,100.7 463.5,104.2 470.5,107.4C477.5,110.6 484.6,113.7 491.6,116.8C498.6,119.9 506.5,123.6 512.6,126.3C518.7,129.0 525.8,131.9 528.4,133.0"/>
<path d="M231.6,1.0C232.3,3.6 233.7,11.0 235.8,16.8C237.9,22.6 239.6,30.7 244.2,35.8C248.8,40.9 257.1,45.1 263.2,47.4C269.3,49.7 274.9,48.3 281.0,49.5C287.1,50.7 294.0,52.2 300.0,54.7C306.0,57.2 309.4,61.0 316.8,64.2C324.2,67.4 335.4,72.1 344.2,73.7C353.0,75.3 359.0,74.6 369.5,74.1C380.0,73.6 397.6,70.8 407.4,70.5C417.2,70.2 421.4,71.1 428.4,72.6C435.4,74.1 442.5,76.8 449.5,79.6C456.5,82.4 463.5,86.1 470.5,89.5C477.5,92.9 484.6,96.5 491.6,100.0C498.6,103.5 505.6,107.2 512.6,110.5C519.6,113.8 529.1,117.9 533.7,120.0C538.3,122.1 539.0,122.5 540.0,123.0"/>
<path d="M267.4,1.0C267.6,4.0 266.5,13.6 268.4,18.9C270.3,24.2 273.4,29.3 279.0,32.6C284.6,35.9 293.7,36.5 302.1,38.9C310.5,41.2 319.7,45.2 329.5,46.7C339.3,48.2 349.8,47.9 361.0,48.0C372.2,48.1 386.3,47.0 396.8,47.4C407.3,47.8 416.1,48.9 424.2,50.5C432.3,52.1 441.8,55.8 445.3,56.8"/>
<path d="M472.6,70.5C475.8,72.3 484.9,77.2 491.6,81.1C498.3,85.0 505.6,89.8 512.6,93.7C519.6,97.6 527.2,101.6 533.7,104.2C540.2,106.8 548.5,108.6 551.5,109.5"/>
<path d="M489.5,1.0 L499.0,7.4"/>
<path d="M489.5,31.6C490.2,33.7 490.6,40.0 493.7,44.2C496.8,48.4 502.4,52.9 508.4,56.8C514.4,60.7 522.3,64.1 529.5,67.4C536.7,70.7 547.8,75.2 551.5,76.8"/>
<path d="M551.5,6.3C548.5,6.8 536.9,8.6 533.7,9.5C530.6,10.4 529.6,10.5 532.6,11.6C535.6,12.7 548.4,15.1 551.5,15.8"/>
<path d="M1.0,147.4C7.9,147.1 30.0,146.5 42.1,145.3C54.2,144.1 65.3,140.2 73.7,140.0C82.1,139.8 87.0,142.1 92.6,144.2C98.2,146.3 104.9,151.2 107.4,152.6"/>
<path d="M170.5,151.2C173.7,150.7 182.8,148.3 189.5,148.0C196.2,147.7 203.8,148.6 210.5,149.5C217.2,150.4 226.3,152.7 229.5,153.3"/>
<path d="M252.6,158.9 L266.3,163.2"/>
<path d="M260.0,134.7C262.1,135.2 269.1,137.4 272.6,137.9C276.1,138.4 279.6,137.9 281.0,137.9"/>
<path d="M307.4,137.9C311.1,137.4 321.6,136.1 329.5,134.7C337.4,133.3 346.6,131.2 354.7,129.5C362.8,127.8 371.2,125.4 377.9,124.2C384.6,123.0 388.4,122.2 394.7,122.1C401.0,122.0 409.1,122.6 415.8,123.8C422.5,125.0 428.4,127.3 434.7,129.5C441.0,131.7 447.7,134.4 453.7,136.8C459.7,139.2 465.2,142.0 470.5,144.2C475.8,146.4 482.8,148.9 485.3,149.9"/>
<path d="M316.8,161.0C319.6,160.5 327.4,158.1 333.7,157.9C340.0,157.7 347.3,159.1 354.7,159.6C362.1,160.1 371.2,161.0 377.9,161.0C384.6,161.0 390.1,159.2 394.7,159.6C399.3,160.0 401.8,161.4 405.3,163.2C408.8,165.0 413.0,168.6 415.8,170.5C418.6,172.4 421.1,174.0 422.1,174.7"/>
</g>
<g font-family='"Liberation Sans", sans-serif' font-size="12.3" font-weight="bold" fill="#111" text-anchor="middle">
<text transform="translate(143.2,72.2) rotate(5)" y="4.3">33</text>
<text transform="translate(286.3,65.7) rotate(0)" y="4.3">31</text>
<text transform="translate(240.0,155.8) rotate(12)" y="4.3" font-style="italic">34</text>
<text transform="translate(461.0,64.8) rotate(25)" y="4.3" font-style="italic">29</text>
<text transform="translate(494.1,18.9) rotate(-60)" y="4.3">28</text>
<text transform="translate(548.0,125.3) rotate(25)" y="4.3" font-style="italic">30</text>
<text transform="translate(401.0,104.6) rotate(0)" y="4.3">32</text>
</g>
<polygon points="0.0,212.8 9.9,212.8 78.8,180.2 155.6,108.0 185.7,209.2 241.1,215.7 294.0,108.0 331.1,199.8 388.8,188.6 488.3,148.6 539.5,129.6 551.5,129.6 551.5,216.2 0.0,216.2" fill="#363636"/>
<g fill="#3a3a3a">
<circle cx="9.9" cy="11.5" r="1.9"/>
<circle cx="9.9" cy="72.6" r="1.9"/>
<circle cx="9.9" cy="194.8" r="1.9"/>
<circle cx="78.8" cy="11.5" r="1.9"/>
<circle cx="78.8" cy="72.6" r="1.9"/>
<circle cx="78.8" cy="162.5" r="1.9"/>
<circle cx="155.6" cy="11.5" r="1.9"/>
<circle cx="155.6" cy="90.6" r="1.9"/>
<circle cx="186.0" cy="11.5" r="1.9"/>
<circle cx="186.0" cy="22.3" r="1.9"/>
<circle cx="186.0" cy="184.0" r="1.9"/>
<circle cx="241.1" cy="11.5" r="1.9"/>
<circle cx="241.1" cy="191.2" r="1.9"/>
<circle cx="294.0" cy="11.5" r="1.9"/>
<circle cx="294.0" cy="25.9" r="1.9"/>
<circle cx="294.0" cy="90.6" r="1.9"/>
<circle cx="331.1" cy="11.5" r="1.9"/>
<circle cx="331.1" cy="36.6" r="1.9"/>
<circle cx="331.1" cy="180.4" r="1.9"/>
<circle cx="388.8" cy="11.5" r="1.9"/>
<circle cx="388.8" cy="162.5" r="1.9"/>
<circle cx="488.3" cy="11.5" r="1.9"/>
<circle cx="539.3" cy="11.5" r="1.9"/>
</g>
</g>
</g>
<rect x="82.20" y="367.40" width="551.50" height="215.70" fill="none" stroke="#3a3a3a" stroke-width="1.2"/>
<path d="M77.40,367.40h4.8M79.40,403.35h2.8M77.40,439.30h4.8M79.40,475.25h2.8M77.40,511.20h4.8M79.40,547.15h2.8M77.40,583.10h4.8M118.28,583.10v4.8M169.82,583.10v2.8M221.36,583.10v4.8M272.91,583.10v2.8M324.45,583.10v4.8M375.99,583.10v2.8M427.53,583.10v4.8M479.07,583.10v2.8M530.62,583.10v4.8M582.16,583.10v2.8M633.70,583.10v4.8" stroke="#3a3a3a" stroke-width="1.1" fill="none"/>
<g font-family='"Liberation Sans", sans-serif' font-size="17.7" font-weight="bold" fill="#000">
<text x="72.5" y="373.8" text-anchor="end">0</text>
<text x="72.5" y="445.7" text-anchor="end">20</text>
<text x="72.5" y="517.6" text-anchor="end">40</text>
<text x="72.5" y="589.5" text-anchor="end">60</text>
<text x="118.3" y="608.9" text-anchor="middle">27°N</text>
<text x="221.4" y="608.9" text-anchor="middle">28°N</text>
<text x="324.4" y="608.9" text-anchor="middle">29°N</text>
<text x="427.5" y="608.9" text-anchor="middle">30°N</text>
<text x="530.6" y="608.9" text-anchor="middle">31°N</text>
<text x="633.7" y="608.9" text-anchor="middle">32°N</text>
</g>
<text transform="translate(36.2,474.7) rotate(-90)" text-anchor="middle" font-family='"Liberation Sans", sans-serif' font-size="23.2">Depth (m)</text>
<path d="M647.60,367.70 L657.45,364.40 L667.30,367.70 L667.30,582.90 L657.45,586.30 L647.60,582.90 Z" fill="url(#cbg)" stroke="#000" stroke-opacity="0.32" stroke-width="0.9"/>
<g font-family='"Liberation Sans", sans-serif' font-size="16.8" font-weight="bold" fill="#000">
<text x="672.5" y="397.4">34</text>
<text x="672.5" y="445.3">32</text>
<text x="672.5" y="493.3">30</text>
<text x="672.5" y="541.2">28</text>
<text x="672.5" y="589.1">26</text>
</g>
<path d="M647.60,391.37h4.2M667.30,391.37h-4.2M647.60,439.30h4.2M667.30,439.30h-4.2M647.60,487.23h4.2M667.30,487.23h-4.2M647.60,535.17h4.2M667.30,535.17h-4.2M647.60,583.10h4.2M667.30,583.10h-4.2" stroke="#151515" stroke-width="1.25" fill="none"/>
<text transform="translate(648.0,577.5) rotate(-90)" font-family='"Liberation Sans", sans-serif' font-size="10.35" font-weight="bold" fill="#111">Ocean Data View</text>
<text x="625.0" y="354.3" text-anchor="end" font-family='"Liberation Sans", sans-serif' font-size="22.4" fill="#000">Salinity</text>
<text x="-0.3" y="357.8" font-family='"Liberation Sans", sans-serif' font-size="31" font-weight="bold" fill="#000">B</text>
<!-- panel C -->
<g transform="translate(82.30,674.00) scale(0.99782,0.99861)">
<g clip-path="url(#clipP)">
<g filter="url(#fld)">
<rect x="-39.69" y="0" width="20.30" height="215.7" fill="url(#gC0)"/>
<rect x="-20.00" y="0" width="20.30" height="215.7" fill="url(#gC1)"/>
<rect x="-0.30" y="0" width="20.30" height="215.7" fill="url(#gC2)"/>
<rect x="19.40" y="0" width="20.30" height="215.7" fill="url(#gC3)"/>
<rect x="39.09" y="0" width="20.30" height="215.7" fill="url(#gC4)"/>
<rect x="58.79" y="0" width="20.30" height="215.7" fill="url(#gC5)"/>
<rect x="78.49" y="0" width="20.30" height="215.7" fill="url(#gC6)"/>
<rect x="98.18" y="0" width="20.30" height="215.7" fill="url(#gC7)"/>
<rect x="117.88" y="0" width="20.30" height="215.7" fill="url(#gC8)"/>
<rect x="137.57" y="0" width="20.30" height="215.7" fill="url(#gC9)"/>
<rect x="157.27" y="0" width="20.30" height="215.7" fill="url(#gC10)"/>
<rect x="176.97" y="0" width="20.30" height="215.7" fill="url(#gC11)"/>
<rect x="196.66" y="0" width="20.30" height="215.7" fill="url(#gC12)"/>
<rect x="216.36" y="0" width="20.30" height="215.7" fill="url(#gC13)"/>
<rect x="236.06" y="0" width="20.30" height="215.7" fill="url(#gC14)"/>
<rect x="255.75" y="0" width="20.30" height="215.7" fill="url(#gC15)"/>
<rect x="275.45" y="0" width="20.30" height="215.7" fill="url(#gC16)"/>
<rect x="295.15" y="0" width="20.30" height="215.7" fill="url(#gC17)"/>
<rect x="314.84" y="0" width="20.30" height="215.7" fill="url(#gC18)"/>
<rect x="334.54" y="0" width="20.30" height="215.7" fill="url(#gC19)"/>
<rect x="354.24" y="0" width="20.30" height="215.7" fill="url(#gC20)"/>
<rect x="373.93" y="0" width="20.30" height="215.7" fill="url(#gC21)"/>
<rect x="393.63" y="0" width="20.30" height="215.7" fill="url(#gC22)"/>
<rect x="413.33" y="0" width="20.30" height="215.7" fill="url(#gC23)"/>
<rect x="433.02" y="0" width="20.30" height="215.7" fill="url(#gC24)"/>
<rect x="452.72" y="0" width="20.30" height="215.7" fill="url(#gC25)"/>
<rect x="472.41" y="0" width="20.30" height="215.7" fill="url(#gC26)"/>
<rect x="492.11" y="0" width="20.30" height="215.7" fill="url(#gC27)"/>
<rect x="511.81" y="0" width="20.30" height="215.7" fill="url(#gC28)"/>
<rect x="531.50" y="0" width="20.30" height="215.7" fill="url(#gC29)"/>
<rect x="551.20" y="0" width="20.30" height="215.7" fill="url(#gC30)"/>
<rect x="570.90" y="0" width="20.30" height="215.7" fill="url(#gC31)"/>
</g>
<g fill="none" stroke="#2e2e2e" stroke-width="0.75">
<path d="M116.8,1.0C117.7,2.6 119.1,7.5 122.1,10.5C125.1,13.5 129.8,17.0 134.7,18.9C139.6,20.8 146.0,21.8 151.6,21.7C157.2,21.6 163.8,20.4 168.4,18.5C173.0,16.6 176.3,12.3 178.9,10.5C181.5,8.7 183.3,8.2 184.2,7.8"/>
<path d="M199.0,8.4C200.9,9.8 205.8,12.9 210.5,16.8C215.2,20.7 221.1,27.2 227.4,31.6C233.7,36.0 240.7,40.2 248.4,43.2C256.1,46.2 264.8,47.6 273.7,49.5C282.6,51.4 293.9,52.1 302.1,54.7C310.4,57.3 315.5,62.3 323.2,65.3C330.9,68.3 339.3,72.1 348.4,72.6C357.5,73.1 367.4,69.8 377.9,68.4C388.4,67.0 401.4,64.2 411.6,64.2C421.8,64.2 430.6,66.0 439.0,68.4C447.4,70.9 454.0,74.9 462.1,78.9C470.2,82.9 479.0,88.5 487.4,92.6C495.8,96.6 504.9,100.0 512.6,103.2C520.3,106.4 527.2,109.3 533.7,111.6C540.2,113.9 548.5,115.9 551.5,116.8"/>
<path d="M1.0,84.2C7.9,84.9 30.0,87.2 42.1,88.4C54.2,89.6 66.3,92.3 73.7,91.6C81.1,90.9 82.1,88.6 86.3,84.2C90.5,79.8 93.6,70.7 98.9,65.3C104.2,59.9 110.5,54.4 117.9,51.6C125.3,48.8 134.8,48.0 143.2,48.4C151.6,48.8 160.7,50.9 168.4,53.7C176.1,56.5 182.5,61.1 189.5,65.3C196.5,69.5 203.8,75.4 210.5,78.9C217.2,82.4 226.3,85.1 229.5,86.3"/>
<path d="M258.9,85.3C261.2,84.1 267.9,79.8 272.6,77.9C277.4,76.0 283.2,73.9 287.4,73.7C291.6,73.5 294.0,74.3 297.9,76.8C301.8,79.2 305.6,84.4 310.5,88.4C315.4,92.4 321.1,98.2 327.4,101.0C333.7,103.8 340.0,105.1 348.4,105.3C356.8,105.5 367.4,102.9 377.9,102.1C388.4,101.3 401.4,99.9 411.6,100.6C421.8,101.3 430.6,103.8 439.0,106.3C447.4,108.8 454.0,112.5 462.1,115.8C470.2,119.1 479.7,123.2 487.4,126.3C495.1,129.4 503.5,132.8 508.4,134.7C513.3,136.6 515.4,137.4 516.8,137.9"/>
<path d="M144.2,116.8C144.4,114.2 144.4,105.7 145.3,101.0C146.2,96.3 147.9,91.2 149.5,88.4C151.1,85.6 152.8,84.2 154.7,84.2C156.6,84.2 159.1,85.2 161.0,88.4C162.9,91.6 164.4,97.9 166.3,103.2C168.2,108.5 169.4,115.1 172.6,120.0C175.8,124.9 179.7,129.3 185.3,132.6C190.9,135.9 198.6,138.1 206.3,140.0C214.0,141.9 222.8,143.1 231.6,144.2C240.4,145.2 251.7,146.1 258.9,146.3C266.1,146.5 272.1,145.5 274.7,145.3"/>
<path d="M309.5,144.2C312.8,144.0 322.0,144.2 329.5,143.2C337.0,142.1 345.2,139.8 354.7,137.9C364.2,136.0 376.8,132.5 386.3,131.6C395.8,130.7 403.9,131.4 411.6,132.6C419.3,133.8 425.6,136.4 432.6,138.9C439.6,141.4 447.0,144.8 453.7,147.4C460.4,150.0 469.5,153.5 472.6,154.7"/>
<path d="M309.5,1.0C308.6,2.2 304.0,5.6 304.2,8.4C304.4,11.2 307.3,15.3 310.5,17.9C313.7,20.5 319.8,22.3 323.2,24.2C326.6,26.1 328.2,30.1 331.2,29.0C334.2,27.9 339.2,21.3 341.0,17.9C342.8,14.5 343.3,11.2 342.1,8.4C340.9,5.6 335.1,2.2 333.7,1.0"/>
<path d="M499.0,1.0C499.9,2.6 503.5,6.8 504.2,10.5C504.9,14.2 503.4,21.1 503.2,23.2"/>
<path d="M528.4,48.8C530.3,49.6 536.1,52.1 540.0,53.7C543.9,55.3 549.6,57.7 551.5,58.5"/>
</g>
<g font-family='"Liberation Sans", sans-serif' font-size="12.3" font-weight="bold" fill="#111" text-anchor="middle">
<text transform="translate(191.2,6.3) rotate(0)" y="4.3">9</text>
<text transform="translate(244.2,88.4) rotate(-3)" y="4.3">7.5</text>
<text transform="translate(331.0,36.8) rotate(-3)" y="4.3">10.5</text>
<text transform="translate(512.6,38.9) rotate(40)" y="4.3">10.5</text>
</g>
<polygon points="0.0,212.8 9.9,212.8 78.8,180.2 155.6,108.0 185.7,209.2 241.1,215.7 294.0,108.0 331.1,199.8 388.8,188.6 488.3,148.6 539.5,129.6 551.5,129.6 551.5,216.2 0.0,216.2" fill="#363636"/>
<g fill="#3a3a3a">
<circle cx="9.9" cy="11.5" r="1.9"/>
<circle cx="9.9" cy="72.6" r="1.9"/>
<circle cx="9.9" cy="194.8" r="1.9"/>
<circle cx="78.8" cy="11.5" r="1.9"/>
<circle cx="78.8" cy="72.6" r="1.9"/>
<circle cx="78.8" cy="162.5" r="1.9"/>
<circle cx="155.6" cy="11.5" r="1.9"/>
<circle cx="155.6" cy="90.6" r="1.9"/>
<circle cx="186.0" cy="11.5" r="1.9"/>
<circle cx="186.0" cy="22.3" r="1.9"/>
<circle cx="186.0" cy="184.0" r="1.9"/>
<circle cx="241.1" cy="11.5" r="1.9"/>
<circle cx="241.1" cy="191.2" r="1.9"/>
<circle cx="294.0" cy="11.5" r="1.9"/>
<circle cx="294.0" cy="25.9" r="1.9"/>
<circle cx="294.0" cy="90.6" r="1.9"/>
<circle cx="331.1" cy="11.5" r="1.9"/>
<circle cx="331.1" cy="36.6" r="1.9"/>
<circle cx="331.1" cy="180.4" r="1.9"/>
<circle cx="388.8" cy="11.5" r="1.9"/>
<circle cx="388.8" cy="162.5" r="1.9"/>
<circle cx="488.3" cy="11.5" r="1.9"/>
<circle cx="539.3" cy="11.5" r="1.9"/>
</g>
</g>
</g>
<rect x="82.30" y="674.00" width="550.30" height="215.40" fill="none" stroke="#3a3a3a" stroke-width="1.2"/>
<path d="M77.50,674.00h4.8M79.50,709.90h2.8M77.50,745.80h4.8M79.50,781.70h2.8M77.50,817.60h4.8M79.50,853.50h2.8M77.50,889.40h4.8M118.30,889.40v4.8M169.73,889.40v2.8M221.16,889.40v4.8M272.59,889.40v2.8M324.02,889.40v4.8M375.45,889.40v2.8M426.88,889.40v4.8M478.31,889.40v2.8M529.74,889.40v4.8M581.17,889.40v2.8M632.60,889.40v4.8" stroke="#3a3a3a" stroke-width="1.1" fill="none"/>
<g font-family='"Liberation Sans", sans-serif' font-size="17.7" font-weight="bold" fill="#000">
<text x="72.6" y="680.4" text-anchor="end">0</text>
<text x="72.6" y="752.2" text-anchor="end">20</text>
<text x="72.6" y="824.0" text-anchor="end">40</text>
<text x="72.6" y="895.8" text-anchor="end">60</text>
<text x="118.3" y="915.2" text-anchor="middle">27°N</text>
<text x="221.2" y="915.2" text-anchor="middle">28°N</text>
<text x="324.0" y="915.2" text-anchor="middle">29°N</text>
<text x="426.9" y="915.2" text-anchor="middle">30°N</text>
<text x="529.7" y="915.2" text-anchor="middle">31°N</text>
<text x="632.6" y="915.2" text-anchor="middle">32°N</text>
</g>
<text transform="translate(36.2,781.2) rotate(-90)" text-anchor="middle" font-family='"Liberation Sans", sans-serif' font-size="23.2">Depth (m)</text>
<path d="M646.20,674.30 L655.95,671.00 L665.70,674.30 L665.70,889.20 L655.95,892.60 L646.20,889.20 Z" fill="url(#cbg)" stroke="#000" stroke-opacity="0.32" stroke-width="0.9"/>
<g font-family='"Liberation Sans", sans-serif' font-size="16.8" font-weight="bold" fill="#000">
<text x="670.9" y="680.0">15</text>
<text x="670.9" y="718.5">12.5</text>
<text x="670.9" y="757.0">10</text>
<text x="670.9" y="795.4">7.5</text>
<text x="670.9" y="833.9">5</text>
<text x="670.9" y="872.4">2.5</text>
</g>
<path d="M646.20,674.00h4.2M665.70,674.00h-4.2M646.20,712.46h4.2M665.70,712.46h-4.2M646.20,750.93h4.2M665.70,750.93h-4.2M646.20,789.39h4.2M665.70,789.39h-4.2M646.20,827.86h4.2M665.70,827.86h-4.2M646.20,866.32h4.2M665.70,866.32h-4.2" stroke="#151515" stroke-width="1.25" fill="none"/>
<text transform="translate(646.6,883.8) rotate(-90)" font-family='"Liberation Sans", sans-serif' font-size="10.35" font-weight="bold" fill="#111">Ocean Data View</text>
<text x="632.8" y="658.4" text-anchor="end" font-family='"Liberation Sans", sans-serif' font-size="23.5" fill="#000">DO (mg L<tspan dy="-8.5" font-size="14.5">-1</tspan><tspan dy="8.5">)</tspan></text>
<text x="-0.2" y="663.8" font-family='"Liberation Sans", sans-serif' font-size="31" font-weight="bold" fill="#000">C</text>
<!-- panel D -->
<g transform="translate(82.30,980.00) scale(0.99782,0.99861)">
<g clip-path="url(#clipP)">
<g filter="url(#fld)">
<rect x="-39.69" y="0" width="20.30" height="215.7" fill="url(#gD0)"/>
<rect x="-20.00" y="0" width="20.30" height="215.7" fill="url(#gD1)"/>
<rect x="-0.30" y="0" width="20.30" height="215.7" fill="url(#gD2)"/>
<rect x="19.40" y="0" width="20.30" height="215.7" fill="url(#gD3)"/>
<rect x="39.09" y="0" width="20.30" height="215.7" fill="url(#gD4)"/>
<rect x="58.79" y="0" width="20.30" height="215.7" fill="url(#gD5)"/>
<rect x="78.49" y="0" width="20.30" height="215.7" fill="url(#gD6)"/>
<rect x="98.18" y="0" width="20.30" height="215.7" fill="url(#gD7)"/>
<rect x="117.88" y="0" width="20.30" height="215.7" fill="url(#gD8)"/>
<rect x="137.57" y="0" width="20.30" height="215.7" fill="url(#gD9)"/>
<rect x="157.27" y="0" width="20.30" height="215.7" fill="url(#gD10)"/>
<rect x="176.97" y="0" width="20.30" height="215.7" fill="url(#gD11)"/>
<rect x="196.66" y="0" width="20.30" height="215.7" fill="url(#gD12)"/>
<rect x="216.36" y="0" width="20.30" height="215.7" fill="url(#gD13)"/>
<rect x="236.06" y="0" width="20.30" height="215.7" fill="url(#gD14)"/>
<rect x="255.75" y="0" width="20.30" height="215.7" fill="url(#gD15)"/>
<rect x="275.45" y="0" width="20.30" height="215.7" fill="url(#gD16)"/>
<rect x="295.15" y="0" width="20.30" height="215.7" fill="url(#gD17)"/>
<rect x="314.84" y="0" width="20.30" height="215.7" fill="url(#gD18)"/>
<rect x="334.54" y="0" width="20.30" height="215.7" fill="url(#gD19)"/>
<rect x="354.24" y="0" width="20.30" height="215.7" fill="url(#gD20)"/>
<rect x="373.93" y="0" width="20.30" height="215.7" fill="url(#gD21)"/>
<rect x="393.63" y="0" width="20.30" height="215.7" fill="url(#gD22)"/>
<rect x="413.33" y="0" width="20.30" height="215.7" fill="url(#gD23)"/>
<rect x="433.02" y="0" width="20.30" height="215.7" fill="url(#gD24)"/>
<rect x="452.72" y="0" width="20.30" height="215.7" fill="url(#gD25)"/>
<rect x="472.41" y="0" width="20.30" height="215.7" fill="url(#gD26)"/>
<rect x="492.11" y="0" width="20.30" height="215.7" fill="url(#gD27)"/>
<rect x="511.81" y="0" width="20.30" height="215.7" fill="url(#gD28)"/>
<rect x="531.50" y="0" width="20.30" height="215.7" fill="url(#gD29)"/>
<rect x="551.20" y="0" width="20.30" height="215.7" fill="url(#gD30)"/>
<rect x="570.90" y="0" width="20.30" height="215.7" fill="url(#gD31)"/>
</g>
<g fill="none" stroke="#2e2e2e" stroke-width="0.75">
<path d="M103.2,1.0C103.7,4.3 105.1,13.4 106.3,21.0C107.5,28.6 109.7,38.2 110.5,46.3C111.3,54.4 111.5,60.7 111.2,69.5C110.9,78.3 109.6,89.4 108.4,98.9C107.2,108.4 105.8,117.5 104.2,126.3C102.6,135.1 100.3,145.4 98.9,151.6C97.5,157.8 96.3,161.3 95.8,163.2"/>
<path d="M121.0,9.5C121.7,12.5 123.7,21.3 125.3,27.4C126.9,33.5 129.4,39.3 130.5,46.3C131.6,53.3 131.6,61.4 131.6,69.5C131.6,77.6 131.0,86.6 130.5,94.7C130.0,102.8 129.2,111.9 128.8,117.9C128.5,123.9 128.5,128.4 128.4,130.5"/>
<path d="M129.5,1.0C130.0,3.6 130.7,11.7 132.6,16.8C134.5,21.9 138.9,26.3 141.0,31.6C143.1,36.9 144.7,42.1 145.3,48.4C145.9,54.7 145.2,63.9 144.8,69.5C144.5,75.1 143.5,80.0 143.2,82.1"/>
<path d="M142.7,103.2 L145.3,114.7"/>
<path d="M182.7,1.0C183.3,5.0 184.7,17.4 186.3,25.3C188.0,33.2 190.7,40.3 192.6,48.4C194.5,56.5 196.5,64.2 197.9,73.7C199.3,83.2 200.2,93.0 201.0,105.3C201.8,117.6 202.1,131.6 202.5,147.4C202.9,163.2 203.1,191.2 203.2,200.0"/>
<path d="M194.7,12.6C195.0,15.1 195.9,22.5 196.8,27.4C197.7,32.3 198.6,35.1 200.0,42.1C201.4,49.1 203.6,59.7 205.3,69.5C207.1,79.3 209.1,89.8 210.5,101.0C211.9,112.2 212.8,123.8 213.7,136.8C214.6,149.8 215.1,166.7 215.8,179.0C216.5,191.3 217.6,205.2 217.9,210.5"/>
<path d="M208.4,1.0C208.8,4.3 209.4,12.4 210.5,21.0C211.6,29.6 213.1,42.1 214.7,52.6C216.3,63.1 218.2,71.9 220.0,84.2C221.8,96.5 223.4,114.0 225.3,126.3C227.2,138.6 228.8,148.4 231.6,157.9C234.4,167.4 238.9,177.5 242.1,183.2C245.2,188.9 249.1,190.5 250.5,192.0"/>
<path d="M225.3,1.0C225.8,5.0 226.7,16.7 228.4,25.3C230.2,33.9 232.8,43.8 235.8,52.6C238.8,61.4 243.0,71.2 246.3,77.9C249.6,84.6 253.0,89.1 255.8,92.6C258.6,96.1 262.0,97.9 263.2,98.9"/>
<path d="M287.4,97.9C288.4,97.4 291.6,94.9 293.7,94.7C295.8,94.5 297.2,96.3 300.0,96.8C302.8,97.3 305.9,98.6 310.5,97.9C315.1,97.2 321.1,95.6 327.4,92.6C333.7,89.6 341.4,83.5 348.4,80.0C355.4,76.5 362.5,73.4 369.5,71.6C376.5,69.8 383.5,69.1 390.5,69.1C397.5,69.1 404.6,70.0 411.6,71.6C418.6,73.2 425.6,75.9 432.6,78.9C439.6,81.9 446.7,85.8 453.7,89.5C460.7,93.2 467.7,97.2 474.7,101.0C481.7,104.8 488.8,108.9 495.8,112.6C502.8,116.3 510.8,120.0 516.8,123.2C522.8,126.4 529.1,130.2 531.6,131.6"/>
<path d="M248.4,1.0C248.6,2.9 248.1,8.6 249.5,12.6C250.9,16.6 253.1,21.6 256.8,25.3C260.5,29.0 267.2,32.4 271.6,34.7C276.0,37.0 281.3,38.2 283.2,38.9"/>
<path d="M307.4,38.9C310.4,38.2 319.5,36.6 325.3,34.7C331.1,32.8 337.6,30.2 342.1,27.4C346.7,24.6 350.2,21.1 352.6,17.9C355.1,14.7 355.0,11.2 356.8,8.4C358.6,5.6 362.1,2.2 363.2,1.0"/>
<path d="M427.4,9.5C427.8,11.4 428.3,17.0 429.5,21.0C430.7,25.0 432.1,29.5 434.7,33.7C437.3,37.9 440.7,41.8 445.3,46.3C449.9,50.8 456.2,56.4 462.1,61.0C468.1,65.6 474.3,69.5 481.0,73.7C487.7,77.9 495.1,82.3 502.1,86.3C509.1,90.3 516.5,94.6 523.2,97.9C529.9,101.2 537.4,104.0 542.1,106.3C546.8,108.6 549.9,110.7 551.5,111.6"/>
<path d="M491.6,1.0C492.8,2.2 498.1,5.8 499.0,8.4C499.9,11.0 498.0,13.6 496.8,16.8C495.6,20.0 492.1,23.5 491.6,27.4C491.1,31.3 491.6,35.8 493.7,40.0C495.8,44.2 500.0,48.6 504.2,52.6C508.4,56.6 514.0,60.9 518.9,64.2C523.8,67.5 531.2,71.2 533.7,72.6"/>
<path d="M508.4,1.0C508.6,2.9 509.1,9.3 509.5,12.6C509.9,15.9 510.3,19.6 510.5,21.0"/>
<path d="M522.1,42.1C524.4,43.9 530.9,49.5 535.8,52.6C540.7,55.8 548.9,59.6 551.5,61.0"/>
<path d="M313.7,158.9C316.3,155.6 323.7,145.4 329.5,138.9C335.3,132.4 341.7,125.6 348.4,120.0C355.1,114.4 363.2,108.5 369.5,105.3C375.8,102.1 380.7,101.4 386.3,100.6C391.9,99.8 396.9,99.6 403.2,100.6C409.5,101.5 417.2,103.8 424.2,106.3C431.2,108.8 438.3,112.5 445.3,115.8C452.3,119.1 459.3,122.8 466.3,126.3C473.3,129.8 481.4,133.8 487.4,136.8C493.4,139.8 499.7,143.0 502.1,144.2"/>
<path d="M322.1,178.9C324.0,175.8 329.0,166.7 333.7,160.0C338.4,153.3 344.5,144.9 350.5,138.9C356.5,132.9 363.5,127.4 369.5,124.2C375.5,121.0 380.0,120.2 386.3,119.6C392.6,119.0 400.4,119.1 407.4,120.4C414.4,121.7 421.4,124.7 428.4,127.4C435.4,130.1 443.2,133.8 449.5,136.8C455.8,139.8 461.2,142.8 466.3,145.3C471.4,147.8 477.7,150.6 480.0,151.6"/>
<path d="M328.4,195.8C330.0,192.6 334.2,183.1 337.9,176.8C341.6,170.5 345.6,163.9 350.5,157.9C355.4,151.9 362.1,144.9 367.4,141.0C372.7,137.1 378.2,136.0 382.1,134.7C386.0,133.4 389.1,133.3 390.5,133.0"/>
<path d="M407.4,132.6C410.2,133.5 418.6,135.8 424.2,137.9C429.8,140.0 435.7,142.9 441.0,145.3C446.3,147.8 451.8,150.7 455.8,152.6C459.9,154.5 463.7,156.1 465.3,156.8"/>
</g>
<g font-family='"Liberation Sans", sans-serif' font-size="12.3" font-weight="bold" fill="#111" text-anchor="middle">
<text transform="translate(121.5,2.5) rotate(80)" y="4.3">6</text>
<text transform="translate(143.2,92.6) rotate(90)" y="4.3">9</text>
<text transform="translate(194.7,3.5) rotate(90)" y="4.3">10</text>
<text transform="translate(203.2,211.5) rotate(90)" y="4.3">9</text>
<text transform="translate(274.7,103.2) rotate(-5)" y="4.3">15</text>
<text transform="translate(294.7,40.0) rotate(3)" y="4.3">18</text>
<text transform="translate(418.0,2.5) rotate(20)" y="4.3" font-style="italic">18</text>
<text transform="translate(543.2,79.6) rotate(25)" y="4.3" font-style="italic">20</text>
<text transform="translate(513.7,32.6) rotate(50)" y="4.3">21</text>
<text transform="translate(398.3,131.6) rotate(0)" y="4.3">9</text>
</g>
<polygon points="0.0,212.8 9.9,212.8 78.8,180.2 155.6,108.0 185.7,209.2 241.1,215.7 294.0,108.0 331.1,199.8 388.8,188.6 488.3,148.6 539.5,129.6 551.5,129.6 551.5,216.2 0.0,216.2" fill="#363636"/>
<g fill="#3a3a3a">
<circle cx="78.8" cy="11.5" r="1.9"/>
<circle cx="78.8" cy="72.6" r="1.9"/>
<circle cx="155.6" cy="11.5" r="1.9"/>
<circle cx="155.6" cy="90.6" r="1.9"/>
<circle cx="294.0" cy="11.5" r="1.9"/>
<circle cx="294.0" cy="25.9" r="1.9"/>
<circle cx="294.0" cy="90.6" r="1.9"/>
<circle cx="388.8" cy="11.5" r="1.9"/>
<circle cx="388.8" cy="162.5" r="1.9"/>
<circle cx="488.3" cy="11.5" r="1.9"/>
<circle cx="539.3" cy="11.5" r="1.9"/>
</g>
</g>
</g>
<rect x="82.30" y="980.00" width="550.30" height="215.40" fill="none" stroke="#3a3a3a" stroke-width="1.2"/>
<path d="M77.50,980.00h4.8M79.50,1015.90h2.8M77.50,1051.80h4.8M79.50,1087.70h2.8M77.50,1123.60h4.8M79.50,1159.50h2.8M77.50,1195.40h4.8M118.30,1195.40v4.8M169.73,1195.40v2.8M221.16,1195.40v4.8M272.59,1195.40v2.8M324.02,1195.40v4.8M375.45,1195.40v2.8M426.88,1195.40v4.8M478.31,1195.40v2.8M529.74,1195.40v4.8M581.17,1195.40v2.8M632.60,1195.40v4.8" stroke="#3a3a3a" stroke-width="1.1" fill="none"/>
<g font-family='"Liberation Sans", sans-serif' font-size="17.7" font-weight="bold" fill="#000">
<text x="72.6" y="986.4" text-anchor="end">0</text>
<text x="72.6" y="1058.2" text-anchor="end">20</text>
<text x="72.6" y="1130.0" text-anchor="end">40</text>
<text x="72.6" y="1201.8" text-anchor="end">60</text>
<text x="118.3" y="1221.2" text-anchor="middle">27°N</text>
<text x="221.2" y="1221.2" text-anchor="middle">28°N</text>
<text x="324.0" y="1221.2" text-anchor="middle">29°N</text>
<text x="426.9" y="1221.2" text-anchor="middle">30°N</text>
<text x="529.7" y="1221.2" text-anchor="middle">31°N</text>
<text x="632.6" y="1221.2" text-anchor="middle">32°N</text>
</g>
<text transform="translate(36.2,1087.2) rotate(-90)" text-anchor="middle" font-family='"Liberation Sans", sans-serif' font-size="23.2">Depth (m)</text>
<path d="M646.20,980.30 L655.95,977.00 L665.70,980.30 L665.70,1195.20 L655.95,1198.60 L646.20,1195.20 Z" fill="url(#cbg)" stroke="#000" stroke-opacity="0.32" stroke-width="0.9"/>
<g font-family='"Liberation Sans", sans-serif' font-size="16.8" font-weight="bold" fill="#000">
<text x="670.9" y="986.0">35</text>
<text x="670.9" y="1016.8">30</text>
<text x="670.9" y="1047.6">25</text>
<text x="670.9" y="1078.4">20</text>
<text x="670.9" y="1109.1">15</text>
<text x="670.9" y="1139.9">10</text>
<text x="670.9" y="1170.7">5</text>
<text x="670.9" y="1201.4">0</text>
</g>
<path d="M646.20,980.00h4.2M665.70,980.00h-4.2M646.20,1010.77h4.2M665.70,1010.77h-4.2M646.20,1041.54h4.2M665.70,1041.54h-4.2M646.20,1072.31h4.2M665.70,1072.31h-4.2M646.20,1103.09h4.2M665.70,1103.09h-4.2M646.20,1133.86h4.2M665.70,1133.86h-4.2M646.20,1164.63h4.2M665.70,1164.63h-4.2M646.20,1195.40h4.2M665.70,1195.40h-4.2" stroke="#151515" stroke-width="1.25" fill="none"/>
<text transform="translate(646.6,1189.8) rotate(-90)" font-family='"Liberation Sans", sans-serif' font-size="10.35" font-weight="bold" fill="#111">Ocean Data View</text>
<text x="632.8" y="966.6" text-anchor="end" font-family='"Liberation Sans", sans-serif' font-size="22.9" fill="#000">NO<tspan dy="5" font-size="15">x</tspan><tspan dy="-5"> (μmol L</tspan><tspan dy="-8.5" font-size="14.5">-1</tspan><tspan dy="8.5">)</tspan></text>
<text x="-0.3" y="962.2" font-family='"Liberation Sans", sans-serif' font-size="31" font-weight="bold" fill="#000">D</text>
<!-- panel E -->
<g transform="translate(82.30,1286.00) scale(0.99782,0.99861)">
<g clip-path="url(#clipP)">
<g filter="url(#fld)">
<rect x="-39.69" y="0" width="20.30" height="215.7" fill="url(#gE0)"/>
<rect x="-20.00" y="0" width="20.30" height="215.7" fill="url(#gE1)"/>
<rect x="-0.30" y="0" width="20.30" height="215.7" fill="url(#gE2)"/>
<rect x="19.40" y="0" width="20.30" height="215.7" fill="url(#gE3)"/>
<rect x="39.09" y="0" width="20.30" height="215.7" fill="url(#gE4)"/>
<rect x="58.79" y="0" width="20.30" height="215.7" fill="url(#gE5)"/>
<rect x="78.49" y="0" width="20.30" height="215.7" fill="url(#gE6)"/>
<rect x="98.18" y="0" width="20.30" height="215.7" fill="url(#gE7)"/>
<rect x="117.88" y="0" width="20.30" height="215.7" fill="url(#gE8)"/>
<rect x="137.57" y="0" width="20.30" height="215.7" fill="url(#gE9)"/>
<rect x="157.27" y="0" width="20.30" height="215.7" fill="url(#gE10)"/>
<rect x="176.97" y="0" width="20.30" height="215.7" fill="url(#gE11)"/>
<rect x="196.66" y="0" width="20.30" height="215.7" fill="url(#gE12)"/>
<rect x="216.36" y="0" width="20.30" height="215.7" fill="url(#gE13)"/>
<rect x="236.06" y="0" width="20.30" height="215.7" fill="url(#gE14)"/>
<rect x="255.75" y="0" width="20.30" height="215.7" fill="url(#gE15)"/>
<rect x="275.45" y="0" width="20.30" height="215.7" fill="url(#gE16)"/>
<rect x="295.15" y="0" width="20.30" height="215.7" fill="url(#gE17)"/>
<rect x="314.84" y="0" width="20.30" height="215.7" fill="url(#gE18)"/>
<rect x="334.54" y="0" width="20.30" height="215.7" fill="url(#gE19)"/>
<rect x="354.24" y="0" width="20.30" height="215.7" fill="url(#gE20)"/>
<rect x="373.93" y="0" width="20.30" height="215.7" fill="url(#gE21)"/>
<rect x="393.63" y="0" width="20.30" height="215.7" fill="url(#gE22)"/>
<rect x="413.33" y="0" width="20.30" height="215.7" fill="url(#gE23)"/>
<rect x="433.02" y="0" width="20.30" height="215.7" fill="url(#gE24)"/>
<rect x="452.72" y="0" width="20.30" height="215.7" fill="url(#gE25)"/>
<rect x="472.41" y="0" width="20.30" height="215.7" fill="url(#gE26)"/>
<rect x="492.11" y="0" width="20.30" height="215.7" fill="url(#gE27)"/>
<rect x="511.81" y="0" width="20.30" height="215.7" fill="url(#gE28)"/>
<rect x="531.50" y="0" width="20.30" height="215.7" fill="url(#gE29)"/>
<rect x="551.20" y="0" width="20.30" height="215.7" fill="url(#gE30)"/>
<rect x="570.90" y="0" width="20.30" height="215.7" fill="url(#gE31)"/>
</g>
<g fill="none" stroke="#2e2e2e" stroke-width="0.75">
<path d="M84.2,45.3C87.0,43.5 94.0,37.9 101.0,34.7C108.0,31.5 116.8,28.2 126.3,26.3C135.8,24.4 149.1,24.6 157.9,23.2C166.7,21.8 171.9,19.8 178.9,17.9C185.9,16.0 193.3,13.5 200.0,11.6C206.7,9.7 212.9,7.5 218.9,6.3C224.9,5.1 229.5,4.2 235.8,4.6C242.1,4.9 250.0,6.5 256.8,8.4C263.6,10.3 271.0,14.0 276.8,15.8C282.6,17.6 286.3,19.4 291.6,19.4C296.9,19.4 302.1,17.6 308.4,15.8C314.7,14.0 322.5,10.2 329.5,8.8C336.5,7.4 343.8,6.8 350.5,7.4C357.2,8.0 363.5,11.3 369.5,12.6C375.5,13.9 380.7,15.2 386.3,15.2C391.9,15.2 399.0,13.9 403.2,12.6C407.4,11.3 409.5,9.3 411.6,7.4C413.7,5.5 415.1,2.1 415.8,1.0"/>
<path d="M64.2,78.9C64.0,80.8 62.5,85.8 63.2,90.5C63.9,95.2 65.6,101.8 68.4,107.4C71.2,113.0 76.0,119.0 80.0,124.2C84.0,129.4 88.4,133.8 92.6,138.9C96.8,144.0 103.2,152.1 105.3,154.7"/>
<path d="M117.9,143.2C115.8,140.0 108.6,131.2 105.3,124.2C102.0,117.2 99.3,108.4 97.9,101.0C96.5,93.6 95.9,86.7 96.8,80.0C97.7,73.3 99.7,66.6 103.2,61.0C106.7,55.4 111.2,50.1 117.9,46.3C124.6,42.4 134.1,39.8 143.2,37.9C152.3,36.0 162.8,35.9 172.6,34.7C182.4,33.5 197.2,31.2 202.1,30.5"/>
<path d="M234.7,25.7C238.4,26.1 249.8,27.1 256.8,28.4C263.8,29.7 270.3,32.7 276.8,33.7C283.3,34.8 289.1,35.1 295.8,34.7C302.5,34.4 309.4,32.1 316.8,31.6C324.2,31.1 331.9,30.7 340.0,31.6C348.1,32.5 355.8,34.5 365.3,36.8C374.8,39.1 386.3,42.7 396.8,45.3C407.3,47.9 417.9,50.1 428.4,52.6C438.9,55.1 449.5,57.5 460.0,60.0C470.5,62.5 481.1,65.1 491.6,67.4C502.1,69.7 513.2,72.0 523.2,73.7C533.2,75.5 546.8,77.2 551.5,77.9"/>
<path d="M128.4,131.6C127.0,128.3 121.9,118.4 120.0,111.6C118.1,104.8 116.6,97.2 116.8,90.5C117.0,83.8 118.0,77.2 121.0,71.6C124.0,66.0 128.9,60.5 134.7,56.8C140.5,53.1 147.4,51.0 155.8,49.5C164.2,48.0 175.5,48.7 185.3,48.0C195.1,47.3 205.2,46.5 214.7,45.3C224.2,44.1 232.3,41.7 242.1,41.0C251.9,40.3 263.7,40.8 273.7,41.0C283.7,41.2 293.9,41.9 302.1,42.1C310.4,42.3 316.2,41.4 323.2,42.1C330.2,42.8 336.5,44.0 344.2,46.3C351.9,48.6 360.7,52.3 369.5,55.8C378.3,59.3 387.0,63.6 396.8,67.4C406.6,71.2 417.9,75.1 428.4,78.9C438.9,82.8 449.5,87.0 460.0,90.5C470.5,94.0 482.8,97.4 491.6,100.0C500.4,102.6 506.3,104.5 512.6,106.3C518.9,108.0 526.7,109.8 529.5,110.5"/>
<path d="M145.3,114.7C144.6,112.4 141.7,105.4 141.0,101.0C140.3,96.6 140.3,92.1 141.0,88.4C141.7,84.7 144.6,80.5 145.3,78.9"/>
<path d="M172.6,74.7C174.4,75.4 179.7,78.0 183.2,78.9C186.7,79.9 189.5,81.3 193.7,80.4C197.9,79.5 202.8,76.9 208.4,73.7C214.0,70.5 220.7,64.3 227.4,61.0C234.1,57.7 240.7,55.5 248.4,53.7C256.1,52.0 264.8,51.5 273.7,50.5C282.6,49.5 293.9,47.6 302.1,47.4C310.4,47.2 316.2,48.1 323.2,49.5C330.2,50.9 337.2,53.2 344.2,55.8C351.2,58.4 357.6,61.6 365.3,65.3C373.0,69.0 381.7,73.7 390.5,77.9C399.3,82.1 408.8,86.3 417.9,90.5C427.0,94.7 436.5,99.2 445.3,103.2C454.1,107.2 462.1,111.0 470.5,114.7C478.9,118.4 488.1,122.3 495.8,125.3C503.5,128.3 511.7,130.8 516.8,132.6C521.9,134.3 524.7,135.3 526.3,135.8"/>
<path d="M163.2,138.9C165.1,142.1 171.0,150.9 174.7,157.9C178.4,164.9 182.7,174.0 185.3,181.0C187.9,188.0 189.3,195.1 190.5,200.0C191.7,204.9 192.2,208.8 192.6,210.5"/>
<path d="M167.4,143.2C169.5,146.0 176.2,153.7 180.0,160.0C183.8,166.3 187.7,174.3 190.5,181.0C193.3,187.7 195.4,195.0 196.8,200.0C198.2,205.0 198.6,209.3 198.9,211.2"/>
<path d="M216.8,212.6C215.9,208.8 212.9,198.3 211.6,189.5C210.3,180.7 209.2,168.8 209.0,160.0C208.8,151.2 209.2,144.9 210.5,136.8C211.8,128.7 213.6,119.7 216.8,111.6C220.0,103.5 224.6,95.1 229.5,88.4C234.4,81.7 240.0,76.2 246.3,71.6C252.6,67.0 261.6,64.2 267.4,61.0C273.2,57.8 275.2,54.0 281.0,52.6C286.8,51.2 295.4,51.9 302.1,52.6C308.8,53.3 314.7,54.3 321.0,56.8C327.3,59.3 334.4,63.2 340.0,67.4C345.6,71.6 349.8,77.2 354.7,82.1C359.6,87.0 364.2,92.6 369.5,96.8C374.8,101.0 380.0,104.1 386.3,107.4C392.6,110.7 400.4,113.7 407.4,116.8C414.4,119.9 424.9,124.7 428.4,126.3"/>
<path d="M464.2,144.2 L480.0,150.5"/>
<path d="M240.0,212.6 L234.7,193.7"/>
<path d="M228.4,157.9C228.8,154.4 229.1,144.2 230.5,136.8C231.9,129.4 233.8,121.1 236.8,113.7C239.8,106.3 244.0,98.6 248.4,92.6C252.8,86.6 258.5,83.2 263.2,77.9C267.9,72.6 271.4,64.3 276.8,61.0C282.2,57.7 289.5,57.5 295.8,57.9C302.1,58.3 308.7,59.9 314.7,63.2C320.7,66.5 326.7,72.0 331.6,77.9C336.5,83.9 341.1,91.9 344.2,98.9C347.3,105.9 349.3,113.0 350.5,120.0C351.7,127.0 352.1,134.0 351.6,141.0C351.1,148.0 349.3,155.1 347.4,162.1C345.5,169.1 341.9,177.1 340.0,183.2C338.1,189.3 336.5,196.3 335.8,198.9"/>
<path d="M261.0,174.7C259.9,172.2 256.2,165.6 254.7,160.0C253.2,154.4 252.2,147.7 252.2,141.0C252.2,134.3 252.9,126.7 254.7,120.0C256.5,113.3 260.0,106.3 263.2,101.0C266.4,95.7 270.9,91.4 273.7,88.4C276.5,85.4 278.9,84.1 280.0,83.2"/>
<path d="M304.2,80.0C305.9,82.1 311.7,87.7 314.7,92.6C317.7,97.5 320.5,103.9 322.1,109.5C323.7,115.1 324.6,120.3 324.2,126.3C323.8,132.3 321.8,140.2 320.0,145.3C318.2,150.4 314.8,154.9 313.7,156.8"/>
</g>
<g font-family='"Liberation Sans", sans-serif' font-size="12.3" font-weight="bold" fill="#111" text-anchor="middle">
<text transform="translate(70.1,61.0) rotate(-55)" y="4.3">0.05</text>
<text transform="translate(218.3,26.7) rotate(-5)" y="4.3">0.1</text>
<text transform="translate(157.9,72.6) rotate(-3)" y="4.3">0.2</text>
<text transform="translate(230.5,175.8) rotate(75)" y="4.3">0.3</text>
<text transform="translate(292.5,77.5) rotate(-3)" y="4.3">0.35</text>
<text transform="translate(543.5,112.0) rotate(15)" y="4.3" font-style="italic">0.15</text>
<text transform="translate(448.0,135.8) rotate(22)" y="4.3" font-style="italic">0.25</text>
</g>
<polygon points="0.0,212.8 9.9,212.8 78.8,180.2 155.6,108.0 185.7,209.2 241.1,215.7 294.0,108.0 331.1,199.8 388.8,188.6 488.3,148.6 539.5,129.6 551.5,129.6 551.5,216.2 0.0,216.2" fill="#363636"/>
<g fill="#3a3a3a">
<circle cx="78.8" cy="11.5" r="1.9"/>
<circle cx="78.8" cy="162.5" r="1.9"/>
<circle cx="155.6" cy="11.5" r="1.9"/>
<circle cx="155.6" cy="90.6" r="1.9"/>
<circle cx="294.0" cy="11.5" r="1.9"/>
<circle cx="294.0" cy="25.9" r="1.9"/>
<circle cx="294.0" cy="90.6" r="1.9"/>
<circle cx="388.8" cy="11.5" r="1.9"/>
<circle cx="388.8" cy="162.5" r="1.9"/>
<circle cx="488.3" cy="11.5" r="1.9"/>
</g>
</g>
</g>
<rect x="82.30" y="1286.00" width="550.30" height="215.40" fill="none" stroke="#3a3a3a" stroke-width="1.2"/>
<path d="M77.50,1286.00h4.8M79.50,1321.90h2.8M77.50,1357.80h4.8M79.50,1393.70h2.8M77.50,1429.60h4.8M79.50,1465.50h2.8M77.50,1501.40h4.8M118.30,1501.40v4.8M169.73,1501.40v2.8M221.16,1501.40v4.8M272.59,1501.40v2.8M324.02,1501.40v4.8M375.45,1501.40v2.8M426.88,1501.40v4.8M478.31,1501.40v2.8M529.74,1501.40v4.8M581.17,1501.40v2.8M632.60,1501.40v4.8" stroke="#3a3a3a" stroke-width="1.1" fill="none"/>
<g font-family='"Liberation Sans", sans-serif' font-size="17.7" font-weight="bold" fill="#000">
<text x="72.6" y="1292.4" text-anchor="end">0</text>
<text x="72.6" y="1364.2" text-anchor="end">20</text>
<text x="72.6" y="1436.0" text-anchor="end">40</text>
<text x="72.6" y="1507.8" text-anchor="end">60</text>
<text x="118.3" y="1527.2" text-anchor="middle">27°N</text>
<text x="221.2" y="1527.2" text-anchor="middle">28°N</text>
<text x="324.0" y="1527.2" text-anchor="middle">29°N</text>
<text x="426.9" y="1527.2" text-anchor="middle">30°N</text>
<text x="529.7" y="1527.2" text-anchor="middle">31°N</text>
<text x="632.6" y="1527.2" text-anchor="middle">32°N</text>
</g>
<text transform="translate(36.2,1393.2) rotate(-90)" text-anchor="middle" font-family='"Liberation Sans", sans-serif' font-size="23.2">Depth (m)</text>
<path d="M646.20,1286.30 L655.95,1283.00 L665.70,1286.30 L665.70,1501.20 L655.95,1504.60 L646.20,1501.20 Z" fill="url(#cbg)" stroke="#000" stroke-opacity="0.32" stroke-width="0.9"/>
<g font-family='"Liberation Sans", sans-serif' font-size="16.8" font-weight="bold" fill="#000">
<text x="670.9" y="1292.0">1</text>
<text x="670.9" y="1335.1">0.8</text>
<text x="670.9" y="1378.2">0.6</text>
<text x="670.9" y="1421.3">0.4</text>
<text x="670.9" y="1464.4">0.2</text>
<text x="670.9" y="1507.4">0</text>
</g>
<path d="M646.20,1286.00h4.2M665.70,1286.00h-4.2M646.20,1329.08h4.2M665.70,1329.08h-4.2M646.20,1372.16h4.2M665.70,1372.16h-4.2M646.20,1415.24h4.2M665.70,1415.24h-4.2M646.20,1458.32h4.2M665.70,1458.32h-4.2M646.20,1501.40h4.2M665.70,1501.40h-4.2" stroke="#151515" stroke-width="1.25" fill="none"/>
<text transform="translate(646.6,1495.8) rotate(-90)" font-family='"Liberation Sans", sans-serif' font-size="10.35" font-weight="bold" fill="#111">Ocean Data View</text>
<text x="632.8" y="1271.5" text-anchor="end" font-family='"Liberation Sans", sans-serif' font-size="23.1" fill="#000">DIP (μmol L<tspan dy="-8.5" font-size="14.5">-1</tspan><tspan dy="8.5">)</tspan></text>
<text x="-0.3" y="1272.4" font-family='"Liberation Sans", sans-serif' font-size="31" font-weight="bold" fill="#000">E</text>
<!-- panel F -->
<g transform="translate(82.30,1592.00) scale(0.99782,0.99861)">
<g clip-path="url(#clipP)">
<g filter="url(#fld)">
<rect x="-39.69" y="0" width="20.30" height="215.7" fill="url(#gF0)"/>
<rect x="-20.00" y="0" width="20.30" height="215.7" fill="url(#gF1)"/>
<rect x="-0.30" y="0" width="20.30" height="215.7" fill="url(#gF2)"/>
<rect x="19.40" y="0" width="20.30" height="215.7" fill="url(#gF3)"/>
<rect x="39.09" y="0" width="20.30" height="215.7" fill="url(#gF4)"/>
<rect x="58.79" y="0" width="20.30" height="215.7" fill="url(#gF5)"/>
<rect x="78.49" y="0" width="20.30" height="215.7" fill="url(#gF6)"/>
<rect x="98.18" y="0" width="20.30" height="215.7" fill="url(#gF7)"/>
<rect x="117.88" y="0" width="20.30" height="215.7" fill="url(#gF8)"/>
<rect x="137.57" y="0" width="20.30" height="215.7" fill="url(#gF9)"/>
<rect x="157.27" y="0" width="20.30" height="215.7" fill="url(#gF10)"/>
<rect x="176.97" y="0" width="20.30" height="215.7" fill="url(#gF11)"/>
<rect x="196.66" y="0" width="20.30" height="215.7" fill="url(#gF12)"/>
<rect x="216.36" y="0" width="20.30" height="215.7" fill="url(#gF13)"/>
<rect x="236.06" y="0" width="20.30" height="215.7" fill="url(#gF14)"/>
<rect x="255.75" y="0" width="20.30" height="215.7" fill="url(#gF15)"/>
<rect x="275.45" y="0" width="20.30" height="215.7" fill="url(#gF16)"/>
<rect x="295.15" y="0" width="20.30" height="215.7" fill="url(#gF17)"/>
<rect x="314.84" y="0" width="20.30" height="215.7" fill="url(#gF18)"/>
<rect x="334.54" y="0" width="20.30" height="215.7" fill="url(#gF19)"/>
<rect x="354.24" y="0" width="20.30" height="215.7" fill="url(#gF20)"/>
<rect x="373.93" y="0" width="20.30" height="215.7" fill="url(#gF21)"/>
<rect x="393.63" y="0" width="20.30" height="215.7" fill="url(#gF22)"/>
<rect x="413.33" y="0" width="20.30" height="215.7" fill="url(#gF23)"/>
<rect x="433.02" y="0" width="20.30" height="215.7" fill="url(#gF24)"/>
<rect x="452.72" y="0" width="20.30" height="215.7" fill="url(#gF25)"/>
<rect x="472.41" y="0" width="20.30" height="215.7" fill="url(#gF26)"/>
<rect x="492.11" y="0" width="20.30" height="215.7" fill="url(#gF27)"/>
<rect x="511.81" y="0" width="20.30" height="215.7" fill="url(#gF28)"/>
<rect x="531.50" y="0" width="20.30" height="215.7" fill="url(#gF29)"/>
<rect x="551.20" y="0" width="20.30" height="215.7" fill="url(#gF30)"/>
<rect x="570.90" y="0" width="20.30" height="215.7" fill="url(#gF31)"/>
</g>
<g fill="none" stroke="#2e2e2e" stroke-width="0.75">
<path d="M1.0,157.9C3.3,157.0 10.6,154.2 14.7,152.6C18.8,151.0 23.5,149.1 25.3,148.4"/>
<path d="M41.0,141.5C44.0,140.4 52.8,137.6 58.9,134.7C65.0,131.8 72.6,128.8 77.9,124.2C83.2,119.7 87.5,113.4 90.5,107.4C93.5,101.4 94.8,95.1 95.8,88.4C96.8,81.7 97.1,74.1 96.8,67.4C96.5,60.7 94.8,54.4 93.7,48.4C92.7,42.4 90.8,36.2 90.5,31.6C90.2,27.0 90.9,24.5 91.6,21.0C92.3,17.5 94.5,13.8 94.7,10.5C94.9,7.2 92.9,2.6 92.6,1.0"/>
<path d="M109.5,1.0C109.8,4.3 111.4,12.4 111.6,21.0C111.8,29.6 111.0,42.1 110.5,52.6C110.0,63.1 108.9,74.7 108.4,84.2C108.0,93.7 107.9,103.2 107.8,109.5C107.7,115.8 108.0,120.0 108.0,122.1"/>
<path d="M124.2,1.0C124.5,4.3 126.1,12.4 126.3,21.0C126.5,29.6 126.0,42.1 125.3,52.6C124.6,63.1 122.7,74.7 122.1,84.2C121.5,93.7 121.2,101.1 121.7,109.5C122.2,117.9 124.7,130.5 125.3,134.7"/>
<path d="M141.0,17.9C141.5,20.2 144.4,25.8 144.2,31.6C144.0,37.4 141.8,44.5 140.0,52.6C138.2,60.7 134.9,71.9 133.7,80.0C132.5,88.1 132.1,94.0 132.6,101.0C133.1,108.0 136.1,118.6 136.8,122.1"/>
<path d="M181.0,1.0C180.8,4.3 181.4,13.4 180.0,21.0C178.6,28.6 176.3,38.6 172.6,46.3C168.9,54.0 161.8,61.1 157.9,67.4C154.1,73.7 150.8,79.3 149.5,84.2C148.2,89.1 149.4,93.3 149.9,96.8C150.4,100.3 152.2,103.9 152.6,105.3"/>
<path d="M162.1,120.0C163.8,122.5 168.7,128.7 172.6,134.7C176.5,140.7 181.1,148.1 185.3,155.8C189.5,163.5 194.1,171.9 197.9,181.0C201.8,190.1 206.7,205.6 208.4,210.5"/>
<path d="M203.2,1.0C203.0,4.3 202.2,12.4 202.1,21.0C202.0,29.6 202.4,47.3 202.5,52.6"/>
<path d="M205.3,92.6C205.8,96.8 206.8,108.8 208.4,117.9C210.0,127.0 211.9,137.2 214.7,147.4C217.5,157.6 221.1,168.0 225.3,178.9C229.5,189.8 237.6,207.0 240.0,212.6"/>
<path d="M216.8,1.0C217.0,4.3 216.8,12.4 217.9,21.0C219.0,29.6 221.3,42.1 223.2,52.6C225.1,63.1 227.1,73.7 229.5,84.2C231.9,94.7 234.8,106.0 237.9,115.8C241.1,125.6 244.7,136.2 248.4,143.2C252.1,150.2 257.0,155.0 260.0,157.9C263.0,160.8 265.2,160.0 266.3,160.4"/>
<path d="M230.5,1.0C230.8,4.3 230.7,14.1 232.6,21.0C234.5,27.9 238.1,36.1 242.1,42.1C246.1,48.1 250.8,53.5 256.8,56.8C262.8,60.1 270.3,61.4 277.9,62.1C285.4,62.8 294.6,61.2 302.1,61.0C309.7,60.8 316.2,62.0 323.2,61.0C330.2,60.0 337.9,57.9 344.2,54.7C350.5,51.6 356.6,46.0 361.0,42.1C365.4,38.2 368.9,33.4 370.5,31.6"/>
<path d="M391.6,9.5C390.7,8.8 388.6,6.7 386.3,5.3C384.0,3.9 379.3,1.7 377.9,1.0"/>
<path d="M252.6,1.0C252.8,2.6 252.3,7.2 253.7,10.5C255.1,13.8 257.7,18.0 261.0,21.0C264.3,24.0 270.0,26.8 273.7,28.4C277.4,30.0 281.6,30.1 283.2,30.5"/>
<path d="M305.3,29.5C307.6,28.6 314.9,26.5 318.9,24.2C322.9,21.9 327.0,18.6 329.5,15.8C332.0,13.0 333.2,9.9 333.7,7.4C334.2,4.9 332.8,2.1 332.6,1.0"/>
<path d="M308.4,145.3C310.9,142.8 317.2,136.5 323.2,130.5C329.2,124.5 337.2,116.5 344.2,109.5C351.2,102.5 358.3,95.8 365.3,88.4C372.3,81.0 380.4,73.0 386.3,65.3C392.2,57.6 397.1,49.5 401.0,42.1C404.9,34.7 407.7,26.6 409.5,21.0C411.3,15.4 411.8,11.7 411.6,8.4C411.4,5.1 408.9,2.2 408.4,1.0"/>
<path d="M329.5,197.9C330.9,194.7 334.4,185.2 337.9,178.9C341.4,172.6 345.9,165.9 350.5,160.0C355.1,154.1 360.7,147.4 365.3,143.2C369.9,139.0 375.8,136.1 377.9,134.7"/>
<path d="M407.4,115.8C409.1,114.0 415.1,110.6 417.9,105.3C420.7,100.0 422.8,91.2 424.2,84.2C425.6,77.2 426.1,72.0 426.3,63.2C426.5,54.4 425.7,42.0 425.3,31.6C424.9,21.2 424.4,6.1 424.2,1.0"/>
<path d="M438.9,1.0C438.9,2.9 438.2,7.5 438.9,12.6C439.6,17.7 440.7,24.9 443.2,31.6C445.7,38.3 449.1,45.6 453.7,52.6C458.2,59.6 464.2,67.0 470.5,73.7C476.8,80.4 484.6,87.3 491.6,92.6C498.6,97.9 505.6,102.0 512.6,105.3C519.6,108.6 530.2,111.4 533.7,112.6"/>
<path d="M462.1,1.0C460.9,2.4 455.2,6.5 454.7,9.5C454.2,12.5 456.8,16.6 458.9,18.9C461.0,21.2 466.0,22.5 467.4,23.2"/>
<path d="M493.7,24.2C495.6,23.1 502.9,20.3 505.3,17.9C507.7,15.4 508.9,12.3 508.0,9.5C507.1,6.7 501.3,2.4 500.0,1.0"/>
<path d="M551.5,6.3C548.2,7.0 535.1,9.5 531.6,10.5C528.1,11.5 527.2,11.0 530.5,12.2C533.8,13.4 548.0,16.9 551.5,17.9"/>
</g>
<g font-family='"Liberation Sans", sans-serif' font-size="12.3" font-weight="bold" fill="#111" text-anchor="middle">
<text transform="translate(32.6,144.8) rotate(-15)" y="4.3">5</text>
<text transform="translate(108.4,137.9) rotate(85)" y="4.3">7.5</text>
<text transform="translate(139.0,5.0) rotate(75)" y="4.3">12.5</text>
<text transform="translate(155.4,110.5) rotate(50)" y="4.3">15</text>
<text transform="translate(204.2,73.7) rotate(85)" y="4.3">17.5</text>
<text transform="translate(291.6,32.6) rotate(0)" y="4.3">25</text>
<text transform="translate(384.6,18.9) rotate(-40)" y="4.3">22.5</text>
<text transform="translate(393.0,125.3) rotate(-30)" y="4.3">17.5</text>
<text transform="translate(547.0,115.8) rotate(15)" y="4.3" font-style="italic">15</text>
<text transform="translate(480.0,27.8) rotate(5)" y="4.3">12.5</text>
<text transform="translate(548.0,3.5) rotate(15)" y="4.3" font-style="italic">15</text>
</g>
<polygon points="0.0,212.8 9.9,212.8 78.8,180.2 155.6,108.0 185.7,209.2 241.1,215.7 294.0,108.0 331.1,199.8 388.8,188.6 488.3,148.6 539.5,129.6 551.5,129.6 551.5,216.2 0.0,216.2" fill="#363636"/>
<g fill="#3a3a3a">
<circle cx="78.8" cy="11.5" r="1.9"/>
<circle cx="78.8" cy="72.6" r="1.9"/>
<circle cx="78.8" cy="162.5" r="1.9"/>
<circle cx="155.6" cy="11.5" r="1.9"/>
<circle cx="155.6" cy="90.6" r="1.9"/>
<circle cx="294.0" cy="11.5" r="1.9"/>
<circle cx="294.0" cy="25.9" r="1.9"/>
<circle cx="294.0" cy="90.6" r="1.9"/>
<circle cx="388.8" cy="162.5" r="1.9"/>
<circle cx="488.3" cy="11.5" r="1.9"/>
<circle cx="539.3" cy="11.5" r="1.9"/>
</g>
</g>
</g>
<rect x="82.30" y="1592.00" width="550.30" height="215.40" fill="none" stroke="#3a3a3a" stroke-width="1.2"/>
<path d="M77.50,1592.00h4.8M79.50,1627.90h2.8M77.50,1663.80h4.8M79.50,1699.70h2.8M77.50,1735.60h4.8M79.50,1771.50h2.8M77.50,1807.40h4.8M118.30,1807.40v4.8M169.73,1807.40v2.8M221.16,1807.40v4.8M272.59,1807.40v2.8M324.02,1807.40v4.8M375.45,1807.40v2.8M426.88,1807.40v4.8M478.31,1807.40v2.8M529.74,1807.40v4.8M581.17,1807.40v2.8M632.60,1807.40v4.8" stroke="#3a3a3a" stroke-width="1.1" fill="none"/>
<g font-family='"Liberation Sans", sans-serif' font-size="17.7" font-weight="bold" fill="#000">
<text x="72.6" y="1598.4" text-anchor="end">0</text>
<text x="72.6" y="1670.2" text-anchor="end">20</text>
<text x="72.6" y="1742.0" text-anchor="end">40</text>
<text x="72.6" y="1813.8" text-anchor="end">60</text>
<text x="118.3" y="1833.2" text-anchor="middle">27°N</text>
<text x="221.2" y="1833.2" text-anchor="middle">28°N</text>
<text x="324.0" y="1833.2" text-anchor="middle">29°N</text>
<text x="426.9" y="1833.2" text-anchor="middle">30°N</text>
<text x="529.7" y="1833.2" text-anchor="middle">31°N</text>
<text x="632.6" y="1833.2" text-anchor="middle">32°N</text>
</g>
<text transform="translate(36.2,1699.2) rotate(-90)" text-anchor="middle" font-family='"Liberation Sans", sans-serif' font-size="23.2">Depth (m)</text>
<path d="M646.20,1592.30 L655.95,1589.00 L665.70,1592.30 L665.70,1807.20 L655.95,1810.60 L646.20,1807.20 Z" fill="url(#cbg)" stroke="#000" stroke-opacity="0.32" stroke-width="0.9"/>
<g font-family='"Liberation Sans", sans-serif' font-size="16.8" font-weight="bold" fill="#000">
<text x="670.9" y="1617.6">25</text>
<text x="670.9" y="1656.8">20</text>
<text x="670.9" y="1696.0">15</text>
<text x="670.9" y="1735.1">10</text>
<text x="670.9" y="1774.3">5</text>
<text x="670.9" y="1813.4">0</text>
</g>
<path d="M646.20,1611.58h4.2M665.70,1611.58h-4.2M646.20,1650.75h4.2M665.70,1650.75h-4.2M646.20,1689.91h4.2M665.70,1689.91h-4.2M646.20,1729.07h4.2M665.70,1729.07h-4.2M646.20,1768.24h4.2M665.70,1768.24h-4.2M646.20,1807.40h4.2M665.70,1807.40h-4.2" stroke="#151515" stroke-width="1.25" fill="none"/>
<text transform="translate(646.6,1801.8) rotate(-90)" font-family='"Liberation Sans", sans-serif' font-size="10.35" font-weight="bold" fill="#111">Ocean Data View</text>
<text x="634.5" y="1578.1" text-anchor="end" font-family='"Liberation Sans", sans-serif' font-size="23.0" fill="#000">DSi (μmol L<tspan dy="-8.5" font-size="14.5">-1</tspan><tspan dy="8.5">)</tspan></text>
<text x="-0.3" y="1578.8" font-family='"Liberation Sans", sans-serif' font-size="31" font-weight="bold" fill="#000">F</text>
<!-- panel G -->
<g transform="translate(83.00,1887.00) scale(0.99220,0.99629)">
<g clip-path="url(#clipP)">
<g filter="url(#fld)">
<rect x="-39.69" y="0" width="20.30" height="215.7" fill="url(#gG0)"/>
<rect x="-20.00" y="0" width="20.30" height="215.7" fill="url(#gG1)"/>
<rect x="-0.30" y="0" width="20.30" height="215.7" fill="url(#gG2)"/>
<rect x="19.40" y="0" width="20.30" height="215.7" fill="url(#gG3)"/>
<rect x="39.09" y="0" width="20.30" height="215.7" fill="url(#gG4)"/>
<rect x="58.79" y="0" width="20.30" height="215.7" fill="url(#gG5)"/>
<rect x="78.49" y="0" width="20.30" height="215.7" fill="url(#gG6)"/>
<rect x="98.18" y="0" width="20.30" height="215.7" fill="url(#gG7)"/>
<rect x="117.88" y="0" width="20.30" height="215.7" fill="url(#gG8)"/>
<rect x="137.57" y="0" width="20.30" height="215.7" fill="url(#gG9)"/>
<rect x="157.27" y="0" width="20.30" height="215.7" fill="url(#gG10)"/>
<rect x="176.97" y="0" width="20.30" height="215.7" fill="url(#gG11)"/>
<rect x="196.66" y="0" width="20.30" height="215.7" fill="url(#gG12)"/>
<rect x="216.36" y="0" width="20.30" height="215.7" fill="url(#gG13)"/>
<rect x="236.06" y="0" width="20.30" height="215.7" fill="url(#gG14)"/>
<rect x="255.75" y="0" width="20.30" height="215.7" fill="url(#gG15)"/>
<rect x="275.45" y="0" width="20.30" height="215.7" fill="url(#gG16)"/>
<rect x="295.15" y="0" width="20.30" height="215.7" fill="url(#gG17)"/>
<rect x="314.84" y="0" width="20.30" height="215.7" fill="url(#gG18)"/>
<rect x="334.54" y="0" width="20.30" height="215.7" fill="url(#gG19)"/>
<rect x="354.24" y="0" width="20.30" height="215.7" fill="url(#gG20)"/>
<rect x="373.93" y="0" width="20.30" height="215.7" fill="url(#gG21)"/>
<rect x="393.63" y="0" width="20.30" height="215.7" fill="url(#gG22)"/>
<rect x="413.33" y="0" width="20.30" height="215.7" fill="url(#gG23)"/>
<rect x="433.02" y="0" width="20.30" height="215.7" fill="url(#gG24)"/>
<rect x="452.72" y="0" width="20.30" height="215.7" fill="url(#gG25)"/>
<rect x="472.41" y="0" width="20.30" height="215.7" fill="url(#gG26)"/>
<rect x="492.11" y="0" width="20.30" height="215.7" fill="url(#gG27)"/>
<rect x="511.81" y="0" width="20.30" height="215.7" fill="url(#gG28)"/>
<rect x="531.50" y="0" width="20.30" height="215.7" fill="url(#gG29)"/>
<rect x="551.20" y="0" width="20.30" height="215.7" fill="url(#gG30)"/>
<rect x="570.90" y="0" width="20.30" height="215.7" fill="url(#gG31)"/>
</g>
<g fill="none" stroke="#2e2e2e" stroke-width="0.75">
<path d="M113.5,1.0C114.0,2.2 114.4,6.0 116.7,8.5C119.0,11.0 125.5,14.6 127.3,15.8"/>
<path d="M150.7,18.0C152.5,16.9 159.4,13.7 161.3,11.6C163.2,9.5 162.9,7.1 162.4,5.3C161.9,3.5 158.8,1.7 158.1,1.0"/>
<path d="M209.0,1.0C209.5,3.6 211.8,10.7 212.2,16.9C212.6,23.1 210.8,30.6 211.2,38.0C211.5,45.4 212.4,53.5 214.3,61.3C216.2,69.0 218.9,77.8 222.8,84.5C226.7,91.2 232.8,97.6 237.7,101.4C242.6,105.2 247.6,107.4 252.5,107.4C257.4,107.4 262.8,104.5 267.4,101.4C272.0,98.3 276.0,92.1 280.1,88.8C284.2,85.5 287.7,81.4 291.8,81.4C295.9,81.4 300.2,85.5 304.5,88.8C308.8,92.1 312.7,98.2 317.3,101.4C321.9,104.6 326.5,106.9 332.1,107.8C337.8,108.7 344.5,108.1 351.2,106.7C357.9,105.3 365.4,102.7 372.5,99.3C379.6,95.9 387.3,91.0 393.7,86.6C400.1,82.2 407.9,75.2 410.7,72.9"/>
<path d="M421.3,45.4C420.6,43.8 420.2,39.4 417.0,35.9C413.8,32.4 407.5,27.6 402.2,24.3C396.9,21.0 389.8,18.4 385.2,15.8C380.6,13.2 376.6,11.0 374.6,8.5C372.7,6.0 373.7,2.2 373.5,1.0"/>
<path d="M291.8,1.0C295.0,2.4 304.5,6.2 310.9,9.5C317.3,12.8 324.7,17.4 330.0,21.1C335.3,24.8 340.1,28.3 342.7,31.7C345.3,35.0 345.4,39.6 345.9,41.2"/>
<path d="M336.4,56.6C333.9,57.4 328.6,60.5 321.5,61.3C314.4,62.1 301.5,61.1 293.9,61.3C286.3,61.5 282.4,62.1 275.9,62.3C269.4,62.5 260.4,64.2 254.7,62.3C249.0,60.4 244.6,55.8 241.9,50.7C239.2,45.6 238.1,38.0 238.8,31.7C239.5,25.4 243.0,17.8 246.2,12.7C249.4,7.6 255.9,3.0 257.9,1.0"/>
<path d="M291.8,47.5C293.9,46.8 301.0,45.2 304.5,43.3C308.0,41.4 311.4,38.7 313.0,35.9C314.6,33.1 315.2,29.2 314.1,26.4C313.1,23.6 310.4,20.9 306.7,19.0C303.0,17.1 297.1,15.7 291.8,15.2C286.5,14.7 279.2,14.6 274.8,15.8C270.4,17.0 268.0,19.6 265.3,22.2C262.6,24.8 259.2,28.5 258.9,31.7C258.5,34.9 261.2,39.0 263.2,41.2C265.1,43.4 269.4,44.2 270.6,44.8"/>
<path d="M301.4,26.4C301.0,27.3 301.1,30.4 299.2,31.7C297.2,33.0 292.7,34.2 289.7,34.2C286.7,34.2 283.0,32.9 281.2,31.7C279.4,30.5 278.6,28.4 279.1,27.0C279.6,25.6 283.5,23.8 284.4,23.2"/>
</g>
<g font-family='"Liberation Sans", sans-serif' font-size="10.8" font-weight="bold" fill="#111" text-anchor="middle">
<text transform="translate(139.0,20.0) rotate(-3)" y="4.3">2.5</text>
<text transform="translate(280.1,46.9) rotate(0)" y="4.3">7.5</text>
<text transform="translate(292.9,21.1) rotate(0)" y="4.3">10</text>
<text transform="translate(342.3,50.1) rotate(-60)" y="4.3">5</text>
<text transform="translate(418.5,60.2) rotate(-65)" y="4.3">2.5</text>
</g>
<polygon points="0.0,212.8 9.9,212.8 78.8,180.2 155.6,108.0 185.7,209.2 241.1,215.7 294.0,108.0 331.1,199.8 388.8,188.6 488.3,148.6 539.5,129.6 551.5,129.6 551.5,216.2 0.0,216.2" fill="#363636"/>
<g fill="#3a3a3a">
<circle cx="9.9" cy="11.5" r="1.9"/>
<circle cx="9.9" cy="72.6" r="1.9"/>
<circle cx="9.9" cy="194.8" r="1.9"/>
<circle cx="78.8" cy="11.5" r="1.9"/>
<circle cx="78.8" cy="72.6" r="1.9"/>
<circle cx="78.8" cy="162.5" r="1.9"/>
<circle cx="155.6" cy="11.5" r="1.9"/>
<circle cx="155.6" cy="90.6" r="1.9"/>
<circle cx="186.0" cy="11.5" r="1.9"/>
<circle cx="186.0" cy="22.3" r="1.9"/>
<circle cx="186.0" cy="184.0" r="1.9"/>
<circle cx="241.1" cy="11.5" r="1.9"/>
<circle cx="241.1" cy="191.2" r="1.9"/>
<circle cx="294.0" cy="11.5" r="1.9"/>
<circle cx="294.0" cy="25.9" r="1.9"/>
<circle cx="294.0" cy="90.6" r="1.9"/>
<circle cx="331.1" cy="11.5" r="1.9"/>
<circle cx="331.1" cy="36.6" r="1.9"/>
<circle cx="331.1" cy="180.4" r="1.9"/>
<circle cx="388.8" cy="11.5" r="1.9"/>
<circle cx="388.8" cy="162.5" r="1.9"/>
<circle cx="488.3" cy="11.5" r="1.9"/>
<circle cx="539.3" cy="11.5" r="1.9"/>
</g>
</g>
</g>
<rect x="83.00" y="1887.00" width="547.20" height="214.90" fill="none" stroke="#3a3a3a" stroke-width="1.2"/>
<path d="M78.20,1887.00h4.8M80.20,1922.82h2.8M78.20,1958.63h4.8M80.20,1994.45h2.8M78.20,2030.27h4.8M80.20,2066.08h2.8M78.20,2101.90h4.8M118.80,2101.90v4.8M169.94,2101.90v2.8M221.08,2101.90v4.8M272.22,2101.90v2.8M323.36,2101.90v4.8M374.50,2101.90v2.8M425.64,2101.90v4.8M476.78,2101.90v2.8M527.92,2101.90v4.8M579.06,2101.90v2.8M630.20,2101.90v4.8" stroke="#3a3a3a" stroke-width="1.1" fill="none"/>
<g font-family='"Liberation Sans", sans-serif' font-size="14.8" font-weight="bold" fill="#000">
<text x="72.7" y="1892.3" text-anchor="end">0</text>
<text x="72.7" y="1964.0" text-anchor="end">20</text>
<text x="72.7" y="2035.6" text-anchor="end">40</text>
<text x="72.7" y="2107.2" text-anchor="end">60</text>
<text x="118.8" y="2125.1" text-anchor="middle">27°N</text>
<text x="221.1" y="2125.1" text-anchor="middle">28°N</text>
<text x="323.4" y="2125.1" text-anchor="middle">29°N</text>
<text x="425.6" y="2125.1" text-anchor="middle">30°N</text>
<text x="527.9" y="2125.1" text-anchor="middle">31°N</text>
<text x="630.2" y="2125.1" text-anchor="middle">32°N</text>
</g>
<text transform="translate(49.0,1994.0) rotate(-90)" text-anchor="middle" font-family='"Liberation Sans", sans-serif' font-size="21.8">Depth (m)</text>
<path d="M643.60,1887.30 L653.10,1884.00 L662.60,1887.30 L662.60,2101.70 L653.10,2105.10 L643.60,2101.70 Z" fill="url(#cbg)" stroke="#000" stroke-opacity="0.32" stroke-width="0.9"/>
<g font-family='"Liberation Sans", sans-serif' font-size="14.8" font-weight="bold" fill="#000">
<text x="667.8" y="1908.9">30</text>
<text x="667.8" y="1941.9">25</text>
<text x="667.8" y="1975.0">20</text>
<text x="667.8" y="2008.0">15</text>
<text x="667.8" y="2041.1">10</text>
<text x="667.8" y="2074.2">5</text>
<text x="667.8" y="2107.2">0</text>
</g>
<path d="M643.60,1903.53h4.2M662.60,1903.53h-4.2M643.60,1936.59h4.2M662.60,1936.59h-4.2M643.60,1969.65h4.2M662.60,1969.65h-4.2M643.60,2002.72h4.2M662.60,2002.72h-4.2M643.60,2035.78h4.2M662.60,2035.78h-4.2M643.60,2068.84h4.2M662.60,2068.84h-4.2M643.60,2101.90h4.2M662.60,2101.90h-4.2" stroke="#151515" stroke-width="1.25" fill="none"/>
<text transform="translate(642.4,2099.5) rotate(-90)" font-family='"Liberation Sans", sans-serif' font-size="10.35" font-weight="bold" fill="#111">Ocean Data View</text>
<text x="629.5" y="1877.7" text-anchor="end" font-family='"Liberation Sans", sans-serif' font-size="22.1" fill="#000">Chl <tspan font-style="italic">a</tspan> (μg L<tspan dy="-8.5" font-size="14.5">-1</tspan><tspan dy="8.5">)</tspan></text>
<text x="-0.2" y="1873.0" font-family='"Liberation Sans", sans-serif' font-size="31" font-weight="bold" fill="#000">G</text>
<!-- panel H -->
<g transform="translate(792.70,61.40) scale(1.00000,1.00000)">
<g clip-path="url(#clipP)">
<g filter="url(#fld)">
<rect x="-39.69" y="0" width="20.30" height="215.7" fill="url(#gH0)"/>
<rect x="-20.00" y="0" width="20.30" height="215.7" fill="url(#gH1)"/>
<rect x="-0.30" y="0" width="20.30" height="215.7" fill="url(#gH2)"/>
<rect x="19.40" y="0" width="20.30" height="215.7" fill="url(#gH3)"/>
<rect x="39.09" y="0" width="20.30" height="215.7" fill="url(#gH4)"/>
<rect x="58.79" y="0" width="20.30" height="215.7" fill="url(#gH5)"/>
<rect x="78.49" y="0" width="20.30" height="215.7" fill="url(#gH6)"/>
<rect x="98.18" y="0" width="20.30" height="215.7" fill="url(#gH7)"/>
<rect x="117.88" y="0" width="20.30" height="215.7" fill="url(#gH8)"/>
<rect x="137.57" y="0" width="20.30" height="215.7" fill="url(#gH9)"/>
<rect x="157.27" y="0" width="20.30" height="215.7" fill="url(#gH10)"/>
<rect x="176.97" y="0" width="20.30" height="215.7" fill="url(#gH11)"/>
<rect x="196.66" y="0" width="20.30" height="215.7" fill="url(#gH12)"/>
<rect x="216.36" y="0" width="20.30" height="215.7" fill="url(#gH13)"/>
<rect x="236.06" y="0" width="20.30" height="215.7" fill="url(#gH14)"/>
<rect x="255.75" y="0" width="20.30" height="215.7" fill="url(#gH15)"/>
<rect x="275.45" y="0" width="20.30" height="215.7" fill="url(#gH16)"/>
<rect x="295.15" y="0" width="20.30" height="215.7" fill="url(#gH17)"/>
<rect x="314.84" y="0" width="20.30" height="215.7" fill="url(#gH18)"/>
<rect x="334.54" y="0" width="20.30" height="215.7" fill="url(#gH19)"/>
<rect x="354.24" y="0" width="20.30" height="215.7" fill="url(#gH20)"/>
<rect x="373.93" y="0" width="20.30" height="215.7" fill="url(#gH21)"/>
<rect x="393.63" y="0" width="20.30" height="215.7" fill="url(#gH22)"/>
<rect x="413.33" y="0" width="20.30" height="215.7" fill="url(#gH23)"/>
<rect x="433.02" y="0" width="20.30" height="215.7" fill="url(#gH24)"/>
<rect x="452.72" y="0" width="20.30" height="215.7" fill="url(#gH25)"/>
<rect x="472.41" y="0" width="20.30" height="215.7" fill="url(#gH26)"/>
<rect x="492.11" y="0" width="20.30" height="215.7" fill="url(#gH27)"/>
<rect x="511.81" y="0" width="20.30" height="215.7" fill="url(#gH28)"/>
<rect x="531.50" y="0" width="20.30" height="215.7" fill="url(#gH29)"/>
<rect x="551.20" y="0" width="20.30" height="215.7" fill="url(#gH30)"/>
<rect x="570.90" y="0" width="20.30" height="215.7" fill="url(#gH31)"/>
</g>
<g fill="none" stroke="#2e2e2e" stroke-width="0.75">
<path d="M137.9,1.0C138.4,2.1 138.7,5.4 141.0,7.4C143.3,9.4 147.4,11.8 151.6,13.0C155.8,14.2 163.9,14.1 166.3,14.3"/>
<path d="M193.7,13.0C196.1,12.1 204.2,9.4 208.4,7.4C212.6,5.4 217.2,2.1 218.9,1.0"/>
<path d="M1.0,49.5C6.1,48.3 21.2,44.2 31.6,42.1C42.0,40.0 50.9,38.0 63.2,36.8C75.5,35.6 91.3,34.9 105.3,34.7C119.3,34.5 135.1,35.3 147.4,35.8C159.7,36.3 169.1,36.8 178.9,37.9C188.7,39.0 198.2,40.4 206.3,42.1C214.4,43.9 221.8,47.0 227.4,48.4C233.0,49.8 235.8,50.6 240.0,50.5C244.2,50.4 246.5,49.8 252.6,48.0C258.7,46.2 269.6,41.7 276.8,40.0C284.0,38.3 292.6,38.2 295.8,37.9"/>
<path d="M333.7,33.7C339.0,33.5 354.8,33.0 365.3,32.6C375.8,32.2 386.3,32.3 396.8,31.6C407.3,30.9 419.6,29.6 428.4,28.4C437.2,27.2 443.7,25.8 449.5,24.2C455.3,22.6 460.4,20.8 463.2,18.9C466.0,17.0 465.1,14.2 466.3,12.6C467.5,11.0 467.7,9.5 470.5,9.5C473.3,9.5 477.9,10.8 483.2,12.6C488.5,14.3 495.4,17.4 502.1,20.0C508.8,22.6 517.2,26.2 523.2,28.4C529.2,30.6 533.2,32.8 537.9,33.3C542.6,33.8 549.2,31.5 551.5,31.2"/>
<path d="M1.0,113.7C4.3,110.5 14.1,100.7 21.0,94.7C27.9,88.7 35.1,82.3 42.1,77.9C49.1,73.5 56.9,70.2 63.2,68.4C69.5,66.6 75.1,66.2 80.0,66.9C84.9,67.6 89.1,69.7 92.6,72.6C96.1,75.5 98.5,79.8 101.0,84.2C103.5,88.6 105.1,94.2 107.4,98.9C109.7,103.6 112.1,109.3 114.7,112.6C117.3,115.9 121.8,117.9 123.2,118.9"/>
<path d="M163.2,112.6C165.1,111.4 171.0,108.6 174.7,105.3C178.4,102.0 181.4,96.6 185.3,92.6C189.2,88.6 193.0,84.4 197.9,81.1C202.8,77.8 208.4,74.8 214.7,72.6C221.0,70.4 228.2,69.4 235.8,67.8C243.4,66.2 252.5,64.9 260.0,63.2C267.5,61.6 274.0,59.0 281.0,57.9C288.0,56.8 296.1,56.1 302.1,56.8C308.1,57.5 312.1,59.3 316.8,62.1C321.5,64.9 325.9,73.2 330.5,73.7C335.1,74.2 338.4,68.5 344.2,65.3C350.0,62.1 357.6,57.2 365.3,54.7C373.0,52.2 381.7,51.0 390.5,50.5C399.3,50.0 409.8,50.4 417.9,51.6C426.0,52.8 432.0,54.9 439.0,57.9C446.0,60.9 453.0,65.6 460.0,69.5C467.0,73.4 474.0,78.1 481.0,81.1C488.0,84.1 494.0,86.2 502.1,87.4C510.2,88.6 521.3,88.1 529.5,88.4C537.7,88.8 547.8,89.3 551.5,89.5"/>
<path d="M174.7,152.6C177.2,151.9 184.2,149.6 189.5,148.4C194.8,147.2 201.1,146.9 206.3,145.3C211.6,143.7 217.1,141.7 221.0,138.9C224.9,136.1 227.4,132.2 229.5,128.4C231.6,124.6 232.5,120.0 233.7,115.8C234.9,111.6 235.8,106.2 236.8,103.2C237.9,100.2 238.6,98.1 240.0,97.9C241.4,97.7 242.9,100.9 245.3,102.1C247.8,103.3 251.4,105.5 254.7,105.3C258.0,105.1 261.8,103.5 265.3,101.0C268.8,98.5 272.5,93.2 275.8,90.5C279.1,87.8 282.2,86.1 285.0,85.0C287.8,83.9 289.8,83.0 292.6,83.8C295.5,84.5 299.1,85.9 302.1,89.5C305.1,93.1 307.5,100.4 310.5,105.3C313.5,110.2 318.4,116.6 320.0,118.9"/>
<path d="M350.5,114.7C351.9,112.1 355.7,104.3 358.9,98.9C362.1,93.5 365.6,86.5 369.5,82.1C373.4,77.7 377.2,74.8 382.1,72.6C387.0,70.4 392.9,69.1 398.9,69.1C404.9,69.1 411.9,70.1 417.9,72.6C423.9,75.1 429.4,79.5 434.7,84.2C440.0,88.9 444.2,94.7 449.5,101.0C454.8,107.3 460.7,115.1 466.3,122.1C471.9,129.1 477.9,137.2 483.2,143.2C488.5,149.2 493.5,153.9 497.9,157.9C502.3,161.9 507.6,165.8 509.5,167.4"/>
<path d="M233.7,213.7C234.2,213.0 235.6,210.4 236.8,209.5C238.0,208.6 239.8,208.2 241.0,208.4C242.2,208.6 243.7,210.2 244.2,210.5"/>
<path d="M320.0,178.9C322.6,178.4 330.0,176.5 335.8,175.8C341.6,175.1 348.4,176.1 354.7,174.7C361.0,173.3 367.7,169.8 373.7,167.4C379.7,165.0 385.2,161.2 390.5,160.0C395.8,158.8 401.1,158.9 405.3,160.0C409.5,161.1 412.8,163.5 415.8,166.3C418.8,169.1 421.6,174.2 423.2,176.8C424.8,179.4 424.9,181.2 425.3,182.1"/>
</g>
<g font-family='"Liberation Sans", sans-serif' font-size="12.3" font-weight="bold" fill="#111" text-anchor="middle">
<text transform="translate(180.4,14.7) rotate(0)" y="4.3">30</text>
<text transform="translate(133.0,121.0) rotate(10)" y="4.3" font-style="italic">25</text>
<text transform="translate(315.8,35.8) rotate(-5)" y="4.3">27.5</text>
<text transform="translate(335.8,123.2) rotate(-12)" y="4.3">22.5</text>
<text transform="translate(426.3,193.3) rotate(80)" y="4.3">20</text>
</g>
<polygon points="0.0,214.5 9.1,214.5 78.6,176.5 155.4,95.9 184.9,193.1 239.6,215.7 293.2,112.8 330.3,206.1 387.5,198.1 464.4,215.7 538.7,135.3 551.5,135.3 551.5,216.2 0.0,216.2" fill="#363636"/>
<g fill="#3a3a3a">
<circle cx="9.1" cy="11.5" r="1.9"/>
<circle cx="78.6" cy="11.5" r="1.9"/>
<circle cx="78.6" cy="90.6" r="1.9"/>
<circle cx="155.4" cy="11.5" r="1.9"/>
<circle cx="155.4" cy="58.2" r="1.9"/>
<circle cx="155.4" cy="87.0" r="1.9"/>
<circle cx="184.9" cy="11.5" r="1.9"/>
<circle cx="184.9" cy="83.4" r="1.9"/>
<circle cx="184.9" cy="184.0" r="1.9"/>
<circle cx="239.6" cy="11.5" r="1.9"/>
<circle cx="239.6" cy="40.2" r="1.9"/>
<circle cx="239.6" cy="97.8" r="1.9"/>
<circle cx="239.6" cy="212.8" r="1.9"/>
<circle cx="293.2" cy="11.5" r="1.9"/>
<circle cx="293.2" cy="18.7" r="1.9"/>
<circle cx="293.2" cy="101.4" r="1.9"/>
<circle cx="330.3" cy="11.5" r="1.9"/>
<circle cx="330.3" cy="72.6" r="1.9"/>
<circle cx="330.3" cy="198.4" r="1.9"/>
<circle cx="387.5" cy="11.5" r="1.9"/>
<circle cx="387.5" cy="18.7" r="1.9"/>
<circle cx="387.5" cy="108.5" r="1.9"/>
<circle cx="387.5" cy="191.2" r="1.9"/>
<circle cx="464.4" cy="11.5" r="1.9"/>
<circle cx="464.4" cy="209.2" r="1.9"/>
<circle cx="538.7" cy="11.5" r="1.9"/>
<circle cx="538.7" cy="43.8" r="1.9"/>
<circle cx="538.7" cy="126.5" r="1.9"/>
</g>
</g>
</g>
<rect x="792.70" y="61.40" width="551.50" height="215.70" fill="none" stroke="#3a3a3a" stroke-width="1.2"/>
<path d="M787.90,61.40h4.8M789.90,97.35h2.8M787.90,133.30h4.8M789.90,169.25h2.8M787.90,205.20h4.8M789.90,241.15h2.8M787.90,277.10h4.8M828.78,277.10v4.8M880.32,277.10v2.8M931.86,277.10v4.8M983.41,277.10v2.8M1034.95,277.10v4.8M1086.49,277.10v2.8M1138.03,277.10v4.8M1189.57,277.10v2.8M1241.12,277.10v4.8M1292.66,277.10v2.8M1344.20,277.10v4.8" stroke="#3a3a3a" stroke-width="1.1" fill="none"/>
<g font-family='"Liberation Sans", sans-serif' font-size="17.7" font-weight="bold" fill="#000">
<text x="783.0" y="67.8" text-anchor="end">0</text>
<text x="783.0" y="139.7" text-anchor="end">20</text>
<text x="783.0" y="211.6" text-anchor="end">40</text>
<text x="783.0" y="283.5" text-anchor="end">60</text>
<text x="828.8" y="302.9" text-anchor="middle">27°N</text>
<text x="931.9" y="302.9" text-anchor="middle">28°N</text>
<text x="1034.9" y="302.9" text-anchor="middle">29°N</text>
<text x="1138.0" y="302.9" text-anchor="middle">30°N</text>
<text x="1241.1" y="302.9" text-anchor="middle">31°N</text>
<text x="1344.2" y="302.9" text-anchor="middle">32°N</text>
</g>
<text transform="translate(746.7,168.7) rotate(-90)" text-anchor="middle" font-family='"Liberation Sans", sans-serif' font-size="23.2">Depth (m)</text>
<path d="M1358.00,61.70 L1367.80,58.40 L1377.60,61.70 L1377.60,276.90 L1367.80,280.30 L1358.00,276.90 Z" fill="url(#cbg)" stroke="#000" stroke-opacity="0.32" stroke-width="0.9"/>
<g font-family='"Liberation Sans", sans-serif' font-size="16.8" font-weight="bold" fill="#000">
<text x="1382.8" y="84.0">30</text>
<text x="1382.8" y="125.5">27.5</text>
<text x="1382.8" y="167.0">25</text>
<text x="1382.8" y="208.5">22.5</text>
<text x="1382.8" y="250.0">20</text>
</g>
<path d="M1358.00,77.99h4.2M1377.60,77.99h-4.2M1358.00,119.47h4.2M1377.60,119.47h-4.2M1358.00,160.95h4.2M1377.60,160.95h-4.2M1358.00,202.43h4.2M1377.60,202.43h-4.2M1358.00,243.92h4.2M1377.60,243.92h-4.2" stroke="#151515" stroke-width="1.25" fill="none"/>
<text transform="translate(1358.4,271.5) rotate(-90)" font-family='"Liberation Sans", sans-serif' font-size="10.35" font-weight="bold" fill="#111">Ocean Data View</text>
<text x="1339.1" y="46.2" text-anchor="end" font-family='"Liberation Sans", sans-serif' font-size="23.1" fill="#000">Temperature (°C)</text>
<text x="717.3" y="63.2" font-family='"Liberation Sans", sans-serif' font-size="31" font-weight="bold" fill="#000">H</text>
<!-- panel I -->
<g transform="translate(792.70,367.40) scale(1.00000,1.00000)">
<g clip-path="url(#clipP)">
<g filter="url(#fld)">
<rect x="-39.69" y="0" width="20.30" height="215.7" fill="url(#gI0)"/>
<rect x="-20.00" y="0" width="20.30" height="215.7" fill="url(#gI1)"/>
<rect x="-0.30" y="0" width="20.30" height="215.7" fill="url(#gI2)"/>
<rect x="19.40" y="0" width="20.30" height="215.7" fill="url(#gI3)"/>
<rect x="39.09" y="0" width="20.30" height="215.7" fill="url(#gI4)"/>
<rect x="58.79" y="0" width="20.30" height="215.7" fill="url(#gI5)"/>
<rect x="78.49" y="0" width="20.30" height="215.7" fill="url(#gI6)"/>
<rect x="98.18" y="0" width="20.30" height="215.7" fill="url(#gI7)"/>
<rect x="117.88" y="0" width="20.30" height="215.7" fill="url(#gI8)"/>
<rect x="137.57" y="0" width="20.30" height="215.7" fill="url(#gI9)"/>
<rect x="157.27" y="0" width="20.30" height="215.7" fill="url(#gI10)"/>
<rect x="176.97" y="0" width="20.30" height="215.7" fill="url(#gI11)"/>
<rect x="196.66" y="0" width="20.30" height="215.7" fill="url(#gI12)"/>
<rect x="216.36" y="0" width="20.30" height="215.7" fill="url(#gI13)"/>
<rect x="236.06" y="0" width="20.30" height="215.7" fill="url(#gI14)"/>
<rect x="255.75" y="0" width="20.30" height="215.7" fill="url(#gI15)"/>
<rect x="275.45" y="0" width="20.30" height="215.7" fill="url(#gI16)"/>
<rect x="295.15" y="0" width="20.30" height="215.7" fill="url(#gI17)"/>
<rect x="314.84" y="0" width="20.30" height="215.7" fill="url(#gI18)"/>
<rect x="334.54" y="0" width="20.30" height="215.7" fill="url(#gI19)"/>
<rect x="354.24" y="0" width="20.30" height="215.7" fill="url(#gI20)"/>
<rect x="373.93" y="0" width="20.30" height="215.7" fill="url(#gI21)"/>
<rect x="393.63" y="0" width="20.30" height="215.7" fill="url(#gI22)"/>
<rect x="413.33" y="0" width="20.30" height="215.7" fill="url(#gI23)"/>
<rect x="433.02" y="0" width="20.30" height="215.7" fill="url(#gI24)"/>
<rect x="452.72" y="0" width="20.30" height="215.7" fill="url(#gI25)"/>
<rect x="472.41" y="0" width="20.30" height="215.7" fill="url(#gI26)"/>
<rect x="492.11" y="0" width="20.30" height="215.7" fill="url(#gI27)"/>
<rect x="511.81" y="0" width="20.30" height="215.7" fill="url(#gI28)"/>
<rect x="531.50" y="0" width="20.30" height="215.7" fill="url(#gI29)"/>
<rect x="551.20" y="0" width="20.30" height="215.7" fill="url(#gI30)"/>
<rect x="570.90" y="0" width="20.30" height="215.7" fill="url(#gI31)"/>
</g>
<g fill="none" stroke="#2e2e2e" stroke-width="0.75">
<path d="M1.0,73.7C4.3,72.0 14.1,66.4 21.0,63.2C27.9,60.0 35.1,56.7 42.1,54.7C49.1,52.7 56.9,51.4 63.2,51.2C69.5,51.0 74.8,51.9 80.0,53.7C85.2,55.5 90.5,58.4 94.7,62.1C98.9,65.8 102.7,70.4 105.3,75.8C107.9,81.2 108.9,87.7 110.5,94.7C112.1,101.7 113.3,111.4 114.7,117.9C116.1,124.4 118.2,131.1 118.9,133.7"/>
<path d="M168.4,134.7C170.2,133.8 175.4,130.7 178.9,129.5C182.4,128.3 185.3,127.1 189.5,127.4C193.7,127.8 198.9,129.5 204.2,131.6C209.4,133.7 215.4,137.4 221.0,140.0C226.6,142.6 233.0,145.5 237.9,147.4C242.8,149.3 248.4,150.6 250.5,151.2"/>
<path d="M137.9,1.0C137.9,2.2 136.7,5.9 137.9,8.4C139.1,10.9 142.0,14.1 145.3,15.8C148.6,17.6 153.7,18.5 157.9,18.9C162.1,19.2 167.2,18.8 170.5,17.9C173.8,17.0 176.3,15.0 177.9,13.7C179.5,12.4 178.8,10.8 180.0,10.1C181.2,9.4 184.8,9.1 185.3,9.5C185.8,9.9 183.9,11.4 183.2,12.6C182.5,13.8 180.7,15.2 181.0,16.8C181.3,18.4 182.5,19.3 185.3,22.1C188.1,24.9 193.7,30.0 197.9,33.7C202.1,37.4 206.3,40.9 210.5,44.2C214.7,47.5 218.6,51.2 223.2,53.7C227.8,56.2 232.3,57.5 237.9,58.9C243.5,60.3 250.8,61.5 256.8,62.1C262.8,62.7 270.9,62.6 273.7,62.7"/>
<path d="M298.9,58.9C301.2,58.3 307.9,56.0 312.6,55.2C317.4,54.4 322.1,53.5 327.4,54.3C332.7,55.1 338.6,58.0 344.2,60.0C349.8,62.0 354.7,64.9 361.0,66.3C367.3,67.7 375.1,67.5 382.1,68.4C389.1,69.3 396.2,70.0 403.2,71.6C410.2,73.2 417.2,75.5 424.2,77.9C431.2,80.4 438.6,83.7 445.3,86.3C452.0,88.9 457.5,91.9 464.2,93.7C470.9,95.5 478.3,97.3 485.3,97.3C492.3,97.3 499.3,95.5 506.3,93.7C513.3,91.9 519.9,88.0 527.4,86.3C534.9,84.5 547.5,83.7 551.5,83.2"/>
<path d="M217.9,1.0C218.1,2.6 217.7,7.2 218.9,10.5C220.1,13.8 221.8,17.7 225.3,21.0C228.8,24.3 234.4,27.9 240.0,30.5C245.6,33.1 252.8,35.2 258.9,36.8C265.0,38.4 270.6,39.3 276.8,40.0C283.0,40.7 288.8,41.2 295.8,41.0C302.8,40.8 311.9,38.9 318.9,38.9C325.9,38.9 331.9,39.6 337.9,41.0C343.9,42.4 348.7,45.5 354.7,47.4C360.7,49.3 366.7,51.2 373.7,52.6C380.7,54.0 389.1,54.8 396.8,55.8C404.5,56.8 413.7,58.1 420.0,58.9C426.3,59.7 432.2,60.1 434.7,60.4"/>
<path d="M458.9,60.6C461.2,59.8 467.9,58.3 472.6,55.8C477.4,53.2 482.5,48.8 487.4,45.3C492.3,41.8 496.9,37.9 502.1,34.7C507.4,31.5 512.9,28.3 518.9,26.3C524.9,24.3 532.5,23.5 537.9,22.7C543.3,21.9 549.2,21.9 551.5,21.7"/>
<path d="M264.2,1.0C264.9,2.9 265.6,9.1 268.4,12.6C271.2,16.1 275.4,20.0 281.0,22.1C286.6,24.2 295.4,25.5 302.1,25.3C308.8,25.1 316.1,21.5 321.0,21.0C325.9,20.5 327.0,20.3 331.6,22.1C336.2,23.9 343.1,29.3 348.4,31.6C353.7,33.9 360.7,35.1 363.2,35.8"/>
<path d="M385.3,43.2C389.0,43.6 399.5,45.1 407.4,45.3C415.3,45.5 424.9,45.1 432.6,44.2C440.3,43.3 446.7,42.1 453.7,40.0C460.7,37.9 468.7,34.8 474.7,31.6C480.7,28.4 485.6,24.7 489.5,21.0C493.4,17.3 496.0,12.8 497.9,9.5C499.8,6.2 500.5,2.4 501.0,1.0"/>
<path d="M364.2,1.0C363.7,2.9 360.8,8.9 361.0,12.6C361.2,16.3 362.1,20.2 365.3,23.2C368.5,26.2 374.4,28.8 380.0,30.5C385.6,32.2 392.6,33.3 398.9,33.3C405.2,33.3 412.4,32.2 417.9,30.5C423.3,28.8 428.6,26.2 431.6,23.2C434.6,20.2 435.1,14.4 435.8,12.6"/>
<path d="M331.6,11.6C331.6,12.1 331.2,12.7 330.7,13.1C330.1,13.4 329.2,13.7 328.4,13.7C327.6,13.7 326.7,13.4 326.1,13.1C325.6,12.7 325.2,12.1 325.2,11.6C325.2,11.1 325.6,10.5 326.1,10.1C326.7,9.8 327.6,9.5 328.4,9.5C329.2,9.5 330.1,9.8 330.7,10.1C331.2,10.5 331.6,11.1 331.6,11.6Z"/>
<path d="M307.4,148.4C310.0,147.7 317.1,145.9 323.2,144.2C329.3,142.4 337.2,140.5 344.2,137.9C351.2,135.3 359.3,131.7 365.3,128.4C371.3,125.1 376.7,120.2 380.0,117.9C383.3,115.6 383.8,115.2 385.0,114.5C386.2,113.8 386.6,113.7 387.4,113.7C388.2,113.7 388.8,113.8 390.0,114.5C391.2,115.2 391.1,115.2 394.7,117.9C398.3,120.6 405.3,126.1 411.6,130.5C417.9,134.9 425.6,139.8 432.6,144.2C439.6,148.6 447.4,153.1 453.7,156.8C460.0,160.5 465.2,163.0 470.5,166.3C475.8,169.6 481.3,174.0 485.3,176.8C489.3,179.6 493.1,182.1 494.7,183.2"/>
</g>
<g font-family='"Liberation Sans", sans-serif' font-size="12.3" font-weight="bold" fill="#111" text-anchor="middle">
<text transform="translate(261.0,152.6) rotate(10)" y="4.3" font-style="italic">34</text>
<text transform="translate(285.3,61.0) rotate(-3)" y="4.3">33</text>
<text transform="translate(372.6,40.4) rotate(15)" y="4.3" font-style="italic">31</text>
<text transform="translate(436.4,3.5) rotate(-80)" y="4.3">30</text>
<text transform="translate(446.3,61.5) rotate(0)" y="4.3">32</text>
</g>
<polygon points="0.0,214.5 9.1,214.5 78.6,176.5 155.4,95.9 184.9,193.1 239.6,215.7 293.2,112.8 330.3,206.1 387.5,198.1 464.4,215.7 538.7,135.3 551.5,135.3 551.5,216.2 0.0,216.2" fill="#363636"/>
<g fill="#3a3a3a">
<circle cx="9.1" cy="11.5" r="1.9"/>
<circle cx="78.6" cy="11.5" r="1.9"/>
<circle cx="78.6" cy="90.6" r="1.9"/>
<circle cx="155.4" cy="11.5" r="1.9"/>
<circle cx="155.4" cy="58.2" r="1.9"/>
<circle cx="155.4" cy="87.0" r="1.9"/>
<circle cx="184.9" cy="11.5" r="1.9"/>
<circle cx="184.9" cy="83.4" r="1.9"/>
<circle cx="184.9" cy="184.0" r="1.9"/>
<circle cx="239.6" cy="11.5" r="1.9"/>
<circle cx="239.6" cy="40.2" r="1.9"/>
<circle cx="239.6" cy="97.8" r="1.9"/>
<circle cx="239.6" cy="212.8" r="1.9"/>
<circle cx="293.2" cy="11.5" r="1.9"/>
<circle cx="293.2" cy="18.7" r="1.9"/>
<circle cx="293.2" cy="101.4" r="1.9"/>
<circle cx="330.3" cy="11.5" r="1.9"/>
<circle cx="330.3" cy="72.6" r="1.9"/>
<circle cx="330.3" cy="198.4" r="1.9"/>
<circle cx="387.5" cy="11.5" r="1.9"/>
<circle cx="387.5" cy="18.7" r="1.9"/>
<circle cx="387.5" cy="108.5" r="1.9"/>
<circle cx="387.5" cy="191.2" r="1.9"/>
<circle cx="464.4" cy="11.5" r="1.9"/>
<circle cx="464.4" cy="209.2" r="1.9"/>
<circle cx="538.7" cy="11.5" r="1.9"/>
<circle cx="538.7" cy="43.8" r="1.9"/>
<circle cx="538.7" cy="126.5" r="1.9"/>
</g>
</g>
</g>
<rect x="792.70" y="367.40" width="551.50" height="215.70" fill="none" stroke="#3a3a3a" stroke-width="1.2"/>
<path d="M787.90,367.40h4.8M789.90,403.35h2.8M787.90,439.30h4.8M789.90,475.25h2.8M787.90,511.20h4.8M789.90,547.15h2.8M787.90,583.10h4.8M828.78,583.10v4.8M880.32,583.10v2.8M931.86,583.10v4.8M983.41,583.10v2.8M1034.95,583.10v4.8M1086.49,583.10v2.8M1138.03,583.10v4.8M1189.57,583.10v2.8M1241.12,583.10v4.8M1292.66,583.10v2.8M1344.20,583.10v4.8" stroke="#3a3a3a" stroke-width="1.1" fill="none"/>
<g font-family='"Liberation Sans", sans-serif' font-size="17.7" font-weight="bold" fill="#000">
<text x="783.0" y="373.8" text-anchor="end">0</text>
<text x="783.0" y="445.7" text-anchor="end">20</text>
<text x="783.0" y="517.6" text-anchor="end">40</text>
<text x="783.0" y="589.5" text-anchor="end">60</text>
<text x="828.8" y="608.9" text-anchor="middle">27°N</text>
<text x="931.9" y="608.9" text-anchor="middle">28°N</text>
<text x="1034.9" y="608.9" text-anchor="middle">29°N</text>
<text x="1138.0" y="608.9" text-anchor="middle">30°N</text>
<text x="1241.1" y="608.9" text-anchor="middle">31°N</text>
<text x="1344.2" y="608.9" text-anchor="middle">32°N</text>
</g>
<text transform="translate(746.7,474.7) rotate(-90)" text-anchor="middle" font-family='"Liberation Sans", sans-serif' font-size="23.2">Depth (m)</text>
<path d="M1358.00,367.70 L1367.80,364.40 L1377.60,367.70 L1377.60,582.90 L1367.80,586.30 L1358.00,582.90 Z" fill="url(#cbg)" stroke="#000" stroke-opacity="0.32" stroke-width="0.9"/>
<g font-family='"Liberation Sans", sans-serif' font-size="16.8" font-weight="bold" fill="#000">
<text x="1382.8" y="397.4">34</text>
<text x="1382.8" y="445.3">32</text>
<text x="1382.8" y="493.3">30</text>
<text x="1382.8" y="541.2">28</text>
<text x="1382.8" y="589.1">26</text>
</g>
<path d="M1358.00,391.37h4.2M1377.60,391.37h-4.2M1358.00,439.30h4.2M1377.60,439.30h-4.2M1358.00,487.23h4.2M1377.60,487.23h-4.2M1358.00,535.17h4.2M1377.60,535.17h-4.2M1358.00,583.10h4.2M1377.60,583.10h-4.2" stroke="#151515" stroke-width="1.25" fill="none"/>
<text transform="translate(1358.4,577.5) rotate(-90)" font-family='"Liberation Sans", sans-serif' font-size="10.35" font-weight="bold" fill="#111">Ocean Data View</text>
<text x="1335.5" y="354.3" text-anchor="end" font-family='"Liberation Sans", sans-serif' font-size="22.4" fill="#000">Salinity</text>
<text x="717.5" y="373.8" font-family='"Liberation Sans", sans-serif' font-size="31" font-weight="bold" fill="#000">I</text>
<!-- panel J -->
<g transform="translate(792.70,674.00) scale(0.99764,0.99861)">
<g clip-path="url(#clipP)">
<g filter="url(#fld)">
<rect x="-39.69" y="0" width="20.30" height="215.7" fill="url(#gJ0)"/>
<rect x="-20.00" y="0" width="20.30" height="215.7" fill="url(#gJ1)"/>
<rect x="-0.30" y="0" width="20.30" height="215.7" fill="url(#gJ2)"/>
<rect x="19.40" y="0" width="20.30" height="215.7" fill="url(#gJ3)"/>
<rect x="39.09" y="0" width="20.30" height="215.7" fill="url(#gJ4)"/>
<rect x="58.79" y="0" width="20.30" height="215.7" fill="url(#gJ5)"/>
<rect x="78.49" y="0" width="20.30" height="215.7" fill="url(#gJ6)"/>
<rect x="98.18" y="0" width="20.30" height="215.7" fill="url(#gJ7)"/>
<rect x="117.88" y="0" width="20.30" height="215.7" fill="url(#gJ8)"/>
<rect x="137.57" y="0" width="20.30" height="215.7" fill="url(#gJ9)"/>
<rect x="157.27" y="0" width="20.30" height="215.7" fill="url(#gJ10)"/>
<rect x="176.97" y="0" width="20.30" height="215.7" fill="url(#gJ11)"/>
<rect x="196.66" y="0" width="20.30" height="215.7" fill="url(#gJ12)"/>
<rect x="216.36" y="0" width="20.30" height="215.7" fill="url(#gJ13)"/>
<rect x="236.06" y="0" width="20.30" height="215.7" fill="url(#gJ14)"/>
<rect x="255.75" y="0" width="20.30" height="215.7" fill="url(#gJ15)"/>
<rect x="275.45" y="0" width="20.30" height="215.7" fill="url(#gJ16)"/>
<rect x="295.15" y="0" width="20.30" height="215.7" fill="url(#gJ17)"/>
<rect x="314.84" y="0" width="20.30" height="215.7" fill="url(#gJ18)"/>
<rect x="334.54" y="0" width="20.30" height="215.7" fill="url(#gJ19)"/>
<rect x="354.24" y="0" width="20.30" height="215.7" fill="url(#gJ20)"/>
<rect x="373.93" y="0" width="20.30" height="215.7" fill="url(#gJ21)"/>
<rect x="393.63" y="0" width="20.30" height="215.7" fill="url(#gJ22)"/>
<rect x="413.33" y="0" width="20.30" height="215.7" fill="url(#gJ23)"/>
<rect x="433.02" y="0" width="20.30" height="215.7" fill="url(#gJ24)"/>
<rect x="452.72" y="0" width="20.30" height="215.7" fill="url(#gJ25)"/>
<rect x="472.41" y="0" width="20.30" height="215.7" fill="url(#gJ26)"/>
<rect x="492.11" y="0" width="20.30" height="215.7" fill="url(#gJ27)"/>
<rect x="511.81" y="0" width="20.30" height="215.7" fill="url(#gJ28)"/>
<rect x="531.50" y="0" width="20.30" height="215.7" fill="url(#gJ29)"/>
<rect x="551.20" y="0" width="20.30" height="215.7" fill="url(#gJ30)"/>
<rect x="570.90" y="0" width="20.30" height="215.7" fill="url(#gJ31)"/>
</g>
<path d="M0,171 L3,171 3,173 7,173 7,175 11,175 11,177 15,177 15,179 19,179 19,181 23,181 23,183 27,183 27,185 31,185 31,187 36,187 36,189 41,189 41,191 46,191 46,193 52,193 52,216 0,216Z" fill="#fff"/>
<g fill="none" stroke="#2e2e2e" stroke-width="0.75">
<path d="M116.8,35.4C115.2,36.0 109.7,37.1 107.4,38.9C105.1,40.7 103.7,41.5 103.2,46.3C102.7,51.0 103.7,59.3 104.2,67.4C104.7,75.5 106.1,85.6 106.3,94.7C106.5,103.8 106.0,112.6 105.3,122.1C104.6,131.6 102.6,146.7 102.1,151.6"/>
<path d="M134.7,33.3C137.5,33.4 146.0,33.1 151.6,33.7C157.2,34.3 163.1,35.2 168.4,36.8C173.7,38.4 179.0,40.9 183.2,43.2C187.4,45.5 189.8,48.4 193.7,50.5C197.5,52.6 201.4,54.6 206.3,55.8C211.2,57.0 217.2,57.5 223.2,57.9C229.2,58.2 236.0,58.2 242.1,57.9C248.2,57.5 253.5,56.7 260.0,55.8C266.5,54.9 273.3,53.3 281.0,52.6C288.7,51.9 297.9,51.2 306.3,51.6C314.7,52.0 323.5,53.1 331.6,54.7C339.7,56.3 347.0,59.6 354.7,61.0C362.4,62.4 369.8,62.7 377.9,63.2C386.0,63.7 395.5,63.0 403.2,64.2C410.9,65.4 417.5,67.7 424.2,70.5C430.9,73.3 437.2,77.6 443.2,81.1C449.2,84.6 454.4,88.9 460.0,91.6C465.6,94.3 470.8,96.6 476.8,97.3C482.8,98.0 489.1,96.8 495.8,95.8C502.5,94.8 509.8,92.6 516.8,91.6C523.8,90.5 532.1,89.7 537.9,89.5C543.7,89.3 549.2,90.3 551.5,90.5"/>
<path d="M242.1,1.0C243.2,2.2 247.2,5.4 248.4,8.4C249.6,11.4 248.1,15.7 249.5,18.9C250.9,22.1 253.8,24.9 256.8,27.4C259.8,29.9 265.6,32.7 267.4,33.7"/>
<path d="M297.9,38.9C300.7,38.4 309.1,36.3 314.7,35.8C320.3,35.3 326.0,34.8 331.6,35.8C337.2,36.8 342.8,39.8 348.4,42.1C354.0,44.4 359.0,47.8 365.3,49.5C371.6,51.2 378.6,51.9 386.3,52.6C394.0,53.3 402.8,53.2 411.6,53.7C420.4,54.2 430.6,55.3 439.0,55.8C447.4,56.2 454.7,56.9 462.1,56.4C469.5,55.9 476.2,54.1 483.2,52.6C490.2,51.1 497.2,48.9 504.2,47.4C511.2,45.9 517.4,44.5 525.3,43.8C533.2,43.1 547.1,43.3 551.5,43.2"/>
<path d="M137.9,113.7C137.6,111.6 135.6,105.6 135.8,101.0C136.0,96.4 137.0,90.0 138.9,86.3C140.8,82.6 144.4,80.1 147.4,78.9C150.4,77.7 154.4,77.7 156.8,78.9C159.2,80.1 161.2,83.3 162.1,86.3C163.0,89.3 162.5,93.6 162.1,96.8C161.7,100.0 160.0,103.9 159.6,105.3"/>
<path d="M268.4,160.4C266.8,160.1 262.2,159.1 258.9,158.3C255.6,157.5 250.2,155.9 248.4,155.4"/>
<path d="M231.6,145.3C230.4,143.5 226.1,139.3 224.2,134.7C222.3,130.1 220.5,123.5 220.0,117.9C219.5,112.3 219.9,105.9 221.0,101.0C222.1,96.1 223.8,91.7 226.3,88.4C228.8,85.1 232.1,82.8 235.8,81.1C239.5,79.4 244.2,78.7 248.4,78.3C252.6,77.9 256.8,79.5 261.0,78.9C265.2,78.4 269.6,76.2 273.7,75.0C277.8,73.8 281.3,71.6 285.3,71.6C289.3,71.5 294.0,72.6 297.9,74.7C301.8,76.8 305.6,79.8 308.4,84.2C311.2,88.6 313.1,95.0 314.7,101.0C316.3,107.0 317.7,114.4 317.9,120.0C318.1,125.6 317.4,130.1 315.8,134.7C314.2,139.3 309.6,145.3 308.4,147.4"/>
<path d="M255.8,91.6C257.0,91.8 260.2,93.3 263.2,92.6C266.2,91.9 270.5,89.2 273.7,87.4C276.9,85.6 279.1,83.1 282.1,82.0C285.1,80.9 288.6,80.2 291.6,81.0C294.6,81.8 297.7,83.7 300.0,87.0C302.3,90.3 304.1,95.8 305.3,101.0C306.5,106.2 307.4,113.0 307.4,117.9C307.4,122.8 306.2,127.3 305.3,130.5C304.4,133.7 302.6,135.8 302.1,136.8"/>
<path d="M230.5,98.9C230.2,101.0 228.2,107.0 228.4,111.6C228.6,116.2 229.7,122.1 231.6,126.3C233.5,130.5 236.5,134.0 240.0,136.8C243.5,139.6 248.4,141.4 252.6,143.2C256.8,145.0 261.8,146.3 265.3,147.4C268.8,148.5 272.3,149.5 273.7,149.9"/>
<path d="M438.9,1.0C438.7,2.6 437.5,7.2 437.9,10.5C438.2,13.8 440.1,18.2 441.0,21.0C441.9,23.8 442.8,26.3 443.2,27.4"/>
<path d="M426.3,42.1C423.1,42.5 414.1,44.0 407.4,44.2C400.7,44.4 392.6,44.1 386.3,43.2C380.0,42.3 374.4,40.8 369.5,38.9C364.6,37.0 359.8,34.6 356.8,31.6C353.8,28.6 352.3,24.9 351.6,21.0C350.9,17.1 352.2,11.7 352.6,8.4C353.0,5.1 353.5,2.2 353.7,1.0"/>
<path d="M370.5,1.0C370.0,2.6 367.4,7.3 367.4,10.5C367.4,13.7 368.8,17.4 370.5,20.0C372.2,22.6 376.7,25.2 377.9,26.3"/>
<path d="M412.6,24.2C413.4,22.6 416.8,18.6 417.5,14.7C418.2,10.8 416.9,3.3 416.8,1.0"/>
<path d="M393.7,146.3C394.9,146.2 398.0,146.4 401.0,145.7C404.0,145.0 408.6,144.3 411.6,142.1C414.6,139.9 417.5,136.3 418.9,132.6C420.3,128.9 420.9,124.5 420.0,120.0C419.1,115.5 416.5,109.7 413.7,105.3C410.9,100.9 407.1,96.1 403.2,93.7C399.3,91.3 394.0,90.7 390.5,90.9C387.0,91.1 384.7,92.7 382.1,94.7C379.5,96.8 376.6,99.7 374.7,103.2C372.8,106.7 371.0,111.6 370.5,115.8C370.0,120.0 370.4,124.7 371.6,128.4C372.8,132.1 376.8,136.3 377.9,137.9"/>
</g>
<g font-family='"Liberation Sans", sans-serif' font-size="12.3" font-weight="bold" fill="#111" text-anchor="middle">
<text transform="translate(125.3,34.1) rotate(0)" y="4.3">5</text>
<text transform="translate(283.2,38.5) rotate(0)" y="4.3">7.5</text>
<text transform="translate(240.6,152.0) rotate(10)" y="4.3" font-style="italic">3</text>
<text transform="translate(243.8,85.9) rotate(-3)" y="4.3">2.5</text>
<text transform="translate(438.9,35.8) rotate(-50)" y="4.3">10</text>
<text transform="translate(395.4,29.5) rotate(0)" y="4.3">12.5</text>
<text transform="translate(385.3,144.2) rotate(10)" y="4.3" font-style="italic">3</text>
</g>
<polygon points="0.0,214.5 9.1,214.5 78.6,176.5 155.4,95.9 184.9,193.1 239.6,215.7 293.2,112.8 330.3,206.1 387.5,198.1 464.4,215.7 538.7,135.3 551.5,135.3 551.5,216.2 0.0,216.2" fill="#363636"/>
<g fill="#3a3a3a">
<circle cx="9.1" cy="11.5" r="1.9"/>
<circle cx="78.6" cy="11.5" r="1.9"/>
<circle cx="78.6" cy="90.6" r="1.9"/>
<circle cx="155.4" cy="11.5" r="1.9"/>
<circle cx="155.4" cy="58.2" r="1.9"/>
<circle cx="155.4" cy="87.0" r="1.9"/>
<circle cx="184.9" cy="11.5" r="1.9"/>
<circle cx="184.9" cy="83.4" r="1.9"/>
<circle cx="184.9" cy="184.0" r="1.9"/>
<circle cx="239.6" cy="11.5" r="1.9"/>
<circle cx="239.6" cy="40.2" r="1.9"/>
<circle cx="239.6" cy="97.8" r="1.9"/>
<circle cx="239.6" cy="212.8" r="1.9"/>
<circle cx="293.2" cy="11.5" r="1.9"/>
<circle cx="293.2" cy="18.7" r="1.9"/>
<circle cx="293.2" cy="101.4" r="1.9"/>
<circle cx="330.3" cy="11.5" r="1.9"/>
<circle cx="330.3" cy="72.6" r="1.9"/>
<circle cx="330.3" cy="198.4" r="1.9"/>
<circle cx="387.5" cy="11.5" r="1.9"/>
<circle cx="387.5" cy="18.7" r="1.9"/>
<circle cx="387.5" cy="108.5" r="1.9"/>
<circle cx="387.5" cy="191.2" r="1.9"/>
<circle cx="464.4" cy="11.5" r="1.9"/>
<circle cx="464.4" cy="209.2" r="1.9"/>
<circle cx="538.7" cy="11.5" r="1.9"/>
<circle cx="538.7" cy="43.8" r="1.9"/>
<circle cx="538.7" cy="126.5" r="1.9"/>
</g>
</g>
</g>
<rect x="792.70" y="674.00" width="550.20" height="215.40" fill="none" stroke="#3a3a3a" stroke-width="1.2"/>
<path d="M787.90,674.00h4.8M789.90,709.90h2.8M787.90,745.80h4.8M789.90,781.70h2.8M787.90,817.60h4.8M789.90,853.50h2.8M787.90,889.40h4.8M828.69,889.40v4.8M880.11,889.40v2.8M931.54,889.40v4.8M982.96,889.40v2.8M1034.38,889.40v4.8M1085.80,889.40v2.8M1137.22,889.40v4.8M1188.64,889.40v2.8M1240.06,889.40v4.8M1291.48,889.40v2.8M1342.90,889.40v4.8" stroke="#3a3a3a" stroke-width="1.1" fill="none"/>
<g font-family='"Liberation Sans", sans-serif' font-size="17.7" font-weight="bold" fill="#000">
<text x="783.0" y="680.4" text-anchor="end">0</text>
<text x="783.0" y="752.2" text-anchor="end">20</text>
<text x="783.0" y="824.0" text-anchor="end">40</text>
<text x="783.0" y="895.8" text-anchor="end">60</text>
<text x="828.7" y="915.2" text-anchor="middle">27°N</text>
<text x="931.5" y="915.2" text-anchor="middle">28°N</text>
<text x="1034.4" y="915.2" text-anchor="middle">29°N</text>
<text x="1137.2" y="915.2" text-anchor="middle">30°N</text>
<text x="1240.1" y="915.2" text-anchor="middle">31°N</text>
<text x="1342.9" y="915.2" text-anchor="middle">32°N</text>
</g>
<text transform="translate(746.7,781.2) rotate(-90)" text-anchor="middle" font-family='"Liberation Sans", sans-serif' font-size="23.2">Depth (m)</text>
<path d="M1356.40,674.30 L1366.15,671.00 L1375.90,674.30 L1375.90,889.20 L1366.15,892.60 L1356.40,889.20 Z" fill="url(#cbg)" stroke="#000" stroke-opacity="0.32" stroke-width="0.9"/>
<g font-family='"Liberation Sans", sans-serif' font-size="16.8" font-weight="bold" fill="#000">
<text x="1381.1" y="680.0">15</text>
<text x="1381.1" y="718.5">12.5</text>
<text x="1381.1" y="757.0">10</text>
<text x="1381.1" y="795.4">7.5</text>
<text x="1381.1" y="833.9">5</text>
<text x="1381.1" y="872.4">2.5</text>
</g>
<path d="M1356.40,674.00h4.2M1375.90,674.00h-4.2M1356.40,712.46h4.2M1375.90,712.46h-4.2M1356.40,750.93h4.2M1375.90,750.93h-4.2M1356.40,789.39h4.2M1375.90,789.39h-4.2M1356.40,827.86h4.2M1375.90,827.86h-4.2M1356.40,866.32h4.2M1375.90,866.32h-4.2" stroke="#151515" stroke-width="1.25" fill="none"/>
<text transform="translate(1356.8,883.8) rotate(-90)" font-family='"Liberation Sans", sans-serif' font-size="10.35" font-weight="bold" fill="#111">Ocean Data View</text>
<text x="1343.3" y="658.4" text-anchor="end" font-family='"Liberation Sans", sans-serif' font-size="23.5" fill="#000">DO (mg L<tspan dy="-8.5" font-size="14.5">-1</tspan><tspan dy="8.5">)</tspan></text>
<text x="717.2" y="663.8" font-family='"Liberation Sans", sans-serif' font-size="31" font-weight="bold" fill="#000">J</text>
<!-- panel K -->
<g transform="translate(792.70,980.00) scale(0.99764,0.99861)">
<g clip-path="url(#clipP)">
<g filter="url(#fld)">
<rect x="-39.69" y="0" width="20.30" height="215.7" fill="url(#gK0)"/>
<rect x="-20.00" y="0" width="20.30" height="215.7" fill="url(#gK1)"/>
<rect x="-0.30" y="0" width="20.30" height="215.7" fill="url(#gK2)"/>
<rect x="19.40" y="0" width="20.30" height="215.7" fill="url(#gK3)"/>
<rect x="39.09" y="0" width="20.30" height="215.7" fill="url(#gK4)"/>
<rect x="58.79" y="0" width="20.30" height="215.7" fill="url(#gK5)"/>
<rect x="78.49" y="0" width="20.30" height="215.7" fill="url(#gK6)"/>
<rect x="98.18" y="0" width="20.30" height="215.7" fill="url(#gK7)"/>
<rect x="117.88" y="0" width="20.30" height="215.7" fill="url(#gK8)"/>
<rect x="137.57" y="0" width="20.30" height="215.7" fill="url(#gK9)"/>
<rect x="157.27" y="0" width="20.30" height="215.7" fill="url(#gK10)"/>
<rect x="176.97" y="0" width="20.30" height="215.7" fill="url(#gK11)"/>
<rect x="196.66" y="0" width="20.30" height="215.7" fill="url(#gK12)"/>
<rect x="216.36" y="0" width="20.30" height="215.7" fill="url(#gK13)"/>
<rect x="236.06" y="0" width="20.30" height="215.7" fill="url(#gK14)"/>
<rect x="255.75" y="0" width="20.30" height="215.7" fill="url(#gK15)"/>
<rect x="275.45" y="0" width="20.30" height="215.7" fill="url(#gK16)"/>
<rect x="295.15" y="0" width="20.30" height="215.7" fill="url(#gK17)"/>
<rect x="314.84" y="0" width="20.30" height="215.7" fill="url(#gK18)"/>
<rect x="334.54" y="0" width="20.30" height="215.7" fill="url(#gK19)"/>
<rect x="354.24" y="0" width="20.30" height="215.7" fill="url(#gK20)"/>
<rect x="373.93" y="0" width="20.30" height="215.7" fill="url(#gK21)"/>
<rect x="393.63" y="0" width="20.30" height="215.7" fill="url(#gK22)"/>
<rect x="413.33" y="0" width="20.30" height="215.7" fill="url(#gK23)"/>
<rect x="433.02" y="0" width="20.30" height="215.7" fill="url(#gK24)"/>
<rect x="452.72" y="0" width="20.30" height="215.7" fill="url(#gK25)"/>
<rect x="472.41" y="0" width="20.30" height="215.7" fill="url(#gK26)"/>
<rect x="492.11" y="0" width="20.30" height="215.7" fill="url(#gK27)"/>
<rect x="511.81" y="0" width="20.30" height="215.7" fill="url(#gK28)"/>
<rect x="531.50" y="0" width="20.30" height="215.7" fill="url(#gK29)"/>
<rect x="551.20" y="0" width="20.30" height="215.7" fill="url(#gK30)"/>
<rect x="570.90" y="0" width="20.30" height="215.7" fill="url(#gK31)"/>
</g>
<g fill="none" stroke="#2e2e2e" stroke-width="0.75">
<path d="M172.6,145.9C174.4,145.6 179.7,145.7 183.2,144.2C186.7,142.7 190.7,140.1 193.7,136.8C196.7,133.5 198.9,129.5 201.0,124.2C203.1,119.0 204.7,111.3 206.3,105.3C207.9,99.3 208.8,93.7 210.5,88.4C212.2,83.1 214.0,77.7 216.8,73.7C219.6,69.7 222.8,66.7 227.4,64.2C232.0,61.7 238.6,61.0 244.2,58.9C249.8,56.8 256.1,54.8 261.0,51.6C265.9,48.5 270.5,43.7 273.7,40.0C276.9,36.3 278.9,32.8 280.0,29.5C281.1,26.2 279.3,22.5 280.0,20.0C280.7,17.5 282.1,15.5 284.2,14.3C286.3,13.1 290.0,12.6 292.6,12.6C295.2,12.6 297.4,13.2 300.0,14.3C302.6,15.4 304.9,17.3 308.4,18.9C311.9,20.4 316.8,23.4 321.0,23.6C325.2,23.8 330.4,22.0 333.7,20.0C337.0,18.0 340.1,14.8 341.0,11.6C341.9,8.4 339.2,2.8 338.9,1.0"/>
<path d="M156.2,91.6C156.2,92.5 155.9,93.7 155.6,94.3C155.2,94.9 154.6,95.4 154.1,95.4C153.6,95.4 153.0,94.9 152.6,94.3C152.3,93.7 152.0,92.5 152.0,91.6C152.0,90.7 152.3,89.5 152.6,88.9C153.0,88.3 153.6,87.8 154.1,87.8C154.6,87.8 155.2,88.3 155.6,88.9C155.9,89.5 156.2,90.7 156.2,91.6Z"/>
<path d="M367.4,1.0C367.6,2.6 367.2,7.2 368.4,10.5C369.6,13.8 372.8,16.8 374.7,21.0C376.6,25.2 379.3,30.5 380.0,35.8C380.7,41.1 380.3,46.3 378.9,52.6C377.5,58.9 374.2,66.7 371.6,73.7C369.0,80.7 365.7,87.7 363.2,94.7C360.7,101.7 358.4,109.1 356.8,115.8C355.2,122.5 354.2,131.5 353.7,134.7"/>
<path d="M357.9,166.3C358.8,169.1 361.6,177.6 363.2,183.2C364.8,188.8 366.7,197.2 367.4,200.0"/>
<path d="M413.7,12.6C414.8,15.1 417.6,22.8 420.0,27.4C422.4,32.0 425.2,36.3 428.4,40.0C431.5,43.7 435.0,47.2 438.9,49.5C442.8,51.8 447.4,53.5 451.6,53.7C455.8,53.9 460.0,52.4 464.2,50.5C468.4,48.6 472.2,45.2 476.8,42.1C481.4,39.0 486.3,35.1 491.6,31.6C496.9,28.1 502.8,24.2 508.4,21.0C514.0,17.8 520.4,15.2 525.3,12.6C530.2,10.0 534.9,7.2 537.9,5.3C540.9,3.4 542.3,1.7 543.2,1.0"/>
<path d="M428.4,1.0C428.9,2.9 429.9,8.6 431.6,12.6C433.4,16.6 435.6,21.8 438.9,25.3C442.2,28.8 447.0,32.3 451.6,33.7C456.2,35.1 461.4,34.9 466.3,33.7C471.2,32.5 476.4,29.1 481.0,26.3C485.6,23.5 490.5,19.4 493.7,16.8C496.9,14.2 498.9,11.6 500.0,10.5"/>
<path d="M444.2,1.0C444.0,2.2 442.8,5.9 443.2,8.4C443.6,10.9 444.7,13.9 446.3,15.8C447.9,17.7 451.6,19.3 452.6,20.0"/>
<path d="M476.8,20.0C478.2,18.9 483.5,16.0 485.3,13.7C487.1,11.4 487.4,8.4 487.4,6.3C487.4,4.2 485.6,1.9 485.3,1.0"/>
<path d="M476.8,197.9C475.4,194.7 470.7,185.9 468.4,178.9C466.1,171.9 464.1,163.9 463.2,155.8C462.3,147.7 462.5,139.6 463.2,130.5C463.9,121.4 465.1,110.5 467.4,101.0C469.7,91.5 472.8,82.1 476.8,73.7C480.8,65.3 486.0,57.2 491.6,50.5C497.2,43.8 503.8,37.9 510.5,33.7C517.2,29.5 524.8,27.1 531.6,25.3C538.4,23.6 548.2,23.6 551.5,23.2"/>
<path d="M551.5,34.7C548.5,35.2 538.8,36.1 533.7,37.9C528.6,39.7 524.0,42.3 521.0,45.3C518.0,48.3 516.3,52.1 515.8,55.8C515.3,59.5 516.0,63.9 517.9,67.4C519.8,70.9 524.1,74.5 527.4,76.8C530.7,79.1 536.1,80.4 537.9,81.1"/>
</g>
<g font-family='"Liberation Sans", sans-serif' font-size="12.3" font-weight="bold" fill="#111" text-anchor="middle">
<text transform="translate(354.1,151.2) rotate(85)" y="4.3">10</text>
<text transform="translate(409.5,4.0) rotate(75)" y="4.3">15</text>
<text transform="translate(505.9,4.0) rotate(-65)" y="4.3">20</text>
<text transform="translate(464.6,23.2) rotate(0)" y="4.3">25</text>
<text transform="translate(547.4,83.8) rotate(10)" y="4.3" font-style="italic">5</text>
</g>
<polygon points="0.0,214.5 9.1,214.5 78.6,176.5 155.4,95.9 184.9,193.1 239.6,215.7 293.2,112.8 330.3,206.1 387.5,198.1 464.4,215.7 538.7,135.3 551.5,135.3 551.5,216.2 0.0,216.2" fill="#363636"/>
<g fill="#3a3a3a">
<circle cx="9.1" cy="11.5" r="1.9"/>
<circle cx="78.6" cy="11.5" r="1.9"/>
<circle cx="78.6" cy="90.6" r="1.9"/>
<circle cx="155.4" cy="11.5" r="1.9"/>
<circle cx="155.4" cy="58.2" r="1.9"/>
<circle cx="155.4" cy="87.0" r="1.9"/>
<circle cx="184.9" cy="11.5" r="1.9"/>
<circle cx="184.9" cy="83.4" r="1.9"/>
<circle cx="184.9" cy="184.0" r="1.9"/>
<circle cx="239.6" cy="11.5" r="1.9"/>
<circle cx="239.6" cy="40.2" r="1.9"/>
<circle cx="239.6" cy="97.8" r="1.9"/>
<circle cx="239.6" cy="212.8" r="1.9"/>
<circle cx="293.2" cy="11.5" r="1.9"/>
<circle cx="293.2" cy="18.7" r="1.9"/>
<circle cx="293.2" cy="101.4" r="1.9"/>
<circle cx="330.3" cy="11.5" r="1.9"/>
<circle cx="330.3" cy="72.6" r="1.9"/>
<circle cx="330.3" cy="198.4" r="1.9"/>
<circle cx="387.5" cy="11.5" r="1.9"/>
<circle cx="387.5" cy="18.7" r="1.9"/>
<circle cx="387.5" cy="108.5" r="1.9"/>
<circle cx="387.5" cy="191.2" r="1.9"/>
<circle cx="464.4" cy="11.5" r="1.9"/>
<circle cx="464.4" cy="209.2" r="1.9"/>
<circle cx="538.7" cy="11.5" r="1.9"/>
<circle cx="538.7" cy="43.8" r="1.9"/>
<circle cx="538.7" cy="126.5" r="1.9"/>
</g>
</g>
</g>
<rect x="792.70" y="980.00" width="550.20" height="215.40" fill="none" stroke="#3a3a3a" stroke-width="1.2"/>
<path d="M787.90,980.00h4.8M789.90,1015.90h2.8M787.90,1051.80h4.8M789.90,1087.70h2.8M787.90,1123.60h4.8M789.90,1159.50h2.8M787.90,1195.40h4.8M828.69,1195.40v4.8M880.11,1195.40v2.8M931.54,1195.40v4.8M982.96,1195.40v2.8M1034.38,1195.40v4.8M1085.80,1195.40v2.8M1137.22,1195.40v4.8M1188.64,1195.40v2.8M1240.06,1195.40v4.8M1291.48,1195.40v2.8M1342.90,1195.40v4.8" stroke="#3a3a3a" stroke-width="1.1" fill="none"/>
<g font-family='"Liberation Sans", sans-serif' font-size="17.7" font-weight="bold" fill="#000">
<text x="783.0" y="986.4" text-anchor="end">0</text>
<text x="783.0" y="1058.2" text-anchor="end">20</text>
<text x="783.0" y="1130.0" text-anchor="end">40</text>
<text x="783.0" y="1201.8" text-anchor="end">60</text>
<text x="828.7" y="1221.2" text-anchor="middle">27°N</text>
<text x="931.5" y="1221.2" text-anchor="middle">28°N</text>
<text x="1034.4" y="1221.2" text-anchor="middle">29°N</text>
<text x="1137.2" y="1221.2" text-anchor="middle">30°N</text>
<text x="1240.1" y="1221.2" text-anchor="middle">31°N</text>
<text x="1342.9" y="1221.2" text-anchor="middle">32°N</text>
</g>
<text transform="translate(746.7,1087.2) rotate(-90)" text-anchor="middle" font-family='"Liberation Sans", sans-serif' font-size="23.2">Depth (m)</text>
<path d="M1356.40,980.30 L1366.15,977.00 L1375.90,980.30 L1375.90,1195.20 L1366.15,1198.60 L1356.40,1195.20 Z" fill="url(#cbg)" stroke="#000" stroke-opacity="0.32" stroke-width="0.9"/>
<g font-family='"Liberation Sans", sans-serif' font-size="16.8" font-weight="bold" fill="#000">
<text x="1381.1" y="986.0">35</text>
<text x="1381.1" y="1016.8">30</text>
<text x="1381.1" y="1047.6">25</text>
<text x="1381.1" y="1078.4">20</text>
<text x="1381.1" y="1109.1">15</text>
<text x="1381.1" y="1139.9">10</text>
<text x="1381.1" y="1170.7">5</text>
<text x="1381.1" y="1201.4">0</text>
</g>
<path d="M1356.40,980.00h4.2M1375.90,980.00h-4.2M1356.40,1010.77h4.2M1375.90,1010.77h-4.2M1356.40,1041.54h4.2M1375.90,1041.54h-4.2M1356.40,1072.31h4.2M1375.90,1072.31h-4.2M1356.40,1103.09h4.2M1375.90,1103.09h-4.2M1356.40,1133.86h4.2M1375.90,1133.86h-4.2M1356.40,1164.63h4.2M1375.90,1164.63h-4.2M1356.40,1195.40h4.2M1375.90,1195.40h-4.2" stroke="#151515" stroke-width="1.25" fill="none"/>
<text transform="translate(1356.8,1189.8) rotate(-90)" font-family='"Liberation Sans", sans-serif' font-size="10.35" font-weight="bold" fill="#111">Ocean Data View</text>
<text x="1343.3" y="966.6" text-anchor="end" font-family='"Liberation Sans", sans-serif' font-size="22.9" fill="#000">NO<tspan dy="5" font-size="15">x</tspan><tspan dy="-5"> (μmol L</tspan><tspan dy="-8.5" font-size="14.5">-1</tspan><tspan dy="8.5">)</tspan></text>
<text x="717.3" y="962.2" font-family='"Liberation Sans", sans-serif' font-size="31" font-weight="bold" fill="#000">K</text>
<!-- panel L -->
<g transform="translate(792.70,1286.00) scale(0.99764,0.99861)">
<g clip-path="url(#clipP)">
<g filter="url(#fld)">
<rect x="-39.69" y="0" width="20.30" height="215.7" fill="url(#gL0)"/>
<rect x="-20.00" y="0" width="20.30" height="215.7" fill="url(#gL1)"/>
<rect x="-0.30" y="0" width="20.30" height="215.7" fill="url(#gL2)"/>
<rect x="19.40" y="0" width="20.30" height="215.7" fill="url(#gL3)"/>
<rect x="39.09" y="0" width="20.30" height="215.7" fill="url(#gL4)"/>
<rect x="58.79" y="0" width="20.30" height="215.7" fill="url(#gL5)"/>
<rect x="78.49" y="0" width="20.30" height="215.7" fill="url(#gL6)"/>
<rect x="98.18" y="0" width="20.30" height="215.7" fill="url(#gL7)"/>
<rect x="117.88" y="0" width="20.30" height="215.7" fill="url(#gL8)"/>
<rect x="137.57" y="0" width="20.30" height="215.7" fill="url(#gL9)"/>
<rect x="157.27" y="0" width="20.30" height="215.7" fill="url(#gL10)"/>
<rect x="176.97" y="0" width="20.30" height="215.7" fill="url(#gL11)"/>
<rect x="196.66" y="0" width="20.30" height="215.7" fill="url(#gL12)"/>
<rect x="216.36" y="0" width="20.30" height="215.7" fill="url(#gL13)"/>
<rect x="236.06" y="0" width="20.30" height="215.7" fill="url(#gL14)"/>
<rect x="255.75" y="0" width="20.30" height="215.7" fill="url(#gL15)"/>
<rect x="275.45" y="0" width="20.30" height="215.7" fill="url(#gL16)"/>
<rect x="295.15" y="0" width="20.30" height="215.7" fill="url(#gL17)"/>
<rect x="314.84" y="0" width="20.30" height="215.7" fill="url(#gL18)"/>
<rect x="334.54" y="0" width="20.30" height="215.7" fill="url(#gL19)"/>
<rect x="354.24" y="0" width="20.30" height="215.7" fill="url(#gL20)"/>
<rect x="373.93" y="0" width="20.30" height="215.7" fill="url(#gL21)"/>
<rect x="393.63" y="0" width="20.30" height="215.7" fill="url(#gL22)"/>
<rect x="413.33" y="0" width="20.30" height="215.7" fill="url(#gL23)"/>
<rect x="433.02" y="0" width="20.30" height="215.7" fill="url(#gL24)"/>
<rect x="452.72" y="0" width="20.30" height="215.7" fill="url(#gL25)"/>
<rect x="472.41" y="0" width="20.30" height="215.7" fill="url(#gL26)"/>
<rect x="492.11" y="0" width="20.30" height="215.7" fill="url(#gL27)"/>
<rect x="511.81" y="0" width="20.30" height="215.7" fill="url(#gL28)"/>
<rect x="531.50" y="0" width="20.30" height="215.7" fill="url(#gL29)"/>
<rect x="551.20" y="0" width="20.30" height="215.7" fill="url(#gL30)"/>
<rect x="570.90" y="0" width="20.30" height="215.7" fill="url(#gL31)"/>
</g>
<g fill="none" stroke="#2e2e2e" stroke-width="0.75">
<path d="M1.0,25.3C3.6,24.8 11.7,23.3 16.8,22.1C21.9,20.9 27.0,19.5 31.6,17.9C36.2,16.3 42.1,13.5 44.2,12.6"/>
<path d="M1.0,51.6 L8.4,49.5"/>
<path d="M38.9,42.1C43.0,41.4 53.9,39.3 63.2,37.9C72.5,36.5 84.9,34.8 94.7,33.7C104.5,32.7 113.3,31.7 122.1,31.6C130.9,31.5 139.0,33.2 147.4,33.3C155.8,33.4 163.8,32.3 172.6,32.0C181.4,31.7 191.9,31.0 200.0,31.6C208.1,32.2 215.4,34.2 221.0,35.8C226.6,37.4 230.5,39.8 233.7,41.0C236.9,42.2 237.6,43.4 240.0,43.2C242.4,43.0 245.1,41.4 248.4,40.0C251.7,38.6 254.6,35.8 260.0,34.7C265.4,33.7 274.0,34.1 281.0,33.7C288.0,33.4 294.0,33.0 302.1,32.6C310.2,32.2 319.7,31.4 329.5,31.2C339.3,31.0 350.8,31.2 361.0,31.6C371.2,32.0 381.0,32.8 390.5,33.3C400.0,33.8 409.5,33.9 417.9,34.7C426.3,35.5 433.6,37.0 441.0,37.9C448.4,38.8 455.4,40.1 462.1,40.0C468.8,39.9 475.0,38.9 481.0,37.5C487.0,36.1 491.9,33.3 497.9,31.6C503.9,29.9 510.8,28.3 516.8,27.4C522.8,26.5 527.9,26.6 533.7,26.3C539.5,26.0 548.5,25.8 551.5,25.7"/>
<path d="M1.0,86.3C4.3,84.2 13.4,77.9 21.0,73.7C28.6,69.5 37.5,64.2 46.3,61.0C55.1,57.8 64.6,55.7 73.7,54.3C82.8,52.9 92.2,52.4 101.0,52.6C109.8,52.9 119.3,54.4 126.3,55.8C133.3,57.2 139.0,59.7 143.2,61.0C147.4,62.3 148.8,63.5 151.6,63.8C154.4,64.1 155.4,63.5 160.0,62.7C164.6,61.9 173.3,60.1 178.9,58.9C184.5,57.6 188.4,56.4 193.7,55.2C199.0,54.0 204.2,52.4 210.5,51.6C216.8,50.8 225.3,51.1 231.6,50.5C237.9,49.9 243.7,48.9 248.4,48.0C253.1,47.1 254.6,46.1 260.0,45.3C265.4,44.5 274.0,43.7 281.0,43.2C288.0,42.7 294.0,42.1 302.1,42.1C310.2,42.1 320.4,42.9 329.5,43.2C338.6,43.6 347.3,44.4 356.8,44.2C366.3,44.0 376.1,42.3 386.3,42.1C396.5,41.9 408.1,42.0 417.9,43.2C427.7,44.4 437.2,47.8 445.3,49.5C453.4,51.2 460.0,52.9 466.3,53.7C472.6,54.5 477.6,54.6 483.2,54.3C488.8,53.9 495.1,52.6 500.0,51.6C504.9,50.6 508.7,49.5 512.6,48.4C516.5,47.3 521.4,45.8 523.2,45.3"/>
<path d="M4.2,214.3C7.0,212.3 14.7,206.2 21.0,202.1C27.3,198.0 35.1,194.1 42.1,189.5C49.1,184.9 56.9,179.6 63.2,174.7C69.5,169.8 75.1,165.2 80.0,160.0C84.9,154.8 88.7,149.2 92.6,143.2C96.5,137.2 100.4,129.8 103.2,124.2C106.0,118.6 107.0,114.4 109.5,109.5C112.0,104.6 114.8,98.7 117.9,94.7C121.1,90.7 125.6,87.4 128.4,85.3C131.2,83.2 133.6,82.6 134.7,82.1"/>
<path d="M160.0,78.9C161.1,79.8 164.4,81.6 166.3,84.2C168.2,86.8 169.7,91.5 171.6,94.7C173.5,97.9 175.6,101.4 177.9,103.2C180.2,105.0 182.9,105.7 185.3,105.3C187.8,104.9 190.5,103.5 192.6,101.0C194.7,98.5 196.1,94.3 197.9,90.5C199.7,86.7 201.1,81.8 203.2,77.9C205.3,74.1 207.5,70.2 210.5,67.4C213.5,64.6 216.8,62.4 221.0,61.0C225.2,59.6 230.5,59.9 235.8,58.9C241.1,57.9 246.9,56.3 252.6,55.0C258.3,53.7 265.3,51.9 270.0,51.0C274.7,50.1 276.0,49.8 281.0,49.5C286.0,49.2 294.4,48.6 300.0,49.5C305.6,50.4 310.8,52.4 314.7,54.7C318.6,57.0 320.7,60.4 323.2,63.2C325.7,66.0 327.2,71.4 329.5,71.6C331.8,71.8 333.3,66.8 336.8,64.2C340.3,61.6 345.1,57.9 350.5,55.8C355.9,53.7 362.1,52.5 369.5,51.6C376.9,50.7 386.3,49.9 394.7,50.1C403.1,50.3 411.9,50.8 420.0,52.6C428.1,54.4 435.8,58.2 443.2,61.0C450.6,63.8 457.2,66.9 464.2,69.5C471.2,72.1 478.3,74.9 485.3,76.8C492.3,78.7 498.9,80.3 506.3,81.1C513.7,81.9 522.0,81.3 529.5,81.7C537.0,82.1 547.8,83.0 551.5,83.2"/>
<path d="M167.4,132.2C169.3,132.1 175.2,132.6 178.9,131.6C182.6,130.6 186.3,128.9 189.5,126.3C192.7,123.7 195.5,120.0 197.9,115.8C200.3,111.6 202.3,106.3 204.2,101.0C206.1,95.7 207.4,89.1 209.5,84.2C211.6,79.3 213.8,74.8 216.8,71.6C219.8,68.4 223.2,66.7 227.4,65.3C231.6,63.9 236.7,64.5 242.1,63.2C247.5,61.9 253.5,59.0 260.0,57.5C266.5,56.0 274.7,54.7 281.0,54.3C287.3,53.9 293.0,53.7 297.9,55.2C302.8,56.7 307.0,59.4 310.5,63.2C314.0,67.0 316.1,73.5 318.9,77.9C321.7,82.3 324.6,87.4 327.4,89.5C330.2,91.6 333.0,91.7 335.8,90.5C338.6,89.3 341.1,85.9 344.2,82.1C347.3,78.2 350.5,71.3 354.7,67.4C358.9,63.5 363.5,60.8 369.5,58.9C375.5,57.0 382.8,56.0 390.5,55.8C398.2,55.6 407.7,56.0 415.8,57.9C423.9,59.8 431.9,63.0 438.9,67.4C445.9,71.8 451.9,77.9 457.9,84.2C463.9,90.5 469.1,98.3 474.7,105.3C480.3,112.3 486.0,120.0 491.6,126.3C497.2,132.6 503.3,139.0 508.4,143.2C513.5,147.4 519.8,150.2 522.1,151.6"/>
<path d="M172.6,151.2C174.7,150.6 181.1,149.4 185.3,147.4C189.5,145.4 194.1,142.8 197.9,138.9C201.8,135.0 205.6,129.8 208.4,124.2C211.2,118.6 212.9,111.3 214.7,105.3C216.4,99.3 217.1,93.3 218.9,88.4C220.7,83.5 222.5,79.0 225.3,75.8C228.1,72.6 231.2,71.0 235.8,69.5C240.4,68.0 247.7,67.8 252.6,67.0C257.5,66.2 261.0,65.8 265.0,65.0C269.0,64.2 272.0,62.8 276.8,62.1C281.6,61.4 288.8,59.8 293.7,61.0C298.6,62.2 302.8,64.9 306.3,69.5C309.8,74.1 311.9,82.1 314.7,88.4C317.5,94.7 320.2,103.2 323.2,107.4C326.2,111.6 329.3,114.1 332.6,113.7C335.9,113.3 339.9,109.9 343.2,105.3C346.5,100.7 348.9,91.9 352.6,86.3C356.3,80.7 360.4,75.3 365.3,71.6C370.2,67.9 375.8,65.7 382.1,64.2C388.4,62.7 396.2,62.2 403.2,62.7C410.2,63.2 417.5,64.2 424.2,67.4C430.9,70.6 437.6,76.1 443.2,82.1C448.8,88.1 453.0,95.8 457.9,103.2C462.8,110.6 467.3,118.6 472.6,126.3C477.9,134.0 484.1,142.5 489.5,149.5C494.9,156.5 502.7,165.2 505.3,168.4"/>
<path d="M177.9,167.4C179.8,166.7 185.1,164.4 189.5,163.2C193.9,162.0 200.0,161.9 204.2,160.0C208.4,158.1 211.9,155.5 214.7,151.6C217.5,147.7 219.4,142.1 221.0,136.8C222.6,131.5 223.3,125.2 224.2,120.0C225.1,114.8 225.4,109.9 226.3,105.3C227.2,100.7 229.0,94.7 229.5,92.6"/>
<path d="M257.9,87.4C260.3,87.2 267.3,87.0 272.6,86.3C277.9,85.6 284.9,82.8 289.5,83.2C294.1,83.6 297.0,84.7 300.0,88.4C303.0,92.1 305.1,99.7 307.4,105.3C309.7,110.9 311.1,117.2 313.7,122.1C316.3,127.0 319.9,131.9 323.2,134.7C326.5,137.5 329.8,139.2 333.7,138.9C337.6,138.6 342.8,136.4 346.3,132.6C349.8,128.8 352.2,121.8 354.7,115.8C357.1,109.8 358.2,102.6 361.0,96.8C363.8,91.0 367.4,85.1 371.6,81.1C375.8,77.1 381.0,74.4 386.3,72.6C391.6,70.8 397.2,70.0 403.2,70.5C409.2,71.0 416.2,72.5 422.1,75.8C428.1,79.1 434.0,84.2 438.9,90.5C443.8,96.8 447.7,106.0 451.6,113.7C455.5,121.4 458.2,129.4 462.1,136.8C466.0,144.2 470.5,151.6 474.7,157.9C478.9,164.2 484.1,170.7 487.4,174.7C490.7,178.7 493.5,180.9 494.7,182.1"/>
<path d="M216.8,205.3C218.6,203.4 223.5,197.0 227.4,193.7C231.3,190.4 236.5,187.4 240.0,185.3C243.5,183.2 247.0,181.7 248.4,181.0"/>
<path d="M238.9,1.0C239.1,1.9 240.2,4.6 240.0,6.3C239.8,8.0 237.2,9.9 237.5,10.9C237.8,11.9 240.4,12.3 242.1,12.2C243.8,12.1 246.5,10.4 247.4,10.1"/>
<path d="M272.6,10.5C274.4,11.4 279.9,14.4 283.2,15.8C286.5,17.2 289.5,19.1 292.6,18.9C295.8,18.7 298.8,16.4 302.1,14.7C305.4,12.9 309.5,10.7 312.6,8.4C315.8,6.1 319.6,2.2 321.0,1.0"/>
<path d="M420.0,1.0C421.4,2.2 425.2,5.9 428.4,8.4C431.5,10.9 435.4,13.9 438.9,15.8C442.4,17.7 447.7,19.3 449.5,20.0"/>
<path d="M478.9,20.0C481.0,19.3 487.4,17.1 491.6,15.8C495.8,14.5 499.6,12.9 504.2,12.2C508.8,11.5 514.0,11.2 518.9,11.6C523.8,11.9 528.3,14.1 533.7,14.3C539.1,14.5 548.5,13.2 551.5,13.0"/>
<path d="M383.2,90.5C381.6,91.9 376.2,95.0 373.7,98.9C371.2,102.8 369.8,107.7 368.4,113.7C367.0,119.7 366.9,127.7 365.3,134.7C363.7,141.7 361.5,149.1 358.9,155.8C356.3,162.5 351.8,169.1 349.5,174.7C347.2,180.3 346.0,184.6 345.3,189.5C344.6,194.4 345.3,201.8 345.3,204.2"/>
<path d="M411.6,92.6C413.7,94.4 420.4,98.3 424.2,103.2C428.0,108.1 431.9,114.7 434.7,122.1C437.5,129.5 439.4,139.0 441.0,147.4C442.6,155.8 443.8,164.9 444.2,172.6C444.6,180.3 443.9,187.4 443.2,193.7C442.5,200.0 440.5,207.7 440.0,210.5"/>
</g>
<g font-family='"Liberation Sans", sans-serif' font-size="12.3" font-weight="bold" fill="#111" text-anchor="middle">
<text transform="translate(51.0,5.0) rotate(-40)" y="4.3">0.1</text>
<text transform="translate(23.2,45.3) rotate(-8)" y="4.3">0.2</text>
<text transform="translate(146.7,77.9) rotate(-5)" y="4.3">0.4</text>
<text transform="translate(242.1,85.9) rotate(-3)" y="4.3">0.7</text>
<text transform="translate(256.5,177.0) rotate(-20)" y="4.3">0.7</text>
<text transform="translate(259.0,8.8) rotate(0)" y="4.3">0.1</text>
<text transform="translate(464.2,22.1) rotate(0)" y="4.3">0.1</text>
<text transform="translate(537.5,41.0) rotate(-5)" y="4.3">0.3</text>
<text transform="translate(396.8,85.3) rotate(0)" y="4.3">0.8</text>
</g>
<polygon points="0.0,214.5 9.1,214.5 78.6,176.5 155.4,95.9 184.9,193.1 239.6,215.7 293.2,112.8 330.3,206.1 387.5,198.1 464.4,215.7 538.7,135.3 551.5,135.3 551.5,216.2 0.0,216.2" fill="#363636"/>
<g fill="#3a3a3a">
<circle cx="9.1" cy="11.5" r="1.9"/>
<circle cx="78.6" cy="11.5" r="1.9"/>
<circle cx="78.6" cy="90.6" r="1.9"/>
<circle cx="155.4" cy="11.5" r="1.9"/>
<circle cx="155.4" cy="58.2" r="1.9"/>
<circle cx="155.4" cy="87.0" r="1.9"/>
<circle cx="184.9" cy="11.5" r="1.9"/>
<circle cx="184.9" cy="83.4" r="1.9"/>
<circle cx="184.9" cy="184.0" r="1.9"/>
<circle cx="239.6" cy="11.5" r="1.9"/>
<circle cx="239.6" cy="40.2" r="1.9"/>
<circle cx="239.6" cy="97.8" r="1.9"/>
<circle cx="239.6" cy="212.8" r="1.9"/>
<circle cx="293.2" cy="11.5" r="1.9"/>
<circle cx="293.2" cy="18.7" r="1.9"/>
<circle cx="293.2" cy="101.4" r="1.9"/>
<circle cx="330.3" cy="11.5" r="1.9"/>
<circle cx="330.3" cy="72.6" r="1.9"/>
<circle cx="330.3" cy="198.4" r="1.9"/>
<circle cx="387.5" cy="11.5" r="1.9"/>
<circle cx="387.5" cy="18.7" r="1.9"/>
<circle cx="387.5" cy="108.5" r="1.9"/>
<circle cx="387.5" cy="191.2" r="1.9"/>
<circle cx="464.4" cy="11.5" r="1.9"/>
<circle cx="464.4" cy="209.2" r="1.9"/>
<circle cx="538.7" cy="11.5" r="1.9"/>
<circle cx="538.7" cy="43.8" r="1.9"/>
<circle cx="538.7" cy="126.5" r="1.9"/>
</g>
</g>
</g>
<rect x="792.70" y="1286.00" width="550.20" height="215.40" fill="none" stroke="#3a3a3a" stroke-width="1.2"/>
<path d="M787.90,1286.00h4.8M789.90,1321.90h2.8M787.90,1357.80h4.8M789.90,1393.70h2.8M787.90,1429.60h4.8M789.90,1465.50h2.8M787.90,1501.40h4.8M828.69,1501.40v4.8M880.11,1501.40v2.8M931.54,1501.40v4.8M982.96,1501.40v2.8M1034.38,1501.40v4.8M1085.80,1501.40v2.8M1137.22,1501.40v4.8M1188.64,1501.40v2.8M1240.06,1501.40v4.8M1291.48,1501.40v2.8M1342.90,1501.40v4.8" stroke="#3a3a3a" stroke-width="1.1" fill="none"/>
<g font-family='"Liberation Sans", sans-serif' font-size="17.7" font-weight="bold" fill="#000">
<text x="783.0" y="1292.4" text-anchor="end">0</text>
<text x="783.0" y="1364.2" text-anchor="end">20</text>
<text x="783.0" y="1436.0" text-anchor="end">40</text>
<text x="783.0" y="1507.8" text-anchor="end">60</text>
<text x="828.7" y="1527.2" text-anchor="middle">27°N</text>
<text x="931.5" y="1527.2" text-anchor="middle">28°N</text>
<text x="1034.4" y="1527.2" text-anchor="middle">29°N</text>
<text x="1137.2" y="1527.2" text-anchor="middle">30°N</text>
<text x="1240.1" y="1527.2" text-anchor="middle">31°N</text>
<text x="1342.9" y="1527.2" text-anchor="middle">32°N</text>
</g>
<text transform="translate(746.7,1393.2) rotate(-90)" text-anchor="middle" font-family='"Liberation Sans", sans-serif' font-size="23.2">Depth (m)</text>
<path d="M1356.40,1286.30 L1366.15,1283.00 L1375.90,1286.30 L1375.90,1501.20 L1366.15,1504.60 L1356.40,1501.20 Z" fill="url(#cbg)" stroke="#000" stroke-opacity="0.32" stroke-width="0.9"/>
<g font-family='"Liberation Sans", sans-serif' font-size="16.8" font-weight="bold" fill="#000">
<text x="1381.1" y="1292.0">1</text>
<text x="1381.1" y="1335.1">0.8</text>
<text x="1381.1" y="1378.2">0.6</text>
<text x="1381.1" y="1421.3">0.4</text>
<text x="1381.1" y="1464.4">0.2</text>
<text x="1381.1" y="1507.4">0</text>
</g>
<path d="M1356.40,1286.00h4.2M1375.90,1286.00h-4.2M1356.40,1329.08h4.2M1375.90,1329.08h-4.2M1356.40,1372.16h4.2M1375.90,1372.16h-4.2M1356.40,1415.24h4.2M1375.90,1415.24h-4.2M1356.40,1458.32h4.2M1375.90,1458.32h-4.2M1356.40,1501.40h4.2M1375.90,1501.40h-4.2" stroke="#151515" stroke-width="1.25" fill="none"/>
<text transform="translate(1356.8,1495.8) rotate(-90)" font-family='"Liberation Sans", sans-serif' font-size="10.35" font-weight="bold" fill="#111">Ocean Data View</text>
<text x="1343.3" y="1271.5" text-anchor="end" font-family='"Liberation Sans", sans-serif' font-size="23.1" fill="#000">DIP (μmol L<tspan dy="-8.5" font-size="14.5">-1</tspan><tspan dy="8.5">)</tspan></text>
<text x="717.4" y="1272.6" font-family='"Liberation Sans", sans-serif' font-size="31" font-weight="bold" fill="#000">L</text>
<!-- panel M -->
<g transform="translate(792.70,1592.00) scale(0.99764,0.99861)">
<g clip-path="url(#clipP)">
<g filter="url(#fld)">
<rect x="-39.69" y="0" width="20.30" height="215.7" fill="url(#gM0)"/>
<rect x="-20.00" y="0" width="20.30" height="215.7" fill="url(#gM1)"/>
<rect x="-0.30" y="0" width="20.30" height="215.7" fill="url(#gM2)"/>
<rect x="19.40" y="0" width="20.30" height="215.7" fill="url(#gM3)"/>
<rect x="39.09" y="0" width="20.30" height="215.7" fill="url(#gM4)"/>
<rect x="58.79" y="0" width="20.30" height="215.7" fill="url(#gM5)"/>
<rect x="78.49" y="0" width="20.30" height="215.7" fill="url(#gM6)"/>
<rect x="98.18" y="0" width="20.30" height="215.7" fill="url(#gM7)"/>
<rect x="117.88" y="0" width="20.30" height="215.7" fill="url(#gM8)"/>
<rect x="137.57" y="0" width="20.30" height="215.7" fill="url(#gM9)"/>
<rect x="157.27" y="0" width="20.30" height="215.7" fill="url(#gM10)"/>
<rect x="176.97" y="0" width="20.30" height="215.7" fill="url(#gM11)"/>
<rect x="196.66" y="0" width="20.30" height="215.7" fill="url(#gM12)"/>
<rect x="216.36" y="0" width="20.30" height="215.7" fill="url(#gM13)"/>
<rect x="236.06" y="0" width="20.30" height="215.7" fill="url(#gM14)"/>
<rect x="255.75" y="0" width="20.30" height="215.7" fill="url(#gM15)"/>
<rect x="275.45" y="0" width="20.30" height="215.7" fill="url(#gM16)"/>
<rect x="295.15" y="0" width="20.30" height="215.7" fill="url(#gM17)"/>
<rect x="314.84" y="0" width="20.30" height="215.7" fill="url(#gM18)"/>
<rect x="334.54" y="0" width="20.30" height="215.7" fill="url(#gM19)"/>
<rect x="354.24" y="0" width="20.30" height="215.7" fill="url(#gM20)"/>
<rect x="373.93" y="0" width="20.30" height="215.7" fill="url(#gM21)"/>
<rect x="393.63" y="0" width="20.30" height="215.7" fill="url(#gM22)"/>
<rect x="413.33" y="0" width="20.30" height="215.7" fill="url(#gM23)"/>
<rect x="433.02" y="0" width="20.30" height="215.7" fill="url(#gM24)"/>
<rect x="452.72" y="0" width="20.30" height="215.7" fill="url(#gM25)"/>
<rect x="472.41" y="0" width="20.30" height="215.7" fill="url(#gM26)"/>
<rect x="492.11" y="0" width="20.30" height="215.7" fill="url(#gM27)"/>
<rect x="511.81" y="0" width="20.30" height="215.7" fill="url(#gM28)"/>
<rect x="531.50" y="0" width="20.30" height="215.7" fill="url(#gM29)"/>
<rect x="551.20" y="0" width="20.30" height="215.7" fill="url(#gM30)"/>
<rect x="570.90" y="0" width="20.30" height="215.7" fill="url(#gM31)"/>
</g>
<g fill="none" stroke="#2e2e2e" stroke-width="0.75">
<path d="M1.0,25.3C6.1,24.9 21.2,23.9 31.6,23.2C42.0,22.5 53.7,21.9 63.2,21.0C72.7,20.1 80.7,18.9 88.4,17.9C96.1,16.8 106.0,15.2 109.5,14.7"/>
<path d="M141.0,14.3C143.5,14.7 150.5,16.4 155.8,16.4C161.1,16.4 167.3,14.9 172.6,14.3C177.9,13.7 184.1,13.8 187.4,13.0C190.7,12.2 191.4,11.5 192.6,9.5C193.8,7.5 194.3,2.4 194.7,1.0"/>
<path d="M1.0,50.1C4.3,49.3 14.1,46.8 21.0,45.3C27.9,43.8 35.4,42.1 42.1,41.0C48.8,39.9 57.9,38.9 61.0,38.5"/>
<path d="M78.9,37.5C82.6,37.1 93.1,36.0 101.0,35.4C108.9,34.8 117.9,33.6 126.3,33.7C134.7,33.8 142.8,36.2 151.6,36.2C160.4,36.2 169.8,34.4 178.9,33.7C188.0,33.0 197.2,32.4 206.3,32.0C215.4,31.6 228.1,32.3 233.7,31.2C239.3,30.1 237.6,27.7 240.0,25.3C242.4,22.9 246.7,19.6 248.4,16.8C250.2,14.0 250.5,11.0 250.5,8.4C250.5,5.8 248.8,2.2 248.4,1.0"/>
<path d="M27.4,63.2C30.9,62.0 41.0,57.7 48.4,55.8C55.8,53.9 63.9,52.2 71.6,51.6C79.3,51.0 87.0,51.5 94.7,52.2C102.4,52.9 110.5,54.3 117.9,55.8C125.3,57.3 132.8,59.4 138.9,61.0C145.0,62.6 150.1,65.5 154.7,65.7C159.3,65.9 161.6,64.1 166.3,62.1C171.1,60.1 177.2,56.0 183.2,53.7C189.2,51.4 195.4,49.2 202.1,48.4C208.8,47.6 216.9,49.0 223.2,48.8C229.5,48.6 235.1,48.7 240.0,47.4C244.9,46.1 249.6,43.6 252.6,41.0C255.6,38.4 256.7,35.3 257.9,31.6C259.1,27.9 259.1,24.0 260.0,18.9C260.9,13.8 262.7,4.0 263.2,1.0"/>
<path d="M1.0,194.7C4.3,192.8 14.1,187.6 21.0,183.2C27.9,178.8 35.1,174.0 42.1,168.4C49.1,162.8 56.9,155.5 63.2,149.5C69.5,143.5 74.8,137.9 80.0,132.6C85.2,127.3 89.8,122.6 94.7,117.9C99.6,113.2 104.8,108.1 109.5,104.2C114.2,100.3 120.9,96.3 123.2,94.7"/>
<path d="M146.3,81.1C147.7,80.7 151.7,78.6 154.7,78.9C157.7,79.2 161.2,81.1 164.2,83.2C167.2,85.3 169.8,89.5 172.6,91.6C175.4,93.7 178.2,95.6 181.0,95.8C183.8,96.0 187.0,94.9 189.5,92.6C192.0,90.3 193.7,85.6 195.8,82.1C197.9,78.6 199.3,74.4 202.1,71.6C204.9,68.8 208.4,67.1 212.6,65.3C216.8,63.5 223.3,62.4 227.4,61.0C231.5,59.6 233.9,58.3 237.3,57.0C240.7,55.7 244.3,55.0 247.8,53.3C251.3,51.6 254.9,49.5 258.4,47.0C261.9,44.5 266.1,41.3 268.9,38.5C271.7,35.7 273.8,33.1 275.2,30.1C276.6,27.1 276.6,23.7 277.3,20.7C278.0,17.7 278.2,14.5 279.4,12.2C280.6,9.9 282.4,8.1 284.7,7.0C287.0,5.9 290.5,5.1 293.1,5.4C295.7,5.8 298.4,7.3 300.5,9.1C302.6,10.9 303.9,13.9 305.7,16.4C307.4,18.8 308.7,21.4 311.0,23.8C313.3,26.2 316.2,28.9 319.4,30.6C322.5,32.3 326.4,33.7 329.9,34.1C333.4,34.5 337.0,34.3 340.5,33.3C344.0,32.3 348.2,30.1 351.0,28.0C353.8,25.9 355.9,23.5 357.3,20.7C358.7,17.9 359.2,14.4 359.4,11.2C359.6,7.9 358.6,2.9 358.4,1.2"/>
<path d="M168.4,133.7C170.5,133.2 176.8,132.4 181.0,130.5C185.2,128.6 190.2,126.3 193.7,122.1C197.2,117.9 199.6,111.6 202.1,105.3C204.6,99.0 205.9,89.5 208.4,84.2C210.9,78.9 213.7,76.2 216.8,73.7C219.9,71.2 223.6,70.7 227.0,69.0C230.4,67.3 233.8,65.0 237.3,63.8C240.8,62.6 244.3,62.8 247.8,61.7C251.3,60.6 254.9,58.8 258.4,57.0C261.9,55.2 265.4,52.9 268.9,51.2C272.4,49.5 275.9,47.9 279.4,47.0C282.9,46.1 286.4,45.6 289.9,45.7C293.4,45.8 297.3,46.4 300.5,47.5C303.7,48.6 306.6,50.2 308.9,52.2C311.2,54.2 312.5,56.8 314.1,59.6C315.7,62.4 317.0,65.9 318.4,69.1C319.8,72.2 321.0,75.9 322.6,78.5C324.2,81.1 326.1,83.5 327.8,84.9C329.6,86.3 331.3,87.0 333.1,87.0C334.9,87.0 336.6,86.5 338.4,84.9C340.1,83.3 342.0,80.3 343.6,77.5C345.2,74.7 346.4,71.2 347.8,68.0C349.2,64.8 350.2,61.5 352.0,58.5C353.8,55.5 355.8,52.6 358.4,50.1C361.0,47.6 364.5,45.5 367.8,43.8C371.1,42.1 375.1,41.1 378.4,40.1C381.6,39.1 382.8,39.4 387.3,38.0C391.8,36.6 401.2,33.9 405.3,31.6C409.4,29.3 411.2,26.7 411.6,24.2C412.0,21.7 410.2,18.6 407.4,16.8C404.6,15.1 398.5,14.2 394.7,13.7C390.9,13.2 387.4,14.2 384.7,13.8C382.0,13.4 379.8,12.3 378.4,11.2C377.0,10.1 376.2,8.6 376.2,7.0C376.2,5.4 378.0,2.6 378.4,1.7"/>
<path d="M173.7,155.8C175.6,155.1 181.3,153.3 185.3,151.6C189.3,149.8 194.4,148.5 197.9,145.3C201.4,142.1 204.2,137.9 206.3,132.6C208.4,127.3 209.1,120.0 210.5,113.7C211.9,107.4 212.9,99.6 214.7,94.7C216.4,89.8 219.9,86.0 221.0,84.2"/>
<path d="M239.4,72.2C241.2,71.8 246.4,71.1 249.9,70.1C253.4,69.0 257.0,67.4 260.5,65.9C264.0,64.4 267.5,62.5 271.0,61.2C274.5,59.9 278.4,58.6 281.5,58.0C284.6,57.4 287.1,57.1 289.9,57.5C292.7,57.9 295.8,58.5 298.4,60.1C301.0,61.7 303.6,64.3 305.7,67.0C307.8,69.7 309.2,73.1 311.0,76.4C312.8,79.7 314.4,83.7 316.2,87.0C317.9,90.3 319.6,93.6 321.5,96.4C323.4,99.2 325.7,102.1 327.8,103.8C329.9,105.5 332.0,106.3 334.1,106.4C336.2,106.5 338.6,106.0 340.5,104.3C342.4,102.6 344.1,99.5 345.7,96.4C347.3,93.3 348.5,89.4 349.9,85.9C351.3,82.4 352.5,78.6 354.1,75.4C355.7,72.2 357.1,69.6 359.4,67.0C361.7,64.4 364.8,61.7 367.8,59.6C370.8,57.5 374.1,55.7 377.3,54.3C380.6,52.9 382.3,52.4 387.3,51.2C392.3,50.1 400.5,48.0 407.4,47.4C414.2,46.8 422.1,46.5 428.4,47.4C434.7,48.3 439.7,49.6 445.3,52.6C450.9,55.6 456.9,60.7 462.1,65.3C467.4,69.9 471.9,76.0 476.8,80.0C481.7,84.0 485.6,87.4 491.6,89.5C497.6,91.6 505.6,92.4 512.6,92.6C519.6,92.8 527.2,91.2 533.7,90.5C540.2,89.8 548.5,88.8 551.5,88.4"/>
<path d="M200.0,180.0C201.1,181.2 205.1,184.8 206.3,187.4C207.5,190.0 207.4,193.2 207.4,195.8C207.4,198.4 206.5,202.0 206.3,203.2"/>
<path d="M251.6,190.5C250.0,189.8 245.4,188.2 242.1,186.3C238.8,184.4 234.2,181.9 231.6,178.9C229.0,175.9 227.5,173.7 226.3,168.4C225.1,163.2 224.5,154.4 224.2,147.4C223.8,140.4 223.8,133.3 224.2,126.3C224.5,119.3 225.1,111.3 226.3,105.3C227.5,99.3 229.8,94.1 231.6,90.5C233.4,86.9 234.6,85.3 237.3,83.8C240.0,82.3 244.3,82.6 247.8,81.7C251.3,80.8 254.9,79.9 258.4,78.5C261.9,77.1 265.4,74.7 268.9,73.3C272.4,71.9 276.2,70.6 279.4,70.3C282.5,70.0 285.0,70.3 287.8,71.2C290.6,72.1 293.7,73.3 296.2,75.4C298.7,77.5 300.7,80.7 302.6,83.8C304.5,86.9 306.1,90.6 307.8,94.3C309.6,98.0 311.3,102.4 313.1,105.9C314.9,109.4 316.9,112.6 318.4,115.4C319.9,118.2 320.6,120.6 322.0,123.0C323.4,125.4 325.2,128.3 327.0,130.0C328.8,131.7 331.0,133.0 333.0,133.0C335.0,133.0 337.2,131.5 339.0,130.0C340.8,128.5 342.5,125.7 344.0,124.0C345.5,122.3 346.6,121.9 347.8,119.6C349.0,117.3 349.8,113.6 351.0,110.1C352.2,106.6 353.6,102.3 355.2,98.5C356.8,94.7 358.6,90.5 360.5,87.0C362.4,83.5 364.4,80.1 366.8,77.5C369.2,74.9 371.8,73.0 375.2,71.2C378.6,69.5 381.9,68.3 387.3,67.0C392.7,65.7 400.5,63.5 407.4,63.2C414.2,62.9 422.1,63.2 428.4,65.3C434.7,67.4 440.0,71.2 445.3,75.8C450.6,80.3 455.1,87.0 460.0,92.6C464.9,98.2 469.4,104.9 474.7,109.5C480.0,114.1 486.0,117.9 491.6,120.0C497.2,122.1 502.8,123.0 508.4,122.1C514.0,121.2 522.5,115.9 525.3,114.7"/>
<path d="M276.8,91.2C274.5,93.5 266.9,100.5 263.2,105.3C259.5,110.1 255.9,115.1 254.7,120.0C253.5,124.9 254.6,130.1 255.8,134.7C257.0,139.3 259.7,143.9 262.1,147.4C264.6,150.9 269.1,154.4 270.5,155.8"/>
<path d="M296.8,89.1C297.6,90.3 300.3,93.0 301.5,96.4C302.7,99.8 303.6,104.5 304.2,109.5C304.8,114.5 305.5,121.4 305.3,126.3C305.1,131.2 303.6,136.8 303.2,138.9"/>
<path d="M319.4,9.6C319.6,10.2 319.4,12.1 320.5,13.3C321.6,14.5 323.8,16.2 325.7,17.0C327.6,17.8 329.9,18.1 332.0,18.0C334.1,17.9 336.5,17.3 338.4,16.4C340.2,15.5 342.2,14.0 343.1,12.8C344.0,11.6 344.0,10.2 343.6,9.1C343.2,7.9 341.4,6.4 341.0,5.9"/>
<path d="M361.0,200.0C360.5,196.5 358.4,187.7 357.9,178.9C357.4,170.1 357.4,156.9 357.9,147.4C358.4,137.9 359.1,130.2 361.0,122.1C362.9,114.0 366.3,105.2 369.5,98.9C372.7,92.6 375.4,88.2 380.0,84.2C384.6,80.2 390.8,76.1 396.8,74.7C402.8,73.3 409.8,74.2 415.8,75.8C421.8,77.4 427.7,80.0 432.6,84.2C437.5,88.4 441.4,94.7 445.3,101.0C449.2,107.3 452.3,115.1 455.8,122.1C459.3,129.1 462.8,136.9 466.3,143.2C469.8,149.5 473.6,155.8 476.8,160.0C480.0,164.2 483.9,167.0 485.3,168.4"/>
<path d="M407.4,101.0C408.6,103.1 413.5,109.1 414.7,113.7C415.9,118.3 415.6,124.2 414.7,128.4C413.8,132.6 412.1,136.4 409.5,138.9C406.9,141.4 402.4,143.2 398.9,143.2C395.4,143.2 391.4,141.7 388.4,138.9C385.4,136.1 382.4,130.8 381.0,126.3C379.6,121.8 379.5,115.8 380.0,111.6C380.5,107.4 383.5,102.8 384.2,101.0"/>
<path d="M491.6,1.0C491.2,2.9 491.3,8.9 489.5,12.6C487.7,16.3 483.5,19.3 481.0,23.2C478.5,27.1 475.8,31.6 474.7,35.8C473.6,40.0 474.0,44.2 474.7,48.4C475.4,52.6 478.2,58.9 478.9,61.0"/>
<path d="M508.4,74.7C512.6,75.0 526.5,76.1 533.7,76.2C540.9,76.3 548.5,75.5 551.5,75.4"/>
<path d="M453.7,11.6C454.6,12.1 457.0,14.1 458.9,14.3C460.8,14.5 464.2,13.2 465.3,13.0"/>
<path d="M511.6,1.0C510.7,4.0 508.6,13.1 506.3,18.9C504.0,24.7 499.5,30.9 497.9,35.8C496.3,40.7 495.8,44.7 496.8,48.4C497.9,52.1 500.5,55.3 504.2,57.9C507.9,60.5 513.6,62.8 518.9,64.2C524.2,65.6 533.0,66.0 535.8,66.3"/>
<path d="M551.5,5.3 L542.1,8.4"/>
<path d="M526.3,31.6C525.6,33.2 522.1,38.0 522.1,41.0C522.1,44.0 523.7,47.6 526.3,49.5C528.9,51.4 533.7,52.4 537.9,52.6C542.1,52.8 549.2,50.9 551.5,50.5"/>
</g>
<g font-family='"Liberation Sans", sans-serif' font-size="12.3" font-weight="bold" fill="#111" text-anchor="middle">
<text transform="translate(126.3,13.0) rotate(0)" y="4.3">2.5</text>
<text transform="translate(70.5,38.3) rotate(0)" y="4.3">5</text>
<text transform="translate(13.0,70.5) rotate(-20)" y="4.3">7.5</text>
<text transform="translate(134.7,86.3) rotate(-35)" y="4.3">10</text>
<text transform="translate(228.4,77.5) rotate(-40)" y="4.3">15</text>
<text transform="translate(188.4,176.4) rotate(0)" y="4.3">17.5</text>
<text transform="translate(286.6,84.9) rotate(0)" y="4.3">20</text>
<text transform="translate(331.3,2.2) rotate(0)" y="4.3">7.5</text>
<text transform="translate(539.0,110.5) rotate(5)" y="4.3">17.5</text>
<text transform="translate(490.5,176.8) rotate(45)" y="4.3">20</text>
<text transform="translate(395.8,94.3) rotate(5)" y="4.3">22.5</text>
<text transform="translate(490.5,69.5) rotate(25)" y="4.3" font-style="italic">12.5</text>
<text transform="translate(463.2,8.0) rotate(5)" y="4.3">15</text>
<text transform="translate(547.4,66.3) rotate(0)" y="4.3">10</text>
<text transform="translate(535.8,17.9) rotate(-80)" y="4.3">7.5</text>
</g>
<polygon points="0.0,214.5 9.1,214.5 78.6,176.5 155.4,95.9 184.9,193.1 239.6,215.7 293.2,112.8 330.3,206.1 387.5,198.1 464.4,215.7 538.7,135.3 551.5,135.3 551.5,216.2 0.0,216.2" fill="#363636"/>
<g fill="#3a3a3a">
<circle cx="9.1" cy="11.5" r="1.9"/>
<circle cx="78.6" cy="11.5" r="1.9"/>
<circle cx="78.6" cy="90.6" r="1.9"/>
<circle cx="155.4" cy="11.5" r="1.9"/>
<circle cx="155.4" cy="58.2" r="1.9"/>
<circle cx="155.4" cy="87.0" r="1.9"/>
<circle cx="184.9" cy="11.5" r="1.9"/>
<circle cx="184.9" cy="83.4" r="1.9"/>
<circle cx="184.9" cy="184.0" r="1.9"/>
<circle cx="239.6" cy="11.5" r="1.9"/>
<circle cx="239.6" cy="40.2" r="1.9"/>
<circle cx="239.6" cy="97.8" r="1.9"/>
<circle cx="239.6" cy="212.8" r="1.9"/>
<circle cx="293.2" cy="11.5" r="1.9"/>
<circle cx="293.2" cy="18.7" r="1.9"/>
<circle cx="293.2" cy="101.4" r="1.9"/>
<circle cx="330.3" cy="11.5" r="1.9"/>
<circle cx="330.3" cy="72.6" r="1.9"/>
<circle cx="330.3" cy="198.4" r="1.9"/>
<circle cx="387.5" cy="11.5" r="1.9"/>
<circle cx="387.5" cy="18.7" r="1.9"/>
<circle cx="387.5" cy="108.5" r="1.9"/>
<circle cx="387.5" cy="191.2" r="1.9"/>
<circle cx="464.4" cy="11.5" r="1.9"/>
<circle cx="464.4" cy="209.2" r="1.9"/>
<circle cx="538.7" cy="11.5" r="1.9"/>
<circle cx="538.7" cy="43.8" r="1.9"/>
<circle cx="538.7" cy="126.5" r="1.9"/>
</g>
</g>
</g>
<rect x="792.70" y="1592.00" width="550.20" height="215.40" fill="none" stroke="#3a3a3a" stroke-width="1.2"/>
<path d="M787.90,1592.00h4.8M789.90,1627.90h2.8M787.90,1663.80h4.8M789.90,1699.70h2.8M787.90,1735.60h4.8M789.90,1771.50h2.8M787.90,1807.40h4.8M828.69,1807.40v4.8M880.11,1807.40v2.8M931.54,1807.40v4.8M982.96,1807.40v2.8M1034.38,1807.40v4.8M1085.80,1807.40v2.8M1137.22,1807.40v4.8M1188.64,1807.40v2.8M1240.06,1807.40v4.8M1291.48,1807.40v2.8M1342.90,1807.40v4.8" stroke="#3a3a3a" stroke-width="1.1" fill="none"/>
<g font-family='"Liberation Sans", sans-serif' font-size="17.7" font-weight="bold" fill="#000">
<text x="783.0" y="1598.4" text-anchor="end">0</text>
<text x="783.0" y="1670.2" text-anchor="end">20</text>
<text x="783.0" y="1742.0" text-anchor="end">40</text>
<text x="783.0" y="1813.8" text-anchor="end">60</text>
<text x="828.7" y="1833.2" text-anchor="middle">27°N</text>
<text x="931.5" y="1833.2" text-anchor="middle">28°N</text>
<text x="1034.4" y="1833.2" text-anchor="middle">29°N</text>
<text x="1137.2" y="1833.2" text-anchor="middle">30°N</text>
<text x="1240.1" y="1833.2" text-anchor="middle">31°N</text>
<text x="1342.9" y="1833.2" text-anchor="middle">32°N</text>
</g>
<text transform="translate(746.7,1699.2) rotate(-90)" text-anchor="middle" font-family='"Liberation Sans", sans-serif' font-size="23.2">Depth (m)</text>
<path d="M1356.40,1592.30 L1366.15,1589.00 L1375.90,1592.30 L1375.90,1807.20 L1366.15,1810.60 L1356.40,1807.20 Z" fill="url(#cbg)" stroke="#000" stroke-opacity="0.32" stroke-width="0.9"/>
<g font-family='"Liberation Sans", sans-serif' font-size="16.8" font-weight="bold" fill="#000">
<text x="1381.1" y="1617.6">25</text>
<text x="1381.1" y="1656.8">20</text>
<text x="1381.1" y="1696.0">15</text>
<text x="1381.1" y="1735.1">10</text>
<text x="1381.1" y="1774.3">5</text>
<text x="1381.1" y="1813.4">0</text>
</g>
<path d="M1356.40,1611.58h4.2M1375.90,1611.58h-4.2M1356.40,1650.75h4.2M1375.90,1650.75h-4.2M1356.40,1689.91h4.2M1375.90,1689.91h-4.2M1356.40,1729.07h4.2M1375.90,1729.07h-4.2M1356.40,1768.24h4.2M1375.90,1768.24h-4.2M1356.40,1807.40h4.2M1375.90,1807.40h-4.2" stroke="#151515" stroke-width="1.25" fill="none"/>
<text transform="translate(1356.8,1801.8) rotate(-90)" font-family='"Liberation Sans", sans-serif' font-size="10.35" font-weight="bold" fill="#111">Ocean Data View</text>
<text x="1345.0" y="1578.1" text-anchor="end" font-family='"Liberation Sans", sans-serif' font-size="23.0" fill="#000">DSi (μmol L<tspan dy="-8.5" font-size="14.5">-1</tspan><tspan dy="8.5">)</tspan></text>
<text x="717.0" y="1578.8" font-family='"Liberation Sans", sans-serif' font-size="31" font-weight="bold" fill="#000">M</text>
<!-- panel N -->
<g transform="translate(789.40,1884.80) scale(1.00199,1.00510)">
<g clip-path="url(#clipP)">
<g filter="url(#fld)">
<rect x="-39.69" y="0" width="20.30" height="215.7" fill="url(#gN0)"/>
<rect x="-20.00" y="0" width="20.30" height="215.7" fill="url(#gN1)"/>
<rect x="-0.30" y="0" width="20.30" height="215.7" fill="url(#gN2)"/>
<rect x="19.40" y="0" width="20.30" height="215.7" fill="url(#gN3)"/>
<rect x="39.09" y="0" width="20.30" height="215.7" fill="url(#gN4)"/>
<rect x="58.79" y="0" width="20.30" height="215.7" fill="url(#gN5)"/>
<rect x="78.49" y="0" width="20.30" height="215.7" fill="url(#gN6)"/>
<rect x="98.18" y="0" width="20.30" height="215.7" fill="url(#gN7)"/>
<rect x="117.88" y="0" width="20.30" height="215.7" fill="url(#gN8)"/>
<rect x="137.57" y="0" width="20.30" height="215.7" fill="url(#gN9)"/>
<rect x="157.27" y="0" width="20.30" height="215.7" fill="url(#gN10)"/>
<rect x="176.97" y="0" width="20.30" height="215.7" fill="url(#gN11)"/>
<rect x="196.66" y="0" width="20.30" height="215.7" fill="url(#gN12)"/>
<rect x="216.36" y="0" width="20.30" height="215.7" fill="url(#gN13)"/>
<rect x="236.06" y="0" width="20.30" height="215.7" fill="url(#gN14)"/>
<rect x="255.75" y="0" width="20.30" height="215.7" fill="url(#gN15)"/>
<rect x="275.45" y="0" width="20.30" height="215.7" fill="url(#gN16)"/>
<rect x="295.15" y="0" width="20.30" height="215.7" fill="url(#gN17)"/>
<rect x="314.84" y="0" width="20.30" height="215.7" fill="url(#gN18)"/>
<rect x="334.54" y="0" width="20.30" height="215.7" fill="url(#gN19)"/>
<rect x="354.24" y="0" width="20.30" height="215.7" fill="url(#gN20)"/>
<rect x="373.93" y="0" width="20.30" height="215.7" fill="url(#gN21)"/>
<rect x="393.63" y="0" width="20.30" height="215.7" fill="url(#gN22)"/>
<rect x="413.33" y="0" width="20.30" height="215.7" fill="url(#gN23)"/>
<rect x="433.02" y="0" width="20.30" height="215.7" fill="url(#gN24)"/>
<rect x="452.72" y="0" width="20.30" height="215.7" fill="url(#gN25)"/>
<rect x="472.41" y="0" width="20.30" height="215.7" fill="url(#gN26)"/>
<rect x="492.11" y="0" width="20.30" height="215.7" fill="url(#gN27)"/>
<rect x="511.81" y="0" width="20.30" height="215.7" fill="url(#gN28)"/>
<rect x="531.50" y="0" width="20.30" height="215.7" fill="url(#gN29)"/>
<rect x="551.20" y="0" width="20.30" height="215.7" fill="url(#gN30)"/>
<rect x="570.90" y="0" width="20.30" height="215.7" fill="url(#gN31)"/>
</g>
<g fill="none" stroke="#2e2e2e" stroke-width="0.75">
<path d="M196.4,54.9C200.4,56.3 202.7,60.1 204.8,64.9C206.9,69.7 208.7,77.2 209.0,83.8C209.3,90.4 208.5,98.8 206.9,104.7C205.3,110.6 202.6,115.9 199.6,119.4C196.6,122.9 192.6,125.4 189.1,125.7C185.6,126.0 181.5,124.7 178.6,121.5C175.7,118.3 173.2,112.7 171.8,106.8C170.4,100.9 169.9,92.5 170.2,85.9C170.4,79.3 171.6,71.9 173.3,67.0C175.1,62.1 176.8,58.6 180.7,56.6C184.5,54.6 192.4,53.5 196.4,54.9Z"/>
<path d="M286.4,1.0C285.5,2.2 282.1,6.0 281.2,8.4C280.3,10.8 281.2,14.5 281.2,15.7"/>
<path d="M293.8,26.2C295.7,26.6 300.9,26.9 305.3,28.3C309.7,29.7 315.1,32.2 320.0,34.6C324.9,37.0 329.8,39.9 334.7,42.9C339.6,45.9 344.5,49.4 349.4,52.4C354.3,55.4 358.9,58.3 364.1,60.7C369.4,63.1 375.3,65.1 380.9,67.0C386.5,68.9 392.2,69.8 397.8,72.3C403.4,74.8 409.4,78.4 414.6,81.7C419.9,85.0 424.4,88.7 429.3,92.2C434.2,95.7 438.8,99.5 444.0,102.6C449.2,105.7 454.9,109.0 460.8,111.0C466.8,113.0 473.4,114.8 479.7,114.8C486.0,114.8 492.7,112.7 498.6,111.0C504.6,109.3 509.8,106.6 515.4,104.7C521.0,102.8 526.2,100.5 532.2,99.5C538.2,98.5 548.3,98.6 551.5,98.4"/>
<path d="M315.8,9.4C316.3,10.0 317.2,12.3 319.0,13.0C320.8,13.7 324.2,14.0 326.3,13.6C328.4,13.2 330.7,11.0 331.6,10.5"/>
<path d="M348.4,1.0C347.9,3.3 345.4,10.3 345.2,14.7C345.0,19.1 345.2,23.0 347.3,27.2C349.4,31.4 352.9,35.9 357.8,39.8C362.7,43.6 370.0,47.3 376.7,50.3C383.4,53.3 390.8,55.5 397.8,57.6C404.8,59.7 411.8,60.9 418.8,62.8C425.8,64.7 433.2,66.8 439.8,69.1C446.4,71.4 453.4,74.8 458.7,76.5C463.9,78.2 469.2,78.8 471.3,79.2"/>
<path d="M493.3,80.0C496.3,79.9 504.7,79.5 511.2,79.2C517.7,79.0 525.5,78.7 532.2,78.5C538.9,78.3 548.3,78.0 551.5,77.9"/>
<path d="M362.0,1.0C361.5,2.6 359.6,7.5 358.9,10.5C358.2,13.5 358.0,17.5 357.8,18.9"/>
<path d="M368.3,35.6C371.1,36.8 378.9,40.8 385.2,42.9C391.5,45.0 398.5,46.8 406.2,48.2C413.9,49.6 422.6,50.3 431.4,51.3C440.1,52.3 449.6,53.3 458.7,54.0C467.8,54.7 477.2,54.9 486.0,55.5C494.8,56.1 503.5,56.8 511.2,57.6C518.9,58.4 525.5,59.9 532.2,60.3C538.9,60.6 548.3,59.8 551.5,59.7"/>
<path d="M409.3,34.6C406.0,33.9 395.0,32.1 389.4,30.4C383.8,28.6 378.7,26.4 375.7,24.1C372.7,21.8 371.3,19.2 371.5,16.8C371.7,14.4 373.7,11.7 376.7,9.4C379.7,7.1 385.9,4.5 389.4,3.1C392.9,1.7 396.4,1.4 397.8,1.0"/>
<path d="M431.4,35.2C434.2,34.9 442.2,34.5 448.2,33.5C454.1,32.5 461.9,31.1 467.1,29.3C472.4,27.6 476.6,25.4 479.7,23.0C482.8,20.6 484.9,17.5 486.0,14.7C487.1,11.9 486.5,8.6 486.0,6.3C485.5,4.0 483.3,1.9 482.8,1.0"/>
<path d="M502.8,1.0C503.0,2.9 502.8,9.1 503.8,12.6C504.9,16.1 506.1,19.6 509.1,22.0C512.1,24.4 517.5,26.1 521.7,27.2C525.9,28.3 532.2,28.6 534.3,28.9"/>
<path d="M520.6,10.5C521.5,11.4 523.3,14.4 525.9,15.7C528.5,17.0 532.1,17.9 536.4,18.4C540.7,18.9 549.0,18.8 551.5,18.9"/>
</g>
<g font-family='"Liberation Sans", sans-serif' font-size="10.8" font-weight="bold" fill="#111" text-anchor="middle">
<text transform="translate(188.4,52.4) rotate(0)" y="4.3">5</text>
<text transform="translate(287.0,22.0) rotate(50)" y="4.3">5</text>
<text transform="translate(323.2,6.3) rotate(0)" y="4.3">5</text>
<text transform="translate(482.2,80.0) rotate(0)" y="4.3">10</text>
<text transform="translate(361.4,28.3) rotate(50)" y="4.3">15</text>
<text transform="translate(420.9,35.6) rotate(0)" y="4.3">20</text>
<text transform="translate(548.0,28.3) rotate(0)" y="4.3">15</text>
<text transform="translate(522.7,3.0) rotate(-60)" y="4.3">10</text>
</g>
<polygon points="0.0,214.5 9.1,214.5 78.6,176.5 155.4,95.9 184.9,193.1 239.6,215.7 293.2,112.8 330.3,206.1 387.5,198.1 464.4,215.7 538.7,135.3 551.5,135.3 551.5,216.2 0.0,216.2" fill="#363636"/>
<g fill="#3a3a3a">
<circle cx="9.1" cy="11.5" r="1.9"/>
<circle cx="78.6" cy="11.5" r="1.9"/>
<circle cx="78.6" cy="90.6" r="1.9"/>
<circle cx="155.4" cy="11.5" r="1.9"/>
<circle cx="155.4" cy="58.2" r="1.9"/>
<circle cx="155.4" cy="87.0" r="1.9"/>
<circle cx="184.9" cy="11.5" r="1.9"/>
<circle cx="184.9" cy="83.4" r="1.9"/>
<circle cx="184.9" cy="184.0" r="1.9"/>
<circle cx="239.6" cy="11.5" r="1.9"/>
<circle cx="239.6" cy="40.2" r="1.9"/>
<circle cx="239.6" cy="97.8" r="1.9"/>
<circle cx="239.6" cy="212.8" r="1.9"/>
<circle cx="293.2" cy="11.5" r="1.9"/>
<circle cx="293.2" cy="18.7" r="1.9"/>
<circle cx="293.2" cy="101.4" r="1.9"/>
<circle cx="330.3" cy="11.5" r="1.9"/>
<circle cx="330.3" cy="72.6" r="1.9"/>
<circle cx="330.3" cy="198.4" r="1.9"/>
<circle cx="387.5" cy="11.5" r="1.9"/>
<circle cx="387.5" cy="18.7" r="1.9"/>
<circle cx="387.5" cy="108.5" r="1.9"/>
<circle cx="387.5" cy="191.2" r="1.9"/>
<circle cx="464.4" cy="11.5" r="1.9"/>
<circle cx="464.4" cy="209.2" r="1.9"/>
<circle cx="538.7" cy="11.5" r="1.9"/>
<circle cx="538.7" cy="43.8" r="1.9"/>
<circle cx="538.7" cy="126.5" r="1.9"/>
</g>
</g>
</g>
<rect x="789.40" y="1884.80" width="552.60" height="216.80" fill="none" stroke="#3a3a3a" stroke-width="1.2"/>
<path d="M784.60,1884.80h4.8M786.60,1920.93h2.8M784.60,1957.07h4.8M786.60,1993.20h2.8M784.60,2029.33h4.8M786.60,2065.47h2.8M784.60,2101.60h4.8M825.55,2101.60v4.8M877.20,2101.60v2.8M928.84,2101.60v4.8M980.49,2101.60v2.8M1032.13,2101.60v4.8M1083.78,2101.60v2.8M1135.42,2101.60v4.8M1187.07,2101.60v2.8M1238.71,2101.60v4.8M1290.36,2101.60v2.8M1342.00,2101.60v4.8" stroke="#3a3a3a" stroke-width="1.1" fill="none"/>
<g font-family='"Liberation Sans", sans-serif' font-size="14.8" font-weight="bold" fill="#000">
<text x="779.1" y="1890.1" text-anchor="end">0</text>
<text x="779.1" y="1962.4" text-anchor="end">20</text>
<text x="779.1" y="2034.7" text-anchor="end">40</text>
<text x="779.1" y="2106.9" text-anchor="end">60</text>
<text x="825.6" y="2124.8" text-anchor="middle">27°N</text>
<text x="928.8" y="2124.8" text-anchor="middle">28°N</text>
<text x="1032.1" y="2124.8" text-anchor="middle">29°N</text>
<text x="1135.4" y="2124.8" text-anchor="middle">30°N</text>
<text x="1238.7" y="2124.8" text-anchor="middle">31°N</text>
<text x="1342.0" y="2124.8" text-anchor="middle">32°N</text>
</g>
<text transform="translate(755.0,1993.2) rotate(-90)" text-anchor="middle" font-family='"Liberation Sans", sans-serif' font-size="21.8">Depth (m)</text>
<path d="M1355.90,1885.10 L1365.65,1881.80 L1375.40,1885.10 L1375.40,2101.40 L1365.65,2104.80 L1355.90,2101.40 Z" fill="url(#cbg)" stroke="#000" stroke-opacity="0.32" stroke-width="0.9"/>
<g font-family='"Liberation Sans", sans-serif' font-size="14.8" font-weight="bold" fill="#000">
<text x="1380.6" y="1906.8">30</text>
<text x="1380.6" y="1940.2">25</text>
<text x="1380.6" y="1973.5">20</text>
<text x="1380.6" y="2006.9">15</text>
<text x="1380.6" y="2040.2">10</text>
<text x="1380.6" y="2073.6">5</text>
<text x="1380.6" y="2106.9">0</text>
</g>
<path d="M1355.90,1901.48h4.2M1375.40,1901.48h-4.2M1355.90,1934.83h4.2M1375.40,1934.83h-4.2M1355.90,1968.18h4.2M1375.40,1968.18h-4.2M1355.90,2001.54h4.2M1375.40,2001.54h-4.2M1355.90,2034.89h4.2M1375.40,2034.89h-4.2M1355.90,2068.25h4.2M1375.40,2068.25h-4.2M1355.90,2101.60h4.2M1375.40,2101.60h-4.2" stroke="#151515" stroke-width="1.25" fill="none"/>
<text transform="translate(1354.7,2099.2) rotate(-90)" font-family='"Liberation Sans", sans-serif' font-size="10.35" font-weight="bold" fill="#111">Ocean Data View</text>
<text x="1342.0" y="1875.2" text-anchor="end" font-family='"Liberation Sans", sans-serif' font-size="22.1" fill="#000">Chl <tspan font-style="italic">a</tspan> (μg L<tspan dy="-8.5" font-size="14.5">-1</tspan><tspan dy="8.5">)</tspan></text>
<text x="717.0" y="1873.0" font-family='"Liberation Sans", sans-serif' font-size="31" font-weight="bold" fill="#000">N</text>
</svg>
</body></html>
